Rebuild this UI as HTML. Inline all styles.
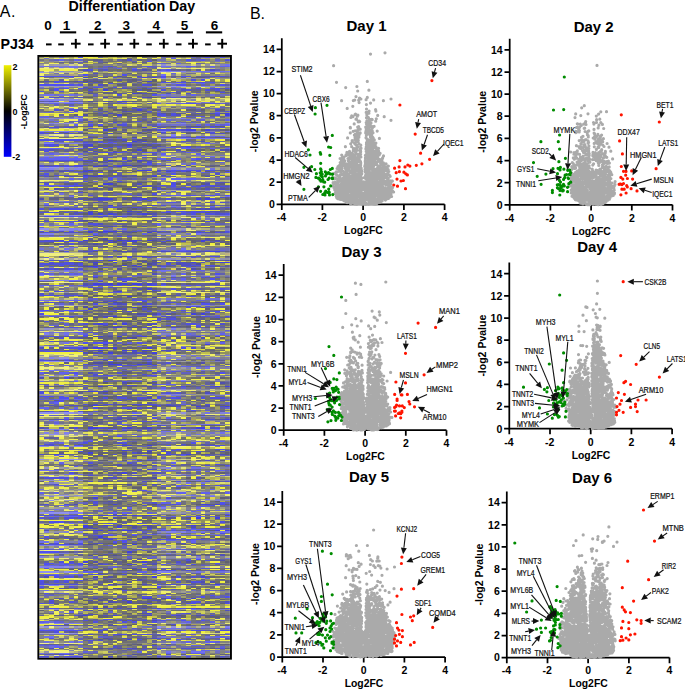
<!DOCTYPE html><html><head><meta charset="utf-8"><style>html,body{margin:0;padding:0;background:#fff;}svg{display:block;}text{font-family:"Liberation Sans",sans-serif;}</style></head><body>
<svg width="685" height="690" viewBox="0 0 685 690">
<rect width="685" height="690" fill="#fff"/>
<text x="-0.2" y="16.9" font-size="16" letter-spacing="0.6" fill="#000">A.</text>
<text x="68.5" y="11.1" font-size="14.25" font-weight="bold" fill="#000">Differentiation Day</text>
<text x="47.9" y="29.8" font-size="13.5" font-weight="bold" text-anchor="middle">0</text>
<text x="66.6" y="29.8" font-size="13.5" font-weight="bold" text-anchor="middle">1</text>
<text x="97.8" y="29.8" font-size="13.5" font-weight="bold" text-anchor="middle">2</text>
<text x="126.2" y="29.8" font-size="13.5" font-weight="bold" text-anchor="middle">3</text>
<text x="156.2" y="29.8" font-size="13.5" font-weight="bold" text-anchor="middle">4</text>
<text x="184.4" y="29.8" font-size="13.5" font-weight="bold" text-anchor="middle">5</text>
<text x="214.4" y="29.8" font-size="13.5" font-weight="bold" text-anchor="middle">6</text>
<rect x="59.9" y="31.3" width="16.3" height="2.1" fill="#000"/>
<rect x="89.1" y="31.3" width="16.3" height="2.1" fill="#000"/>
<rect x="118.3" y="31.3" width="16.3" height="2.1" fill="#000"/>
<rect x="147.5" y="31.3" width="16.3" height="2.1" fill="#000"/>
<rect x="176.7" y="31.3" width="16.3" height="2.1" fill="#000"/>
<rect x="205.9" y="31.3" width="16.3" height="2.1" fill="#000"/>
<text x="0.6" y="49.1" font-size="14.2" font-weight="bold">PJ34</text>
<rect x="46" y="43.4" width="5.6" height="2" fill="#000"/>
<rect x="58.2" y="43.4" width="5.6" height="2" fill="#000"/>
<rect x="71" y="42.7" width="9.6" height="2" fill="#000"/>
<rect x="74.8" y="38.9" width="2" height="9.6" fill="#000"/>
<rect x="88" y="43.4" width="5.6" height="2" fill="#000"/>
<rect x="100.3" y="42.7" width="9.6" height="2" fill="#000"/>
<rect x="104.1" y="38.9" width="2" height="9.6" fill="#000"/>
<rect x="117.3" y="43.4" width="5.6" height="2" fill="#000"/>
<rect x="129.5" y="42.7" width="9.6" height="2" fill="#000"/>
<rect x="133.3" y="38.9" width="2" height="9.6" fill="#000"/>
<rect x="146.2" y="43.4" width="5.6" height="2" fill="#000"/>
<rect x="159" y="42.7" width="9.6" height="2" fill="#000"/>
<rect x="162.8" y="38.9" width="2" height="9.6" fill="#000"/>
<rect x="175.9" y="43.4" width="5.6" height="2" fill="#000"/>
<rect x="188.2" y="42.7" width="9.6" height="2" fill="#000"/>
<rect x="192" y="38.9" width="2" height="9.6" fill="#000"/>
<rect x="205.1" y="43.4" width="5.6" height="2" fill="#000"/>
<rect x="217.4" y="42.7" width="9.6" height="2" fill="#000"/>
<rect x="221.2" y="38.9" width="2" height="9.6" fill="#000"/>
<defs><linearGradient id="cb" x1="0" y1="0" x2="0" y2="1"><stop offset="0" stop-color="#f0f000"/><stop offset="0.5" stop-color="#000"/><stop offset="1" stop-color="#0000ff"/></linearGradient></defs>
<rect x="3.8" y="65.2" width="7.6" height="91.6" fill="url(#cb)"/>
<text x="12.4" y="70.4" font-size="9" font-weight="bold">2</text>
<text x="12.4" y="115.1" font-size="9" font-weight="bold">0</text>
<text x="12.2" y="159.7" font-size="9" font-weight="bold">-2</text>
<text transform="translate(26.9,111.8) rotate(-90)" font-size="8.6" font-weight="bold" text-anchor="middle">-Log2FC</text>
<defs><filter id="hb" x="0" y="0" width="1" height="1"><feGaussianBlur stdDeviation="0.55"/></filter><clipPath id="hc"><rect x="39.3" y="56.9" width="190.6" height="600.8"/></clipPath></defs>
<g clip-path="url(#hc)"><g filter="url(#hb)"><g transform="translate(39.3,57.5) scale(4.8872,1.2517)" fill="none" stroke-width="1" shape-rendering="crispEdges">
<path stroke="#909070" d="M0 0h1M3 0h1M5 0h1M1 2h1M35 2h1M23 3h1M1 4h1M28 4h1M37 5h2M15 11h1M17 12h1M7 18h1M26 18h1M2 20h1M18 23h1M19 30h2M33 31h1M10 33h1M16 33h1M12 34h1M9 36h1M17 36h1M2 38h1M0 40h1M8 40h1M29 40h1M21 44h1M35 44h1M38 44h1M36 47h1M27 48h1M38 48h1M4 51h1M29 51h1M37 52h1M16 53h1M21 53h1M12 57h1M16 57h1M21 57h1M12 59h1M19 59h1M15 62h1M11 65h1M12 69h1M33 73h1M37 73h1M32 76h1M34 76h1M30 77h1M10 78h1M14 79h1M17 79h1M20 79h1M6 80h1M28 80h2M30 81h1M6 83h1M8 84h1M14 84h1M30 84h1M12 85h1M13 88h1M10 89h1M12 89h1M19 92h1M2 93h1M5 93h1M15 97h1M17 98h1M20 98h2M28 102h1M11 106h1M17 106h1M21 109h1M32 109h1M35 109h1M19 111h1M14 115h1M17 115h2M31 116h1M12 117h1M20 117h1M9 119h1M0 120h1M24 120h1M30 120h2M12 126h1M19 126h1M1 132h1M32 133h1M18 134h1M35 134h1M37 134h1M29 142h1M13 143h1M19 143h1M15 144h1M38 144h1M9 150h1M20 150h1M14 152h2M17 152h1M18 153h1M21 153h2M32 153h1M15 157h1M19 157h1M11 158h1M15 158h1M25 160h1M35 160h1M5 163h1M28 163h1M13 171h1M21 171h1M13 172h2M38 173h1M13 174h1M4 176h1M26 177h1M32 177h1M37 177h1M9 178h1M13 178h1M15 178h1M15 180h1M23 184h1M37 184h1M6 185h1M26 186h1M33 186h1M35 186h2M19 188h1M3 191h1M4 195h2M27 195h1M27 197h1M15 198h1M30 202h1M1 203h1M6 204h1M18 206h1M25 212h1M28 212h1M23 218h1M37 218h1M10 219h1M12 219h1M26 225h1M31 225h1M33 225h1M36 225h1M23 228h1M27 230h1M9 231h1M12 237h1M22 237h1M10 239h1M26 245h1M33 246h1M37 247h1M14 248h2M19 249h1M13 250h1M5 251h1M28 252h1M31 252h1M28 253h1M31 254h1M27 257h1M38 257h1M17 258h1M21 258h1M5 261h1M7 261h1M31 261h1M32 262h1M33 264h1M37 264h1M12 265h1M14 265h2M10 269h1M13 270h1M5 271h1M27 271h1M29 272h1M36 276h1M2 277h1M8 277h1M6 280h1M31 280h1M2 281h1M36 281h1M33 282h1M12 287h1M3 288h1M28 288h1M32 288h1M36 288h1M16 290h1M18 290h1M20 290h1M24 292h1M10 299h1M23 299h1M21 301h1M14 302h1M21 303h2M15 306h1M22 307h1M33 308h1M19 311h1M26 313h1M31 318h1M36 318h1M0 319h1M29 320h1M37 324h1M6 325h1M28 325h1M17 328h2M6 329h1M12 330h1M30 331h1M11 333h1M0 337h1M26 337h1M30 343h1M35 343h1M3 344h1M10 345h1M22 346h1M10 347h1M14 347h1M22 350h1M18 353h1M12 354h1M30 356h1M34 356h1M36 359h1M21 360h1M15 361h1M20 361h1M20 362h1M32 363h1M4 365h1M27 365h2M4 369h1M29 371h1M1 376h1M14 379h1M16 379h1M7 380h2M27 382h1M22 386h1M11 387h1M23 387h1M11 390h1M20 390h1M24 393h1M20 394h1M23 394h1M10 396h1M19 399h2M9 400h1M17 400h1M27 404h1M25 406h1M9 407h1M5 412h1M22 416h1M28 420h1M9 422h1M20 422h1M12 426h1M0 429h1M24 429h1M27 430h1M32 430h1M3 431h1M37 438h1M11 441h1M14 441h2M22 441h1M6 445h1M31 445h1M34 445h1M12 449h1M17 452h2M14 455h1M15 456h1M17 456h1M28 461h1M0 466h1M25 470h1M29 470h1M36 471h1M0 473h1M8 473h1M11 474h4M23 474h1M34 476h1M37 476h1M11 478h1M14 478h1M19 478h1"/>
<path stroke="#d0d050" d="M1 0h1M22 4h1M32 4h1M11 16h1M14 16h1M27 18h1M32 19h1M16 24h1M1 26h1M18 27h1M21 27h1M0 28h1M3 28h1M12 29h1M31 29h1M17 30h1M16 38h2M25 38h1M36 40h1M16 41h1M5 45h1M10 48h1M23 51h1M12 56h1M23 56h1M1 58h1M5 58h1M7 58h1M26 60h1M28 60h1M36 60h1M8 64h1M27 66h1M29 66h1M34 70h1M10 72h1M18 73h1M29 74h1M36 74h1M12 77h1M15 81h1M28 82h1M23 90h1M19 93h1M35 93h1M36 94h1M0 101h1M12 101h1M38 101h1M7 104h1M2 105h1M13 107h1M9 115h1M36 116h1M0 122h1M14 122h1M33 122h1M12 123h1M9 129h1M7 130h1M34 130h1M14 131h1M21 131h1M3 135h1M37 135h1M6 136h1M9 142h1M24 142h1M26 142h1M12 144h1M19 145h1M36 145h1M6 148h2M21 148h1M16 151h1M17 154h1M0 155h1M12 160h1M17 160h1M2 163h1M29 163h1M38 165h1M8 176h1M10 185h1M17 185h1M13 186h1M22 186h1M20 187h1M25 187h1M31 187h1M2 192h1M37 192h1M10 196h1M13 199h1M19 199h1M38 209h1M23 212h1M37 212h1M5 215h1M24 215h1M13 220h1M22 224h1M8 226h1M20 227h1M24 227h1M30 232h1M34 232h1M32 233h1M16 234h1M18 235h1M32 235h1M25 236h1M3 244h1M13 247h1M6 251h1M23 251h1M19 253h1M3 260h1M27 260h1M16 261h1M19 261h1M21 261h1M14 263h1M24 267h1M27 267h1M24 274h1M15 275h1M22 275h1M33 277h1M30 278h1M13 279h1M16 279h1M35 279h1M11 281h1M17 282h1M24 286h1M12 288h1M32 289h1M17 292h1M4 294h1M13 294h1M34 296h1M21 298h1M38 298h1M11 304h1M15 304h2M33 304h1M1 305h1M31 305h1M20 309h1M17 312h1M10 313h1M15 313h1M23 315h1M7 316h1M20 320h1M27 322h1M31 322h1M36 322h1M20 324h1M24 326h1M31 326h1M36 329h1M19 331h1M23 331h1M11 332h1M3 339h1M14 342h1M10 343h1M10 344h1M31 344h1M18 346h1M6 352h1M8 352h1M33 352h1M24 355h1M14 367h1M14 368h1M13 369h1M15 369h1M17 370h1M31 373h1M3 375h1M15 383h1M27 389h1M23 395h1M17 398h1M31 401h1M6 402h1M32 403h1M20 405h1M30 405h1M15 406h1M15 409h1M33 412h2M21 414h2M36 414h2M12 415h1M16 415h1M30 417h1M11 419h1M13 420h1M35 420h1M19 423h1M34 424h1M9 425h1M35 425h1M9 426h1M17 429h1M18 430h1M32 432h1M4 434h1M27 434h1M30 434h1M35 434h1M19 437h1M31 437h2M35 437h1M14 438h2M0 439h1M15 443h1M20 443h1M22 443h1M27 444h1M33 444h1M36 444h1M5 447h1M30 448h1M20 451h1M10 453h1M0 454h1M11 456h1M22 456h1M4 459h1M17 459h1M19 459h1M34 459h1M1 462h1M22 462h1M27 462h1M37 462h1M30 466h1M35 466h1M20 471h1M11 477h1"/>
<path stroke="#808070" d="M2 0h1M28 0h1M36 0h1M31 1h1M36 1h1M19 2h1M29 2h1M37 2h1M13 3h1M18 3h1M3 4h1M5 4h1M27 4h1M11 5h1M15 5h1M30 5h1M11 7h1M9 8h1M11 8h1M16 8h2M37 10h1M12 13h1M17 13h1M18 14h1M20 14h1M22 14h1M5 16h1M25 18h1M5 20h1M36 20h1M11 21h1M21 21h1M24 22h1M31 22h1M22 24h1M25 25h1M33 25h1M7 26h1M1 28h1M4 28h1M2 29h1M25 29h1M15 31h1M20 34h1M29 35h1M1 38h1M4 38h1M7 38h2M11 39h1M15 39h1M21 39h2M1 40h1M10 41h1M5 43h1M30 43h1M35 43h1M11 44h1M13 44h1M16 44h1M18 44h1M20 44h1M9 47h1M11 47h1M16 48h1M33 48h1M22 50h1M1 51h1M24 51h1M26 51h1M28 51h1M11 52h1M20 52h1M22 53h1M0 55h1M29 55h1M20 57h1M12 63h1M19 63h1M0 64h1M28 67h1M22 68h1M0 70h1M22 72h1M17 73h1M21 73h1M8 75h1M38 76h1M9 77h1M17 77h1M35 77h1M12 78h1M10 80h1M33 80h1M21 81h1M0 83h1M3 83h1M8 83h1M19 84h1M34 84h2M16 85h1M31 92h1M8 93h1M25 93h1M2 94h1M20 96h1M9 98h1M12 98h1M16 98h1M10 99h1M18 99h1M1 103h1M3 103h1M33 104h1M2 108h1M32 108h1M12 109h1M22 109h1M0 112h1M24 112h1M17 114h1M12 119h1M21 119h1M2 120h1M26 120h1M36 120h1M37 122h1M35 127h1M38 127h1M38 129h1M34 132h1M15 134h1M21 134h1M32 136h1M37 136h1M18 138h1M21 138h1M9 141h2M19 141h2M22 141h1M31 142h1M22 144h1M2 151h1M25 151h1M35 151h1M19 152h1M20 153h1M14 154h1M11 160h1M32 160h3M36 160h1M25 162h1M17 170h2M21 170h1M10 171h1M20 171h1M9 172h1M12 172h1M17 172h1M31 173h1M10 175h1M37 176h1M11 177h1M38 177h1M28 182h1M12 183h1M17 184h1M20 184h1M1 185h1M5 185h1M7 185h1M36 185h1M20 186h1M8 189h1M6 191h1M18 193h1M7 195h1M30 195h1M33 195h1M24 197h1M31 197h2M3 199h1M33 202h2M24 203h1M28 203h1M20 204h1M25 204h1M9 206h1M1 207h1M4 210h1M8 210h1M29 210h1M1 212h2M31 212h1M34 212h1M7 213h1M25 213h1M12 214h1M35 214h1M14 218h6M21 218h1M9 219h1M13 219h1M21 220h1M21 221h1M15 222h1M35 222h1M37 222h1M15 225h1M13 231h1M15 231h1M24 235h1M9 237h1M16 237h1M13 238h1M13 239h1M21 239h1M18 241h1M7 245h1M34 245h1M22 246h1M10 247h1M11 249h1M16 249h1M15 250h1M4 251h1M26 251h1M29 251h1M34 251h1M38 251h1M34 252h1M9 255h1M16 255h1M20 255h1M21 257h1M31 259h1M33 259h1M28 261h1M13 262h1M30 262h1M35 262h1M12 264h1M29 267h1M4 268h1M18 269h1M12 270h1M30 271h1M3 272h1M30 272h1M31 273h1M35 273h2M5 275h1M8 275h1M28 275h1M23 276h1M37 276h1M1 277h1M5 277h2M28 281h1M26 282h1M35 282h1M3 283h1M28 286h1M9 287h1M11 287h1M18 287h1M11 291h1M31 291h1M13 292h1M28 292h1M31 292h1M16 295h1M33 295h1M35 295h1M38 295h1M9 297h1M11 297h2M30 298h1M35 298h1M12 299h1M17 299h1M11 300h1M26 304h1M3 305h1M8 305h1M24 305h2M28 305h1M35 305h1M11 306h1M18 306h1M14 307h1M20 307h2M20 308h1M24 308h1M35 308h1M37 308h1M25 310h1M38 310h1M25 312h1M33 312h1M3 313h2M31 313h1M2 315h1M28 315h1M31 315h1M25 319h1M32 320h1M38 320h1M30 324h1M7 325h1M32 325h1M12 327h1M30 327h1M37 327h1M13 330h1M18 331h1M5 332h1M12 333h1M23 333h1M17 334h1M31 334h1M14 337h2M27 342h1M32 342h1M34 343h1M38 343h1M7 344h1M13 345h1M12 347h1M10 348h1M13 348h1M5 355h1M17 356h2M18 358h1M20 359h1M31 359h1M9 360h1M20 360h1M13 361h1M10 362h1M22 362h1M0 365h1M24 365h1M26 365h1M36 365h1M10 367h1M16 367h1M20 367h1M34 367h1M37 367h1M1 369h1M35 370h1M22 372h1M25 375h1M28 376h1M9 377h1M11 377h1M13 377h1M15 377h1M12 379h1M19 379h1M25 380h1M38 380h1M12 381h1M4 382h1M21 382h1M10 386h1M12 386h1M9 387h1M18 387h1M20 387h1M10 392h1M26 395h1M13 396h1M15 396h1M13 400h1M6 401h1M34 401h1M0 402h1M2 402h1M5 402h1M37 404h1M6 405h1M26 405h1M21 406h1M23 406h1M28 406h1M38 406h1M29 408h1M32 408h1M7 410h1M28 410h1M37 412h1M38 413h1M25 414h2M30 414h1M12 416h1M14 416h2M18 416h1M29 417h1M34 418h2M5 420h1M27 420h1M38 420h1M10 422h1M8 423h1M26 423h2M33 423h1M9 427h2M7 428h1M3 429h2M6 429h1M28 429h1M37 429h1M36 430h1M6 431h1M0 435h1M6 436h1M25 436h1M29 437h1M16 438h1M35 438h1M16 441h1M11 443h1M16 443h1M19 443h1M38 444h1M16 445h2M20 445h1M30 445h1M36 445h1M38 445h1M4 448h1M6 450h1M13 451h1M37 451h1M19 452h1M22 457h1M13 466h1M28 466h1M9 467h1M11 470h1M19 470h1M9 471h2M18 471h1M38 471h1M13 473h1M15 473h1M31 473h1M9 474h1M15 474h1M21 474h1M18 475h1M19 476h1"/>
<path stroke="#6060c0" d="M4 0h1M25 0h1M31 0h1M3 2h1M32 2h1M36 2h1M8 4h1M9 7h1M21 7h1M13 8h1M34 20h1M20 24h1M27 25h1M11 30h1M16 37h1M36 37h1M3 38h1M14 39h1M37 40h1M21 41h1M12 44h1M30 44h1M21 49h1M32 50h1M29 52h1M27 56h1M14 69h1M17 69h1M21 69h1M16 72h1M10 76h1M17 76h1M9 78h1M19 78h1M27 80h1M35 81h1M34 92h1M16 96h1M16 97h1M5 100h1M27 104h1M26 108h1M16 109h1M35 120h1M29 124h1M4 127h1M30 133h1M36 133h1M12 152h1M22 168h1M15 171h1M5 173h1M14 175h1M2 176h1M2 182h1M38 185h1M11 188h1M10 193h1M22 193h1M16 194h1M37 202h1M4 203h1M27 204h1M29 204h1M36 204h1M20 206h1M23 206h1M5 210h1M8 213h1M36 214h1M32 218h1M13 237h1M18 237h1M21 241h1M1 245h1M28 245h1M10 246h1M9 247h1M22 247h1M17 250h1M19 250h1M6 252h1M29 252h2M15 254h1M38 254h1M10 255h1M12 255h1M18 259h1M3 261h1M30 261h1M35 261h1M27 264h1M32 264h1M3 267h1M22 269h1M8 271h1M1 272h1M2 275h1M38 276h1M30 277h1M33 280h1M7 281h1M2 286h2M14 291h1M17 291h1M20 297h1M13 299h1M13 301h1M9 307h1M3 308h1M26 308h1M21 311h1M6 313h1M34 318h1M37 318h2M3 322h1M8 326h1M38 327h1M38 330h1M30 334h1M38 334h1M25 342h1M26 343h1M19 347h1M9 356h1M24 358h1M38 358h1M24 359h1M16 360h1M12 363h1M8 371h1M17 377h1M21 379h1M9 381h1M13 381h1M31 382h1M38 382h1M17 391h1M0 393h1M2 393h1M21 394h1M11 399h1M11 400h1M24 401h1M28 404h1M29 405h1M4 406h1M33 406h2M11 407h1M25 408h1M38 408h1M25 410h1M11 416h1M27 417h1M26 418h2M37 426h1M5 428h1M27 433h1M5 444h1M37 450h1M10 457h1M24 458h1M7 461h1M27 461h1M31 461h1M13 463h1M8 464h1M29 465h1M12 470h1M11 475h1"/>
<path stroke="#909060" d="M6 0h1M13 0h1M30 0h1M19 1h1M22 1h1M35 4h1M19 5h1M11 10h1M31 10h1M3 16h2M36 16h1M30 18h1M32 18h1M13 19h1M19 20h1M15 22h1M34 25h1M12 26h1M15 26h2M18 26h1M26 26h1M1 27h2M9 27h1M11 27h1M17 27h1M38 27h1M17 28h1M33 28h1M36 28h1M12 31h1M17 31h1M19 31h1M11 32h1M17 32h1M12 35h1M35 35h1M37 35h1M21 38h1M13 40h1M20 40h1M32 40h1M11 42h1M13 42h1M34 42h1M38 42h1M16 43h1M9 45h1M13 45h1M16 45h1M10 47h1M12 47h1M20 47h1M12 48h1M14 48h1M20 48h1M14 50h1M16 50h1M9 51h1M13 54h1M15 54h1M15 55h1M19 55h1M28 56h1M38 56h1M20 58h1M32 58h1M6 60h1M9 60h1M19 60h1M22 61h1M6 64h1M18 64h1M24 64h1M9 66h1M38 67h1M4 70h1M28 70h1M35 70h1M0 71h1M15 74h1M14 75h1M18 75h1M18 80h1M18 81h1M17 82h1M23 82h1M30 82h1M33 82h1M19 83h1M24 83h1M32 83h1M34 83h1M15 84h2M18 84h1M6 86h1M14 86h1M10 87h1M22 87h1M25 87h1M13 90h1M33 90h1M20 91h1M25 91h1M13 93h1M21 93h1M26 94h1M31 94h1M24 95h1M9 100h1M12 100h1M30 100h1M3 101h1M16 101h1M32 101h1M13 102h1M20 102h1M0 103h1M5 104h1M36 104h1M6 107h1M15 107h1M18 107h1M25 107h1M37 107h1M19 108h1M31 108h1M16 110h2M28 112h1M4 113h1M34 118h1M9 121h1M21 124h1M33 125h1M37 127h1M20 130h1M30 130h1M18 132h1M9 135h1M8 136h1M11 136h1M24 136h1M26 136h1M36 136h1M5 139h1M23 140h1M32 142h1M5 145h2M20 147h1M34 147h1M26 148h1M28 148h2M32 148h1M31 149h1M33 149h1M28 151h2M36 151h1M13 155h1M37 159h1M19 160h1M26 162h1M18 163h1M13 164h1M19 165h1M24 165h1M37 165h1M20 166h1M37 166h1M1 167h1M14 167h1M28 167h1M10 169h2M17 169h1M10 173h1M14 173h1M23 176h1M25 176h1M15 177h1M22 177h1M21 179h2M4 181h1M7 181h1M13 185h1M18 185h1M12 186h1M19 187h1M29 187h1M1 189h1M11 189h1M15 189h1M19 189h1M35 189h1M23 190h1M29 190h1M22 191h1M26 191h1M33 191h1M4 192h1M21 192h1M16 195h1M22 195h1M22 196h1M8 199h1M35 199h1M0 200h1M12 200h1M28 200h2M19 201h1M31 201h1M10 202h1M12 204h1M21 204h1M10 205h1M37 205h1M23 207h1M9 208h1M7 209h1M21 209h1M29 209h2M19 210h1M31 210h1M27 211h1M29 211h1M33 211h1M13 212h1M15 212h1M16 213h1M19 213h1M1 215h1M6 215h1M11 215h1M11 216h1M12 222h1M22 222h1M35 223h1M20 224h1M38 224h1M10 225h1M20 225h1M16 226h1M31 226h1M12 227h1M21 227h1M16 229h1M20 229h1M32 229h1M38 229h1M12 230h1M20 230h1M25 232h1M27 232h1M6 233h1M9 233h1M26 233h1M14 234h1M33 234h1M11 235h1M25 235h1M28 235h1M36 235h1M32 236h1M37 236h2M11 242h2M18 242h1M34 242h1M7 244h1M34 244h1M21 247h1M13 251h1M16 251h1M32 251h1M22 252h1M16 253h1M15 256h1M19 256h1M29 256h1M10 257h1M29 260h1M15 261h1M10 262h1M24 263h1M27 263h1M17 264h1M36 267h1M2 268h1M9 268h2M20 271h2M23 271h1M32 272h1M14 273h1M22 273h1M2 274h1M25 274h1M30 275h1M32 275h1M14 278h1M5 279h1M36 279h1M13 281h1M23 281h1M14 283h1M20 283h1M27 283h1M32 283h1M36 283h1M36 286h1M11 288h1M17 289h1M20 289h1M10 292h1M18 295h1M37 296h1M31 298h1M6 304h1M18 304h1M20 304h1M23 304h1M34 304h1M21 305h1M30 305h1M21 308h1M32 309h1M37 309h1M24 310h1M14 312h1M21 312h1M32 313h1M1 314h1M30 314h1M3 315h1M7 315h1M18 315h1M1 316h1M15 319h1M18 320h2M15 322h1M19 322h1M16 324h1M21 324h1M35 326h1M8 329h1M28 329h1M37 329h1M18 330h1M8 332h1M20 332h1M31 332h1M33 332h1M13 334h1M21 334h1M6 336h1M11 336h1M29 336h1M37 336h1M8 339h1M26 341h1M37 341h1M9 342h1M17 342h1M20 342h1M18 343h1M6 344h1M18 344h1M34 344h1M9 348h1M8 355h1M26 355h2M30 355h1M2 357h1M12 357h1M17 357h1M20 358h1M21 359h1M17 363h1M19 363h1M22 363h2M12 365h1M28 366h1M37 366h1M12 367h1M38 368h1M32 369h1M37 369h1M15 370h1M23 370h2M32 370h2M26 371h1M28 371h1M33 371h1M35 371h1M7 373h1M24 373h1M38 373h1M33 375h1M2 378h1M10 380h1M12 380h1M16 380h1M20 380h1M31 380h1M22 382h1M0 383h1M20 383h1M32 383h1M37 383h1M18 384h1M25 384h1M32 384h1M38 384h1M7 385h1M21 385h1M35 388h1M20 389h1M24 389h1M14 393h1M17 393h1M22 393h1M16 395h1M32 395h1M35 395h1M3 397h1M6 397h1M9 397h1M28 397h2M2 398h1M6 398h1M19 398h1M33 398h1M11 401h1M3 402h1M7 402h1M11 402h1M13 402h1M16 402h1M32 402h1M25 403h1M31 404h2M35 405h1M24 408h1M9 409h1M16 409h2M10 410h1M21 410h1M21 412h1M23 412h1M14 413h1M17 414h1M31 414h1M9 415h1M23 417h1M34 417h1M12 418h1M18 418h1M31 418h1M17 419h1M26 419h1M23 420h1M10 421h1M38 423h1M36 424h2M11 425h1M29 425h1M23 428h1M37 428h1M13 429h1M19 429h1M13 430h1M23 431h1M37 432h1M6 433h1M21 433h1M33 433h1M1 434h1M21 434h1M32 434h1M4 436h1M9 436h1M14 436h2M8 437h1M13 437h1M17 437h1M22 437h1M25 437h1M37 437h1M10 439h1M18 439h1M1 442h1M5 442h1M24 444h1M31 444h1M34 444h1M12 445h1M23 445h1M23 446h1M9 447h1M20 447h1M7 448h1M17 448h1M21 448h1M30 450h1M13 453h1M24 453h1M37 453h1M18 456h1M10 458h1M30 458h1M21 459h1M24 459h1M28 459h1M14 461h1M0 462h1M6 462h1M20 462h1M7 464h1M11 464h1M10 465h1M18 466h2M8 469h1M16 469h1M28 469h2M17 471h1M28 472h1M17 473h1M22 473h1M10 477h1M16 477h1M34 477h1M36 477h1M17 479h1"/>
<path stroke="#c0c060" d="M7 0h1M35 1h1M38 1h1M27 2h1M25 4h1M9 5h1M37 13h1M0 18h1M28 18h1M34 24h1M30 25h1M7 28h1M29 28h1M28 38h1M36 38h1M12 39h1M16 39h1M18 39h1M4 40h1M25 40h2M2 42h1M9 44h1M34 47h1M13 49h1M35 50h1M27 51h1M19 53h1M18 59h1M9 63h1M20 65h1M32 68h1M22 77h1M33 77h1M21 79h1M14 81h1M17 89h1M11 98h1M15 98h1M0 104h1M13 111h1M35 114h2M23 115h1M33 116h1M17 117h1M28 127h1M33 129h1M30 132h1M2 136h1M8 142h1M20 144h1M18 150h1M22 157h1M16 158h1M8 160h1M27 160h1M14 170h1M18 172h2M21 172h1M35 175h1M4 177h1M32 184h1M22 188h1M4 191h1M1 210h1M0 212h1M30 212h1M1 214h1M24 214h1M21 217h1M15 219h1M19 219h1M38 220h1M4 225h1M3 245h1M22 249h1M32 253h1M34 253h1M15 255h1M1 257h1M7 257h1M22 259h1M33 273h1M38 275h1M4 277h1M26 280h1M29 280h1M32 281h1M0 288h1M34 292h2M30 295h2M19 299h1M13 300h1M17 300h2M22 300h1M10 301h1M14 301h1M27 304h1M4 305h1M26 305h1M23 311h1M31 312h1M35 312h1M0 315h1M32 318h1M28 319h1M38 319h1M0 320h1M24 320h1M36 324h1M0 325h1M5 329h1M24 329h1M9 330h1M14 331h1M16 331h1M22 331h1M6 337h1M9 340h1M22 340h1M24 342h1M32 343h1M36 343h1M19 345h1M21 345h1M14 349h1M16 353h1M23 353h1M33 356h1M26 359h1M11 361h1M0 369h1M38 370h1M25 371h1M20 379h1M2 380h1M32 391h1M37 391h1M22 396h1M7 401h1M4 410h1M4 412h1M33 413h1M34 414h1M28 423h1M16 426h1M36 429h1M21 430h1M5 431h1M5 436h1M2 437h1M11 438h1M22 438h2M12 443h1M32 443h1M27 448h1M32 448h1M22 449h1M1 450h1M36 451h1M20 452h1M11 463h1M1 464h1M5 465h1M25 465h1M3 466h1M6 466h1M12 467h1M36 473h1M12 475h1M13 476h1"/>
<path stroke="#5050e0" d="M8 0h1M34 0h1M37 0h1M38 2h1M14 7h1M10 10h1M19 10h1M0 15h1M30 15h1M36 15h2M15 16h1M31 18h1M33 18h1M3 19h3M8 19h1M26 20h1M32 20h2M21 22h2M15 24h1M22 25h1M32 25h1M35 25h2M38 25h1M25 26h1M34 26h1M36 26h1M0 27h1M4 27h1M37 28h1M16 30h1M2 32h1M4 32h1M25 32h1M27 32h1M16 35h1M17 37h1M12 41h1M19 41h1M3 42h1M7 43h1M22 43h1M38 43h1M24 45h1M27 45h1M36 45h1M24 46h2M27 46h1M10 51h1M20 51h1M17 54h1M2 56h1M5 56h2M31 56h2M35 56h1M37 56h1M10 57h1M24 58h5M0 60h1M5 60h1M25 60h1M35 60h1M0 61h2M3 61h1M6 61h1M26 64h2M29 64h2M32 64h1M34 64h1M0 66h9M29 67h1M9 68h1M1 70h3M2 71h1M16 71h1M14 72h1M18 72h1M1 74h1M1 75h1M13 76h1M14 80h1M21 80h1M17 81h1M0 82h1M2 82h7M10 82h1M26 82h1M17 83h1M0 86h1M3 86h1M5 86h1M7 86h2M26 86h1M0 87h9M6 90h1M26 90h5M32 90h1M34 90h2M38 90h1M0 91h1M5 91h1M27 91h1M29 91h1M0 94h1M3 94h1M5 94h1M27 100h1M36 100h1M1 101h1M27 101h1M31 103h3M36 103h2M24 105h1M30 105h1M27 107h1M23 109h1M10 110h1M26 113h1M20 114h1M26 116h1M1 118h1M25 118h1M36 118h1M14 120h2M19 120h1M22 120h1M38 120h1M0 121h1M2 121h3M6 121h3M26 123h1M28 123h2M31 123h1M33 123h2M0 124h4M5 124h1M8 124h1M25 124h2M30 124h4M29 125h1M31 125h1M34 125h2M38 125h1M17 127h1M1 131h1M3 131h2M6 131h2M29 131h3M34 131h2M10 133h2M0 139h1M2 139h1M6 139h1M25 139h1M38 139h1M1 140h1M13 140h1M28 140h1M32 140h2M36 140h1M38 140h1M2 146h1M6 146h1M26 146h1M0 147h9M25 147h1M6 149h1M15 154h1M5 155h1M24 155h1M28 155h3M18 159h1M28 159h1M30 159h1M32 159h1M35 159h2M18 160h1M22 160h1M31 160h1M4 162h1M8 162h1M28 162h1M36 162h1M2 164h1M5 164h1M0 165h2M3 165h4M8 165h1M26 165h1M8 166h1M27 166h1M31 166h2M34 166h2M0 167h1M2 167h1M6 167h1M25 167h1M30 167h1M2 169h1M5 169h2M8 169h1M23 170h1M33 176h1M36 176h1M17 177h2M6 179h1M10 182h2M14 182h1M16 182h1M20 182h1M22 182h2M14 184h1M19 184h1M27 185h1M30 185h1M37 185h1M23 186h1M3 187h2M0 190h3M4 190h5M31 191h1M0 196h1M2 196h1M26 196h2M11 197h1M15 197h1M22 197h1M30 199h2M34 199h1M9 202h1M14 203h1M18 203h1M22 203h1M0 205h1M24 205h1M4 207h3M33 207h2M38 207h1M36 208h1M27 209h1M1 211h1M13 213h1M30 213h2M32 215h1M6 216h2M24 216h1M10 220h1M1 223h3M2 227h1M6 227h2M6 232h3M29 232h1M8 233h1M0 234h1M0 242h2M5 242h1M26 244h1M9 245h1M17 246h1M13 254h1M5 256h1M13 259h1M17 259h1M19 259h2M23 259h1M9 262h1M18 262h1M29 263h1M0 267h1M2 267h1M0 268h1M26 268h1M28 268h1M24 271h1M13 272h1M16 272h2M20 272h1M28 272h1M33 272h1M36 272h1M23 273h1M4 274h1M26 274h1M9 277h1M13 277h2M20 277h1M22 277h2M26 277h1M5 278h1M24 278h1M11 280h1M17 280h2M2 283h1M5 283h1M8 283h1M11 283h1M14 286h1M23 288h1M0 289h1M5 289h1M7 289h2M19 291h1M21 291h1M23 291h1M25 294h1M7 296h1M3 298h1M9 308h1M17 308h1M1 309h1M35 310h3M25 313h1M27 314h1M32 315h1M4 317h1M26 317h1M29 317h1M21 318h1M4 319h1M7 319h1M10 324h1M18 324h1M36 325h1M27 326h1M34 326h1M38 326h1M6 332h1M1 336h5M7 336h1M28 339h1M21 342h1M36 342h1M26 352h1M11 356h1M1 357h1M24 357h1M27 357h2M37 357h1M35 358h1M0 366h1M2 366h1M6 366h3M0 368h1M2 368h1M5 368h2M8 368h1M3 371h1M37 371h1M14 372h1M24 374h1M31 376h1M38 376h1M25 378h1M27 378h1M37 380h1M11 382h4M19 382h1M1 383h1M5 384h1M24 385h5M31 385h3M3 388h1M8 388h1M25 388h1M0 389h1M2 389h4M8 389h1M20 393h1M35 393h1M30 397h1M30 401h1M30 402h1M34 402h1M4 403h1M13 405h1M18 405h1M21 405h1M31 405h1M33 408h2M30 410h1M37 410h1M10 413h3M17 413h1M3 415h1M5 415h2M28 415h1M16 418h1M0 419h1M3 419h1M5 419h1M28 419h1M31 419h2M0 420h1M0 421h3M4 421h1M6 421h2M24 421h1M27 421h1M29 421h2M6 423h1M27 425h1M13 428h1M21 431h1M6 432h1M26 432h1M28 432h1M30 433h1M2 434h1M28 434h1M6 435h1M31 435h2M13 436h1M22 436h1M27 436h1M30 436h2M38 436h1M2 440h2M7 440h1M29 440h1M29 444h1M7 446h1M27 446h1M9 450h1M16 450h1M18 450h1M21 450h1M11 451h1M17 451h1M19 451h1M23 451h1M3 454h1M19 456h1M12 458h1M28 458h1M31 458h3M37 458h2M3 459h1M13 461h1M15 461h3M19 461h1M21 461h2M20 465h1M10 466h1M23 470h1M18 472h1M24 472h2M30 472h1M37 472h1M21 473h1M5 477h1M0 479h2M3 479h1M5 479h4M24 479h1M26 479h1M30 479h1"/>
<path stroke="#f0f040" d="M9 0h2M20 0h1M26 19h1M33 19h1M38 19h1M13 27h1M20 27h1M27 27h1M18 29h1M12 32h1M19 32h1M36 32h1M30 35h2M33 35h2M36 35h1M38 35h1M12 38h1M15 38h1M18 38h2M23 38h1M23 40h1M0 45h5M6 45h3M1 46h1M3 46h1M5 46h1M8 46h1M0 58h1M2 58h3M6 58h1M8 58h1M12 58h1M3 60h1M33 60h1M11 61h2M17 61h1M19 61h1M24 61h1M28 61h2M23 64h1M24 66h1M28 66h1M37 66h1M18 67h1M27 70h1M29 70h2M33 70h1M38 70h1M33 75h1M12 82h1M29 86h1M26 87h1M32 87h2M16 91h1M12 93h1M15 93h1M20 93h1M4 95h1M31 95h1M35 95h1M37 95h1M18 101h1M26 101h1M29 101h1M18 102h1M12 104h1M19 104h1M22 104h1M14 107h1M17 107h1M23 107h1M18 108h1M21 112h1M26 112h1M35 112h1M6 118h1M11 122h2M15 122h2M22 122h1M30 122h1M32 122h1M34 122h1M0 130h1M2 130h5M24 130h1M27 130h1M15 131h1M16 132h2M19 132h1M33 135h2M36 135h1M12 136h1M0 145h5M9 145h1M21 145h1M27 145h1M5 146h1M38 146h1M3 148h2M11 148h2M18 148h1M14 149h1M22 149h1M28 149h1M35 149h1M37 149h1M14 151h1M31 151h3M3 155h1M22 155h1M15 163h1M4 179h1M14 179h1M16 179h1M18 179h1M34 179h3M3 181h1M37 181h1M9 185h1M11 187h1M27 187h2M36 187h1M12 189h3M22 189h1M31 189h1M33 190h1M0 192h2M3 192h1M6 192h3M11 192h2M24 192h2M30 192h1M33 192h1M35 192h1M1 200h1M31 200h1M1 201h1M3 201h1M30 201h1M32 201h2M36 201h2M16 202h1M18 202h1M1 205h3M22 207h1M10 208h1M14 208h1M30 208h1M6 209h1M8 209h1M10 209h1M16 209h3M22 209h2M6 211h1M8 211h1M23 211h1M9 212h1M12 212h1M21 212h2M15 214h1M23 214h1M8 215h1M22 215h1M33 215h1M31 216h1M10 223h1M29 223h1M5 224h1M27 224h1M29 224h1M34 224h1M2 226h2M6 226h2M14 226h1M17 226h1M25 226h1M28 226h1M37 226h1M10 227h1M14 227h1M16 227h1M25 227h1M28 227h2M35 227h2M0 229h2M5 229h2M8 229h1M23 229h1M26 229h1M1 232h1M3 232h1M24 232h1M35 232h1M5 233h1M10 233h2M22 233h1M24 233h1M29 233h3M38 233h1M0 236h9M26 236h2M14 242h1M1 244h1M4 244h1M6 244h1M12 251h1M15 251h1M9 256h1M14 256h1M28 256h1M36 256h1M0 260h3M4 260h2M7 260h2M30 260h1M36 260h1M9 261h1M13 261h2M35 267h1M38 267h1M6 268h1M19 268h1M22 268h2M37 268h1M31 274h1M36 274h1M9 275h1M11 275h1M13 275h1M16 275h1M19 275h1M35 278h1M11 279h2M22 279h1M9 282h2M16 282h1M18 282h1M20 282h1M14 292h1M19 292h2M2 294h1M6 294h3M12 294h1M16 294h1M19 294h1M38 294h1M21 304h1M30 304h1M35 304h1M38 304h1M9 312h1M11 313h1M13 313h1M17 313h1M31 314h3M13 315h1M21 315h1M2 316h2M5 316h2M25 316h1M31 316h1M11 317h1M13 317h1M23 317h1M10 319h1M9 320h1M11 322h1M38 322h1M26 332h1M12 336h1M24 336h2M28 336h1M31 336h1M1 339h1M4 339h2M26 339h1M4 341h3M8 341h1M25 341h1M32 341h1M34 341h1M9 344h1M14 344h1M16 344h1M21 344h1M32 344h1M37 344h1M6 355h1M19 355h1M23 355h1M28 355h1M31 355h1M3 357h1M10 365h1M14 365h1M20 365h4M29 366h1M35 366h1M11 368h1M20 368h1M28 368h1M33 368h1M12 369h1M23 369h1M12 371h2M15 371h1M20 371h1M0 373h1M2 373h5M8 373h1M10 373h1M12 373h3M17 373h6M25 373h2M28 373h1M30 373h1M34 373h1M37 373h1M0 374h2M3 374h1M5 374h1M34 375h2M7 378h1M37 378h1M13 380h1M19 380h1M27 383h1M29 383h1M31 383h1M36 383h1M28 384h1M30 384h1M4 388h1M26 389h1M31 389h1M36 389h2M30 398h1M9 401h2M13 401h1M19 401h1M22 401h1M14 402h1M18 402h1M20 402h1M22 402h1M5 403h1M35 403h2M1 409h1M3 409h3M7 409h1M18 409h1M26 409h1M30 409h1M35 409h2M38 409h1M9 412h1M11 412h1M20 412h1M11 414h1M20 414h1M23 414h1M25 415h1M19 417h1M15 419h1M19 419h1M37 419h1M14 420h1M18 420h1M13 421h1M23 421h1M14 423h3M21 423h1M23 423h1M3 424h1M25 424h1M28 424h2M31 424h1M33 424h1M38 424h1M0 425h9M14 428h1M22 428h1M18 433h1M31 433h1M15 434h1M26 434h1M34 434h1M18 437h1M20 437h1M2 439h4M19 439h1M24 439h3M28 439h1M30 439h1M32 439h5M38 439h1M2 442h1M4 442h1M7 442h2M15 442h1M17 442h1M35 442h2M2 446h1M0 447h3M6 447h1M10 447h1M15 447h2M13 448h2M22 448h1M6 453h3M15 453h2M20 453h1M33 453h1M19 454h1M28 454h1M35 454h1M9 459h2M13 459h1M30 459h2M33 459h1M37 459h2M10 462h1M21 462h1M30 462h1M32 462h1M35 462h1M38 462h1M10 469h1M13 469h1M33 469h1M8 472h1M7 477h1M25 477h1M27 477h1M30 477h3"/>
<path stroke="#e0e050" d="M11 0h1M24 0h1M10 1h2M13 1h1M16 1h1M20 3h1M0 4h1M10 5h1M9 13h1M15 14h1M15 20h1M18 21h1M18 22h1M1 32h1M12 37h1M9 38h1M24 38h1M23 39h1M6 43h1M8 43h1M0 46h1M11 48h1M36 48h1M19 50h1M19 54h1M38 55h1M8 56h1M7 64h1M16 81h1M20 92h1M6 93h1M24 94h1M25 101h1M21 104h1M5 107h1M12 107h1M25 108h1M36 108h1M22 111h1M7 112h1M29 112h1M9 117h1M32 120h1M31 122h1M35 122h2M27 127h1M16 129h1M18 129h1M4 132h1M23 132h1M26 132h2M9 144h1M3 151h1M11 153h1M8 163h1M34 173h1M1 176h1M5 176h1M31 176h1M10 177h1M3 179h1M26 187h1M30 189h1M37 189h1M20 195h1M38 197h1M2 199h1M5 201h1M27 202h1M30 203h1M35 204h1M22 206h1M7 215h1M22 218h1M12 225h1M26 226h1M2 229h1M38 230h1M38 234h1M6 245h1M31 253h1M22 261h1M26 263h1M15 264h1M11 271h1M35 271h1M16 281h1M33 281h1M1 286h1M26 286h1M36 292h1M11 295h1M14 295h1M20 295h1M24 298h1M18 299h1M11 312h1M3 314h3M8 314h1M6 315h1M28 316h1M35 320h1M2 322h1M34 324h1M23 325h2M32 326h1M12 331h1M21 343h1M17 345h2M12 348h1M15 349h1M7 352h1M25 355h1M4 357h1M9 358h1M16 365h1M18 365h1M9 367h1M27 369h1M27 373h1M6 375h1M24 375h1M0 378h1M34 383h1M2 397h1M8 401h1M4 402h1M9 404h1M15 404h1M25 404h1M21 408h1M0 409h1M6 410h1M0 412h1M7 412h1M6 417h1M3 423h2M12 423h1M22 423h1M10 426h1M13 426h1M18 427h1M7 429h1M5 432h1M24 432h1M24 437h1M29 439h1M24 448h1M28 453h1M36 453h1M17 463h1M1 465h1M15 466h1M22 474h1"/>
<path stroke="#606090" d="M12 0h1M35 0h1M12 2h1M21 4h1M16 5h1M12 10h1M22 10h1M27 10h2M30 10h1M32 10h1M18 13h1M7 15h1M27 15h1M32 15h1M34 15h1M22 16h1M27 16h1M29 16h1M34 16h1M10 18h1M25 19h1M20 20h1M30 20h1M37 20h1M9 25h1M13 25h1M16 25h1M18 25h1M37 25h1M2 26h1M11 26h1M31 26h2M35 26h1M22 27h1M14 28h1M28 28h1M34 28h1M11 29h1M13 29h1M28 29h1M18 32h1M29 32h1M0 35h1M11 35h1M18 35h1M11 37h1M14 37h2M19 37h1M22 41h1M8 42h2M21 42h1M24 42h1M19 43h1M32 43h2M37 43h1M12 45h1M15 45h1M29 45h1M12 46h1M21 47h1M9 50h1M21 50h1M15 51h2M34 51h1M7 55h1M9 55h1M26 55h1M1 56h1M15 56h1M30 56h1M2 61h1M7 61h1M36 61h1M21 64h1M35 64h1M19 66h1M9 67h1M13 67h2M16 67h1M20 67h1M25 67h1M11 68h1M5 70h1M17 71h1M21 71h1M29 71h1M34 71h2M10 73h1M16 73h1M3 74h1M5 75h1M24 75h1M32 75h1M11 77h1M25 82h1M4 83h1M12 84h1M20 84h1M2 86h1M11 86h1M22 86h1M33 86h1M35 86h1M15 87h1M20 87h1M11 90h1M36 90h1M6 91h1M8 91h1M15 91h1M9 92h1M13 94h1M17 94h2M22 94h1M34 94h1M7 95h1M16 95h1M18 95h1M27 95h1M9 97h1M18 97h1M1 100h1M29 100h1M33 100h1M38 100h1M9 102h1M21 102h1M23 102h1M32 102h1M36 102h1M7 103h1M20 103h1M34 103h1M34 104h1M37 104h1M29 105h1M32 105h1M36 107h1M15 108h1M23 110h1M6 112h1M9 112h1M13 112h1M34 112h1M6 113h2M15 113h1M25 113h1M27 113h1M11 114h1M19 114h1M34 116h1M9 118h1M16 118h1M18 118h1M28 118h2M12 120h1M18 121h1M20 121h1M23 121h2M31 121h1M4 123h1M13 123h3M30 123h1M9 124h1M19 124h1M37 124h1M17 125h1M19 125h1M28 125h1M9 127h1M14 127h1M19 127h1M22 127h1M22 130h1M0 131h1M22 131h1M36 131h1M38 131h1M17 133h1M13 135h1M38 135h1M30 136h2M38 136h1M18 139h1M24 139h1M26 139h1M36 139h1M15 140h1M17 140h1M18 142h1M10 145h1M23 145h1M25 145h1M35 145h1M11 146h1M29 146h1M9 147h1M14 147h1M17 147h1M37 147h1M0 148h1M8 148h2M4 149h2M8 149h3M12 149h2M19 149h1M26 149h1M0 151h1M10 151h1M19 151h1M12 154h1M1 155h1M8 155h1M4 159h1M31 159h1M34 159h1M21 160h1M3 162h1M10 162h2M37 162h1M4 164h1M10 164h1M12 164h1M22 164h1M36 164h1M14 165h1M1 166h1M3 166h1M13 166h1M18 166h1M23 166h1M36 166h1M38 166h1M18 167h1M38 167h1M24 169h1M27 176h1M34 176h1M9 177h1M23 177h1M1 179h1M7 179h2M10 181h1M21 181h1M32 181h1M34 181h1M21 182h1M33 182h1M21 184h1M29 185h1M33 185h1M21 187h1M5 189h2M25 189h1M36 189h1M11 191h1M24 191h1M7 196h1M34 196h1M9 197h1M23 197h1M4 199h1M7 199h1M24 199h1M7 200h1M35 200h1M37 200h1M11 202h1M19 205h1M12 206h1M0 207h1M9 207h1M20 207h1M26 208h1M37 208h2M28 209h1M32 209h1M32 211h1M6 213h1M18 213h1M20 213h1M35 213h1M23 215h1M1 216h2M9 216h1M14 216h1M23 216h1M33 216h1M12 220h1M13 222h1M17 222h1M23 222h1M4 223h1M19 223h1M28 223h1M31 223h1M7 224h1M24 226h1M37 227h1M27 229h1M15 230h1M2 232h1M27 233h2M3 234h1M10 234h1M18 234h1M7 235h1M10 235h1M18 236h1M22 236h1M22 242h1M27 242h1M37 242h1M19 244h1M37 244h1M12 245h1M18 245h1M31 245h1M13 246h3M14 247h1M18 251h1M33 251h1M20 252h1M32 252h1M36 252h1M16 254h1M20 254h2M11 257h1M10 259h1M31 260h1M38 260h1M17 262h1M21 262h1M2 263h1M21 263h1M28 263h1M31 263h2M22 264h1M5 267h1M16 267h1M19 267h2M23 267h1M31 267h1M8 268h1M12 268h1M29 268h1M35 268h1M6 271h1M18 271h1M31 271h1M15 272h1M31 272h1M17 273h1M21 273h1M7 274h1M14 274h1M27 274h1M31 275h1M33 275h2M22 276h1M31 277h1M36 277h1M15 278h1M28 278h1M32 278h1M15 280h1M32 280h1M4 283h1M13 283h1M7 286h2M12 286h1M34 286h2M14 288h1M17 288h2M30 289h1M12 291h1M19 296h1M23 296h1M31 296h1M32 298h1M2 304h1M10 305h1M15 305h1M13 308h1M15 308h1M23 308h1M24 309h2M34 309h1M11 310h1M19 310h1M28 310h1M31 310h1M23 314h1M1 315h1M26 315h1M33 315h1M9 316h1M21 316h1M30 316h1M1 317h1M35 317h1M13 318h1M20 318h1M22 319h1M29 322h1M12 324h1M30 325h1M7 326h1M13 326h1M15 326h1M10 327h1M20 330h1M13 331h1M22 332h1M30 332h1M38 332h1M9 334h1M16 334h1M23 334h1M13 337h1M21 337h1M12 339h1M16 339h1M24 339h1M32 339h1M27 341h1M18 342h1M25 344h1M15 348h1M17 352h1M23 352h1M10 355h1M15 355h1M14 356h1M0 357h1M9 357h1M11 357h1M16 357h1M18 357h1M25 357h1M10 358h1M19 358h1M23 358h1M15 365h1M33 365h1M3 366h1M11 366h1M18 366h1M24 366h1M32 366h1M21 367h1M7 368h1M29 368h1M38 369h1M20 370h1M5 371h1M17 371h1M4 374h1M7 374h1M11 374h1M23 374h1M12 375h2M15 375h1M20 375h1M5 376h1M23 376h1M20 377h1M21 378h1M28 378h1M11 380h1M9 382h2M4 383h1M10 383h2M18 383h1M35 383h1M1 384h1M12 384h1M26 384h1M6 385h1M11 385h1M23 385h1M29 385h1M20 386h1M23 388h1M31 388h1M1 389h1M21 389h1M19 393h1M23 393h1M8 395h1M27 395h1M31 395h1M38 395h1M4 397h1M7 397h1M18 397h1M27 397h1M0 398h1M27 398h1M31 398h1M18 401h1M36 401h1M27 402h1M29 402h1M16 403h1M19 403h2M23 403h1M16 404h1M14 405h1M16 405h1M37 405h1M10 406h1M17 408h1M23 408h1M36 408h1M25 409h1M28 409h1M20 410h1M32 410h1M14 412h1M13 413h1M15 413h2M32 415h1M11 417h1M9 418h1M30 418h1M12 419h1M18 419h1M23 419h2M15 420h1M31 420h1M36 420h1M22 421h1M31 421h1M34 421h2M37 421h2M24 424h1M25 425h1M29 428h1M21 429h1M30 429h1M20 430h1M12 431h1M10 432h1M35 432h1M13 434h1M22 434h1M16 435h1M20 435h2M29 435h1M34 435h1M37 435h1M23 436h1M26 436h1M21 438h1M20 439h1M1 440h1M9 440h1M12 440h1M3 442h1M2 444h1M15 444h1M32 444h1M9 445h1M11 445h1M14 446h1M16 446h1M31 446h1M38 447h1M11 449h1M5 453h1M6 454h1M9 454h1M17 454h1M18 458h1M0 459h1M12 459h1M36 459h1M12 461h1M23 462h1M22 464h1M32 464h1M33 465h1M20 466h1M23 466h1M1 469h3M15 470h1M16 471h1M21 471h1M4 472h1M10 472h1M15 472h1M17 472h1M21 472h2M14 473h1M2 477h1M26 477h1M12 479h1M18 479h2M22 479h1M38 479h1"/>
<path stroke="#b0b050" d="M14 0h1M10 4h1M15 4h1M24 19h1M31 19h1M16 20h1M21 20h1M11 22h1M12 25h1M17 26h1M12 27h1M16 28h1M23 28h1M35 29h2M38 32h1M13 38h1M11 55h1M16 58h1M18 58h2M10 61h1M17 64h1M12 66h1M32 66h1M35 66h1M34 67h1M31 70h1M36 71h1M7 74h1M13 74h1M31 91h1M17 93h1M38 94h1M29 95h1M16 105h1M11 107h1M19 107h1M23 116h1M20 122h1M29 130h1M31 130h1M17 131h1M9 132h1M10 136h1M20 136h1M23 136h1M34 139h1M16 140h1M21 140h1M11 145h1M29 145h1M8 146h1M12 147h1M10 148h1M24 148h1M15 149h1M23 151h1M12 155h1M16 162h1M19 162h1M19 163h1M1 164h1M20 164h1M34 164h1M33 165h1M36 165h1M23 167h1M33 167h1M13 169h1M32 179h2M14 187h1M9 189h1M15 190h1M9 192h1M22 192h1M32 192h1M12 197h1M10 199h1M8 201h1M11 201h1M18 201h1M25 201h2M35 201h1M30 205h1M17 207h2M20 208h1M12 209h1M20 209h1M15 210h1M22 210h1M21 211h1M10 214h1M35 215h1M35 216h1M17 223h1M2 224h1M21 224h1M5 226h1M23 226h1M29 226h1M34 226h2M9 227h1M30 229h1M36 229h1M12 233h2M19 233h1M36 233h1M13 235h1M30 242h1M38 242h1M8 244h1M11 251h1M19 251h2M16 256h1M22 256h1M16 260h1M28 260h1M20 268h1M23 272h1M10 275h1M14 275h1M21 283h1M33 283h2M27 294h1M31 294h1M11 298h1M15 298h1M14 313h1M18 313h1M0 316h1M18 319h1M12 320h1M9 322h1M13 332h1M21 332h1M35 336h1M9 341h1M12 341h1M19 341h1M23 344h1M37 355h1M21 357h1M9 365h1M13 365h1M19 365h1M18 368h1M35 368h1M11 369h1M19 369h1M10 371h1M19 371h1M9 373h1M14 375h1M17 376h1M21 376h1M9 383h1M17 383h1M30 383h1M31 384h1M35 384h1M12 385h1M9 388h1M30 388h1M12 389h1M33 389h2M15 395h1M20 395h2M33 395h1M23 397h1M8 403h1M20 404h1M33 409h1M22 412h1M10 414h1M12 417h1M10 419h1M16 419h1M20 419h1M20 420h1M22 425h2M33 425h1M23 429h1M19 431h1M1 432h1M7 432h1M9 432h1M16 433h1M20 433h1M37 434h1M9 435h1M15 437h2M21 437h1M14 439h1M30 442h2M12 444h1M16 444h1M1 446h1M4 447h1M30 447h1M10 448h1M15 448h1M17 453h1M21 453h1M11 454h1M21 454h2M25 454h1M20 459h1M9 462h1M11 462h1M17 462h1M19 464h1M23 465h1M9 477h1M28 477h1M35 479h1"/>
<path stroke="#c0c050" d="M15 0h1M14 1h1M11 4h1M33 4h1M22 5h1M23 10h1M18 15h1M30 19h1M36 19h1M22 28h1M35 28h1M3 29h1M5 29h1M8 29h1M25 35h1M20 38h1M9 40h1M16 40h1M25 42h1M19 45h2M2 46h1M29 46h1M37 46h1M22 48h1M14 52h1M2 55h1M14 56h1M11 60h1M1 67h1M32 70h1M22 74h1M10 75h1M25 75h1M35 75h1M28 83h1M31 83h1M31 86h1M30 87h1M13 91h1M18 93h1M22 93h1M20 94h1M29 94h1M32 95h1M35 101h1M15 105h1M22 105h1M20 107h1M17 108h1M30 108h1M12 110h1M25 112h1M14 116h1M15 118h1M20 118h1M30 118h1M10 122h1M38 122h1M3 125h1M5 125h1M25 130h1M16 136h1M21 136h1M27 140h1M7 145h2M30 147h1M29 149h2M6 159h1M20 160h1M35 163h1M21 165h1M34 165h1M15 169h1M33 169h1M31 179h1M2 181h1M13 187h1M17 187h1M16 189h1M10 190h1M7 191h1M18 195h1M18 197h1M6 200h1M8 200h1M6 201h1M28 201h1M5 205h1M13 209h2M4 211h1M10 212h2M16 212h1M10 215h1M36 224h1M17 225h1M21 226h1M33 227h1M3 229h1M28 229h2M9 230h1M33 236h2M9 242h1M0 244h1M9 244h1M37 245h1M1 256h1M21 256h1M23 256h3M12 257h1M6 260h1M21 260h1M0 263h1M10 264h1M4 267h1M5 268h1M7 268h1M15 268h1M17 268h1M21 275h1M23 275h1M18 278h1M11 282h1M23 282h1M29 283h1M38 283h1M3 294h1M10 294h1M32 294h1M22 295h1M2 296h2M5 296h1M33 305h1M11 309h1M21 313h2M29 314h1M37 314h1M33 316h1M9 319h1M20 319h1M16 320h1M10 322h1M16 322h1M18 322h1M13 327h1M22 327h1M0 332h1M34 336h1M36 336h1M16 337h1M35 341h2M9 343h1M16 343h1M8 344h1M12 344h1M17 344h1M36 344h1M15 352h1M22 352h1M32 352h1M3 355h2M34 355h1M20 356h1M8 357h1M12 358h1M9 359h1M11 359h1M25 366h1M31 366h1M37 368h1M36 370h1M23 371h1M32 371h1M8 374h1M36 375h1M22 380h1M32 380h1M16 382h1M16 385h1M16 389h1M22 389h1M28 395h1M30 395h1M7 398h1M11 398h1M23 401h1M9 402h1M19 404h1M9 406h1M31 409h1M18 413h1M12 414h1M18 414h2M34 419h1M10 420h1M19 420h1M19 421h1M30 425h1M36 425h1M30 428h1M12 429h1M14 433h1M35 433h2M6 434h1M8 434h1M13 435h1M10 437h1M8 439h1M27 439h1M9 444h1M19 444h1M30 446h1M23 447h1M11 448h2M18 448h1M35 448h1M12 453h1M36 454h1M15 459h1M5 462h1M7 462h1M31 464h1M32 465h1M31 469h1M14 470h1M9 479h1"/>
<path stroke="#808060" d="M16 0h1M13 2h1M17 4h1M23 4h1M38 4h1M21 5h1M17 10h1M15 15h1M16 16h1M35 16h1M14 18h1M14 19h1M34 19h1M13 20h1M23 20h1M11 25h1M33 26h1M37 26h1M35 27h1M11 28h1M21 28h1M34 29h1M37 29h2M24 32h1M15 35h1M21 35h1M10 38h2M10 42h1M22 42h1M10 43h1M14 43h1M22 45h1M6 46h1M14 46h1M34 46h1M11 51h1M16 52h1M19 52h1M21 52h1M16 55h1M16 56h1M19 56h1M26 56h1M34 56h1M16 60h1M21 60h1M37 60h1M26 61h1M32 61h1M10 66h1M18 66h1M24 67h1M11 70h1M26 70h1M36 70h1M20 71h1M15 72h1M34 74h1M20 75h1M30 75h1M16 82h1M34 86h1M9 87h1M18 87h1M8 90h1M19 90h1M3 91h1M17 91h1M21 91h1M23 93h1M6 94h1M33 95h1M11 100h1M13 100h1M15 100h1M18 100h1M35 100h1M10 101h1M21 101h1M31 101h1M14 103h1M15 104h2M21 105h1M11 108h1M20 108h1M21 110h1M14 112h1M16 112h1M30 112h2M37 113h1M15 116h1M0 118h1M26 118h1M22 121h1M17 122h1M21 122h1M11 124h1M15 124h1M17 124h1M30 127h1M32 127h1M13 130h1M18 130h1M13 131h1M11 135h1M22 135h2M14 136h1M17 136h1M8 139h1M11 140h1M20 140h1M17 142h1M15 145h1M26 145h1M28 145h1M33 145h1M37 145h2M21 146h1M25 146h1M22 147h1M13 148h1M16 148h1M20 148h1M33 148h1M2 149h1M32 149h1M21 151h1M2 155h1M21 155h1M33 159h1M22 162h1M24 162h1M31 162h1M9 163h1M12 163h2M3 164h1M32 164h1M9 165h1M15 165h1M27 165h1M9 169h1M14 169h1M26 169h1M38 169h1M17 173h1M12 176h1M19 176h1M22 176h1M10 179h2M24 181h1M38 181h1M19 182h1M14 185h1M7 187h1M18 187h1M34 187h1M27 189h1M24 190h1M30 190h1M10 191h1M20 191h1M32 191h1M17 192h1M20 192h1M27 192h1M9 195h1M5 196h1M8 196h1M14 196h1M19 196h1M24 196h1M30 196h1M38 196h1M15 199h1M27 199h1M10 200h1M32 200h1M0 201h1M4 201h1M12 201h2M27 201h1M23 202h1M11 203h1M15 204h1M15 205h2M29 205h1M16 207h1M37 207h1M7 208h1M28 208h1M34 209h1M37 209h1M12 211h3M20 211h1M9 214h1M14 214h1M0 215h1M17 216h1M26 216h1M8 223h1M15 224h1M1 226h1M9 226h1M22 226h1M11 227h1M26 227h1M38 227h1M7 229h1M33 229h1M17 230h1M19 230h1M7 233h1M16 233h2M20 233h1M15 234h1M9 235h1M20 235h1M34 235h1M30 236h2M16 242h1M19 242h2M26 242h1M35 242h1M31 244h1M35 244h1M9 252h1M10 253h1M20 253h1M4 256h1M7 256h1M11 256h1M18 256h1M27 256h1M30 256h1M9 260h2M12 260h1M14 260h1M25 260h1M32 260h2M9 263h1M33 263h1M1 267h1M6 267h1M30 267h1M37 267h1M21 268h1M36 268h1M10 272h1M0 274h1M10 274h1M15 274h1M18 274h1M34 274h1M18 275h1M12 277h1M16 278h1M2 279h1M8 279h1M15 279h1M17 279h1M20 279h2M10 280h1M15 281h1M20 281h1M12 282h1M21 282h1M17 283h1M22 283h2M25 283h1M31 286h1M38 286h1M13 289h2M22 289h1M33 289h1M22 292h1M5 294h1M17 294h1M22 294h1M28 296h1M16 298h1M12 304h1M17 304h1M32 304h1M13 305h1M23 305h1M6 309h1M19 309h1M38 309h1M14 310h1M13 312h1M15 312h1M13 314h1M21 314h1M14 315h1M16 315h1M11 316h1M18 316h1M23 316h1M14 318h1M16 318h1M14 319h1M11 320h1M28 322h1M14 325h1M12 326h1M9 329h1M14 329h1M18 329h1M33 329h1M34 332h1M17 336h1M26 336h1M2 339h1M7 339h1M15 339h1M29 339h1M33 339h1M35 339h1M0 341h1M11 341h1M22 341h1M33 341h1M30 344h1M38 344h1M12 352h1M30 352h1M34 352h1M20 355h1M38 355h1M19 357h1M13 358h1M19 359h1M17 365h1M4 368h1M12 368h1M19 368h1M25 368h1M16 369h1M9 370h2M13 370h1M15 373h1M29 373h1M36 373h1M2 374h1M20 374h1M25 374h1M17 375h1M21 375h1M32 375h1M12 376h1M3 378h1M8 378h1M20 382h1M23 383h2M4 384h1M16 384h1M27 384h1M15 385h1M19 385h1M22 385h1M7 388h1M26 388h1M34 388h1M14 389h1M32 389h1M13 393h1M16 393h1M9 395h2M22 397h1M38 397h1M9 398h1M18 398h1M35 398h1M21 401h1M12 402h1M13 403h2M20 408h1M13 410h1M22 415h1M38 415h1M22 417h1M11 418h1M27 419h1M29 419h1M11 420h1M17 420h1M20 423h1M30 423h1M37 423h1M6 424h1M35 424h1M12 425h1M15 425h1M20 425h1M24 425h1M26 425h1M32 425h1M37 425h1M14 429h1M16 429h1M22 429h1M20 432h1M33 432h1M38 432h1M10 433h1M34 433h1M0 434h1M36 434h1M12 435h1M23 435h1M23 439h1M25 440h1M33 440h1M16 442h1M37 442h1M5 446h2M24 446h1M17 447h1M24 447h1M19 448h1M9 453h1M18 453h1M29 453h1M13 454h1M16 454h1M26 454h1M32 454h1M14 458h1M19 458h1M23 458h1M32 459h1M12 462h1M33 462h1M12 464h1M9 465h1M35 465h1M17 469h1M30 469h1M7 472h1M12 477h1M18 477h1M24 477h1M10 479h2M20 479h2M29 479h1M32 479h1"/>
<path stroke="#a0a060" d="M17 0h2M15 2h1M14 4h1M18 4h1M20 4h1M29 4h1M13 5h1M17 5h2M16 7h1M3 10h1M38 10h1M19 15h1M31 15h1M26 16h1M28 16h1M3 18h1M6 18h1M21 18h2M29 18h1M37 18h1M9 22h1M14 22h1M35 22h1M13 24h1M0 26h1M4 26h1M23 26h1M16 27h1M26 27h1M33 27h1M5 28h1M30 28h1M4 29h1M6 29h1M9 29h1M24 29h1M27 29h1M33 29h1M10 30h1M14 30h1M23 31h1M34 32h1M23 35h1M26 35h1M21 37h1M0 38h1M22 38h1M18 40h1M13 41h1M23 41h1M35 42h1M15 43h1M23 43h1M34 43h1M15 44h1M22 47h1M11 50h1M17 50h1M13 51h1M37 51h2M23 52h1M9 54h1M21 55h1M10 56h1M22 56h1M22 57h1M7 60h1M12 64h1M34 66h1M0 67h1M21 68h1M6 70h1M8 71h1M26 71h1M23 75h1M34 75h1M9 81h1M20 81h1M24 82h1M26 83h1M30 83h1M11 84h1M21 84h1M23 84h1M15 85h1M32 86h1M10 93h1M32 93h1M8 94h1M23 96h1M13 97h1M22 97h1M22 100h1M26 100h1M10 104h1M25 104h1M0 105h1M9 107h1M16 107h1M26 107h1M34 107h1M38 107h1M10 108h1M12 108h1M27 108h1M9 109h1M9 110h1M1 112h1M36 112h1M1 113h1M21 116h2M14 117h1M3 118h1M33 120h1M1 122h1M19 122h1M8 123h1M25 123h1M28 124h1M10 131h1M23 131h1M25 131h1M27 131h1M2 132h1M11 132h5M20 132h1M25 132h1M16 134h1M19 134h1M6 135h2M25 135h1M7 136h1M9 136h1M22 136h1M7 139h1M27 139h1M30 140h1M10 142h1M30 142h1M11 143h1M16 144h1M23 144h1M27 146h1M27 148h1M36 148h1M14 150h1M30 151h1M37 151h1M18 152h1M15 153h1M6 155h2M3 159h1M7 159h1M15 160h1M1 162h1M16 163h1M30 163h1M9 164h1M16 164h1M25 164h1M28 166h1M10 172h1M12 173h1M13 175h1M10 176h1M13 176h1M32 176h1M21 177h1M5 179h1M24 179h2M28 179h2M8 181h1M14 183h1M21 183h1M9 184h1M13 184h1M16 185h1M14 186h1M32 187h1M3 189h2M21 189h1M23 189h1M0 191h1M12 191h1M17 191h1M28 191h2M26 192h1M12 195h1M19 195h1M36 195h1M13 197h1M1 199h1M20 199h1M33 199h1M29 201h1M32 202h1M8 205h1M38 205h1M16 206h1M24 207h1M1 208h1M25 208h1M31 209h1M25 210h1M0 213h2M16 214h1M20 214h1M31 215h1M36 215h1M38 215h1M13 218h1M32 224h1M9 225h1M22 225h1M30 225h1M34 225h1M0 226h1M34 227h1M4 229h1M11 230h1M14 230h1M18 230h1M32 232h1M38 235h1M24 236h1M23 242h1M32 242h1M38 244h1M17 245h1M20 247h1M8 251h3M14 251h1M13 252h1M14 253h2M18 253h1M23 257h1M33 261h1M11 264h1M13 264h1M19 264h2M26 267h1M24 268h1M30 268h1M19 271h1M6 272h1M10 273h1M28 274h1M12 275h1M17 275h1M20 275h1M25 275h1M9 276h1M14 276h1M16 276h1M18 276h2M35 277h1M4 278h1M1 279h1M19 279h1M29 279h3M36 280h1M12 281h1M15 282h1M19 282h1M22 282h1M6 286h1M29 286h1M31 288h1M15 292h1M18 292h1M23 292h1M30 292h1M23 295h1M27 296h1M2 298h1M4 298h1M36 298h1M5 304h1M19 304h1M2 305h1M34 305h1M36 305h1M23 307h1M0 309h1M15 309h1M27 310h1M16 312h1M12 313h1M16 313h1M23 313h1M24 315h1M36 316h1M8 317h1M22 317h1M16 319h1M21 319h1M34 319h1M37 319h1M26 320h2M14 322h1M17 324h1M12 325h1M21 325h1M27 325h1M35 325h1M3 326h1M25 326h1M27 329h1M29 329h1M23 330h1M15 331h1M17 331h1M27 332h1M27 336h1M9 337h1M11 337h1M6 339h1M20 339h1M29 341h1M38 341h1M19 342h1M0 344h1M9 349h1M4 352h1M25 352h1M36 352h1M22 355h1M30 357h1M12 361h1M13 363h1M18 363h1M32 365h1M30 366h1M9 369h1M33 369h2M34 370h1M37 370h1M6 374h1M29 375h1M15 376h1M30 376h1M10 377h1M23 377h1M31 378h1M27 380h1M33 383h1M3 385h2M19 386h1M11 391h1M15 393h1M21 393h1M36 393h1M5 397h1M32 397h1M36 398h1M26 402h1M2 403h1M24 403h1M34 403h1M21 404h1M12 406h3M37 406h1M12 408h1M16 408h1M31 408h1M2 409h1M34 409h1M10 412h1M35 412h2M14 414h1M16 414h1M29 414h1M10 417h1M24 417h1M38 417h1M24 418h1M16 420h1M22 420h1M29 420h1M13 423h1M1 424h1M8 424h1M23 426h1M6 428h1M10 428h1M17 428h1M20 428h2M34 428h1M29 429h1M9 430h1M19 430h1M15 431h1M18 431h1M2 432h1M30 432h1M9 433h1M25 434h1M31 434h1M38 434h1M8 435h1M36 436h1M13 438h1M6 439h2M37 439h1M33 442h1M10 443h1M13 443h1M18 443h1M4 444h1M23 444h1M14 445h1M7 447h1M6 448h1M16 448h1M33 448h2M14 450h1M35 450h1M16 451h1M25 453h1M32 453h1M24 454h1M9 456h1M21 456h1M8 459h1M16 459h1M18 459h1M22 459h1M35 459h1M2 462h1M22 463h1M2 465h1M22 465h1M31 466h1M11 469h2M21 469h1M14 471h1M19 474h1M12 476h1M17 476h1M17 477h1M31 479h1"/>
<path stroke="#707060" d="M19 0h1M16 10h1M10 15h1M14 15h1M10 16h1M15 18h1M16 19h1M10 20h1M20 22h1M9 26h1M19 27h1M31 27h2M19 28h1M37 32h1M20 35h1M11 40h1M18 42h1M10 45h1M23 45h1M11 46h1M18 46h2M21 46h1M23 46h1M30 46h1M32 46h2M35 46h1M14 55h1M13 56h1M17 56h1M20 56h1M12 60h2M15 60h1M18 60h1M32 60h1M15 61h1M27 61h1M31 61h1M38 61h1M22 64h1M22 66h2M37 70h1M9 74h1M11 74h2M16 74h1M26 74h1M12 75h2M16 75h1M36 82h2M17 87h1M23 87h1M17 90h2M12 91h1M23 91h1M21 94h1M14 95h1M14 100h1M23 100h1M9 101h1M11 101h1M23 101h1M9 103h2M18 103h1M9 104h1M17 104h2M13 105h1M20 105h1M22 107h1M16 108h1M21 108h1M33 112h1M30 113h1M13 118h1M19 118h1M10 121h1M17 121h1M16 123h1M23 123h1M22 124h1M32 125h1M20 127h1M37 130h1M11 131h1M19 131h1M19 135h2M13 136h1M18 136h1M9 140h1M21 142h1M18 145h1M22 145h1M31 145h2M37 146h1M10 147h1M13 147h1M21 147h1M28 147h1M23 148h1M34 148h1M38 148h1M23 149h1M34 149h1M12 151h1M23 155h1M12 159h1M15 159h1M14 163h1M22 163h1M17 164h1M18 165h1M35 165h1M10 166h1M15 166h1M12 167h1M18 169h1M20 169h1M34 169h1M17 176h1M15 179h1M30 179h1M1 181h1M15 181h1M19 185h1M9 187h2M12 187h1M10 189h1M38 190h1M16 191h1M21 191h1M23 191h1M15 192h2M36 192h1M20 196h1M35 196h1M18 199h1M23 199h1M14 200h1M18 200h1M22 200h1M7 201h1M9 205h1M17 205h1M10 207h1M12 208h1M11 209h1M11 210h2M15 211h1M22 211h1M30 211h1M21 213h1M13 215h1M18 215h1M21 215h1M12 216h1M18 223h1M23 223h1M34 223h1M35 224h1M10 226h2M18 226h3M15 227h1M17 227h2M19 229h1M35 229h1M16 232h1M20 232h1M38 232h1M34 233h2M9 234h1M20 234h1M34 234h1M15 235h2M22 235h1M13 236h1M23 244h1M13 245h1M19 245h1M21 251h1M2 256h2M12 256h1M20 256h1M31 256h2M38 256h1M11 260h1M15 260h1M19 260h2M17 263h1M20 263h1M23 263h1M25 263h1M38 268h1M13 274h1M9 278h1M21 278h2M33 278h1M38 278h1M18 279h1M16 286h1M21 289h1M9 294h1M15 294h1M21 294h1M37 294h1M9 296h1M16 296h1M23 298h1M13 304h2M9 309h2M12 309h2M12 310h1M15 310h1M12 315h1M17 315h1M14 316h2M12 319h1M23 319h1M22 326h1M17 329h1M14 339h1M10 341h1M21 341h1M22 344h1M9 352h1M19 352h1M13 357h1M10 368h1M22 368h1M22 369h1M12 370h1M14 370h1M16 370h1M9 371h1M18 371h1M22 371h1M16 373h1M33 373h1M15 374h1M11 375h1M18 375h1M13 378h1M22 378h1M32 378h2M15 380h1M13 383h1M19 383h1M17 384h1M10 388h1M16 388h1M37 388h1M13 389h1M15 389h1M23 389h1M25 389h1M28 389h1M13 395h1M17 395h1M10 397h1M12 397h1M14 397h1M16 397h1M21 397h1M13 398h1M23 398h1M10 403h1M33 403h1M10 408h1M15 410h1M15 414h1M19 415h2M36 415h2M13 417h1M22 419h1M36 419h1M9 423h1M17 424h1M14 425h1M18 425h1M15 428h1M12 432h1M16 432h1M34 432h1M11 433h1M19 433h1M22 433h1M16 434h1M20 434h1M29 434h1M33 434h1M19 435h1M17 436h1M12 437h1M9 439h1M15 439h1M5 440h1M13 440h1M17 440h1M22 440h1M18 442h2M23 442h1M25 442h1M10 446h1M18 446h1M36 446h1M14 447h1M21 447h1M27 447h1M31 447h1M30 453h1M29 454h1M14 459h1M15 464h2M17 465h1M9 469h1M14 469h1M18 469h1M15 477h1M35 477h1M23 479h1"/>
<path stroke="#606070" d="M21 0h1M23 2h1M19 4h1M13 16h1M18 16h1M32 16h2M9 18h1M19 18h1M23 18h1M0 19h1M11 19h2M21 19h1M23 19h1M12 20h1M14 20h1M10 22h1M16 22h1M23 22h1M10 25h1M14 25h1M21 25h1M19 26h1M21 26h2M38 26h1M36 27h1M13 28h1M22 29h1M9 32h1M15 32h2M23 32h1M31 32h1M35 32h1M14 40h1M17 40h1M22 40h1M15 42h1M17 42h1M23 42h1M30 42h1M33 42h1M37 42h1M21 43h1M11 45h1M17 45h1M21 45h1M26 45h1M28 45h1M34 45h1M7 46h1M15 46h1M12 55h1M20 55h1M27 55h1M31 55h2M36 55h2M9 58h1M21 58h1M33 58h1M38 58h1M22 60h1M31 60h1M5 61h1M16 61h1M23 61h1M30 61h1M33 61h1M11 64h1M14 64h1M31 64h1M33 64h1M36 64h1M13 66h1M15 66h1M38 66h1M17 67h1M23 67h1M12 70h3M17 70h1M19 70h2M24 70h1M13 71h2M22 71h2M38 71h1M8 74h1M14 74h1M18 74h2M30 74h1M33 74h1M35 74h1M21 75h1M36 75h1M11 82h1M13 82h1M15 82h1M34 82h1M9 83h1M12 83h1M10 86h1M21 86h1M28 86h1M13 87h2M27 87h1M31 87h1M35 87h1M12 90h1M14 90h3M37 90h1M10 91h2M34 91h1M38 91h1M11 94h1M14 94h1M2 95h1M38 95h1M10 100h1M20 100h2M28 101h1M33 101h1M10 102h1M15 102h1M16 103h2M19 103h1M23 103h1M13 104h1M9 105h1M23 105h1M33 105h1M21 107h1M14 108h1M22 108h1M11 112h1M18 112h1M22 112h2M9 113h1M18 113h1M36 113h1M38 113h1M13 116h1M17 116h1M10 118h1M12 118h1M35 118h1M18 120h1M21 121h1M25 121h1M29 121h1M17 123h1M37 123h1M12 124h1M16 124h1M20 124h1M16 125h1M26 125h1M18 127h1M21 127h1M10 130h2M16 130h1M21 130h1M38 130h1M16 131h1M18 131h1M33 131h1M10 132h1M10 135h1M18 135h1M19 136h1M12 139h1M30 139h2M35 139h1M14 140h1M31 140h1M35 140h1M23 142h1M30 145h1M3 146h1M10 146h1M12 146h1M15 146h1M28 146h1M31 146h1M35 146h1M16 147h1M23 147h1M26 147h2M31 147h1M19 148h1M22 148h1M25 148h1M31 148h1M35 148h1M1 149h1M3 149h1M16 149h1M21 149h1M27 149h1M13 151h1M17 151h1M20 151h1M4 155h1M11 155h1M13 159h1M17 159h1M19 159h1M27 159h1M7 162h1M13 162h1M21 162h1M30 162h1M32 162h1M34 162h2M20 163h1M23 163h1M7 164h1M35 164h1M9 166h1M21 166h2M15 167h1M19 167h1M21 169h3M35 169h1M14 176h1M16 176h1M20 176h2M20 179h1M38 179h1M26 181h3M30 181h1M12 185h1M21 185h1M23 185h1M22 187h2M35 187h1M38 187h1M20 189h1M32 189h1M9 190h1M16 190h1M18 190h1M20 190h1M22 190h1M26 190h1M31 190h1M36 190h2M9 191h1M13 191h1M34 191h1M18 192h1M18 196h1M11 199h1M17 199h1M3 200h2M13 200h1M16 200h2M21 200h1M24 200h1M22 201h2M34 201h1M38 201h1M16 203h1M11 205h1M14 205h1M18 205h1M22 205h1M27 205h1M32 207h1M15 208h2M19 208h1M31 208h2M9 209h1M19 209h1M35 209h2M9 210h2M20 210h2M0 211h1M3 211h1M10 211h1M17 211h1M25 211h2M35 211h1M20 212h1M14 213h1M14 215h1M28 215h1M30 215h1M20 216h1M34 216h1M22 223h1M3 224h1M9 224h1M17 224h1M23 224h2M28 224h1M31 224h1M37 224h1M15 226h1M30 226h1M30 227h1M10 229h1M18 229h1M31 229h1M14 232h1M19 232h1M21 232h1M33 232h1M36 232h2M13 234h1M23 234h1M32 234h1M12 235h1M21 235h1M15 236h2M36 236h1M15 242h1M33 242h1M13 244h1M16 244h3M28 244h1M30 244h1M32 244h1M10 245h1M23 245h1M17 251h1M18 252h1M6 256h1M8 256h1M26 256h1M34 256h1M37 256h1M22 260h2M35 260h1M1 263h1M3 263h2M6 263h1M13 263h1M18 263h2M30 263h1M8 267h1M14 267h1M17 267h1M13 268h1M18 268h1M32 268h1M12 271h4M14 272h1M6 274h1M11 274h1M19 274h1M32 274h1M38 274h1M10 277h1M17 278h1M25 278h1M36 278h2M9 279h2M26 279h1M33 279h1M9 283h2M19 283h1M9 286h3M13 286h1M6 289h1M11 289h1M18 289h1M25 289h1M36 289h1M11 292h1M24 294h1M34 294h3M14 296h1M20 296h1M38 296h1M10 298h1M13 298h1M19 298h1M9 304h2M9 305h1M16 305h1M18 305h1M20 305h1M19 308h1M14 309h1M21 309h3M30 309h1M13 310h1M10 314h1M15 314h2M36 314h1M9 315h2M8 316h1M12 316h1M16 316h1M29 316h1M35 316h1M38 316h1M10 317h1M33 317h1M38 317h1M11 319h1M13 319h1M17 319h1M10 320h1M14 320h2M22 320h1M12 322h2M17 322h1M20 322h1M37 322h1M11 325h1M18 325h1M9 326h1M14 326h1M17 326h2M37 326h1M11 329h2M16 329h1M19 329h1M12 332h1M37 332h1M9 336h2M13 336h1M20 336h3M30 336h1M33 336h1M9 339h1M17 339h1M19 339h1M22 339h1M25 339h1M27 339h1M30 339h2M15 341h1M17 341h1M24 341h1M15 344h1M19 344h2M10 352h1M14 352h1M16 352h1M18 352h1M37 352h1M36 355h1M14 357h1M22 357h1M32 357h1M4 366h1M36 366h1M38 366h1M9 368h1M13 368h1M16 368h2M30 368h1M14 369h1M18 369h1M18 370h2M21 370h1M16 371h1M1 373h1M11 373h1M10 374h1M19 374h1M23 375h1M37 375h2M9 376h1M14 376h1M24 378h1M35 378h1M9 380h1M17 380h1M25 383h1M3 384h1M6 384h1M10 384h1M33 384h1M36 384h2M13 385h1M20 385h1M17 388h1M19 388h2M28 388h1M32 388h1M38 388h1M11 389h1M29 389h1M10 393h1M14 395h1M19 395h1M22 395h1M37 395h1M11 397h1M15 397h1M17 397h1M33 397h2M20 398h1M22 398h1M14 401h1M16 401h1M17 402h1M23 402h1M31 402h1M17 403h1M31 403h1M38 403h1M10 404h1M18 404h1M17 405h1M18 406h1M6 409h1M12 409h1M14 409h1M27 409h1M29 409h1M9 410h1M12 410h1M14 410h1M19 410h1M12 412h1M15 412h2M18 412h1M7 415h1M13 415h1M15 415h1M27 415h1M35 415h1M9 417h1M14 417h2M17 417h2M13 418h1M17 418h1M19 418h1M21 418h1M13 419h1M21 419h1M38 419h1M12 421h1M5 424h1M7 424h1M9 424h1M22 424h2M30 424h1M32 424h1M17 425h1M38 425h1M9 428h1M8 432h1M18 432h1M27 432h1M29 432h1M12 433h1M17 433h1M37 433h1M7 434h1M9 434h1M14 434h1M18 434h1M10 435h1M22 435h1M10 436h1M12 436h1M20 436h2M34 436h1M37 436h1M21 439h1M0 440h1M6 440h1M15 440h1M37 440h1M0 442h1M6 442h1M29 442h1M34 442h1M13 444h1M18 444h1M3 446h1M12 446h1M29 446h1M34 446h1M37 446h2M8 447h1M12 447h2M19 447h1M26 447h1M29 447h1M34 447h3M23 448h1M17 450h1M19 450h1M19 453h1M23 453h1M26 453h1M34 453h2M7 454h1M18 454h1M27 454h1M33 454h1M37 454h2M17 458h1M23 459h1M18 462h1M10 464h1M16 465h1M21 465h1M23 469h1M26 469h1M36 469h3M11 472h1M20 472h1M23 472h1M35 472h1M38 472h1M13 477h2M20 477h1M29 477h1M33 477h1M38 477h1M16 479h1M33 479h1M36 479h1"/>
<path stroke="#707070" d="M22 0h2M29 0h1M38 0h1M18 1h1M9 2h2M14 2h1M21 2h1M14 3h1M6 4h1M9 4h1M12 5h1M23 5h1M10 7h1M12 7h1M19 7h1M10 8h1M14 8h1M18 8h2M8 10h1M14 10h2M18 10h1M13 13h3M20 13h2M23 13h1M35 13h1M19 14h1M17 15h1M23 15h1M2 16h1M37 16h2M1 18h1M13 18h1M17 18h1M35 18h1M27 19h1M35 19h1M0 20h1M7 20h2M17 20h1M22 20h1M24 20h1M38 20h1M15 21h1M22 21h2M30 22h1M32 22h1M36 22h1M14 24h1M1 25h2M15 25h1M19 25h2M26 25h1M31 25h1M14 26h1M7 27h2M29 27h1M34 27h1M2 28h1M9 28h1M12 28h1M18 28h1M25 28h1M7 29h1M18 30h1M21 30h1M9 31h2M14 31h1M16 31h1M18 31h1M20 31h1M22 31h1M26 32h1M3 35h1M7 35h1M9 35h1M28 35h1M9 37h2M18 37h1M20 37h1M23 37h1M34 37h1M5 38h1M14 38h1M33 38h1M38 38h1M20 39h1M12 40h1M21 40h1M27 40h1M15 41h1M18 41h1M26 42h1M28 42h1M1 43h1M12 43h1M20 43h1M25 43h2M23 44h1M14 47h1M18 48h1M21 48h1M30 48h2M37 48h1M12 50h1M15 50h1M18 50h1M20 50h1M17 51h1M21 51h1M35 51h1M9 52h2M12 52h2M34 52h1M38 52h1M11 54h1M14 54h1M18 54h1M20 54h1M1 55h1M4 55h1M8 55h1M24 55h1M28 55h1M34 55h1M0 56h1M7 56h1M29 56h1M13 57h1M1 60h2M10 63h2M14 63h2M4 64h2M28 64h1M25 66h1M31 66h1M33 66h1M7 67h2M27 67h1M35 67h2M13 68h1M16 68h1M23 68h1M8 70h1M25 70h1M3 71h1M33 71h1M11 72h1M13 72h1M17 72h1M19 72h1M34 72h1M36 72h2M14 73h1M22 73h1M4 74h1M27 74h1M3 75h1M31 75h1M38 75h1M10 77h1M15 77h1M13 78h2M22 78h1M12 80h1M15 80h1M22 80h2M10 81h1M19 81h1M23 81h1M32 82h1M21 83h1M33 83h1M35 83h1M17 84h1M9 85h1M24 86h1M36 87h3M0 90h1M3 90h1M7 90h1M35 91h1M37 91h1M11 92h1M13 92h1M17 92h1M23 92h1M9 93h1M11 93h1M14 93h1M28 93h2M33 93h1M7 94h1M0 95h1M3 95h1M10 96h2M13 96h1M17 96h1M10 97h3M23 97h1M15 99h1M20 99h1M23 99h1M7 100h1M19 100h1M32 100h1M8 101h1M14 102h1M17 102h1M26 102h1M13 103h1M24 103h1M29 103h1M11 104h1M30 104h2M35 104h1M7 105h1M26 105h1M31 105h1M8 107h1M31 107h1M33 107h1M1 108h1M7 108h1M23 108h1M28 108h1M34 108h2M37 108h2M14 109h1M19 109h1M14 110h1M18 110h1M22 110h1M8 112h1M27 112h1M28 113h1M31 113h1M10 114h1M15 114h1M21 114h1M12 115h1M21 115h2M2 116h1M6 116h1M9 116h2M16 116h1M18 116h1M2 118h1M8 118h1M24 118h1M33 118h1M19 119h2M1 120h1M7 120h1M11 120h1M23 120h1M1 121h1M27 121h1M9 122h1M18 122h1M1 123h1M5 123h1M7 123h1M21 123h1M24 123h1M4 124h1M6 124h1M24 124h1M0 125h1M4 125h1M24 125h2M10 127h1M24 127h1M26 127h1M36 127h1M23 129h1M33 130h1M26 131h1M32 131h1M37 131h1M22 132h1M36 132h2M9 133h1M13 133h2M18 133h1M21 133h1M17 134h1M20 134h1M23 134h1M16 135h1M35 135h1M5 136h1M25 136h1M29 136h1M33 136h1M35 136h1M28 139h1M33 139h1M2 140h1M4 140h1M25 140h1M29 140h1M4 142h1M6 142h1M13 142h1M15 142h1M20 142h1M25 142h1M35 142h1M38 142h1M12 143h1M11 144h1M7 146h1M30 146h1M5 148h1M0 149h1M7 149h1M24 149h1M36 149h1M1 151h1M5 151h2M8 151h1M34 151h1M10 152h1M13 152h1M16 152h1M20 152h2M17 153h1M9 154h1M16 154h1M27 155h1M5 159h1M25 159h2M10 160h1M23 160h1M29 162h1M1 163h1M2 166h1M5 166h1M3 167h1M5 167h1M27 167h1M34 167h1M25 169h1M23 171h1M23 172h1M11 173h1M18 173h1M30 173h1M17 175h1M21 175h1M30 176h1M35 176h1M13 177h2M20 177h1M33 177h1M36 177h1M2 179h1M27 179h1M0 181h1M17 182h1M27 182h1M2 185h1M24 185h1M28 185h1M34 185h1M15 186h2M21 186h1M5 187h1M24 187h1M30 187h1M37 187h1M29 189h1M34 189h1M32 190h1M8 191h1M25 191h1M27 191h1M37 191h1M5 192h1M38 192h1M12 193h1M15 193h1M21 193h1M10 195h2M17 195h1M23 195h1M28 196h1M10 197h1M36 197h1M0 199h1M29 199h1M36 199h1M38 199h1M25 200h1M24 201h1M13 202h3M17 202h1M19 202h2M26 202h1M36 202h1M9 203h2M12 203h2M20 203h1M14 204h1M17 204h2M22 204h2M31 204h1M4 205h1M6 205h2M25 205h1M28 205h1M10 206h1M19 206h1M28 207h2M0 208h1M3 208h1M34 208h1M2 210h1M17 210h2M26 210h1M32 210h1M37 210h2M2 211h1M31 211h1M34 211h1M37 211h1M18 212h1M24 212h1M32 212h1M36 212h1M4 213h1M10 213h1M26 213h1M28 213h1M34 213h1M38 213h1M6 214h1M18 214h1M21 214h1M37 214h2M4 215h1M25 215h1M27 215h1M0 216h1M5 216h1M25 216h1M29 216h1M11 218h1M20 218h1M11 220h1M16 220h3M23 220h1M12 221h2M20 221h1M10 222h1M18 222h1M21 222h1M7 223h1M38 223h1M1 224h1M26 224h1M14 225h1M23 225h1M32 226h1M0 227h1M5 227h1M27 227h1M24 229h1M16 230h1M23 230h1M33 230h1M0 233h1M2 233h1M4 234h1M31 234h1M36 234h2M35 235h1M29 236h1M35 236h1M21 237h1M12 239h1M17 239h1M14 241h1M23 241h1M7 242h1M25 242h1M28 242h1M31 242h1M27 244h1M29 244h1M36 244h1M4 245h1M11 245h1M29 245h2M36 245h1M21 246h1M17 247h3M17 249h1M14 250h1M22 251h1M30 251h2M35 251h1M37 251h1M14 252h2M19 252h1M21 252h1M25 252h1M9 253h1M13 253h1M17 253h1M22 253h1M9 254h1M18 254h1M35 256h1M13 257h2M30 257h1M16 259h1M21 259h1M11 261h1M17 261h1M32 261h1M37 261h1M11 262h1M15 262h1M20 262h1M37 263h1M18 264h1M32 267h1M33 268h1M9 270h1M18 270h1M20 270h1M7 271h1M32 271h1M34 271h1M36 271h2M2 272h1M25 272h1M34 272h1M9 273h1M13 273h1M15 273h2M34 273h1M1 274h1M5 274h1M8 274h1M35 274h1M6 275h1M26 275h1M35 275h3M10 276h2M13 276h1M20 276h1M30 276h1M29 278h1M0 279h1M6 279h2M25 279h1M13 280h1M30 280h1M35 280h1M9 281h1M18 281h1M37 281h1M14 282h1M28 283h1M4 286h2M25 286h1M30 286h1M37 286h1M10 288h1M20 288h2M24 289h1M9 290h1M12 290h1M9 292h1M21 292h1M32 292h2M1 294h1M26 294h1M28 294h1M9 295h2M21 295h1M8 296h1M1 298h1M6 298h2M26 298h1M28 298h1M33 298h1M37 298h1M9 299h1M15 299h1M21 299h1M7 304h1M25 304h1M29 304h1M22 305h1M29 305h1M15 307h1M10 308h3M14 308h1M18 308h1M22 308h1M36 308h1M4 309h1M7 309h1M18 309h1M26 309h2M31 309h1M4 310h1M21 310h1M32 310h1M10 312h1M12 312h1M19 312h1M23 312h1M5 313h1M9 313h1M30 313h1M34 313h2M38 313h1M25 314h1M34 314h2M5 315h1M11 315h1M15 315h1M19 315h1M27 315h1M29 315h2M35 315h2M38 315h1M24 316h1M27 316h1M37 316h1M2 317h1M7 317h1M32 317h1M10 318h2M19 318h1M8 319h1M31 319h1M13 320h1M17 320h1M23 320h1M30 320h1M36 320h1M6 322h1M24 322h1M30 322h1M33 322h1M35 322h1M13 324h2M1 325h2M8 325h1M10 325h1M13 325h1M17 325h1M31 325h1M38 325h1M0 326h3M4 326h1M26 326h1M28 326h1M30 326h1M33 326h1M36 326h1M9 327h1M11 327h1M20 327h2M4 329h1M7 329h1M25 329h1M34 329h1M15 330h1M17 330h1M19 330h1M20 331h2M1 332h2M4 332h1M36 332h1M16 333h1M21 333h1M12 334h1M15 334h1M18 334h1M8 336h1M10 337h1M12 337h1M17 337h2M20 337h1M23 337h1M31 337h1M10 342h4M31 342h1M11 343h3M15 343h1M17 343h1M19 343h2M22 343h2M31 343h1M24 344h1M27 344h1M29 344h1M33 344h1M35 344h1M11 345h1M12 346h2M14 348h1M16 348h1M22 348h1M17 349h1M21 349h1M0 352h1M5 352h1M27 352h3M0 355h1M7 355h1M29 355h1M32 355h1M35 355h1M10 356h1M15 356h1M32 356h1M26 357h1M29 357h1M31 357h1M14 358h4M32 358h1M13 359h1M15 359h3M23 359h1M35 359h1M22 361h1M13 362h1M23 362h1M11 363h1M21 363h1M37 365h1M27 366h1M34 366h1M22 367h1M2 369h1M20 369h1M26 369h1M36 369h1M25 370h3M31 370h1M1 371h1M7 371h1M21 371h1M30 371h1M10 372h1M12 372h1M35 373h1M29 374h1M34 374h1M5 375h1M30 375h1M7 376h2M13 376h1M18 376h1M20 376h1M24 376h1M27 376h1M29 376h1M32 376h1M35 376h1M14 377h1M18 377h1M21 377h1M6 378h1M26 378h1M29 378h1M14 380h1M29 380h2M35 380h1M17 381h1M18 382h1M23 382h1M35 382h1M2 383h2M6 383h2M24 384h1M11 386h1M15 386h1M21 386h1M13 387h2M16 387h1M30 389h1M38 389h1M9 391h1M12 391h2M16 391h1M9 393h1M11 393h1M18 393h1M28 393h1M11 395h1M24 397h2M1 398h1M3 398h1M24 398h1M29 398h1M38 398h1M15 400h1M20 400h1M0 401h1M3 401h1M12 401h1M27 401h1M35 401h1M38 401h1M28 402h1M33 402h1M38 402h1M0 403h1M3 403h1M7 403h1M26 403h2M29 403h1M37 403h1M17 404h1M24 404h1M30 404h1M33 404h1M35 404h1M38 404h1M15 405h1M32 405h1M38 405h1M11 406h1M17 406h1M20 406h1M31 406h1M35 406h2M5 408h1M7 408h1M27 408h1M35 408h1M37 408h1M37 409h1M33 410h1M35 410h2M13 412h1M17 412h1M27 412h1M9 413h1M23 413h1M30 413h1M32 413h1M36 413h1M0 414h1M7 414h1M9 414h1M29 415h1M16 416h1M20 416h1M31 417h1M36 417h1M15 418h1M29 418h1M32 418h1M36 418h1M8 419h1M9 420h1M25 420h1M34 420h1M37 420h1M32 421h1M1 423h1M11 423h1M17 423h2M25 423h1M32 423h1M34 423h2M0 424h1M2 424h1M28 425h1M31 425h1M19 426h2M22 426h1M0 428h1M19 428h1M26 428h1M28 428h1M32 428h1M35 428h1M9 429h2M18 429h1M31 429h1M16 430h1M23 430h1M33 430h1M10 431h1M13 431h2M20 431h1M31 431h1M34 431h1M2 433h1M4 433h1M7 433h1M25 433h1M32 433h1M38 433h1M3 434h1M5 434h1M1 435h1M3 435h1M5 435h1M25 435h2M35 435h2M7 436h2M11 436h1M29 436h1M32 436h2M3 437h1M14 437h1M26 437h1M36 437h1M20 438h1M1 439h1M4 440h1M27 442h2M17 443h1M23 443h1M0 444h1M6 444h1M10 444h1M25 444h1M28 444h1M37 444h1M13 445h1M18 445h1M21 445h1M26 446h1M37 447h1M2 448h1M9 448h1M25 448h1M28 448h1M31 448h1M38 448h1M9 449h1M15 449h1M18 449h1M13 450h1M22 450h1M32 450h1M9 451h2M12 451h1M15 451h1M21 451h1M38 453h1M8 454h1M20 456h1M9 458h1M11 461h1M30 461h1M35 461h1M37 461h1M28 462h2M36 462h1M15 463h1M19 463h1M9 464h1M25 464h2M30 464h1M33 464h1M36 464h1M3 465h2M11 465h1M13 465h1M15 465h1M24 465h1M38 465h1M14 466h1M21 466h1M14 467h2M17 467h3M4 469h1M7 469h1M13 470h1M35 470h1M12 471h1M1 472h1M6 472h1M34 472h1M10 473h1M12 473h1M20 473h1M15 476h1M21 476h3M0 477h1M4 479h1M27 479h1"/>
<path stroke="#707080" d="M26 0h1M0 2h1M6 2h1M15 3h3M21 3h1M7 4h1M35 5h1M15 7h1M17 7h1M20 7h1M12 8h1M10 9h1M18 9h1M23 9h1M29 10h1M34 10h1M10 11h1M14 11h1M20 11h1M23 11h1M10 14h2M13 14h1M28 15h1M1 16h1M24 16h1M27 20h1M12 21h1M20 21h1M26 22h1M34 22h1M10 24h1M19 24h1M23 24h1M6 26h1M8 26h1M27 26h2M26 28h1M31 28h1M1 29h1M22 30h1M13 31h1M21 31h1M16 36h1M33 37h1M34 40h1M38 40h1M14 41h1M17 41h1M31 41h1M0 42h1M27 42h1M0 43h1M31 43h1M36 43h1M14 44h1M17 44h1M19 44h1M33 44h1M6 47h1M24 47h1M27 47h1M3 48h1M34 48h1M11 49h1M20 49h1M23 49h1M36 50h2M31 51h1M8 52h1M27 52h1M30 52h1M32 52h1M36 52h1M33 54h1M35 54h1M18 57h1M11 59h1M14 59h2M22 59h1M16 63h1M22 63h1M21 65h3M15 68h1M17 68h1M36 68h1M11 69h1M16 69h1M1 71h1M28 72h1M31 72h1M35 72h1M19 73h1M34 73h1M4 75h1M28 75h1M11 76h1M33 76h1M35 76h1M37 76h1M18 77h1M20 77h1M16 78h3M11 79h1M16 79h1M19 79h1M11 81h1M26 81h1M1 83h1M25 83h1M29 83h1M33 84h1M36 84h1M11 85h1M18 85h3M23 85h1M15 88h1M20 88h1M9 89h1M21 92h2M30 92h1M37 92h1M0 93h1M3 93h1M26 93h1M30 93h1M34 93h1M21 96h1M20 97h1M37 97h1M10 98h1M6 100h1M24 100h1M28 100h1M29 102h1M31 102h1M25 103h1M28 103h1M28 104h1M24 107h1M3 108h1M5 108h1M11 109h1M30 109h1M8 110h1M11 110h1M24 110h1M11 111h1M14 114h1M18 114h1M4 116h1M10 117h1M10 119h1M15 119h1M3 120h1M0 123h1M30 129h1M2 131h1M20 133h1M22 133h1M9 134h2M12 134h1M14 134h1M22 134h1M33 134h1M27 136h1M10 138h1M15 138h1M19 138h1M12 141h2M17 141h2M23 141h1M3 142h1M5 142h1M36 142h1M14 143h2M20 143h3M18 144h1M11 150h1M21 150h1M23 150h1M24 151h1M27 151h1M18 154h1M20 154h3M29 160h1M4 163h1M9 168h2M21 168h1M10 170h4M16 170h1M19 171h1M15 172h1M3 173h1M25 173h2M28 173h1M35 173h1M9 174h1M17 174h1M12 175h1M3 176h1M6 176h1M26 176h1M30 177h1M24 182h1M37 182h1M10 183h1M16 184h1M22 184h1M25 185h2M18 186h2M37 186h1M20 188h1M23 188h1M17 193h1M18 194h1M22 194h2M31 195h2M0 197h1M8 197h1M26 197h1M25 202h1M31 202h1M35 202h1M8 203h1M27 203h1M29 203h1M31 203h1M32 204h2M37 204h1M13 206h1M7 207h1M0 210h1M28 210h1M27 212h1M29 212h1M2 213h1M0 214h1M8 214h1M29 214h1M33 214h1M10 217h1M12 217h2M18 217h1M20 217h1M9 218h2M12 218h1M9 220h1M33 220h1M16 221h1M19 221h1M22 221h1M16 222h1M2 225h1M32 225h1M38 225h1M17 228h1M22 228h1M6 230h1M8 230h1M10 231h1M16 231h1M22 231h2M2 234h1M29 235h1M23 237h1M20 238h1M22 238h1M14 239h1M18 239h2M23 239h1M15 240h1M18 240h1M23 240h1M30 241h1M33 241h2M9 246h1M30 246h3M15 247h1M23 247h1M19 248h1M15 249h1M9 250h2M16 250h1M3 252h1M24 252h1M27 252h1M35 252h1M25 253h1M29 253h2M36 253h1M18 255h1M21 255h1M13 258h2M34 259h1M37 259h1M1 261h1M8 261h1M29 261h1M38 261h1M12 262h1M16 262h1M23 262h1M38 262h1M26 264h1M28 264h1M31 264h1M34 264h1M36 264h1M38 264h1M16 265h1M23 269h1M10 270h2M15 270h1M23 270h1M3 271h1M28 271h1M38 272h1M6 273h1M11 273h1M25 273h1M30 273h1M27 275h1M8 276h1M32 276h2M0 277h1M24 277h1M2 280h2M5 280h1M25 280h1M29 281h1M38 282h1M10 287h1M13 287h1M34 288h1M10 290h2M14 290h2M21 290h1M10 291h1M30 291h1M32 291h2M38 291h1M6 292h2M25 292h2M37 292h1M13 293h1M15 293h1M19 293h1M21 293h1M13 297h1M16 297h1M23 297h1M5 298h1M25 298h1M20 299h1M10 303h1M15 303h1M8 304h1M19 306h3M23 306h1M13 307h1M6 308h1M28 308h3M3 309h1M9 311h1M14 311h1M6 312h1M1 313h1M8 313h1M27 313h1M4 315h1M17 318h1M22 318h1M24 318h1M26 318h1M28 318h1M30 318h1M28 320h1M11 324h1M34 325h1M16 327h4M23 327h1M32 327h1M12 328h1M14 328h1M0 329h2M11 330h1M21 330h1M32 331h1M9 333h1M30 337h1M32 337h1M34 337h1M13 338h1M24 343h1M12 345h1M14 345h1M20 345h1M11 346h1M15 346h1M17 346h1M19 346h1M16 347h1M21 347h1M23 347h1M32 348h1M35 348h3M16 349h1M12 351h1M14 351h1M16 351h1M20 351h1M24 352h1M10 353h1M13 353h1M17 353h1M21 353h2M7 356h1M12 356h1M29 356h1M31 356h1M36 356h1M6 358h1M25 358h1M30 358h1M37 358h1M27 359h1M30 359h1M37 359h1M13 360h2M17 361h1M15 362h2M19 362h1M21 362h1M3 365h1M7 365h1M35 365h1M19 367h1M3 369h1M29 369h1M2 376h2M12 377h1M16 377h1M19 377h1M34 377h1M13 379h1M23 379h1M26 380h1M11 381h1M18 381h1M24 382h1M30 382h1M34 382h1M37 382h1M9 386h1M13 386h2M18 386h1M38 386h1M12 387h1M9 390h2M12 390h1M17 390h1M21 390h3M10 391h1M14 391h1M20 391h1M13 392h2M18 392h1M37 393h1M24 395h2M12 396h1M14 399h2M21 399h1M16 400h1M26 401h1M34 404h1M2 405h1M34 405h1M26 406h1M32 406h1M12 407h2M4 408h1M8 408h1M28 412h2M25 413h1M34 413h1M33 414h1M10 416h1M21 416h1M2 418h1M28 418h1M37 418h1M6 420h1M24 420h1M32 420h1M12 422h1M15 422h1M21 422h1M23 422h1M5 423h1M18 426h1M17 427h1M2 428h1M31 428h1M8 429h1M25 429h1M27 429h1M35 429h1M17 430h1M29 430h3M34 430h1M38 430h1M8 431h1M27 431h1M30 431h1M0 433h1M5 433h1M4 435h1M27 435h1M5 437h1M31 438h1M17 441h1M20 441h1M1 444h1M15 445h1M35 445h1M37 445h1M17 449h1M19 449h2M2 450h1M4 450h2M8 450h1M26 450h1M31 450h1M36 450h1M38 450h1M18 451h1M22 451h1M31 451h1M34 451h1M10 452h1M13 452h1M21 452h1M14 456h1M23 456h1M12 457h1M16 457h1M29 461h1M33 461h2M10 463h1M16 463h1M18 463h1M21 463h1M4 464h1M29 464h1M25 466h1M34 466h1M13 467h1M20 467h2M19 468h1M9 470h1M17 470h1M20 470h1M22 470h1M34 470h1M36 470h2M19 471h1M23 471h1M31 471h2M35 471h1M37 473h1M16 474h1M20 474h1M16 475h1M22 475h2M9 476h1M11 476h1M20 476h1M30 476h1M9 478h2M12 478h2M20 478h1M23 478h1"/>
<path stroke="#6060b0" d="M27 0h1M33 0h1M9 3h1M12 3h1M19 3h1M32 5h1M23 7h1M23 8h1M36 10h1M6 16h1M16 21h1M33 22h1M17 24h1M4 25h1M5 32h1M28 32h1M1 35h1M8 35h1M22 37h1M38 37h1M30 40h2M20 41h1M2 43h1M31 47h1M6 51h1M8 51h1M22 54h1M3 55h1M36 56h1M21 59h1M4 61h1M26 67h1M32 67h1M37 67h1M18 68h1M20 68h1M25 71h1M28 71h1M37 71h1M33 72h1M9 76h1M23 78h1M11 80h1M13 80h1M34 81h1M36 81h1M9 84h1M21 85h1M28 87h1M2 91h1M10 92h1M16 92h1M36 92h1M1 94h1M4 94h1M19 97h1M24 102h1M26 104h1M32 104h1M6 105h1M27 105h1M4 108h1M19 110h1M33 110h1M36 110h1M9 114h1M23 114h1M28 116h1M38 116h1M27 118h1M16 119h1M16 120h1M27 120h1M6 123h1M27 124h1M27 125h1M25 127h1M34 127h1M15 133h1M23 133h1M33 133h1M37 133h1M13 134h1M4 136h1M3 139h1M2 142h1M34 142h1M17 150h1M22 152h1M10 153h1M10 154h1M19 154h1M14 160h1M27 164h1M0 166h1M25 166h1M7 167h1M37 167h1M29 169h1M32 173h1M37 173h1M11 184h1M31 185h1M11 186h1M2 189h1M5 191h1M36 191h1M19 193h2M9 194h1M12 194h3M6 197h1M25 197h1M35 203h1M15 206h1M21 206h1M3 207h1M8 207h1M35 207h2M25 209h1M7 210h1M17 212h1M27 213h1M32 213h1M34 214h1M8 216h1M17 221h1M19 222h1M26 223h1M14 228h1M21 228h1M1 234h1M0 235h1M16 239h1M24 244h1M25 245h1M12 246h1M32 247h2M21 250h1M28 251h1M1 252h1M11 252h1M12 254h1M11 255h1M23 255h1M14 259h1M26 260h1M23 264h1M35 264h1M25 268h1M27 268h1M19 270h1M25 271h1M9 272h1M3 277h1M37 277h2M9 280h1M20 287h1M13 288h1M15 291h1M16 292h1M4 296h1M22 297h1M11 299h1M1 304h1M12 307h1M18 307h2M7 308h1M34 308h1M35 318h1M25 320h1M23 324h1M4 325h1M3 329h1M31 329h1M16 330h1M10 333h1M2 341h1M23 342h1M20 346h1M31 352h1M19 356h1M21 356h2M38 356h1M34 358h1M14 359h1M22 360h1M14 361h1M18 362h1M34 365h1M31 367h1M36 367h1M5 369h1M13 372h1M17 372h1M21 372h1M0 376h1M25 376h1M37 376h1M11 379h1M6 380h1M24 380h1M20 381h1M15 382h1M35 385h1M19 387h1M5 388h1M13 390h1M21 391h1M23 391h1M12 392h1M17 392h1M5 395h1M7 395h1M14 396h1M25 398h1M28 398h1M18 400h1M7 405h1M28 408h1M29 410h1M31 412h1M21 413h1M37 413h1M32 414h1M4 415h1M13 416h1M6 418h1M33 418h1M2 419h1M4 419h1M25 419h1M1 420h1M3 428h1M8 428h1M15 429h1M37 430h1M16 431h1M32 431h1M37 431h1M28 433h1M1 436h1M21 443h1M26 444h1M35 444h1M22 445h1M7 450h1M24 450h1M34 450h1M32 451h1M16 456h1M23 457h1M20 461h1M8 462h1M14 463h1M34 464h1M8 465h1M31 465h1M36 465h1M10 467h1M0 469h1M10 470h1M21 470h1M19 473h1M10 476h1"/>
<path stroke="#606080" d="M32 0h1M11 2h1M17 2h1M20 2h1M13 4h1M11 15h1M17 16h1M31 16h1M11 18h1M18 18h1M2 19h1M6 19h1M18 19h2M18 20h1M13 22h1M17 22h1M19 22h1M23 25h1M6 27h1M10 27h1M15 27h1M24 27h1M10 28h1M15 28h1M20 28h1M38 28h1M14 29h1M16 29h1M23 29h1M7 32h1M30 32h1M33 32h1M22 35h1M13 37h1M19 40h1M12 42h1M16 42h1M19 42h1M31 42h1M9 43h1M33 45h1M20 46h1M26 46h1M31 46h1M13 47h1M18 47h1M15 48h1M23 48h1M23 50h1M12 51h1M14 51h1M18 51h1M18 52h1M22 52h1M18 55h1M33 56h1M17 58h1M23 58h1M37 58h1M4 60h1M17 60h1M24 60h1M30 60h1M38 60h1M8 61h1M20 61h1M37 64h2M16 66h1M10 67h1M22 67h1M15 70h2M23 70h1M11 71h2M27 71h1M31 71h1M20 72h1M9 73h1M24 74h1M32 74h1M19 75h1M9 80h1M22 82h1M27 82h1M10 83h1M38 83h1M13 84h1M1 86h1M4 86h1M36 86h1M38 86h1M21 87h1M5 90h1M14 91h1M28 91h1M14 92h1M15 94h1M30 94h1M33 94h1M35 94h1M5 95h1M8 95h1M13 95h1M19 95h1M21 95h2M36 95h1M16 100h2M31 100h1M5 101h2M15 101h1M19 101h1M24 101h1M30 101h1M37 101h1M12 102h1M16 102h1M19 102h1M14 104h1M1 105h1M4 105h2M12 105h1M25 105h1M36 105h1M38 105h1M32 107h1M9 108h1M3 112h3M17 112h1M32 112h1M38 112h1M2 113h2M5 113h1M22 113h1M24 113h1M29 113h1M33 113h1M21 118h1M38 118h1M10 120h1M17 120h1M11 121h1M13 121h1M38 121h1M11 123h1M27 123h1M38 123h1M13 124h2M18 124h1M23 124h1M34 124h1M6 125h1M8 125h1M11 125h1M13 125h1M15 127h1M31 127h1M23 130h1M28 130h1M35 130h1M9 131h1M24 131h1M27 135h1M34 136h1M21 139h2M37 139h1M0 140h1M8 140h1M14 142h1M16 142h1M19 142h1M22 142h1M33 142h1M12 145h1M32 146h1M24 147h1M32 147h1M38 147h1M1 148h2M37 148h1M20 149h1M25 149h1M38 149h1M11 151h1M15 151h1M22 151h1M38 151h1M15 155h1M20 155h1M32 155h1M38 155h1M9 159h1M11 159h1M22 159h1M24 159h1M38 159h1M16 160h1M20 162h1M27 162h1M10 163h2M17 163h1M8 164h1M21 164h1M30 164h1M20 165h1M6 166h2M11 166h1M14 166h1M16 166h1M4 167h1M8 167h1M16 167h1M24 167h1M26 167h1M31 167h1M36 167h1M0 169h1M4 169h1M7 169h1M28 169h1M32 169h1M37 169h1M38 176h1M19 177h1M0 179h1M23 179h1M5 181h1M18 181h1M31 181h1M12 182h1M11 185h1M15 185h1M9 186h1M1 187h1M6 187h1M33 187h1M24 189h1M21 190h1M27 190h1M35 190h1M15 191h1M19 191h1M38 191h1M34 192h1M13 195h1M15 195h1M4 196h1M21 196h1M23 196h1M29 196h1M32 196h1M19 197h1M21 197h1M12 199h1M25 199h2M28 199h1M5 200h1M26 200h2M38 200h1M2 201h1M12 202h1M19 203h1M21 203h1M9 204h1M12 205h2M32 205h1M34 205h2M11 207h2M19 207h1M21 207h1M31 207h1M8 208h1M17 208h1M23 208h2M33 208h1M4 209h1M33 209h1M13 210h2M16 210h1M30 210h1M34 210h1M7 211h1M11 211h1M16 211h1M19 211h1M33 213h1M19 214h1M3 215h1M9 215h1M12 215h1M15 215h1M17 215h1M26 215h1M29 215h1M10 216h1M30 216h1M38 216h1M0 223h1M13 223h1M24 223h1M27 223h1M12 224h3M30 224h1M13 225h1M16 225h1M13 226h1M36 226h1M3 227h1M8 227h1M15 229h1M10 230h1M21 230h1M4 232h1M10 232h1M17 232h2M23 232h1M26 232h1M15 233h1M5 234h1M35 234h1M33 235h1M28 236h1M4 242h1M10 242h1M13 242h1M17 242h1M21 242h1M29 242h1M5 244h1M10 244h1M20 244h1M38 245h1M17 252h1M13 256h1M5 263h1M7 263h1M10 263h1M15 263h1M16 264h1M34 267h1M10 271h1M17 271h1M22 271h1M11 272h2M18 272h2M19 273h1M3 274h1M17 274h1M21 274h1M30 274h1M15 277h1M18 277h1M0 278h2M8 278h1M13 278h1M3 279h2M27 279h1M12 280h1M14 280h1M16 280h1M19 280h1M21 280h1M23 280h1M14 281h1M0 283h1M12 283h1M18 283h1M30 283h2M35 283h1M18 286h1M21 286h1M32 286h2M9 288h1M2 289h1M26 289h4M12 292h1M18 294h1M29 294h1M33 294h1M19 295h1M6 296h1M15 296h1M24 296h3M8 298h1M14 298h1M18 298h1M36 304h1M11 305h1M19 305h1M8 309h1M17 309h1M35 309h1M9 310h1M20 310h1M30 310h1M18 312h1M22 312h1M19 313h1M9 314h1M11 314h2M19 314h2M20 315h1M34 315h1M4 316h1M13 316h1M32 316h1M5 317h1M14 317h1M25 317h1M31 317h1M19 319h1M36 319h1M21 322h1M23 322h1M32 322h1M15 325h1M20 325h1M6 326h1M20 326h1M13 329h1M15 329h1M3 332h1M7 332h1M10 332h1M14 332h1M18 332h1M35 332h1M0 336h1M16 336h1M19 336h1M0 339h1M13 339h1M18 339h1M28 344h1M13 352h1M20 352h1M38 352h1M1 355h1M12 355h2M16 355h2M16 356h1M35 357h1M38 357h1M18 359h1M26 366h1M21 368h1M27 368h1M34 368h1M22 370h1M38 371h1M12 374h1M32 374h1M35 374h1M38 374h1M10 378h1M16 378h1M21 380h1M23 380h1M33 380h1M5 383h1M28 383h1M38 383h1M7 384h2M22 384h1M34 384h1M8 385h1M36 385h2M0 388h1M6 388h1M13 388h1M18 388h1M21 388h2M33 388h1M36 388h1M9 389h1M12 393h1M6 395h1M36 395h1M19 397h2M31 397h1M36 397h1M8 398h1M14 398h1M16 398h1M21 398h1M26 398h1M34 398h1M15 402h1M19 402h1M35 402h2M15 403h1M22 403h1M14 404h1M11 405h1M22 405h1M11 408h1M13 408h1M18 408h1M22 408h1M13 409h1M32 409h1M11 410h1M16 410h2M22 410h1M31 410h1M19 412h1M20 413h1M21 415h1M30 415h1M34 415h1M16 417h1M33 417h1M37 417h1M10 418h1M23 418h1M38 418h1M1 419h1M7 419h1M14 419h1M30 419h1M9 421h1M11 421h1M18 421h1M28 421h1M31 423h1M19 424h1M11 428h1M20 429h1M9 431h1M14 432h1M17 432h1M19 432h1M23 432h1M36 432h1M8 433h1M13 433h1M15 433h1M23 433h2M29 433h1M11 435h1M17 435h1M24 435h1M30 435h1M3 436h1M18 436h2M9 437h1M11 439h1M16 439h2M22 439h1M10 440h1M20 440h1M27 440h1M30 440h1M35 440h1M12 442h1M14 442h1M20 442h1M24 442h1M17 444h1M20 444h1M19 446h2M25 446h1M18 447h1M25 447h1M32 447h1M10 450h1M15 450h1M14 451h1M14 453h1M1 454h1M5 454h1M23 454h1M30 454h1M34 454h1M13 458h1M16 458h1M6 459h1M9 461h1M18 461h1M13 462h1M16 462h1M24 462h2M14 464h1M18 464h1M20 464h2M30 465h1M34 465h1M16 466h2M6 469h1M19 469h1M35 469h1M18 470h1M13 472h1M26 472h1M11 473h1M18 473h1M21 477h1M37 477h1M28 479h1M34 479h1"/>
<path stroke="#c0c070" d="M0 1h1M2 1h1M6 1h1M24 1h1M29 1h1M19 6h1M20 9h1M32 14h1M8 24h1M29 24h1M29 30h1M20 36h1M32 39h1M4 41h1M7 44h1M0 52h1M14 62h1M1 63h1M26 68h1M8 72h1M5 73h1M3 84h1M38 85h1M22 88h1M11 89h1M37 96h1M31 98h1M6 109h1M4 110h1M4 114h1M27 115h1M31 115h1M37 115h1M36 117h1M36 119h1M22 126h1M13 128h1M37 138h1M6 144h1M7 153h2M30 153h1M7 154h1M21 156h1M21 158h1M21 161h1M26 172h1M24 175h1M28 183h1M35 188h1M31 217h1M7 218h1M33 221h1M36 231h2M32 237h1M34 239h1M38 239h1M16 240h1M31 249h1M30 255h1M38 255h1M0 257h1M23 258h1M2 262h1M5 262h1M24 262h1M17 265h1M4 288h1M32 290h1M33 300h1M9 302h1M0 324h1M5 324h2M8 334h1M18 335h1M22 335h1M2 343h1M8 343h1M36 345h1M35 346h2M25 349h1M23 354h1M1 356h1M37 361h1M29 362h1M27 363h1M32 381h1M24 387h2M5 391h1M7 391h1M37 396h1M36 416h1M0 438h1M7 438h1M6 449h1M25 449h1M10 455h1M2 456h1M24 476h1M28 476h1"/>
<path stroke="#7070d0" d="M1 1h1M1 7h1M7 30h1M26 30h1M35 30h1M6 41h1M31 49h1M2 50h1M27 54h3M2 63h1M35 69h1M7 73h1M3 77h1M29 85h1M7 92h1M29 97h1M5 115h1M7 119h1M4 134h3M30 141h1M0 143h1M2 143h1M7 152h1M27 153h1M1 154h1M26 154h1M31 168h1M35 170h1M36 178h1M5 184h1M35 193h2M38 193h1M24 194h1M3 206h1M8 206h1M8 218h1M2 220h1M6 220h1M5 222h1M35 250h1M35 269h1M36 270h1M10 285h1M3 291h1M32 293h1M35 293h1M34 297h1M31 299h1M35 300h1M29 330h1M25 334h1M28 345h1M36 362h1M30 372h1M2 377h1M24 377h1M30 379h1M30 381h1M35 381h1M35 392h1M2 451h1M27 463h1M34 463h1M2 471h1M36 474h1"/>
<path stroke="#f0f060" d="M3 1h1M5 1h1M7 1h2M26 1h1M28 1h1M2 5h2M9 9h1M11 11h1M9 12h1M0 13h2M4 13h1M8 13h1M25 13h2M12 17h1M23 17h1M33 24h1M5 31h1M8 31h1M17 33h1M20 33h1M23 33h1M10 34h1M13 34h1M16 34h1M21 34h1M12 36h2M22 36h1M36 39h1M0 41h1M2 41h1M7 41h1M3 47h1M29 47h1M5 50h3M4 52h1M7 52h1M12 53h1M8 54h1M31 57h1M27 68h1M37 68h1M0 72h6M7 72h1M28 73h1M6 76h1M26 77h1M38 77h1M18 79h1M22 79h2M1 84h1M4 84h1M6 84h1M24 84h1M23 89h1M34 96h1M26 97h1M32 98h2M33 99h1M15 106h1M27 109h1M29 109h1M0 110h3M7 110h1M32 111h1M36 111h1M26 114h1M28 114h1M34 114h1M37 114h1M26 115h1M29 115h1M34 115h1M34 117h1M30 119h1M16 128h1M31 129h1M36 129h1M30 144h1M33 144h1M35 144h3M35 150h1M37 150h2M24 152h1M22 156h1M10 158h1M14 158h1M18 158h1M24 160h1M10 161h1M12 161h1M16 161h2M36 168h1M31 172h1M10 174h1M8 175h1M3 177h1M14 180h1M22 180h1M24 183h4M34 183h4M27 184h2M30 184h1M4 186h1M27 186h1M37 193h1M0 195h1M18 198h1M0 204h3M4 204h2M7 204h1M11 219h1M14 219h1M16 219h1M18 219h1M23 219h1M3 222h1M6 222h1M1 225h1M3 225h1M5 225h1M4 230h1M33 237h1M35 237h1M21 238h1M27 241h1M0 247h1M2 247h1M5 247h1M7 247h1M32 249h1M35 249h1M37 249h1M1 253h1M26 253h1M2 254h1M5 254h1M8 254h1M36 255h1M4 257h2M12 258h1M25 262h1M28 262h1M0 264h1M2 264h1M8 264h1M9 266h1M21 266h3M17 269h1M38 270h1M4 276h1M6 276h1M28 276h1M4 281h1M24 281h1M21 284h1M9 285h1M16 285h1M22 285h1M33 290h1M0 295h9M28 295h1M19 302h1M36 303h1M12 306h1M35 307h1M12 311h1M1 318h2M5 318h1M7 318h1M16 321h1M1 324h1M29 324h1M0 327h1M2 327h1M5 327h2M26 327h1M16 328h1M6 331h3M24 331h1M35 331h1M33 333h1M0 334h3M6 334h2M13 335h1M19 335h1M21 335h1M3 337h1M15 338h1M7 343h1M27 343h1M30 346h1M38 346h1M18 347h1M33 349h1M36 349h1M38 349h1M0 359h1M4 359h1M31 361h1M8 363h1M25 363h1M0 367h1M33 381h1M38 381h1M1 382h1M5 382h1M1 386h1M29 387h1M32 390h1M4 391h1M31 391h1M33 391h1M20 396h1M13 399h1M13 411h1M35 416h1M37 416h1M33 426h1M3 438h1M24 438h3M10 441h1M3 443h1M5 443h1M7 443h1M27 443h1M29 443h1M3 445h1M5 445h1M7 449h2M36 449h1M23 452h1M36 457h1M9 460h1M14 460h2M18 460h1M20 460h2M1 466h2M5 466h1M11 468h1M13 468h1M15 468h1M1 473h1M25 473h1"/>
<path stroke="#e0e060" d="M4 1h1M7 5h1M27 5h1M18 6h1M14 12h1M28 13h1M32 13h1M13 17h1M37 21h1M30 24h1M38 31h1M9 34h1M19 34h1M34 39h1M38 39h1M8 44h1M6 54h1M32 57h1M37 57h1M32 84h1M18 89h1M5 92h1M16 106h1M38 109h1M8 114h1M23 128h1M4 133h1M31 144h1M34 144h1M32 150h1M34 150h1M12 156h1M17 157h1M21 157h1M26 184h1M29 186h1M9 188h1M2 195h1M8 204h1M34 237h1M36 239h1M20 240h1M10 243h1M8 247h1M38 249h1M4 261h1M0 262h1M20 265h1M1 276h1M35 276h1M27 281h1M17 285h4M25 295h1M9 300h1M10 302h1M16 307h1M16 311h1M28 324h1M31 331h1M33 331h1M17 335h1M19 340h1M37 346h1M20 347h1M21 351h2M15 354h1M3 356h1M2 359h1M6 359h1M35 363h1M35 372h1M9 379h1M17 379h1M3 382h1M9 392h1M20 392h1M9 396h1M24 413h1M30 426h1M27 438h1M12 441h1M19 441h1M1 445h1M32 449h1M37 449h1M22 452h1M13 455h1M19 455h1M8 466h1M15 478h1"/>
<path stroke="#c0b060" d="M9 1h1M5 35h1M5 42h1M2 75h1M22 98h1M20 237h1M24 245h1M10 249h1M21 264h1M35 291h1M5 305h1M38 312h1M22 345h1M13 347h1M11 360h1M18 367h1M7 444h1"/>
<path stroke="#f0f050" d="M12 1h1M15 1h1M17 1h1M20 1h2M23 1h1M30 1h1M10 3h1M24 4h1M30 4h2M34 4h1M14 5h1M20 5h1M31 5h1M0 10h3M4 10h4M33 10h1M19 13h1M34 13h1M36 13h1M23 14h1M0 16h1M7 16h2M5 18h1M24 18h1M34 18h1M36 18h1M38 18h1M9 21h1M13 21h1M7 25h1M5 26h1M6 28h1M8 28h1M0 29h1M29 29h1M15 30h1M4 35h1M24 35h1M27 35h1M26 38h2M29 38h3M34 38h2M37 38h1M9 39h1M19 39h1M2 40h2M6 40h2M33 40h1M9 41h1M29 42h1M9 48h1M13 48h1M17 48h1M19 48h1M25 48h1M28 48h1M32 48h1M5 51h1M25 51h1M33 51h1M35 52h1M21 63h1M23 63h1M1 64h3M2 67h1M5 67h1M4 71h1M12 73h1M0 75h1M26 75h2M13 77h1M20 80h1M25 80h2M34 80h1M38 80h1M12 81h1M27 83h1M37 83h1M7 93h1M31 93h1M27 94h2M23 98h1M25 100h1M2 101h1M1 104h4M6 104h1M8 104h1M0 107h3M4 107h1M7 107h1M28 107h3M29 108h1M9 111h1M12 111h1M14 111h2M18 111h1M15 115h2M19 115h1M1 116h1M29 116h1M18 117h1M21 117h1M23 117h1M4 118h1M11 119h1M22 119h1M34 120h1M3 122h6M24 122h2M27 122h3M2 123h2M1 125h2M10 129h4M15 129h1M17 129h1M19 129h4M0 132h1M3 132h1M7 132h2M24 132h1M31 132h3M38 132h1M19 133h1M0 135h2M4 135h2M8 135h1M24 135h1M26 135h1M12 138h1M7 142h1M28 142h1M10 144h1M14 144h1M17 144h1M19 144h1M13 150h1M19 150h1M9 152h1M11 152h1M13 153h1M12 157h1M18 157h1M20 157h1M1 159h1M0 163h1M3 163h1M6 163h2M24 163h1M26 163h2M31 163h3M36 163h2M22 171h1M20 172h1M13 173h1M19 173h1M0 176h1M7 176h1M6 177h2M13 183h1M15 183h6M22 183h2M0 185h1M8 185h1M17 186h1M31 186h1M34 186h1M38 186h1M2 187h1M26 189h1M1 191h2M6 195h1M8 195h1M29 195h1M35 195h1M37 195h1M2 197h1M5 199h2M37 203h1M16 204h1M19 204h1M38 204h1M17 206h1M2 208h1M4 208h2M0 209h4M5 209h1M3 210h1M6 210h1M33 210h1M35 210h2M6 212h1M8 212h1M33 212h1M36 213h1M4 214h1M27 214h1M31 214h1M2 215h1M9 217h1M19 217h1M23 217h1M11 222h1M6 225h3M11 225h1M18 225h1M21 225h1M25 225h1M28 225h1M7 230h1M22 230h1M24 230h1M26 230h1M28 230h5M35 230h3M12 231h1M14 231h1M24 234h1M30 235h1M37 235h1M10 237h1M9 239h1M0 245h1M2 245h1M5 245h1M8 245h1M27 245h1M38 246h1M16 247h1M23 249h1M0 251h2M3 251h1M12 253h1M37 253h1M6 257h1M8 257h2M15 257h6M22 257h1M24 257h3M28 257h2M31 257h5M36 262h1M25 267h1M28 267h1M1 268h1M3 268h1M16 270h1M22 270h1M21 276h1M24 280h1M27 280h1M10 281h1M19 281h1M22 281h1M31 281h1M0 282h9M29 282h1M6 283h1M24 283h1M26 283h1M27 286h1M14 287h1M17 287h1M22 288h1M29 288h1M9 291h1M0 292h1M8 292h1M27 292h1M38 292h1M12 295h2M17 295h1M32 295h1M34 295h1M37 295h1M27 298h1M29 298h1M34 298h1M10 300h1M12 300h1M15 300h1M21 300h1M13 303h1M0 304h1M4 304h1M24 304h1M28 304h1M0 305h1M6 305h2M27 305h1M32 305h1M37 305h2M11 307h1M5 309h1M28 309h1M0 312h3M4 312h2M7 312h2M27 312h4M32 312h1M36 312h2M0 313h1M33 313h1M0 314h1M6 314h2M24 314h1M26 314h1M9 318h1M15 318h1M18 318h1M5 319h1M24 319h1M26 319h1M32 319h2M35 319h1M1 320h2M4 320h2M7 320h1M31 320h1M33 320h2M37 320h1M4 322h2M7 322h2M26 322h1M32 324h2M35 324h1M5 326h1M15 327h1M2 329h1M9 331h2M17 333h1M22 334h1M32 334h1M36 334h1M10 340h5M16 340h2M23 340h1M16 342h1M1 344h2M4 344h2M26 344h1M16 345h1M17 348h4M10 349h3M18 349h2M17 351h1M19 351h1M1 352h1M3 352h1M2 355h1M36 358h1M12 359h1M22 359h1M17 360h1M23 360h1M21 361h1M20 363h1M37 363h1M1 365h1M8 365h1M11 367h1M13 367h1M6 369h1M24 369h2M28 369h1M31 369h1M0 370h9M28 370h2M27 371h1M31 371h1M34 371h1M18 372h2M0 375h3M7 375h2M27 375h2M4 376h1M6 376h1M10 379h1M4 380h2M34 380h1M6 382h1M8 382h1M0 385h1M2 385h1M5 385h1M22 387h1M15 390h1M5 393h1M0 397h2M21 400h1M1 401h2M33 401h1M8 402h1M25 402h1M0 410h3M8 410h1M1 412h1M3 412h1M6 412h1M25 412h2M30 412h1M38 412h1M0 417h6M7 417h2M25 417h2M28 417h1M26 420h1M2 423h1M29 423h1M36 423h1M11 426h1M11 427h2M15 427h2M21 427h3M25 428h1M27 428h1M33 428h1M36 428h1M10 430h1M15 430h1M22 430h1M7 431h1M1 433h1M3 433h1M26 433h1M28 435h1M0 437h2M4 437h1M28 437h1M34 437h1M12 438h1M17 438h1M19 438h1M34 438h1M3 444h1M0 448h2M3 448h1M5 448h1M26 448h1M29 448h1M37 448h1M0 450h1M0 453h5M14 457h1M26 459h2M29 459h1M25 461h1M3 462h2M26 462h1M6 464h1M27 464h1M37 464h1M0 465h1M6 465h2M27 465h1M24 466h1M26 466h1M29 466h1M32 466h2M37 466h2M16 467h1M11 471h1M22 471h1M0 472h1M3 472h1M5 472h1M32 473h1M10 474h1M21 475h1"/>
<path stroke="#808080" d="M25 1h1M32 3h1M35 3h1M38 3h1M4 5h1M29 5h1M10 6h1M12 6h3M17 6h1M20 6h1M33 7h2M36 7h1M32 8h1M37 8h1M22 9h1M9 11h1M12 11h1M17 11h2M21 11h2M11 12h1M20 12h1M24 13h1M36 14h1M30 21h1M9 23h1M16 23h1M19 23h1M21 23h2M6 24h2M31 24h1M35 24h1M38 24h1M33 30h1M4 31h1M24 31h1M30 31h2M35 31h1M11 33h1M14 33h1M18 33h1M22 33h1M11 34h1M10 36h1M14 36h2M35 39h1M37 39h1M5 41h1M33 41h1M38 41h1M25 44h1M27 44h1M4 47h1M28 47h1M2 48h1M4 48h2M26 48h1M29 48h1M15 49h1M19 49h1M22 49h1M3 50h1M25 50h1M1 52h3M5 52h1M24 52h1M11 53h1M13 53h1M15 53h1M20 53h1M23 53h1M0 54h1M31 54h1M36 59h1M9 62h1M12 62h1M18 62h2M26 63h1M18 65h1M6 68h1M24 68h2M29 68h1M33 68h1M24 72h2M24 73h1M27 73h1M6 77h2M29 77h1M36 77h2M36 78h1M10 79h1M2 80h1M24 80h1M29 81h1M2 84h1M29 84h1M35 85h1M9 88h1M18 88h1M21 89h1M1 92h4M29 92h1M2 97h1M35 97h1M9 106h1M18 106h2M22 106h2M2 109h1M5 109h1M25 109h1M31 109h1M33 109h1M0 114h1M2 114h1M28 115h1M38 115h1M35 117h1M38 117h1M32 119h1M34 119h1M38 119h1M10 126h2M16 126h1M20 126h1M21 128h2M1 129h1M6 129h3M35 129h1M5 133h1M25 133h2M29 134h2M32 134h1M36 134h1M38 134h1M10 137h1M13 137h1M18 137h4M25 143h1M34 143h1M36 143h1M35 152h4M24 153h1M28 153h1M33 153h3M0 154h1M3 154h1M6 154h1M9 156h1M11 156h1M14 156h3M23 156h1M13 157h2M16 157h1M19 158h1M0 160h1M26 160h1M18 161h1M22 161h1M30 168h1M30 170h1M32 171h1M6 172h1M25 172h1M32 172h3M36 172h1M22 174h1M29 175h1M37 175h1M24 177h1M32 178h1M38 178h1M9 180h2M13 180h1M16 180h1M23 180h1M8 183h1M33 183h1M29 184h1M33 184h2M38 184h1M0 186h1M7 186h1M17 188h1M30 193h2M31 194h1M35 194h1M28 195h1M10 198h1M13 198h1M20 198h1M2 203h2M15 217h1M3 218h4M34 218h1M36 218h1M22 219h1M26 220h1M29 220h2M2 222h1M7 222h1M27 222h1M0 225h1M27 225h1M35 228h1M9 238h1M12 238h1M31 239h1M9 240h2M13 240h1M17 240h1M21 240h1M3 241h1M8 241h1M38 241h1M9 243h1M11 243h1M13 243h1M17 243h1M19 243h2M23 243h1M1 246h1M8 246h1M24 246h1M27 246h1M34 246h1M1 247h1M6 247h1M25 247h1M28 247h1M36 247h1M13 248h1M21 248h2M25 254h4M37 254h1M20 258h1M1 259h1M25 259h1M27 259h1M3 262h1M6 262h1M26 262h2M29 262h1M1 264h1M3 264h2M21 265h2M14 266h1M17 266h1M11 269h2M15 269h1M32 270h4M27 273h2M0 276h1M11 284h1M15 284h2M18 284h1M22 284h2M12 285h1M31 287h1M27 288h1M6 291h1M25 291h3M5 292h1M10 293h1M32 299h1M34 299h2M31 300h1M11 301h1M18 301h1M20 301h1M11 302h2M15 302h1M17 302h1M20 302h1M22 302h1M31 303h1M35 303h1M37 303h1M9 306h1M38 307h1M0 308h1M13 311h1M17 311h1M22 311h1M6 318h1M13 321h2M17 321h1M13 323h1M15 323h1M21 323h1M2 324h1M7 324h2M24 324h1M26 324h1M4 327h1M24 327h2M10 328h1M13 328h1M21 328h1M33 330h1M35 330h1M25 331h1M27 331h1M27 334h1M23 335h1M2 337h1M28 337h1M10 338h1M12 338h1M17 338h1M21 338h2M0 342h3M29 343h1M31 345h1M32 346h3M11 347h1M1 348h1M5 348h1M26 348h2M12 350h2M19 350h2M38 351h1M19 353h2M13 354h2M16 354h3M21 354h2M2 356h1M6 356h1M24 356h1M3 358h1M27 358h1M1 359h1M5 359h1M7 359h1M29 359h1M35 360h2M31 362h1M35 362h1M24 367h1M26 367h1M29 367h1M34 372h1M6 386h1M32 386h1M26 387h1M32 387h2M36 387h1M1 391h1M8 391h1M29 391h1M35 391h1M30 392h1M37 392h1M11 394h2M14 394h1M18 394h1M9 399h2M17 399h1M37 400h1M0 406h1M15 411h1M18 411h2M22 411h1M5 413h1M29 413h1M30 416h1M22 422h1M7 426h1M27 426h1M38 426h1M4 430h1M8 430h1M6 438h1M28 438h1M33 438h1M9 441h1M21 441h1M1 443h1M31 443h1M37 443h2M4 445h1M7 445h1M31 449h1M34 449h1M38 449h1M5 451h1M7 451h2M12 452h1M14 452h1M9 455h1M11 455h2M15 455h1M5 456h2M8 456h1M25 456h1M32 457h1M12 460h1M16 460h1M19 460h1M1 461h1M33 463h1M4 466h1M7 466h1M31 467h1M33 467h1M37 467h2M9 468h1M12 468h1M14 468h1M16 468h3M20 468h1M22 468h1M4 470h1M6 470h1M24 470h1M5 471h1M25 471h1M34 471h1M2 473h1M5 473h1M7 473h1M29 473h1M30 475h1M37 475h1M35 476h1M16 478h1"/>
<path stroke="#6060e0" d="M27 1h1M27 13h1M3 37h1M29 37h1M32 37h1M37 37h1M24 43h1M32 47h1M8 50h1M30 50h1M38 50h1M7 51h1M17 53h1M23 57h1M32 63h2M26 72h1M32 77h1M5 80h1M31 81h1M37 84h1M26 92h1M11 99h1M5 120h1M13 138h1M20 138h1M21 141h1M25 154h1M32 154h1M37 154h1M33 170h1M2 173h1M27 177h1M6 182h1M4 197h1M34 204h1M36 206h1M3 214h1M24 225h1M18 228h1M20 231h1M25 261h1M1 262h1M13 269h1M4 273h1M29 277h1M5 288h1M3 292h1M10 297h1M17 297h1M10 306h1M22 306h1M23 321h1M20 323h1M37 334h1M27 337h1M4 342h1M29 342h1M3 348h1M15 353h1M26 356h1M25 359h1M30 362h1M22 364h1M25 367h1M30 367h1M35 367h1M11 372h1M30 377h1M37 377h1M8 393h1M26 393h1M4 404h1M4 405h1M1 406h1M8 406h1M11 411h1M20 411h1M34 416h1M0 451h1M3 451h1M35 451h1M31 456h1M17 457h1M37 463h1M0 470h1M5 470h1M32 470h1M9 475h1M20 475h1M31 476h2"/>
<path stroke="#707090" d="M32 1h1M34 2h1M11 3h1M8 5h1M26 5h1M33 5h1M9 6h1M32 7h1M20 8h1M22 8h1M14 9h2M16 11h1M19 11h1M5 13h1M30 13h2M1 20h1M4 20h1M6 20h1M19 21h1M34 21h1M10 23h1M12 23h2M15 23h1M20 23h1M18 24h1M0 25h1M34 31h1M36 31h2M19 33h1M23 36h1M0 37h1M24 40h1M37 41h1M27 43h1M31 44h1M2 47h1M18 49h1M2 51h1M17 57h1M10 59h1M13 59h1M16 59h2M22 62h1M13 63h1M30 63h1M10 65h1M13 65h1M15 65h1M17 65h1M19 69h2M22 69h1M29 76h1M36 76h1M34 77h1M20 78h1M12 79h1M30 80h1M35 80h1M37 80h1M33 81h1M38 81h1M10 85h1M14 85h1M16 88h1M18 96h2M33 97h1M17 99h1M21 99h2M14 106h1M3 107h1M10 109h1M15 109h1M32 110h1M37 110h1M33 114h1M25 116h1M13 117h1M16 117h1M19 117h1M18 119h1M4 120h1M6 120h1M29 120h1M9 126h1M21 126h1M0 127h1M15 128h1M20 128h1M6 132h1M34 133h1M12 137h1M22 137h1M11 138h1M16 141h1M0 142h2M27 142h1M17 143h1M23 143h1M10 150h1M32 152h1M33 154h1M17 156h1M19 156h1M10 157h1M4 160h1M38 160h1M17 168h2M20 168h1M15 170h1M19 170h2M14 171h1M17 171h1M22 172h1M30 172h1M16 174h1M9 175h1M15 175h1M20 175h1M23 175h1M34 177h1M11 178h1M22 178h2M7 182h1M26 182h1M35 182h1M18 184h1M36 184h1M4 185h1M8 186h1M28 186h1M10 188h1M21 188h1M13 193h2M23 193h1M11 194h1M17 194h1M34 194h1M36 194h1M38 194h1M26 195h1M34 195h1M3 197h1M16 198h1M2 202h1M28 202h1M38 203h1M28 204h1M14 206h1M27 210h1M7 212h1M3 213h1M7 214h1M32 220h1M35 220h1M34 222h1M15 228h1M19 228h1M2 230h2M25 230h1M18 231h1M21 231h1M19 237h1M18 238h2M31 241h2M36 241h1M36 246h2M12 248h1M23 248h1M12 249h1M11 250h1M18 250h1M20 250h1M2 251h1M2 252h1M38 252h1M5 253h1M10 254h1M13 255h1M17 255h1M19 255h1M9 258h1M16 258h1M18 258h1M28 259h1M30 259h1M35 259h1M6 261h1M31 262h1M30 264h1M9 265h1M18 265h2M14 269h1M16 269h1M17 270h1M21 270h1M0 272h1M29 273h1M32 273h1M37 273h1M0 275h1M27 276h1M25 277h1M32 277h1M34 280h1M34 281h2M30 282h1M32 282h1M36 282h1M23 285h1M16 287h1M22 287h1M24 288h1M33 288h1M37 288h1M1 292h1M4 292h1M9 293h1M11 293h2M20 293h1M18 297h2M21 297h1M0 298h1M22 299h1M9 301h1M17 303h2M38 308h1M7 313h1M24 313h1M33 318h1M3 325h1M25 325h2M36 327h1M9 328h1M11 328h1M19 328h1M34 330h1M38 331h1M29 334h1M34 334h1M15 335h1M5 337h1M7 337h2M29 337h1M9 338h1M16 338h1M20 340h2M26 342h1M35 342h1M5 343h1M33 343h1M37 343h1M9 345h1M15 345h1M14 346h1M16 346h1M17 347h1M6 348h1M16 350h1M21 350h1M11 353h1M35 356h1M1 358h2M33 358h1M3 359h1M28 359h1M38 359h1M38 361h1M14 362h1M17 362h1M34 363h1M9 364h1M11 364h1M13 364h1M16 364h1M6 365h1M31 365h1M38 377h1M22 379h1M10 381h1M16 381h1M25 382h1M33 386h2M21 387h1M16 390h1M15 391h1M16 392h1M3 393h1M6 393h1M30 393h1M32 393h1M13 394h1M22 394h1M16 396h1M16 399h1M19 400h1M23 400h1M0 404h1M16 407h3M20 407h1M3 408h1M3 410h1M14 411h1M28 413h1M4 414h1M28 414h1M9 416h1M19 416h1M2 420h3M13 422h1M32 426h1M1 429h1M5 429h1M26 429h1M0 430h1M7 430h1M18 441h1M26 445h1M29 445h1M10 449h1M27 450h2M33 451h1M9 452h1M15 452h1M13 456h1M32 456h1M34 456h1M36 456h1M11 457h1M15 457h1M18 457h1M8 461h1M26 461h1M36 461h1M32 463h1M0 464h1M5 464h1M28 470h1M33 470h1M33 471h1M30 473h1M14 475h1M17 475h1M19 475h1M16 476h1"/>
<path stroke="#b0b060" d="M33 1h1M37 1h1M26 2h1M26 4h1M36 4h1M21 8h1M10 13h1M30 16h1M2 18h1M8 18h1M6 25h1M24 26h1M3 27h1M5 27h1M13 30h1M35 40h1M11 41h1M1 42h1M3 43h1M10 44h1M17 47h1M13 50h1M30 51h1M36 51h1M21 54h1M17 63h2M20 63h1M6 67h1M7 70h1M15 73h1M16 77h1M19 77h1M21 77h1M11 78h1M15 78h1M16 80h1M32 80h1M36 80h1M22 81h1M38 84h1M37 93h1M32 94h1M19 98h1M12 99h1M19 99h1M35 107h1M0 108h1M33 108h1M16 111h1M10 115h1M13 115h1M20 115h1M0 116h1M11 117h1M5 118h1M2 122h1M26 122h1M29 127h1M14 129h1M28 132h1M35 132h1M2 135h1M29 135h1M31 135h1M1 136h1M3 136h1M1 139h1M15 150h1M7 151h1M26 151h1M14 153h1M16 153h1M23 153h1M0 159h1M2 159h1M8 159h1M30 160h1M37 160h1M6 162h1M16 171h1M9 173h1M16 173h1M22 173h1M24 176h1M3 185h1M10 186h1M32 186h1M0 187h1M8 187h1M29 192h1M7 197h1M23 203h1M11 204h1M29 208h1M19 212h1M38 212h1M24 213h1M11 214h1M17 214h1M11 217h1M17 217h1M15 220h1M20 220h1M10 221h1M35 225h1M4 226h1M1 227h1M17 231h1M27 235h1M15 237h1M11 239h1M33 245h1M35 245h1M11 247h1M18 249h1M25 251h1M36 251h1M33 253h1M38 253h1M37 257h1M32 259h1M24 260h1M10 261h1M20 261h1M22 262h1M14 264h1M38 271h1M34 276h1M7 277h1M17 281h1M21 281h1M38 281h1M13 282h1M7 283h1M19 287h1M25 288h1M18 291h1M29 292h1M36 295h1M14 300h1M11 303h1M31 304h1M36 309h1M6 310h1M20 312h1M26 312h1M2 314h1M6 319h1M29 319h2M3 320h1M0 322h2M25 322h1M15 324h1M22 324h1M9 325h1M26 329h1M22 330h1M11 331h1M20 333h1M35 337h1M22 342h1M14 343h1M11 348h1M23 348h1M31 348h1M20 349h1M23 349h1M2 352h1M10 359h1M9 361h1M19 361h1M9 362h1M10 363h1M16 363h1M11 365h1M30 365h1M15 367h1M17 367h1M23 367h1M7 369h2M35 369h1M30 370h1M24 371h1M36 371h1M4 375h1M26 375h1M26 376h1M1 380h1M28 380h1M36 380h1M8 383h1M19 390h1M18 391h2M34 395h1M5 398h1M4 401h1M1 402h1M24 405h1M16 406h1M19 406h1M22 406h1M0 408h1M2 408h1M8 412h1M27 414h1M35 414h1M38 414h1M32 417h1M35 417h1M25 418h1M8 420h1M30 420h1M14 426h2M20 427h1M24 428h1M11 429h1M33 429h1M11 430h2M14 430h1M6 437h2M27 437h1M30 437h1M9 438h2M18 438h1M26 442h1M9 443h1M19 445h1M3 447h1M12 456h1M36 458h1M25 459h1M32 461h1M3 464h1M28 464h1M37 465h1M22 466h1M22 467h1M24 469h1M13 471h1M23 473h1M33 473h1M38 473h1M14 476h1M2 479h1"/>
<path stroke="#a0a070" d="M34 1h1M33 3h1M34 5h1M15 6h1M31 8h1M13 11h1M12 12h1M18 12h1M7 13h1M29 13h1M33 13h1M38 13h1M12 14h1M16 14h1M30 14h1M10 17h1M16 17h1M31 21h1M36 21h1M25 22h1M9 30h1M32 31h1M9 33h1M15 33h1M21 33h1M21 36h1M25 37h1M10 39h1M13 39h1M5 40h1M28 40h1M29 44h1M37 44h1M7 48h1M24 48h1M9 49h1M16 49h2M34 50h1M0 51h1M18 53h1M9 57h1M38 57h1M9 59h1M20 59h1M20 62h1M30 68h1M38 68h1M28 84h1M11 88h1M23 88h1M16 89h1M20 89h1M0 92h1M32 92h1M4 93h1M14 99h1M37 99h1M21 106h1M3 110h1M29 114h1M31 114h1M38 114h1M30 115h1M15 117h1M22 117h1M23 119h1M37 119h1M8 120h1M25 120h1M14 126h1M10 128h1M14 128h1M1 133h1M3 133h1M31 133h1M14 141h1M32 143h2M21 144h1M12 153h1M18 156h1M20 156h1M3 160h1M13 161h1M11 171h1M18 171h1M23 174h1M12 180h1M17 180h1M5 182h1M30 183h1M13 188h1M1 195h1M24 195h1M26 204h1M31 206h1M37 206h1M3 212h1M5 212h1M14 217h1M30 218h1M18 221h1M19 231h1M11 237h1M23 238h1M32 239h1M3 247h1M10 248h1M13 249h1M20 249h1M12 250h1M23 250h1M2 253h1M35 253h1M11 258h1M8 259h1M8 262h1M34 262h1M37 262h1M5 264h1M9 269h1M19 269h1M14 270h1M31 270h1M24 273h1M24 276h1M26 276h1M31 276h1M5 281h1M25 281h1M24 282h1M28 282h1M21 285h1M15 287h1M1 288h2M6 288h1M13 290h1M23 290h1M7 291h2M37 291h1M19 300h2M23 300h1M15 301h1M18 302h1M23 303h1M30 303h1M34 303h1M17 307h1M10 311h1M24 312h1M2 313h1M8 318h1M8 320h1M10 321h1M12 321h1M21 321h1M18 323h1M22 323h1M31 324h1M38 324h1M34 327h1M22 328h1M35 334h1M10 335h2M20 335h1M25 337h1M33 337h1M38 337h1M11 338h1M18 340h1M1 343h1M32 345h1M10 346h1M30 349h1M9 350h1M9 351h3M15 351h1M12 353h1M19 354h1M28 358h1M31 358h1M15 360h1M19 360h1M26 363h1M5 365h1M16 372h1M15 379h1M0 380h1M2 382h1M7 382h1M28 382h1M35 387h1M11 392h1M15 392h1M19 392h1M22 392h1M9 394h1M19 396h1M21 396h1M14 400h1M25 401h1M0 405h1M27 406h1M27 413h1M23 416h1M38 416h1M11 422h1M17 422h1M13 427h2M5 430h1M28 430h1M2 431h1M4 431h1M29 431h1M30 438h1M32 438h1M36 438h1M13 441h1M34 443h1M24 445h1M27 451h1M38 451h1M11 452h1M10 460h1M13 460h1M21 468h1M7 471h1M4 473h1M27 473h1M27 476h1"/>
<path stroke="#7070a0" d="M2 2h1M5 2h1M28 2h1M6 5h1M36 5h1M14 14h1M19 17h1M35 21h1M27 22h1M17 23h1M30 30h1M32 30h1M34 30h1M36 30h1M30 41h1M35 41h1M28 43h2M24 44h1M5 47h1M29 50h1M6 52h1M26 52h1M11 57h1M19 57h1M13 62h1M14 65h1M31 68h1M10 69h1M38 72h1M6 73h1M31 73h2M36 73h1M26 76h2M31 78h1M33 78h1M13 79h1M15 79h1M31 84h1M13 85h1M13 89h1M19 89h1M27 92h1M12 96h1M22 96h1M34 97h1M36 97h1M38 97h1M13 98h2M13 99h1M30 99h1M17 119h1M23 126h1M25 129h1M29 129h1M32 129h1M2 133h1M29 133h1M35 133h1M38 133h1M34 134h1M23 138h1M15 141h1M35 143h1M38 143h1M12 150h1M31 153h1M35 154h2M10 156h1M13 156h1M11 157h1M6 160h1M19 161h1M12 168h1M14 168h3M19 168h1M37 170h1M9 171h1M19 174h1M21 174h1M32 175h1M36 175h1M28 177h1M14 178h1M16 178h1M19 178h2M30 186h1M18 188h1M5 197h1M29 197h1M17 198h1M21 198h1M4 202h1M7 203h1M26 203h1M3 204h1M24 204h1M26 212h1M25 214h1M28 214h1M31 218h1M31 220h1M34 220h1M36 220h1M14 221h1M0 222h1M10 228h1M5 230h1M11 231h1M14 237h1M17 237h1M17 238h1M14 240h1M6 241h1M35 241h1M15 243h1M18 243h1M21 243h1M9 248h1M18 248h1M8 252h1M0 253h1M32 254h1M35 254h1M14 255h1M22 255h1M3 257h1M15 258h1M6 259h1M26 259h1M38 259h1M0 261h1M24 264h1M19 266h1M8 281h1M25 282h1M27 282h1M9 284h1M17 284h1M21 287h1M7 288h2M35 288h1M1 291h2M28 291h1M36 291h1M2 292h1M14 293h1M24 295h1M26 295h1M37 299h1M16 301h1M13 302h1M21 302h1M16 306h1M30 307h1M33 307h1M36 307h1M25 308h1M27 308h1M20 311h1M29 313h1M15 321h1M20 321h1M5 325h1M3 327h1M13 333h2M18 333h1M14 338h1M19 338h2M2 348h1M8 348h1M15 350h1M18 350h1M18 351h1M7 358h1M12 360h1M34 362h1M10 364h1M25 365h1M33 372h1M36 372h1M18 379h1M15 381h1M21 381h1M30 387h1M18 390h1M27 393h1M17 394h1M11 396h1M22 399h1M10 400h1M12 400h1M28 401h2M3 404h1M5 404h1M6 406h1M29 406h1M19 407h1M22 407h1M16 411h1M4 413h1M36 426h1M1 431h1M25 431h1M28 431h1M8 445h1M27 445h1M32 445h2M6 451h1M16 455h1M23 455h1M37 456h1M19 457h1M23 460h1M0 461h1M3 461h1M6 461h1M31 463h1M32 467h1M10 468h1M27 470h1M38 470h1M28 471h3M18 474h1M8 476h1M36 476h1M21 478h1"/>
<path stroke="#6060f0" d="M4 2h1M7 2h1M28 5h1M30 7h2M35 7h1M37 7h2M16 9h1M19 9h1M33 21h1M31 30h1M29 31h1M2 37h1M5 37h2M8 37h1M24 37h1M28 37h1M6 44h1M36 44h1M1 47h1M7 47h2M0 48h1M26 50h1M3 51h1M28 52h1M7 54h1M24 54h1M32 54h1M34 54h1M36 54h1M38 54h1M35 63h1M37 63h1M12 65h1M13 69h1M15 69h1M18 69h1M23 69h1M27 72h1M2 73h3M8 73h1M29 73h2M35 73h1M38 73h1M30 76h2M2 77h1M8 77h1M25 77h1M1 80h1M3 80h2M7 80h1M0 81h9M24 81h2M28 81h1M31 85h1M33 92h1M38 92h1M6 97h1M25 97h1M27 97h2M30 97h2M0 102h5M25 110h1M27 110h3M35 119h1M13 126h1M15 126h1M6 133h1M24 133h1M24 134h1M9 137h1M17 137h1M11 141h1M28 154h2M31 170h2M0 173h1M6 173h1M8 173h1M29 173h1M31 175h1M34 175h1M29 177h1M10 178h1M12 178h1M17 178h1M0 182h2M3 182h2M8 182h1M25 182h1M1 186h1M34 193h1M6 194h3M0 203h1M6 203h1M2 214h1M25 218h1M7 220h2M30 221h1M37 221h1M24 222h1M26 222h1M33 222h1M36 222h1M38 222h1M37 228h1M16 238h1M0 241h1M5 241h1M14 243h1M22 243h1M2 246h1M5 246h1M27 247h1M29 247h2M35 247h1M30 250h1M0 252h1M4 252h2M7 253h1M33 254h1M0 259h1M7 259h1M24 261h1M26 261h2M4 262h1M25 264h1M3 273h1M5 273h1M8 273h1M3 276h1M0 280h2M4 280h1M7 280h1M6 281h1M19 284h1M26 288h1M24 291h1M17 293h1M23 293h1M14 297h2M33 299h1M38 299h1M16 302h1M32 307h1M37 307h1M4 308h1M3 318h1M29 318h1M19 321h1M4 324h1M27 324h1M7 327h1M6 330h2M25 330h3M32 330h1M36 330h2M28 342h1M28 343h1M35 345h1M0 348h1M28 348h2M33 348h2M38 348h1M11 350h1M17 350h1M25 356h1M28 356h1M4 358h2M18 360h1M32 362h1M38 362h1M2 363h1M7 363h1M31 363h1M15 364h1M17 364h1M3 367h1M6 367h2M27 367h1M32 367h2M38 367h1M7 377h1M25 377h1M27 377h1M29 377h1M31 377h3M35 377h2M14 381h1M19 381h1M22 381h1M26 382h1M26 386h2M31 386h1M35 386h1M31 387h1M14 390h1M2 406h1M5 406h1M15 407h1M9 411h2M21 411h1M23 411h1M3 413h1M7 413h2M24 430h2M26 431h1M6 443h1M1 451h1M30 451h1M17 455h1M38 456h1M5 461h1M30 463h1M36 463h1M30 467h1M34 467h2M2 470h2M31 470h1M3 471h2M24 473h1M33 474h2M26 476h1M33 476h1"/>
<path stroke="#6060d0" d="M8 2h1M24 5h2M13 7h1M15 8h1M12 9h1M25 10h1M7 22h1M28 25h1M26 37h1M36 41h1M25 47h1M38 47h1M6 48h1M35 48h1M33 50h1M31 52h1M37 54h1M14 57h1M36 63h1M16 65h1M19 65h1M34 68h1M9 69h1M29 72h1M32 72h1M14 88h1M8 92h1M35 92h1M15 96h1M5 102h1M17 109h2M36 109h1M6 110h1M26 110h1M5 116h1M30 116h1M14 119h1M28 120h1M0 136h1M31 143h1M36 153h1M30 154h1M34 154h1M1 160h1M1 173h1M4 173h1M7 173h1M11 174h1M20 174h1M19 175h1M25 177h1M18 178h1M29 182h1M9 183h1M24 186h1M14 188h3M11 193h1M32 194h2M28 197h1M3 202h1M8 202h1M24 202h1M38 202h1M25 203h1M30 204h1M4 212h1M5 213h1M5 214h1M35 218h1M38 218h1M9 221h1M11 221h1M31 222h1M16 228h1M11 238h1M9 241h1M31 247h1M34 247h1M38 247h1M16 248h1M26 252h1M19 254h1M36 254h1M29 259h1M33 262h1M29 264h1M0 273h1M2 273h1M38 273h1M29 275h1M2 276h1M38 280h1M34 282h1M16 293h1M19 301h1M2 308h1M8 308h1M3 310h1M22 321h1M31 327h1M10 330h1M30 330h1M34 331h1M28 334h1M33 334h1M24 337h1M3 342h1M6 342h1M37 342h1M22 347h1M14 350h1M26 358h1M32 359h1M34 359h1M12 362h1M14 364h1M18 364h1M2 365h1M8 367h1M9 372h1M23 381h1M33 382h1M16 386h1M23 386h1M30 386h1M19 394h1M18 399h1M23 399h1M26 404h1M3 405h1M28 405h1M30 406h1M21 407h1M17 411h1M24 412h1M26 413h1M5 414h2M35 426h1M4 428h1M1 430h2M36 431h1M14 443h1M28 445h1M23 449h1M4 451h1M30 456h1M33 456h1M35 456h1M21 457h1M29 458h1M24 461h1M12 463h1M36 467h1M1 470h1M8 470h1M26 470h1M37 471h1M18 478h1"/>
<path stroke="#6060a0" d="M16 2h1M22 2h1M31 2h1M4 4h1M12 4h1M18 7h1M20 10h1M24 10h1M22 13h1M8 15h1M13 15h1M22 15h1M24 15h1M33 15h1M38 15h1M12 16h1M20 16h1M4 18h1M12 18h1M20 18h1M29 19h1M10 21h1M17 21h1M38 22h1M21 24h1M24 25h1M29 25h1M28 27h1M37 27h1M24 28h1M32 28h1M15 29h1M17 29h1M11 31h1M6 32h1M6 35h1M6 38h1M10 40h1M15 40h1M4 42h1M32 42h1M11 43h1M22 44h1M31 45h1M4 46h1M16 47h1M19 47h1M35 47h1M37 47h1M19 51h1M22 51h1M17 52h1M23 54h1M5 55h2M17 55h1M25 55h1M33 55h1M4 56h1M18 56h1M35 58h2M8 60h1M27 60h1M29 60h1M25 61h1M25 64h1M30 66h1M3 67h2M30 67h2M10 68h1M19 68h1M5 71h2M15 71h1M19 71h1M32 71h1M21 72h1M20 73h1M23 73h1M0 74h1M5 74h2M7 75h1M18 76h1M20 76h1M14 77h1M23 77h1M13 81h1M31 82h1M35 82h1M38 82h1M5 83h1M7 83h1M23 83h1M10 84h1M17 85h1M34 87h1M1 90h1M4 90h1M25 90h1M1 91h1M7 91h1M18 92h1M16 93h1M24 93h1M25 95h1M17 97h1M21 97h1M0 100h1M2 100h3M8 100h1M34 100h1M36 101h1M37 102h2M8 103h1M15 103h1M26 103h1M20 104h1M38 104h1M35 105h1M13 108h1M24 108h1M13 109h1M20 109h1M13 110h1M15 110h1M2 112h1M7 116h1M12 116h1M20 116h1M7 118h1M37 118h1M13 119h1M9 120h1M13 120h1M21 120h1M37 120h1M26 121h1M28 121h1M37 121h1M35 124h1M38 124h1M30 125h1M1 130h1M8 131h1M16 133h1M28 135h1M30 135h1M28 136h1M9 139h1M20 139h1M26 140h1M12 142h1M37 142h1M24 145h1M0 146h1M24 146h1M35 147h1M16 150h1M23 152h1M19 153h1M13 154h1M23 154h1M37 155h1M29 159h1M13 160h1M34 163h1M31 165h1M26 166h1M29 167h1M32 167h1M9 170h1M11 172h1M20 173h1M33 173h1M16 175h1M22 175h1M18 176h1M28 176h2M31 177h1M26 179h1M37 179h1M29 181h1M33 181h1M31 182h1M34 182h1M36 182h1M38 182h1M15 184h1M35 185h1M7 189h1M28 189h1M38 189h1M34 190h1M16 193h1M38 195h1M3 196h1M25 196h1M14 197h1M30 197h1M35 197h1M37 199h1M2 200h1M34 200h1M21 202h2M17 203h1M34 203h1M10 204h1M27 207h1M30 207h1M6 208h1M22 208h1M35 208h1M28 211h1M36 211h1M29 213h1M30 214h1M34 215h1M37 215h1M3 216h1M28 216h1M32 216h1M37 216h1M14 220h1M19 220h1M22 220h1M14 222h1M6 223h1M30 223h1M6 224h1M38 226h1M4 227h1M13 230h1M4 233h1M6 234h2M28 234h2M14 235h1M17 235h1M26 235h1M31 235h1M15 239h1M22 239h1M11 241h1M15 241h1M19 241h1M8 242h1M25 244h1M32 245h1M20 246h1M12 247h1M12 252h1M33 252h1M36 257h1M11 259h1M15 259h1M34 260h1M34 261h1M8 263h1M34 263h1M9 264h1M29 271h1M33 271h1M8 272h1M26 272h1M12 273h1M1 275h1M12 276h1M15 276h1M27 277h2M3 278h1M24 279h1M37 280h1M37 282h1M37 283h1M15 286h1M15 288h1M19 288h1M30 288h1M38 288h1M1 289h1M17 290h1M13 291h1M20 291h1M22 291h1M15 295h1M1 296h1M30 296h1M22 298h1M14 299h1M16 299h1M9 303h1M12 303h1M14 303h1M19 303h1M3 304h1M1 310h1M23 310h1M29 310h1M33 310h1M20 313h1M28 314h1M6 317h1M28 317h1M36 317h1M19 324h1M19 325h1M29 325h1M37 325h1M11 326h1M29 326h1M32 329h1M14 330h1M25 332h1M28 332h1M32 332h1M11 334h1M20 334h1M19 337h1M22 337h1M37 337h1M37 339h1M1 341h1M7 341h1M34 342h1M13 356h1M6 357h1M18 361h1M11 362h1M15 363h1M29 365h1M1 368h1M3 368h1M0 371h1M6 371h1M27 374h1M36 376h1M3 380h1M26 383h1M29 384h1M9 385h1M34 385h1M38 385h1M10 387h1M2 388h1M24 388h1M22 391h1M31 393h1M33 393h1M38 393h1M4 395h1M29 395h1M8 397h1M26 397h1M4 398h1M17 401h1M37 401h1M10 402h1M1 403h1M7 404h1M13 404h1M22 404h1M29 404h1M10 405h1M27 405h1M33 405h1M36 405h1M6 408h1M26 408h1M30 408h1M34 410h1M38 410h1M32 412h1M19 413h1M24 414h1M0 415h1M8 415h1M17 416h1M21 417h1M1 418h1M4 418h1M14 418h1M22 418h1M7 420h1M12 420h1M21 420h1M33 420h1M5 421h1M8 421h1M25 421h1M7 423h1M34 425h1M21 426h1M38 428h1M2 429h1M32 429h1M34 429h1M38 429h1M11 431h1M17 431h1M35 431h1M0 432h1M3 432h1M7 435h1M24 436h1M28 436h1M35 436h1M33 437h1M26 440h1M36 440h1M8 444h1M0 446h1M28 447h1M20 448h1M36 448h1M16 449h1M21 449h1M3 450h1M11 450h2M20 450h1M31 454h1M10 456h1M9 457h1M20 457h1M11 458h1M20 458h1M34 458h2M1 459h2M5 459h1M7 459h1M23 461h1M15 462h1M34 462h1M9 463h1M20 463h1M23 463h1M35 464h1M9 466h1M11 466h1M23 467h1M25 469h1M27 469h1M16 470h1M27 472h1M17 474h1M8 477h1M25 479h1"/>
<path stroke="#5050d0" d="M18 2h1M13 10h1M20 15h1M35 15h1M12 22h1M9 24h1M10 26h1M30 26h1M30 29h1M2 35h1M6 42h2M36 46h1M15 52h1M16 54h1M35 55h1M3 56h1M35 61h1M37 61h1M17 66h1M12 67h1M18 71h1M30 71h1M29 75h1M12 76h1M15 76h1M19 76h1M9 82h1M2 83h1M13 83h1M22 83h1M22 84h1M9 86h1M15 86h2M30 86h1M31 90h1M24 91h1M32 91h1M15 92h1M36 93h1M23 94h1M1 95h1M9 95h1M26 95h1M7 101h1M34 102h1M35 103h1M38 103h1M24 104h1M37 112h1M20 113h1M35 113h1M12 114h2M32 116h1M37 116h1M32 118h1M20 120h1M20 125h1M37 125h1M1 127h1M12 127h1M5 131h1M11 134h1M15 135h1M19 139h1M6 140h2M24 140h1M1 146h1M4 146h1M17 148h1M10 155h1M2 162h1M5 162h1M12 162h1M6 164h1M33 164h1M2 165h1M16 177h1M23 181h1M25 181h1M36 181h1M15 182h1M10 184h1M0 189h1M3 190h1M25 190h1M28 190h1M35 191h1M10 194h1M14 195h1M21 195h1M31 196h1M32 199h1M30 200h1M21 201h1M25 207h2M13 208h1M24 209h1M26 209h1M9 213h1M15 213h1M37 213h1M19 215h1M4 216h1M21 216h1M27 216h1M9 223h1M0 224h1M4 224h1M27 226h1M31 227h1M5 232h1M13 232h1M31 232h1M27 234h1M30 234h1M12 236h1M20 236h1M12 241h1M21 245h1M18 246h1M16 252h1M11 253h1M21 253h1M11 254h1M9 259h1M23 261h1M14 262h1M35 263h1M7 267h1M21 272h1M35 272h1M37 272h1M18 273h1M20 273h1M17 277h1M19 277h1M34 277h1M7 278h1M28 279h1M37 279h1M20 280h1M22 280h1M0 286h1M35 289h1M12 296h1M29 296h1M36 296h1M17 298h1M16 308h1M2 309h1M29 309h1M2 310h1M16 310h1M36 313h1M25 315h1M19 316h1M26 316h1M0 317h1M15 317h1M27 317h1M23 332h2M10 334h1M15 336h1M21 339h1M34 339h1M38 339h1M3 341h1M11 355h1M23 356h1M5 357h1M21 358h1M5 366h1M9 366h1M14 366h1M20 366h1M30 369h1M14 374h1M26 374h1M28 374h1M33 376h1M17 382h1M15 384h1M18 385h1M12 388h1M24 402h1M6 403h1M28 403h1M26 410h1M22 413h1M31 415h1M7 418h1M3 421h1M22 431h1M17 434h1M23 434h1M2 435h1M16 440h1M23 440h1M28 440h1M31 440h1M38 440h1M22 442h1M30 444h1M35 446h1M27 453h1M2 454h1M4 454h1M12 466h1M5 469h1M15 471h1M9 472h1M29 472h1M32 472h2M36 472h1M1 477h1M22 477h1M37 479h1"/>
<path stroke="#7070b0" d="M24 2h2M30 3h1M11 9h1M13 9h1M21 9h1M3 13h1M11 23h1M32 24h1M38 30h1M26 31h1M1 37h1M7 37h1M27 37h1M8 41h1M34 41h1M2 44h1M5 44h1M0 47h1M26 47h1M1 48h1M8 48h1M27 50h1M10 53h1M14 53h1M2 54h1M25 54h1M30 54h1M10 62h2M7 63h1M25 63h1M9 65h1M2 76h2M24 76h1M28 76h1M1 77h1M4 77h1M0 80h1M27 81h1M14 89h1M22 89h1M25 92h1M36 96h1M3 97h1M8 97h1M32 97h1M33 119h1M12 128h1M26 129h1M37 129h1M8 133h1M27 133h2M11 137h1M14 137h1M23 137h1M14 138h1M17 138h1M22 138h1M30 143h1M37 153h2M4 154h1M8 154h1M31 154h1M38 154h1M7 160h1M24 173h1M27 173h1M14 174h2M18 174h1M30 175h1M33 175h1M38 175h1M21 178h1M21 180h1M5 186h1M30 194h1M34 206h1M22 217h1M24 218h1M33 218h1M25 220h1M28 220h1M37 220h1M28 222h1M30 222h1M32 222h1M1 230h1M14 238h2M37 241h1M12 243h1M11 248h1M17 248h1M20 248h1M3 253h1M8 253h1M34 254h1M19 258h1M36 259h1M20 269h1M1 273h1M29 276h1M28 280h1M1 281h1M13 284h1M29 291h1M18 293h1M22 293h1M36 299h1M17 301h1M22 301h2M33 303h1M13 306h1M1 308h1M25 318h1M11 321h1M17 323h1M35 327h1M23 328h1M28 330h1M31 330h1M26 331h1M36 331h1M18 338h1M7 342h1M25 343h1M37 345h1M24 348h2M10 350h1M13 351h1M6 363h1M23 364h1M0 382h1M29 382h1M18 396h1M23 396h1M3 406h1M7 406h1M10 407h1M14 407h1M23 407h1M0 413h3M14 422h1M34 426h1M3 430h1M6 430h1M24 431h1M33 449h1M16 452h1M22 455h1M2 461h1M4 461h1M7 467h1M25 467h1M29 467h1M7 470h1M1 471h1M3 473h1M10 475h1M15 475h1M6 476h2"/>
<path stroke="#5050f0" d="M30 2h1M33 2h1M22 3h1M22 7h1M26 10h1M9 14h1M17 14h1M1 15h6M25 15h1M29 15h1M25 16h1M3 20h1M25 20h1M28 20h2M31 20h1M35 20h1M14 21h1M0 22h7M8 22h1M28 22h2M37 22h1M11 24h2M3 25h1M5 25h1M8 25h1M3 26h1M27 28h1M23 30h1M30 37h2M35 37h1M30 47h1M33 47h1M10 54h1M12 54h1M15 57h1M12 68h1M14 68h1M30 72h1M11 73h1M13 73h1M14 76h1M16 76h1M21 76h3M21 78h1M32 81h1M37 81h1M22 85h1M12 92h1M1 93h1M27 93h1M9 96h1M14 96h1M14 97h1M9 99h1M16 99h1M6 102h3M25 102h1M27 102h1M30 102h1M33 102h1M35 102h1M2 103h1M4 103h3M27 103h1M29 104h1M8 108h1M30 110h2M34 110h2M38 110h1M22 114h1M3 116h1M24 116h1M27 116h1M35 116h1M2 127h2M5 127h4M10 143h1M16 143h1M18 143h1M4 151h1M11 154h1M4 166h1M11 168h1M13 168h1M12 171h1M36 173h1M11 175h1M35 177h1M30 182h1M32 182h1M12 184h1M15 194h1M19 194h3M33 197h2M37 197h1M0 202h2M5 202h3M29 202h1M36 203h1M2 207h1M24 210h1M26 214h1M32 214h1M9 222h1M20 222h1M9 228h1M11 228h3M20 228h1M1 235h6M8 235h1M10 241h1M13 241h1M16 241h2M20 241h1M22 241h1M11 246h1M16 246h1M19 246h1M23 246h1M22 250h1M24 251h1M27 251h1M7 252h1M37 252h1M14 254h1M17 254h1M22 254h2M0 271h3M4 271h1M4 272h2M7 272h1M24 272h1M27 272h1M3 275h2M7 275h1M30 281h1M31 282h1M16 303h1M20 303h1M10 307h1M31 308h1M0 310h1M5 310h1M7 310h2M26 310h1M28 313h1M37 313h1M8 315h1M30 342h1M33 342h1M38 342h1M21 346h1M37 356h1M33 359h1M38 365h1M2 371h1M4 371h1M15 372h1M20 372h1M23 372h1M22 377h1M32 382h1M36 382h1M17 386h1M15 387h1M17 387h1M1 393h1M4 393h1M7 393h1M29 393h1M34 393h1M0 395h4M22 400h1M32 401h1M1 404h2M6 404h1M8 404h1M36 404h1M1 405h1M5 405h1M8 405h1M25 405h1M1 408h1M24 410h1M27 410h1M1 414h3M8 414h1M0 418h1M3 418h1M5 418h1M8 418h1M0 423h1M24 423h1M17 426h1M1 428h1M35 430h1M33 431h1M38 431h1M0 436h1M2 436h1M13 449h2M25 450h1M29 450h1M33 450h1M13 457h1M0 458h9M25 458h3M38 461h1M2 464h1M24 464h1M26 465h1M28 465h1"/>
<path stroke="#909090" d="M0 3h2M3 3h1M0 8h1M2 8h1M5 8h1M36 9h1M38 9h1M35 12h1M38 12h1M1 14h3M5 14h1M31 17h1M37 17h2M31 23h1M37 23h1M35 33h1M31 36h1M38 36h1M7 39h1M24 39h2M29 39h1M25 49h1M27 49h1M30 53h2M33 53h1M36 53h2M2 57h2M24 59h1M26 59h1M28 59h1M33 62h1M38 62h1M27 65h1M3 69h1M26 69h1M1 78h2M24 78h1M26 78h1M28 79h2M32 79h1M8 85h1M31 88h3M35 88h1M37 88h2M26 89h1M38 89h1M1 96h2M26 96h1M25 98h1M24 99h1M3 111h1M5 111h1M26 111h1M29 111h1M4 117h1M1 119h2M4 119h2M33 126h3M38 128h1M36 137h2M7 138h1M7 141h1M28 141h2M3 150h1M26 150h1M33 156h1M36 156h1M38 156h1M32 158h1M35 158h2M33 161h1M2 168h1M5 168h1M24 168h1M26 168h1M24 171h1M26 171h1M30 174h1M35 174h1M37 174h1M36 180h1M2 193h1M4 193h1M30 198h1M33 198h1M6 217h1M27 219h1M32 219h1M7 221h1M6 228h1M8 228h1M7 231h1M27 231h1M2 239h2M33 240h2M30 243h1M32 243h1M34 243h1M3 249h2M29 249h1M7 250h1M27 250h1M27 255h3M34 258h1M38 258h1M31 265h2M36 265h2M32 266h1M7 269h1M0 270h1M2 270h2M5 270h1M30 284h1M35 284h1M30 285h1M32 285h1M0 290h1M3 290h1M5 290h1M28 290h1M38 293h1M3 299h1M8 300h1M26 300h1M29 300h1M33 301h1M37 301h1M33 302h1M35 302h1M2 303h1M5 303h1M27 306h1M36 306h1M3 307h1M6 307h1M8 307h1M28 307h2M33 321h1M36 321h2M30 323h1M32 323h1M35 323h1M37 323h1M34 328h1M0 333h1M4 333h1M25 333h1M32 335h1M36 338h2M4 345h1M1 346h1M4 346h1M33 347h1M4 349h1M34 350h1M37 350h1M6 351h1M29 351h1M30 353h1M33 353h1M32 354h1M35 354h1M37 354h1M3 362h1M30 364h2M34 364h4M1 372h1M24 381h1M5 392h1M31 394h3M36 394h1M38 394h1M3 396h1M6 396h1M3 400h1M6 400h1M24 400h1M28 407h1M7 422h1M38 422h1M27 427h2M8 441h1M27 441h1M34 441h1M36 441h1M24 452h1M31 455h1M36 455h1M8 457h1M28 457h1M38 460h1M36 468h1M8 475h1M25 475h1M28 475h1M34 478h1"/>
<path stroke="#8080a0" d="M2 3h1M6 3h1M26 3h1M24 7h1M27 7h1M8 8h1M30 11h1M33 12h1M37 12h1M27 14h1M29 21h1M28 30h1M27 31h1M30 36h1M35 36h1M27 39h1M0 44h1M36 49h1M34 53h1M3 54h1M30 57h1M33 59h2M3 63h1M5 63h1M28 63h1M3 68h1M31 69h1M36 69h1M34 88h1M1 97h1M24 97h1M36 98h1M25 99h1M2 115h1M6 117h1M25 117h4M3 129h1M8 134h1M5 143h1M7 143h1M27 143h1M31 150h1M0 152h1M29 152h1M26 153h1M30 156h1M32 156h1M27 168h1M35 168h1M4 170h1M27 170h1M27 171h1M29 171h1M35 171h1M28 172h1M38 174h1M31 178h1M33 178h2M0 183h1M6 183h2M0 184h1M24 193h1M27 193h1M28 194h1M4 206h2M29 206h1M30 217h1M34 217h1M38 219h1M28 221h1M35 221h1M38 221h1M24 228h1M31 228h1M33 231h1M30 237h1M36 237h1M29 239h1M30 240h1M38 240h1M33 243h1M35 243h1M37 243h1M0 246h1M37 248h2M25 250h1M34 250h1M1 254h1M24 254h1M33 258h1M30 265h1M33 265h2M35 290h1M24 299h1M30 301h2M34 301h1M31 306h1M37 306h1M25 307h1M31 307h1M36 311h1M37 328h2M8 330h1M28 331h1M7 333h1M30 338h1M6 345h1M38 347h1M0 349h1M1 361h2M4 362h1M26 362h1M4 363h1M2 372h1M36 381h2M5 387h1M7 387h1M3 391h1M6 391h1M28 391h1M38 392h1M35 396h1M34 400h2M31 407h1M37 407h1M35 422h1M24 426h1M26 426h1M30 427h1M32 441h1M35 441h1M8 443h1M33 452h1M37 452h1M29 456h1M24 463h1M26 463h1M0 467h1M24 467h1M31 468h1M25 474h2M29 476h1"/>
<path stroke="#c0c080" d="M4 3h1M27 8h1M35 9h1M36 12h1M28 14h1M2 21h3M31 33h1M33 34h1M37 36h1M0 39h1M6 57h1M32 62h1M4 63h1M29 69h1M27 85h1M29 96h1M6 98h1M1 99h1M3 99h1M36 106h1M2 111h1M4 111h1M3 117h1M32 137h1M25 150h1M27 150h1M4 153h1M25 157h1M34 158h1M38 158h1M32 161h1M29 170h1M3 183h1M7 188h1M31 188h1M38 188h1M0 193h1M3 193h1M5 193h2M38 217h1M31 219h1M35 219h1M24 221h1M29 221h1M2 228h1M25 237h1M28 237h1M31 248h1M6 249h1M1 255h1M4 255h1M35 258h1M37 269h1M31 285h1M1 299h1M24 300h1M28 300h1M4 307h1M31 311h1M30 321h1M27 333h2M34 335h1M24 340h1M26 340h2M2 345h1M5 345h1M2 346h1M7 347h1M35 347h1M2 349h1M7 349h1M28 349h1M35 353h1M29 360h1M34 360h1M3 372h1M4 381h1M8 381h1M7 392h1M30 399h2M0 400h1M34 407h1M34 411h1M4 427h1M7 427h1M2 449h1M35 455h1M7 457h1M31 460h1M6 475h1M24 475h1"/>
<path stroke="#a0a080" d="M5 3h1M7 3h1M28 8h1M33 8h1M7 21h1M25 21h1M28 21h1M3 24h1M2 31h1M30 34h1M36 34h1M26 39h1M30 39h1M27 41h1M32 49h1M32 53h1M24 57h1M26 57h1M8 63h1M5 68h1M0 76h1M27 77h1M8 78h1M29 78h1M38 78h1M31 79h1M36 79h2M5 84h1M34 85h1M24 96h1M28 96h1M30 96h1M35 96h1M4 99h1M26 109h1M7 111h1M30 111h1M37 111h1M25 115h1M0 119h1M3 119h1M5 129h1M24 129h1M28 129h1M1 134h1M25 134h1M29 144h1M8 150h1M24 150h1M30 150h1M33 150h1M5 154h1M2 170h1M28 171h1M30 171h2M2 172h1M29 172h1M28 175h1M30 178h1M6 184h1M25 193h1M34 219h1M36 219h1M6 221h1M36 221h1M25 228h1M29 228h2M32 228h1M35 231h1M30 238h1M8 239h1M27 239h1M37 239h1M24 249h1M28 249h1M31 250h1M4 254h1M29 254h1M33 255h3M31 258h2M5 259h1M32 269h2M1 270h1M4 270h1M24 270h1M8 290h1M2 299h1M36 300h1M0 303h1M30 306h1M38 306h1M30 328h1M4 330h1M5 331h1M34 340h1M7 345h1M0 346h1M3 346h1M5 346h1M27 346h1M4 348h1M36 351h1M38 353h1M37 360h1M0 362h1M7 362h1M25 362h1M0 363h1M31 381h1M3 386h1M7 386h1M36 390h1M2 391h1M32 392h1M25 400h1M33 400h1M4 416h1M33 422h2M2 426h1M25 426h1M2 438h1M0 443h1M3 449h1M34 452h2M35 457h1M35 475h1"/>
<path stroke="#b0b080" d="M8 3h1M7 14h1M26 21h1M1 24h1M3 31h1M33 33h1M36 33h1M37 34h1M4 39h1M27 57h1M29 57h1M27 59h1M0 68h1M28 78h1M5 85h1M30 88h1M36 89h1M6 96h1M25 96h1M37 106h1M24 111h1M27 111h1M35 111h1M8 115h1M24 115h1M24 117h1M26 119h1M33 137h2M36 138h1M8 144h1M25 144h1M29 150h1M3 152h1M5 152h1M37 156h1M37 157h1M7 168h1M34 171h1M3 172h1M34 174h1M6 175h1M26 175h1M1 184h1M1 193h1M8 193h1M2 218h1M30 219h1M32 231h1M6 237h1M29 237h1M5 239h1M38 243h1M31 255h1M37 258h1M25 287h1M29 287h1M38 300h1M31 302h2M1 303h1M8 303h1M29 303h1M1 307h1M7 307h1M27 307h1M34 311h1M34 323h1M36 328h1M24 333h1M33 335h1M37 335h1M32 340h1M35 340h1M6 346h1M8 346h1M32 347h1M6 349h1M30 351h1M31 353h1M7 361h1M29 361h1M25 372h1M2 387h1M25 390h1M37 394h1M33 396h1M38 396h1M38 399h1M37 422h1M34 427h1M36 427h1M0 449h1M3 467h1M34 468h1M37 468h1M29 474h1M7 475h1M37 478h1"/>
<path stroke="#909080" d="M24 3h1M28 3h1M34 3h1M1 5h1M23 6h1M29 8h1M38 8h1M10 12h1M22 12h1M35 14h1M37 14h1M15 17h1M17 17h1M20 17h1M14 23h1M24 24h1M28 24h1M0 31h1M7 31h1M13 33h1M28 39h1M3 41h1M24 41h1M28 41h1M3 44h1M30 49h1M37 49h1M1 50h1M24 50h1M4 54h1M16 62h1M21 62h1M38 63h1M32 69h1M38 69h1M26 73h1M1 76h1M7 76h2M25 76h1M0 77h1M30 78h1M35 78h1M25 84h1M32 85h1M36 85h1M6 92h1M31 96h1M31 99h1M34 99h1M12 106h1M7 109h1M37 109h1M5 110h1M33 111h1M1 114h1M6 114h1M24 114h2M3 115h1M32 117h1M25 119h1M9 128h1M11 128h1M17 128h1M19 128h1M4 129h1M32 138h1M36 141h1M8 143h1M26 144h1M34 152h1M25 153h1M33 157h1M9 161h1M23 161h1M33 168h1M37 168h1M38 170h1M38 171h1M8 172h1M24 172h1M18 180h1M4 183h1M29 183h1M3 184h1M6 186h1M32 193h1M37 194h1M14 198h1M22 198h2M38 206h1M36 217h1M1 218h1M28 218h1M27 220h1M32 221h1M25 222h1M28 228h1M33 228h1M36 228h1M38 228h1M31 231h1M38 237h1M36 238h1M26 239h1M30 239h1M33 239h1M1 241h2M25 241h1M3 246h1M7 246h1M4 247h1M26 247h1M30 249h1M32 250h1M36 250h1M38 250h1M3 254h1M2 259h2M7 262h1M11 266h1M15 266h1M5 276h1M14 284h1M32 287h1M34 287h2M38 287h1M31 290h1M37 290h2M0 291h1M32 297h1M35 297h1M32 300h1M34 300h1M27 303h1M32 303h1M38 303h1M23 323h1M1 327h1M8 327h1M29 327h1M3 331h1M37 331h1M35 333h2M3 334h1M1 337h1M3 343h1M26 345h1M38 345h1M7 346h1M31 351h1M37 351h1M11 354h1M0 356h1M4 356h1M8 361h1M32 361h1M36 361h1M24 363h1M29 363h1M19 364h2M28 367h1M8 372h1M26 372h1M38 372h1M27 387h1M31 390h1M37 390h1M31 392h1M33 392h1M16 394h1M30 407h1M33 407h1M6 426h1M29 426h1M31 427h1M37 427h2M5 438h1M8 438h1M38 441h1M25 443h1M0 445h1M5 449h1M35 449h1M26 451h1M18 455h1M20 455h1M0 456h2M3 456h1M30 457h2M7 463h2M4 467h1M38 474h1M33 478h1"/>
<path stroke="#808090" d="M25 3h1M27 3h1M29 3h1M31 3h1M37 3h1M0 5h1M11 6h1M16 6h1M26 8h1M34 8h1M36 8h1M37 9h1M24 14h1M29 14h1M33 14h2M38 14h1M18 17h1M1 21h1M6 21h1M8 21h1M2 24h1M25 31h1M28 31h1M4 37h1M33 39h1M26 41h1M4 44h1M26 44h1M34 49h1M38 49h1M0 50h1M28 50h1M1 54h1M5 54h1M8 68h1M28 68h1M30 69h1M24 77h1M30 79h1M7 84h1M26 84h2M25 85h1M30 85h1M37 85h1M32 89h1M24 92h1M28 92h1M0 97h1M4 97h2M7 97h1M29 99h1M32 99h1M35 99h1M0 109h1M8 109h1M7 114h1M8 117h1M30 117h1M33 117h1M6 119h1M24 119h1M31 119h1M0 129h1M35 138h1M34 141h2M37 141h2M3 143h1M1 152h1M4 152h1M26 152h1M1 153h3M2 154h1M24 154h1M27 154h1M30 157h1M32 168h1M38 168h1M28 170h1M34 170h1M36 170h1M37 171h1M0 172h1M4 172h1M27 172h1M37 172h1M32 174h1M11 180h1M2 183h1M2 184h1M7 184h1M2 186h2M26 194h1M29 194h1M11 198h1M19 198h1M2 206h1M6 206h1M27 206h1M35 206h1M37 217h1M27 218h1M0 220h1M24 220h1M1 222h1M4 222h1M30 231h1M32 238h2M37 238h1M37 240h1M24 241h1M26 241h1M29 241h1M4 246h1M6 246h1M25 246h1M29 246h1M33 248h1M36 248h1M26 249h1M36 249h1M29 250h1M37 250h1M32 255h1M37 255h1M10 266h1M13 266h1M16 266h1M36 269h1M6 270h2M29 270h1M12 284h1M15 285h1M36 287h1M30 290h1M36 290h1M4 291h1M30 297h1M6 299h1M8 299h1M30 299h1M26 303h1M34 307h1M10 323h3M28 327h1M24 330h1M30 333h2M34 333h1M31 340h1M24 345h2M27 345h1M34 345h1M30 347h1M34 347h1M36 347h1M31 349h1M34 349h1M32 351h3M32 353h1M37 353h1M30 360h1M38 360h1M0 361h1M24 361h2M30 361h1M33 361h1M24 362h1M37 362h1M1 363h1M3 363h1M5 363h1M2 367h1M24 372h1M27 372h1M29 372h1M31 372h2M37 372h1M5 377h2M8 377h1M28 377h1M34 379h1M34 381h1M0 386h1M24 386h1M28 386h2M4 387h1M34 387h1M33 390h1M36 392h1M30 396h2M36 399h2M30 400h2M32 407h1M27 416h1M29 416h1M30 422h1M8 426h1M28 426h1M32 427h1M29 438h1M1 449h1M27 449h1M28 451h1M31 452h2M29 457h1M33 457h2M37 457h2M0 463h1M3 463h1M5 463h1M28 463h1M5 467h1M26 467h1M0 471h1M26 471h1M27 474h2M35 474h1M37 474h1M34 475h1M1 476h1M3 476h1M36 478h1"/>
<path stroke="#7070c0" d="M36 3h1M28 7h1M30 8h1M35 8h1M11 17h1M32 21h1M4 24h1M27 24h1M3 30h1M24 30h1M37 30h1M29 41h1M32 41h1M1 44h1M26 54h1M30 59h1M29 63h1M34 63h1M4 68h1M7 68h1M0 73h2M25 73h1M37 78h1M38 96h1M3 114h1M1 115h1M6 115h1M35 115h1M17 126h2M34 129h1M0 133h1M2 134h1M16 137h1M6 143h1M27 152h1M34 168h1M33 171h1M36 171h1M12 174h1M12 198h1M7 206h1M24 206h1M30 206h1M32 206h1M0 218h1M29 218h1M4 220h1M31 221h1M29 222h1M34 228h1M16 243h1M4 253h1M7 254h1M10 265h1M37 270h1M7 273h1M10 284h1M20 284h1M12 301h1M9 321h1M18 321h1M9 323h1M14 323h1M16 323h1M19 323h1M25 324h1M27 327h1M32 333h1M38 333h1M5 342h1M23 350h1M10 354h1M8 356h1M0 358h1M33 362h1M1 367h1M4 367h2M1 377h1M3 377h1M35 379h1M4 386h1M8 386h1M36 386h1M28 387h1M12 411h1M6 413h1M5 426h1M31 426h1M26 443h1M29 449h1M24 451h2M29 451h1M21 455h1M35 463h1M38 463h1M8 471h1M24 471h1M31 474h1M36 475h1M38 475h1M17 478h1"/>
<path stroke="#b0a060" d="M2 4h1M16 13h1M32 32h1M17 39h1M10 50h1M16 114h1M11 115h1M32 203h2M25 223h1M37 225h1M34 230h1M20 239h1M17 276h1M21 348h1M9 363h1M14 363h1M25 393h1M11 404h1M26 415h1M33 435h1M31 453h1"/>
<path stroke="#f0e040" d="M16 4h1M30 45h1M11 56h1M36 66h1M21 132h1M5 211h1M37 223h1M18 233h1M11 268h1M22 286h1M0 294h1M37 304h1M33 366h1M31 368h1M5 378h1M21 402h1M24 409h1M11 459h1"/>
<path stroke="#d0c050" d="M37 4h1M21 15h1M23 47h1M26 66h1M37 86h1M22 91h1M28 95h1M30 103h1M38 163h1M30 169h1M31 192h1M21 208h1M33 223h1M32 227h1M2 244h1M12 259h1M18 261h1M29 274h1M16 283h1M23 289h1M23 318h1M14 383h1M16 383h1M19 384h1M2 415h1M38 437h1"/>
<path stroke="#d0d060" d="M5 5h1M21 6h2M15 12h1M6 13h1M21 14h1M36 24h1M14 34h1M18 34h1M32 44h1M4 50h1M33 52h1M31 77h1M17 88h1M17 111h1M21 111h1M23 111h1M32 115h1M8 116h1M29 132h1M22 150h1M9 153h1M9 157h1M9 158h1M23 158h1M5 160h1M11 161h1M20 161h1M23 168h1M22 170h1M16 172h1M20 180h1M11 183h1M32 183h1M12 188h1M1 197h1M5 203h1M11 206h1M35 212h1M16 217h1M20 219h2M23 221h1M8 222h1M9 249h1M14 249h1M21 249h1M7 251h1M6 253h1M24 253h1M2 257h1M22 258h1M36 261h1M6 264h2M20 266h1M26 273h1M0 281h1M3 281h1M11 285h1M23 287h1M19 290h1M29 295h1M16 300h1M23 302h1M11 311h1M4 318h1M1 319h2M27 319h1M6 320h1M3 324h1M33 327h1M19 333h1M9 335h1M14 335h1M36 337h1M15 340h1M4 343h1M23 345h1M23 346h1M9 347h1M13 349h1M22 349h1M29 358h1M8 359h1M10 361h1M16 361h1M23 361h1M34 361h1M30 363h1M36 363h1M38 363h1M30 391h1M34 391h1M5 410h1M35 413h1M32 416h1M19 422h1M19 427h1M26 430h1M30 443h1M33 443h1M35 443h1M8 448h1M36 466h1M11 467h1M30 470h1M6 473h1M28 473h1M13 475h1M38 476h1"/>
<path stroke="#a0a0a0" d="M0 6h1M2 6h1M4 6h2M28 6h2M3 11h1M5 11h1M24 12h1M8 17h1M2 23h1M4 23h1M7 23h2M28 23h1M3 33h1M5 33h1M27 36h1M0 53h1M0 62h1M24 62h2M1 65h1M4 88h1M4 89h1M4 106h1M26 106h1M28 106h1M0 126h1M2 126h2M5 126h1M7 126h1M8 128h1M2 137h1M24 137h1M28 137h1M1 138h1M0 156h1M6 156h1M8 156h1M29 156h1M6 161h1M8 161h1M28 161h1M2 188h1M5 198h1M8 198h1M3 238h1M1 240h1M29 243h1M29 248h1M2 258h2M0 265h1M25 266h1M5 269h1M28 284h1M24 285h1M1 293h1M4 293h1M4 301h1M3 311h1M3 321h1M24 321h2M1 323h1M5 323h1M25 323h1M28 323h1M4 328h1M1 335h1M7 335h1M24 335h1M26 335h1M3 338h1M5 340h1M3 350h1M24 350h1M26 350h1M29 350h1M1 354h1M24 354h1M26 354h2M25 364h2M28 364h1M1 452h1M3 455h1M28 468h1M1 478h1"/>
<path stroke="#f0f090" d="M1 6h1M0 17h2M6 17h1M2 33h1M3 62h2M0 128h1M3 128h3M7 128h1M25 128h1M29 128h1M1 161h1M4 161h1M0 180h6M0 266h1M4 266h3M8 266h1M27 266h1M0 285h5M0 302h2M3 302h2M2 335h1M0 354h1M4 354h1M1 394h5M2 455h1M8 460h1M24 460h1M0 468h2M3 468h1M5 468h1"/>
<path stroke="#a0a0b0" d="M3 6h1M29 17h1M0 23h2M6 23h1M5 62h1M1 88h1M0 106h1M28 128h1M5 156h1M2 198h1M6 198h1M24 198h2M0 240h1M24 284h1M5 285h1M1 321h1M6 323h1M29 323h1M2 350h1M8 354h1M25 354h1M4 455h1M8 455h1M29 455h1M1 460h1"/>
<path stroke="#d0d090" d="M6 6h1M24 6h1M27 6h1M2 9h1M29 9h1M3 12h1M26 12h1M8 33h1M26 62h1M3 106h1M27 126h1M29 126h1M0 138h1M26 156h1M5 219h1M26 243h1M6 248h1M25 248h1M7 266h1M29 266h1M28 285h1M6 302h1M2 306h1M2 311h1M29 321h1M27 323h1M27 328h1M3 335h1M24 364h1M7 394h1M27 394h1M29 394h1M26 455h1M25 460h1M28 460h1"/>
<path stroke="#c0c090" d="M7 6h1M2 11h1M6 12h1M4 33h1M26 36h1M25 89h1M1 106h1M5 106h1M24 106h1M26 138h2M27 156h1M6 158h1M7 161h1M3 188h1M7 198h1M4 217h1M0 258h1M5 258h1M24 258h1M1 265h1M5 265h2M8 269h1M26 284h1M8 285h1M5 293h1M1 301h1M26 302h1M4 306h1M24 306h1M4 311h1M28 321h1M7 323h1M6 328h1M29 338h1M2 347h1M28 347h2M4 353h1M7 354h1M0 392h1M24 394h1M26 394h1M1 422h1M4 422h1M0 441h1M2 441h1M4 441h2M6 455h1M2 468h1"/>
<path stroke="#f0f080" d="M8 6h1M0 9h2M3 9h1M5 9h2M8 9h1M24 9h3M28 9h1M1 11h1M25 12h1M27 12h2M7 33h1M24 33h1M26 33h3M25 34h1M29 34h1M29 36h1M1 53h1M6 62h1M28 62h1M0 65h1M2 65h6M27 69h2M7 106h1M24 156h1M0 157h6M0 158h6M7 158h2M28 158h2M1 174h1M24 174h1M29 174h1M6 180h3M24 180h6M0 188h1M24 188h1M28 188h2M24 217h1M3 219h2M6 219h3M1 238h1M5 238h3M0 248h3M4 248h2M4 258h1M25 258h1M7 265h1M6 285h2M25 285h2M35 285h1M0 287h6M0 293h1M6 293h1M6 301h1M28 301h1M8 302h1M1 306h1M5 306h1M26 306h1M29 306h1M25 311h5M8 323h1M26 323h1M0 328h1M3 328h1M6 335h1M8 335h1M25 335h1M27 335h1M29 335h1M6 338h1M0 340h1M0 347h2M3 347h1M8 347h1M25 350h1M2 353h1M5 353h2M28 354h1M3 392h1M8 392h1M6 394h1M28 394h1M28 399h1M25 407h2M27 422h1M29 422h1M1 427h2M5 427h1M25 452h1M6 468h3M2 475h4M0 478h1M3 478h1"/>
<path stroke="#9090d0" d="M25 6h1M25 17h1M3 23h1M2 36h1M8 36h1M6 53h1M26 65h1M6 88h1M26 88h1M8 126h1M28 126h1M5 137h1M8 137h1M27 137h1M5 138h1M25 161h2M29 161h1M1 217h2M26 219h1M29 219h1M24 240h1M4 243h1M3 265h1M3 293h1M27 321h1M1 328h1M4 335h1M1 338h2M5 338h1M8 338h1M7 350h1M24 411h1M3 441h1M7 460h1M29 460h1M27 468h1"/>
<path stroke="#b0b0a0" d="M26 6h1M1 12h1M5 12h1M2 17h1M7 17h1M26 17h1M5 23h1M1 62h1M6 128h1M26 128h2M3 137h1M1 156h1M4 156h1M4 265h1M28 266h1M29 285h1M2 302h1M7 302h1M27 302h1M26 321h1M24 323h1M5 335h1M5 350h1M29 354h1M27 460h1M4 468h1"/>
<path stroke="#a0a090" d="M30 6h1M36 6h1M27 9h1M30 12h3M30 33h1M2 39h1M26 49h1M7 53h1M36 62h2M24 65h1M0 69h1M1 85h1M36 88h1M0 96h1M2 99h1M30 106h1M32 106h1M0 111h2M25 111h1M0 117h1M31 137h1M3 141h1M24 157h1M30 161h1M1 168h1M28 168h1M8 171h1M5 174h1M28 174h1M37 198h1M0 217h1M3 217h1M26 217h1M28 217h2M24 231h1M26 231h1M6 240h1M31 240h1M24 248h1M1 249h1M25 255h2M30 258h1M29 265h1M38 265h1M3 269h1M31 284h1M24 287h1M24 290h1M7 293h2M25 297h1M29 297h1M0 300h1M2 300h1M26 301h1M35 301h1M34 302h1M7 306h2M0 307h1M26 307h1M24 311h1M33 323h1M28 328h1M1 333h1M28 338h1M1 340h1M4 340h1M8 340h1M25 340h1M26 347h1M7 351h1M24 351h1M27 351h1M34 354h1M1 360h1M3 360h1M24 360h1M5 372h1M2 379h1M28 390h1M27 392h1M24 396h2M8 399h1M24 399h1M29 399h1M28 400h1M0 427h1M29 427h1M7 441h1M29 441h1M38 468h1M6 478h1M8 478h1M25 478h1"/>
<path stroke="#d0d080" d="M31 6h1M34 9h1M32 23h1M27 34h1M0 57h1M31 62h1M6 78h1M26 85h1M28 111h1M35 128h1M2 150h1M30 180h1M6 188h1M3 221h1M1 228h1M1 231h1M2 237h1M0 239h1M35 265h1M32 284h1M26 287h1M7 290h1M25 290h1M4 299h1M38 311h1M34 321h1M7 328h2M38 335h1M7 340h1M6 347h1M33 350h1M36 350h1M3 351h2M0 353h1M7 353h1M2 362h1M0 381h1M27 390h1M29 392h1M25 399h1M24 407h1M8 427h1M37 455h1M36 460h1M0 475h1"/>
<path stroke="#9090a0" d="M32 6h1M34 6h1M32 17h2M6 33h1M0 49h1M26 53h3M30 62h1M35 62h1M25 69h1M8 79h1M0 85h1M2 85h1M4 85h1M28 88h2M24 89h1M8 106h1M33 106h1M24 126h2M34 128h1M28 138h1M4 141h1M24 141h1M5 150h1M25 158h2M38 161h1M8 168h1M1 171h1M25 174h2M26 178h1M34 198h1M36 198h1M25 219h1M3 231h1M26 237h1M0 238h1M25 238h1M28 238h1M7 240h2M28 240h2M25 243h1M27 243h2M28 248h1M1 250h1M3 255h1M26 258h1M28 258h1M8 265h1M26 265h2M24 269h1M33 284h1M25 293h1M28 293h1M7 297h1M27 300h1M25 301h1M35 321h1M31 323h1M24 328h1M3 333h1M30 335h1M7 338h1M26 338h1M4 347h1M3 353h1M8 353h1M28 353h1M8 360h1M24 392h1M30 394h1M2 396h1M7 396h1M27 396h1M1 399h1M4 399h1M26 399h2M7 407h1M27 407h1M8 411h1M28 411h2M6 422h1M25 422h1M28 422h1M26 452h2M1 457h1M32 460h1M33 468h1"/>
<path stroke="#e0e070" d="M33 6h1M26 14h1M1 31h1M37 33h2M34 34h2M36 36h1M4 57h1M0 63h1M0 78h1M38 79h1M34 89h1M5 96h1M28 98h1M34 98h2M24 109h1M31 111h1M0 144h1M6 150h2M8 152h1M28 152h1M36 157h1M31 158h1M6 168h1M31 174h1M3 175h1M35 180h1M36 188h1M27 194h1M33 219h1M4 239h1M6 239h1M35 248h1M5 249h1M8 270h1M33 306h1M29 331h1M31 335h1M37 340h1M3 345h1M8 349h1M29 349h1M5 361h1M0 377h1M2 386h1M30 390h1M34 390h2M24 391h1M1 416h1M8 416h1M32 422h1M33 427h1M35 427h1M28 443h1M1 474h1M8 474h1M24 474h1"/>
<path stroke="#e0e080" d="M35 6h1M35 17h1M29 33h1M24 34h1M8 65h1M27 79h1M33 128h1M30 137h1M7 157h2M34 161h1M25 178h1M4 188h1M8 188h1M25 188h3M25 217h1M25 231h1M8 248h1M6 258h1M2 293h1M28 302h1M3 306h1M25 306h1M29 328h1M35 335h1M5 347h1M29 353h1M31 354h1M33 354h1M0 379h1M1 381h2M26 392h1M8 396h1M6 427h1M35 460h1M24 468h1M26 468h1M5 478h1M28 478h1"/>
<path stroke="#8080c0" d="M37 6h1M4 7h1M30 23h1M0 30h1M6 49h1M33 49h1M36 65h1M27 78h1M5 99h1M31 106h1M34 106h1M4 115h1M31 126h1M29 138h1M38 138h1M25 141h2M27 157h1M1 170h1M6 171h1M36 174h1M24 178h1M0 206h1M7 217h1M2 221h1M4 221h1M26 221h1M4 228h1M6 231h1M29 231h1M34 238h1M36 243h1M24 250h1M28 250h1M26 290h1M8 297h1M6 300h2M25 300h1M36 301h1M38 301h1M36 302h1M36 323h1M33 328h1M31 338h1M35 338h1M8 345h1M27 347h1M5 349h1M28 351h1M36 353h1M38 354h1M32 364h1M7 379h1M25 381h1M32 399h1M29 400h1M33 411h1M35 411h1M30 452h1M36 452h1M34 455h1M27 457h1M2 467h1M30 478h1M32 478h1"/>
<path stroke="#7070f0" d="M38 6h1M0 7h1M2 7h2M5 7h3M25 7h2M29 7h1M4 8h1M6 8h1M31 11h5M37 11h2M25 14h1M27 21h1M5 24h1M1 30h2M4 30h1M6 30h1M25 30h1M6 39h1M38 53h1M6 59h3M31 59h1M27 63h1M31 65h4M37 65h2M1 68h1M34 69h1M35 79h1M38 106h1M6 111h1M38 111h1M27 119h1M0 134h1M3 134h1M33 138h1M32 141h1M4 143h1M29 143h1M2 152h1M6 152h1M5 153h1M29 153h1M5 170h1M8 170h1M24 170h3M25 171h1M27 175h1M6 178h3M29 178h1M37 178h1M0 194h4M5 194h1M1 206h1M1 220h1M3 220h1M5 221h1M5 228h1M31 238h1M38 238h1M32 240h1M0 250h1M2 250h2M5 250h1M38 269h1M27 270h2M34 284h1M33 287h1M37 287h1M2 290h1M27 290h1M31 293h1M33 293h2M36 293h1M24 297h1M31 297h1M33 297h1M36 297h1M25 299h2M28 299h2M37 300h1M32 301h1M30 302h1M0 330h4M5 330h1M5 333h2M8 333h1M32 338h1M30 340h1M33 340h1M31 350h1M35 351h1M34 353h1M3 361h1M27 362h1M6 372h1M31 379h1M33 379h1M37 379h1M0 387h2M3 387h1M8 387h1M32 400h1M32 411h1M1 426h1M31 441h1M26 449h1M28 449h1M4 456h1M24 456h1M26 456h3M0 457h1M2 457h1M6 457h1M2 463h1M25 463h1M6 467h1M8 467h1M27 467h1M26 475h1M29 475h1M31 475h3M0 476h1M2 476h1M4 476h2"/>
<path stroke="#8080b0" d="M8 7h1M25 8h1M34 12h1M4 14h1M8 14h1M24 21h1M38 23h1M5 30h1M8 30h1M27 30h1M31 34h1M35 49h1M35 53h1M29 59h1M32 59h1M35 59h1M33 69h1M31 89h1M33 89h1M37 89h1M30 98h1M26 99h1M28 99h1M28 109h1M0 115h1M28 119h1M30 126h1M32 126h1M36 126h1M35 137h1M38 137h1M34 138h1M6 141h1M8 141h1M33 141h1M1 143h1M26 143h1M6 153h1M6 170h2M3 171h1M7 171h1M7 172h1M33 174h1M25 175h1M28 178h1M7 193h1M35 198h1M25 206h1M33 217h1M37 219h1M35 240h2M31 243h1M30 248h1M4 250h1M8 250h1M8 255h1M36 258h1M30 269h2M36 284h1M27 287h1M37 293h1M26 297h1M38 297h1M30 300h1M37 302h1M24 303h1M35 306h1M26 333h1M36 335h1M33 338h1M38 338h1M32 350h1M4 361h1M1 362h1M38 364h1M7 372h1M4 377h1M32 379h1M36 379h1M29 381h1M5 386h1M6 387h1M8 390h1M26 390h1M34 399h1M26 400h2M30 411h2M31 422h1M0 426h1M3 426h2M33 441h1M2 443h1M4 443h1M4 449h1M7 456h1M25 457h2M29 463h1M28 467h1M6 474h1M31 478h1"/>
<path stroke="#f0f070" d="M1 8h1M24 8h1M31 9h3M0 14h1M0 21h1M5 21h1M32 33h1M34 33h1M32 34h1M38 34h1M1 39h1M3 39h1M5 39h1M1 57h1M5 57h1M8 57h1M28 57h1M34 62h1M37 69h1M4 78h2M7 78h1M3 85h1M6 85h2M28 85h1M4 96h1M7 96h2M27 96h1M0 98h6M7 98h2M24 98h1M26 98h2M29 98h1M0 99h1M6 99h3M27 99h1M35 106h1M8 111h1M5 117h1M7 117h1M29 117h1M8 119h1M30 128h1M37 128h1M30 138h2M31 141h1M2 144h4M24 144h1M27 144h2M0 150h2M4 150h1M28 150h1M34 156h1M6 157h1M26 157h1M29 157h1M31 157h2M34 157h2M30 158h1M33 158h1M37 158h1M0 168h1M3 168h2M29 168h1M0 171h1M1 172h1M0 175h3M4 175h2M27 178h1M31 180h4M37 180h1M1 183h1M5 183h1M4 184h1M30 188h1M32 188h2M37 188h1M35 217h1M0 221h1M27 221h1M0 228h1M3 228h1M7 228h1M27 228h1M34 231h1M0 237h2M3 237h3M7 237h2M27 237h1M35 238h1M1 239h1M7 239h1M25 239h1M28 239h1M0 249h1M2 249h1M7 249h2M25 249h1M24 255h1M30 266h2M37 266h1M34 285h1M36 285h1M38 285h1M6 287h3M28 287h1M4 290h1M6 290h1M6 297h1M0 299h1M7 299h1M3 303h2M6 303h2M25 303h1M28 303h1M32 306h1M34 306h1M2 307h1M5 307h1M30 311h1M32 311h1M35 311h1M37 311h1M31 321h2M38 323h1M35 328h1M0 331h2M4 331h1M1 345h1M29 345h1M25 346h2M31 347h1M37 347h1M1 349h1M3 349h1M24 349h1M26 349h2M38 350h1M26 351h1M28 360h1M33 360h1M26 361h1M5 362h2M33 364h1M4 372h1M28 372h1M6 379h1M3 381h1M5 381h3M27 381h1M29 390h1M38 390h1M6 392h1M34 394h2M34 396h1M36 396h1M35 399h1M1 400h2M4 400h2M7 400h2M35 407h2M38 407h1M0 416h1M2 416h2M5 416h3M24 416h3M28 416h1M25 427h2M30 441h1M38 452h1M24 457h1M30 460h1M33 460h2M37 460h1M30 468h1M32 468h1M35 468h1M0 474h1M3 474h3M7 474h1M35 478h1"/>
<path stroke="#c0b080" d="M3 8h1M32 36h1M38 157h1M31 161h1M26 270h1M31 360h1"/>
<path stroke="#7070e0" d="M7 8h1M0 24h1M25 24h1M33 36h1M38 59h1M24 63h1M35 65h1M2 68h1M5 77h1M25 78h1M32 78h1M33 79h2M24 85h1M30 89h1M35 89h1M1 109h1M4 109h1M1 117h1M37 126h2M7 134h1M24 143h1M0 153h1M25 168h1M26 193h1M28 193h2M4 194h1M28 206h1M5 220h1M8 221h1M4 241h1M28 241h1M32 248h1M34 248h1M6 250h1M26 250h1M33 250h1M34 290h1M27 299h1M24 307h1M31 328h2M0 345h1M32 360h1M6 361h1M38 379h1M38 400h1M36 411h2M36 422h1M24 449h1M1 463h1M1 467h1"/>
<path stroke="#e0e090" d="M4 9h1M27 17h1M2 62h1M7 62h2M3 161h1M0 219h1M3 248h1M1 258h1M3 266h1M24 266h1M27 285h1M4 323h1M2 328h1M28 335h1M0 394h1M2 452h1M28 455h1M26 460h1"/>
<path stroke="#b0b090" d="M7 9h1M7 11h2M26 34h1M28 34h1M24 36h2M28 36h1M25 79h1M29 89h1M6 106h1M27 106h1M26 126h1M36 128h1M3 138h1M24 138h2M7 156h1M28 156h1M28 157h1M24 158h1M27 158h1M36 161h1M4 174h1M1 188h1M2 219h1M2 238h1M4 238h1M8 238h1M25 240h1M24 243h1M7 248h1M8 258h1M33 266h4M2 269h1M37 285h1M1 290h1M8 301h1M29 302h1M0 306h1M28 306h1M25 338h1M27 338h1M6 340h1M29 340h1M24 347h2M6 350h1M28 350h1M0 351h1M8 351h1M1 353h1M30 354h1M2 360h1M26 360h1M24 390h1M2 399h1M29 407h1M8 422h1M24 422h1M26 422h1M3 427h1M24 427h1M32 455h1M25 468h1"/>
<path stroke="#b0b070" d="M17 9h1M13 12h1M19 12h1M2 13h1M31 14h1M14 17h1M22 17h1M23 23h1M37 24h1M6 31h1M12 33h1M15 34h1M22 34h2M11 36h1M19 36h1M31 39h1M1 41h1M25 41h1M28 44h1M34 44h1M12 49h1M14 49h1M31 50h1M25 52h1M33 57h1M36 57h1M23 62h1M31 63h1M35 68h1M6 72h1M4 76h2M28 77h1M34 78h1M9 79h1M8 80h1M0 84h1M33 85h1M10 88h1M12 88h1M19 88h1M21 88h1M15 89h1M32 96h1M18 98h1M37 98h2M36 99h1M38 99h1M10 106h1M13 106h1M20 106h1M34 109h1M20 111h1M32 114h1M7 115h1M33 115h1M18 128h1M27 129h1M7 133h1M27 134h2M31 134h1M9 138h1M16 138h1M32 144h1M36 150h1M30 152h1M33 152h1M23 157h1M12 158h2M20 158h1M22 158h1M28 160h1M14 161h2M35 172h1M38 172h1M0 177h1M2 177h1M5 177h1M8 177h1M19 180h1M31 183h1M31 184h1M25 186h1M33 193h1M25 195h1M9 198h1M33 206h1M34 221h1M29 225h1M0 230h1M35 239h1M12 240h1M19 240h1M22 240h1M7 241h1M26 246h1M28 246h1M35 246h1M33 249h1M27 253h1M6 254h1M30 254h1M10 258h1M4 259h1M24 259h1M11 265h1M13 265h1M23 265h1M21 269h1M7 276h1M25 276h1M8 280h1M26 281h1M14 285h1M17 306h1M5 308h1M15 311h1M18 311h1M27 318h1M20 328h1M5 334h1M24 334h1M26 334h1M4 337h1M23 338h1M8 342h1M6 343h1M33 345h1M15 347h1M30 348h1M35 349h1M37 349h1M23 351h1M14 353h1M9 354h1M20 354h1M5 356h1M27 356h1M8 358h1M10 360h1M28 363h1M12 364h1M21 364h1M26 377h1M25 386h1M38 387h1M0 391h1M26 391h1M38 391h1M23 392h1M10 394h1M15 394h1M17 396h1M12 399h1M33 416h1M16 422h1M18 422h1M0 431h1M1 438h1M38 438h1M23 441h1M36 443h1M2 445h1M25 445h1M30 449h1M11 460h1M17 460h1M23 468h1M6 471h1M27 471h1M26 473h1M30 474h1M25 476h1M22 478h1"/>
<path stroke="#d0d070" d="M30 9h1M9 17h1M26 24h1M8 39h1M7 57h1M34 57h2M6 63h1M33 96h1M31 117h1M37 117h1M29 119h1M2 129h1M26 134h1M28 143h1M37 143h1M1 144h1M7 144h1M5 172h1M35 178h1M38 183h1M8 184h1M25 184h1M25 194h1M26 206h1M32 217h1M26 218h1M26 228h1M38 231h1M31 237h1M37 237h1M24 239h1M27 249h1M34 249h1M12 266h1M18 266h1M30 270h1M13 285h1M5 299h1M33 311h1M37 333h1M4 334h1M36 340h1M38 340h1M30 345h1M24 346h1M28 346h2M31 346h1M32 349h1M27 361h2M37 387h1M25 391h1M27 391h1M34 392h1M32 396h1M36 400h1M4 438h1M4 463h1M6 463h1M32 474h1"/>
<path stroke="#5050c0" d="M9 10h1M35 10h1M11 13h1M16 18h1M1 19h1M9 20h1M11 20h1M17 25h1M20 26h1M29 26h1M21 29h1M26 29h1M0 32h1M3 32h1M8 32h1M21 32h1M36 42h1M18 43h1M14 45h1M32 45h1M35 45h1M28 46h1M23 55h1M24 56h2M29 58h1M10 64h1M16 64h1M15 67h1M33 67h1M7 71h1M24 71h1M9 72h1M12 72h1M23 72h1M2 74h1M10 74h1M28 74h1M31 74h1M11 75h1M17 75h1M17 80h1M19 80h1M1 82h1M11 83h1M29 87h1M2 90h1M24 90h1M19 94h1M25 94h1M37 94h1M6 95h1M15 95h1M37 100h1M20 101h1M22 102h1M22 103h1M8 105h1M28 105h1M34 105h1M20 110h1M12 112h1M8 113h1M19 113h1M23 113h1M31 118h1M33 121h1M35 121h1M32 123h1M7 124h1M36 124h1M7 125h1M15 125h1M36 125h1M11 127h1M8 130h1M17 130h1M12 133h1M4 139h1M29 139h1M32 139h1M3 140h1M5 140h1M34 140h1M37 140h1M20 146h1M34 146h1M29 147h1M36 147h1M18 151h1M9 155h1M25 155h1M33 155h1M20 159h1M23 159h1M9 160h1M0 162h1M17 162h2M24 164h1M28 164h2M7 165h1M29 165h2M12 166h1M24 166h1M29 166h2M22 167h1M35 167h1M3 169h1M23 173h1M13 181h1M9 182h1M13 182h1M18 182h1M32 185h1M15 187h1M30 191h1M1 196h1M6 196h1M17 197h1M20 197h1M14 199h1M15 203h1M27 208h1M38 211h1M11 213h1M23 213h1M22 214h1M16 216h1M36 216h1M5 223h1M0 232h1M11 234h1M25 234h2M19 235h1M9 236h1M2 242h2M6 242h1M19 262h1M34 268h1M16 271h1M37 274h1M11 277h1M16 277h1M2 278h1M6 278h1M27 278h1M1 283h1M16 288h1M3 289h1M10 289h1M34 289h1M16 291h1M13 296h1M35 296h1M9 298h1M20 298h1M14 305h1M10 310h1M34 310h1M18 314h1M22 314h1M38 314h1M37 315h1M3 317h1M24 317h1M12 318h1M34 322h1M16 325h1M23 326h1M20 329h1M30 329h1M35 329h1M19 332h1M14 334h1M19 334h1M18 336h1M32 336h1M10 339h1M33 355h1M11 358h1M1 366h1M30 374h1M36 374h1M10 376h1M19 376h1M22 376h1M34 376h1M30 378h1M34 378h1M21 383h1M0 384h1M14 384h1M29 388h1M7 389h1M35 397h1M32 398h1M37 398h1M15 401h1M20 401h1M23 404h1M12 405h1M9 408h1M14 408h1M8 409h1M20 418h1M14 421h1M26 421h1M33 421h1M10 425h1M4 432h1M38 435h1M8 440h1M9 442h1M38 442h1M10 445h1M13 446h1M22 453h1M10 461h1M17 464h1M23 464h1M38 464h1M2 472h1M14 472h1M31 472h1M3 477h2M6 477h1M14 479h1"/>
<path stroke="#5050b0" d="M21 10h1M16 15h1M7 19h1M10 19h1M10 29h1M13 32h1M22 32h1M13 35h1M13 43h1M17 43h1M25 45h1M13 46h1M10 55h1M30 55h1M20 60h1M34 60h1M14 66h1M11 67h1M9 70h1M22 70h1M10 71h1M25 74h1M37 74h1M15 75h1M18 82h1M21 82h1M16 83h1M18 83h1M20 83h1M12 86h1M25 86h1M19 87h1M9 90h1M4 91h1M26 91h1M16 94h1M10 95h1M34 95h1M34 101h1M23 104h1M3 105h1M10 105h1M37 105h1M0 113h1M11 113h1M17 113h1M11 116h1M5 121h1M36 121h1M10 123h1M19 123h2M22 123h1M35 123h2M23 125h1M13 127h1M26 130h1M12 135h1M14 135h1M21 135h1M16 139h2M18 140h1M11 142h1M17 155h1M19 155h1M26 155h1M34 155h1M9 162h1M33 162h1M38 162h1M21 163h1M26 164h1M23 165h1M28 165h1M1 169h1M31 169h1M11 176h1M12 179h1M17 179h1M9 181h1M35 181h1M20 185h1M14 191h1M12 196h2M33 196h1M16 197h1M16 199h1M11 200h1M33 200h1M36 200h1M15 201h1M17 201h1M21 205h1M26 205h1M13 207h2M18 208h1M23 210h1M22 213h1M13 214h1M20 223h1M36 223h1M8 224h1M18 224h1M25 224h1M33 224h1M13 227h1M25 229h1M1 233h1M3 233h1M22 234h1M11 236h1M19 236h1M21 236h1M36 242h1M22 244h1M33 244h1M10 252h1M23 252h1M0 256h1M17 260h1M37 260h1M9 267h1M12 267h1M18 267h1M22 267h1M22 272h1M9 274h1M21 277h1M23 278h1M26 278h1M34 278h1M34 279h1M15 283h1M17 286h1M23 286h1M4 289h1M16 289h1M37 289h1M0 296h1M17 296h1M12 298h1M33 309h1M34 317h1M37 317h1M22 322h1M16 326h1M19 326h1M23 329h1M15 332h2M14 336h1M13 341h1M23 341h1M14 355h1M7 357h1M15 368h1M26 368h1M10 369h1M16 374h1M33 374h1M31 375h1M11 376h1M1 378h1M9 378h1M2 384h1M20 384h1M30 385h1M11 388h1M15 388h1M6 389h1M17 389h1M13 397h1M37 397h1M10 398h1M37 402h1M11 403h1M12 404h1M9 405h1M19 405h1M23 405h1M19 408h1M20 409h1M1 415h1M14 415h1M33 419h1M35 419h1M16 421h1M21 421h1M4 424h1M20 424h1M21 425h1M11 432h1M25 432h1M10 434h1M24 434h1M14 435h2M21 440h1M24 440h1M34 440h1M10 442h1M21 444h1M4 446h1M8 446h1M21 446h1M28 446h1M32 446h2M23 450h1M14 454h1M15 458h1M14 465h1M34 469h1M16 472h1M19 472h1"/>
<path stroke="#9090b0" d="M0 11h1M8 12h1M29 12h1M30 17h1M36 17h1M25 23h1M5 34h1M8 34h1M5 49h1M8 53h1M24 79h1M7 88h1M25 88h1M6 89h1M28 89h1M29 106h1M25 137h1M2 138h1M25 156h1M37 161h1M4 171h1M3 174h1M8 174h1M5 188h1M5 217h1M8 217h1M4 231h2M26 248h2M0 269h1M28 269h2M26 293h1M7 301h1M24 301h1M24 302h1M6 311h1M5 328h1M0 338h1M28 340h1M24 353h2M5 360h2M27 360h1M29 364h1M3 379h2M25 379h1M6 390h1M28 396h2M5 399h3M4 411h1M27 411h1M0 422h1M5 422h1M28 452h1M29 468h1M1 475h1M27 475h1M26 478h2"/>
<path stroke="#8080f0" d="M4 11h1M24 11h2M27 11h1M29 11h1M33 23h1M35 23h1M0 34h5M6 34h2M6 36h2M1 49h1M4 49h1M7 49h2M24 49h1M29 49h1M2 53h1M24 53h1M29 53h1M0 59h6M27 62h1M25 65h1M28 65h2M1 69h2M4 69h4M1 79h1M4 79h4M26 79h1M0 89h3M7 89h2M27 89h1M6 126h1M6 137h2M4 138h1M6 138h1M8 138h1M0 141h3M35 161h1M2 171h1M5 171h1M0 174h1M27 174h1M0 178h3M4 178h2M31 198h1M27 217h1M24 219h1M1 221h1M2 231h1M8 231h1M29 238h1M2 240h1M26 240h1M6 243h3M2 255h1M5 255h1M29 258h1M25 265h1M38 266h1M24 293h1M27 293h1M1 297h2M4 297h1M1 300h1M3 300h1M5 300h1M25 302h1M5 311h1M7 311h2M26 328h1M5 351h1M25 360h1M6 364h3M8 379h1M26 379h2M29 379h1M1 390h2M4 390h2M25 392h1M28 392h1M26 396h1M0 399h1M3 399h1M0 407h1M2 407h3M6 407h1M6 411h2M25 411h2M2 422h2M24 441h1M0 452h1M3 452h1M5 452h4M29 452h1M38 455h1M29 478h1"/>
<path stroke="#9090c0" d="M6 11h1M2 12h1M28 17h1M25 33h1M2 49h1M4 53h1M29 62h1M0 79h1M3 79h1M27 88h1M3 89h1M29 137h1M2 156h1M27 161h1M28 198h2M28 219h1M26 238h2M3 240h1M27 240h1M0 243h1M27 258h1M2 265h1M24 265h1M28 265h1M4 269h1M7 284h1M25 284h1M27 301h1M6 306h1M8 321h1M25 328h1M3 340h1M0 350h1M27 353h1M6 354h1M0 360h1M4 360h1M27 364h1M2 392h1M25 394h1M0 396h2M8 407h1M1 441h1M25 441h1M4 452h1M7 455h1M25 455h1M2 478h1"/>
<path stroke="#8080e0" d="M26 11h1M34 23h1M34 36h1M3 49h1M25 59h1M8 69h1M2 79h1M5 89h1M32 128h1M27 141h1M31 156h1M7 174h1M32 198h1M38 198h1M0 255h1M6 255h2M25 269h2M37 284h2M5 297h1M24 338h1M30 350h1M35 350h1M1 379h1M28 381h1M0 390h1M4 396h1M1 407h1M26 441h1M30 455h1M3 457h1"/>
<path stroke="#8080d0" d="M28 11h1M36 11h1M34 17h1M36 23h1M28 49h1M25 53h1M30 65h1M24 69h1M3 96h1M31 128h1M5 141h1M0 170h1M3 170h1M6 174h1M3 178h1M25 221h1M0 231h1M24 238h1M7 258h1M27 269h1M34 269h1M33 285h1M29 290h1M29 293h2M3 297h1M27 297h2M38 302h1M38 321h1M2 333h1M29 333h1M34 338h1M2 340h1M2 351h1M26 353h1M36 354h1M7 360h1M5 379h1M24 379h1M28 379h1M26 381h1M3 390h1M7 390h1M1 392h1M4 392h1M5 396h1M38 411h1M28 441h1M37 441h1M33 455h1M4 457h2M7 478h1M24 478h1M38 478h1"/>
<path stroke="#9090f0" d="M0 12h1M24 23h1M27 23h1M29 23h1M0 36h2M3 36h3M0 88h1M2 88h2M5 88h1M1 126h1M4 126h1M0 137h2M4 137h1M24 161h1M4 198h1M26 198h2M1 243h3M5 243h1M0 284h4M5 284h2M8 284h1M27 284h1M2 301h1M0 321h1M4 321h4M1 350h1M4 350h1M2 354h1M0 364h6M0 411h3M5 411h1M24 455h1M3 460h2M6 460h1"/>
<path stroke="#c0c0a0" d="M4 12h1M3 17h2M1 33h1M3 156h1M2 266h1M26 266h1M5 302h1M2 321h1M0 323h1M2 323h2M5 460h1"/>
<path stroke="#c0b090" d="M7 12h1M24 88h1M0 297h1M4 300h1"/>
<path stroke="#d0c060" d="M16 12h1M17 34h1M10 49h1M9 53h1M5 132h1M17 158h1M18 175h1M35 184h1M24 275h1M27 295h1M16 335h1M33 363h1M24 406h1M31 413h1M34 473h1"/>
<path stroke="#908080" d="M21 12h1M37 386h1"/>
<path stroke="#f0e060" d="M23 12h1M21 17h1M5 114h1M30 114h1M36 115h1M2 160h1M3 195h1M9 353h1M27 466h1"/>
<path stroke="#b0a080" d="M6 14h1M2 331h1M28 362h1M33 399h1"/>
<path stroke="#a0a050" d="M9 15h1M15 19h1M17 19h1M37 19h1M20 32h1M10 46h1M22 46h1M22 55h1M9 56h1M10 58h2M23 74h1M22 75h1M36 91h1M17 101h1M10 112h1M16 113h1M11 118h1M12 121h1M15 121h1M30 121h1M9 123h1M15 130h1M32 130h1M12 131h1M20 131h1M14 145h1M20 145h1M14 155h1M14 164h1M10 165h1M16 165h1M13 167h1M21 167h1M36 169h1M13 190h1M13 192h1M23 200h1M9 201h1M9 211h1M15 223h1M11 229h1M23 233h1M37 233h1M10 256h1M16 268h1M14 279h1M20 294h1M30 294h1M16 309h1M34 316h1M16 317h1M18 317h3M38 336h1M11 339h1M13 344h1M18 355h1M23 378h1M23 384h1M17 385h1M18 403h1M11 409h1M10 415h1M17 415h1M10 424h1M18 424h1M16 436h1M11 442h1M32 442h1M11 444h1M17 446h1M11 453h1M20 454h1M14 462h1M22 469h1M15 479h1"/>
<path stroke="#e0e040" d="M12 15h1M19 16h1M14 27h1M10 60h1M14 60h1M23 60h1M20 64h1M17 74h1M11 103h1M14 121h1M12 130h1M36 130h1M17 167h1M19 179h1M17 189h2M14 192h1M19 192h1M11 224h1M19 227h1M9 229h1M12 229h1M14 233h1M21 233h1M25 233h1M33 233h1M23 235h1M33 256h1M9 271h1M23 294h1M22 304h1M12 305h1M21 329h1M28 341h1M30 341h1M24 368h1M17 369h1M21 369h1M11 370h1M14 371h1M32 373h1M37 374h1M16 376h1M27 388h1M18 389h1M35 389h1M15 408h1M13 414h1M24 415h1M10 423h1M11 424h1M14 424h1M26 424h2M12 428h1M16 428h1M19 434h1M11 437h1M23 437h1M12 439h1M31 439h1M11 446h1M21 458h1M19 462h1M19 465h1"/>
<path stroke="#908070" d="M26 15h1M32 51h1M6 108h1M25 163h1M36 391h1M5 401h1M18 476h1"/>
<path stroke="#4040e0" d="M9 16h1M21 16h1M23 16h1M22 19h1M13 26h1M19 29h1M17 35h1M20 42h1M38 45h1M16 46h1M38 46h1M21 56h1M13 58h1M30 58h2M34 58h1M14 61h1M19 67h1M21 67h1M10 70h1M18 70h1M20 74h1M14 82h1M20 82h1M13 86h1M17 86h2M11 87h1M16 87h1M10 90h1M20 90h3M9 91h1M9 94h1M12 94h1M11 95h1M23 95h1M13 101h2M12 103h1M21 103h1M12 113h3M21 113h1M32 113h1M34 113h1M14 118h1M23 118h1M18 123h1M10 124h1M10 125h1M12 125h1M14 125h1M21 125h1M16 127h1M23 127h1M10 139h1M13 139h3M23 139h1M10 140h1M22 140h1M9 146h1M14 146h1M16 146h2M19 146h1M22 146h1M33 146h1M18 147h2M33 147h1M14 148h1M31 155h1M35 155h2M14 159h1M16 159h1M21 159h1M14 162h2M11 164h1M15 164h1M31 164h1M37 164h2M17 166h1M19 166h1M10 167h2M20 167h1M11 181h2M16 181h2M19 181h2M22 181h1M22 185h1M16 187h1M18 191h1M21 199h1M19 200h1M10 201h1M31 205h1M33 205h1M15 207h1M12 213h1M17 213h1M15 216h1M12 223h1M16 223h1M21 223h1M32 223h1M34 229h1M11 232h2M15 232h1M22 232h1M12 234h1M17 234h1M19 234h1M21 234h1M14 236h1M23 236h1M14 245h3M20 245h1M22 245h1M12 263h1M36 263h1M38 263h1M10 267h2M13 267h1M15 267h1M21 267h1M16 274h1M23 274h1M11 278h1M32 279h1M38 279h1M19 286h1M9 289h1M38 289h1M10 296h2M18 296h1M22 296h1M32 296h2M17 305h1M17 310h2M22 310h1M17 314h1M10 316h1M30 317h1M21 326h1M22 329h1M17 332h1M36 339h1M11 352h1M15 357h1M33 357h2M36 357h1M10 366h1M12 366h2M15 366h3M19 366h1M22 366h2M32 368h1M36 368h1M9 374h1M13 374h1M18 374h1M21 374h1M31 374h1M9 375h1M16 375h1M11 378h2M14 378h2M17 378h2M20 378h1M36 378h1M38 378h1M12 383h1M9 384h1M13 384h1M14 385h1M19 389h1M18 395h1M9 403h1M21 403h1M23 415h1M33 415h1M36 421h1M21 432h2M31 432h1M18 435h1M11 440h1M14 440h1M22 444h1M9 446h1M15 446h1M18 465h1"/>
<path stroke="#a0a0c0" d="M5 17h1M2 161h1M5 161h1M1 198h1M4 284h1M5 354h1M0 460h1"/>
<path stroke="#c0b0a0" d="M24 17h1"/>
<path stroke="#606060" d="M9 19h1M10 32h1M18 45h1M17 46h1M13 55h1M14 58h2M9 61h1M13 61h1M18 61h1M21 61h1M15 64h1M21 66h1M21 70h1M21 74h1M19 82h1M19 86h1M19 91h1M20 95h1M17 105h1M17 118h1M22 118h1M16 121h1M19 121h1M9 125h1M14 130h1M19 140h1M16 145h1M11 147h1M18 164h1M13 165h1M17 165h1M12 169h1M9 179h1M11 190h2M14 190h1M19 190h1M10 192h1M9 196h1M11 196h1M17 196h1M15 200h1M20 200h1M14 201h1M20 201h1M18 211h1M20 215h1M13 216h1M19 216h1M10 224h1M16 224h1M12 226h1M22 227h1M10 236h1M15 244h1M21 244h1M17 256h1M13 260h1M18 260h1M11 263h1M20 274h1M22 274h1M19 278h1M23 279h1M11 294h1M14 294h1M9 317h1M12 317h1M9 332h1M14 341h1M16 341h1M20 341h1M9 355h1M20 357h1M23 357h1M23 368h1M14 388h1M10 409h1M19 409h1M23 409h1M18 415h1M15 421h1M20 421h1M12 424h2M21 424h1M16 425h1M19 425h1M13 432h1M21 442h1M20 469h1"/>
<path stroke="#a09060" d="M20 19h1M32 29h1M0 164h1M25 165h1M15 173h1M13 179h1M36 205h1M24 211h1M24 242h1M23 253h1M31 268h1M34 312h1M33 325h1M31 341h1M21 355h1M4 378h1M18 380h1M12 403h1M6 419h1M33 447h1"/>
<path stroke="#c0b050" d="M28 19h1M25 27h1M30 27h1M32 35h1M33 91h1M10 107h1M19 116h1M32 135h1M15 136h1M19 164h1M21 173h1M15 176h1M14 212h1M33 226h1M23 227h1M33 267h1M21 320h1M11 434h1M31 462h1M32 469h1"/>
<path stroke="#a09080" d="M38 21h1M37 59h1M0 254h1M25 270h1M24 443h1"/>
<path stroke="#9090e0" d="M26 23h1M3 53h1M5 53h1M8 88h1M2 106h1M25 106h1M26 137h1M2 174h1M4 240h2M1 269h1M29 284h1M0 301h1M3 301h1M5 301h1M0 311h2M0 335h1M4 338h1M8 350h1M27 350h1M5 407h1M3 411h1M1 455h1M5 455h1M27 455h1M4 478h1"/>
<path stroke="#5050a0" d="M23 27h1M20 29h1M10 35h1M14 35h1M19 35h1M37 45h1M9 46h1M22 58h1M13 64h1M19 64h1M20 66h1M9 71h1M38 74h1M9 75h1M14 83h2M20 86h1M23 86h1M12 87h1M30 91h1M10 94h1M12 95h1M17 95h1M11 105h1M14 105h1M18 105h2M19 112h2M10 113h1M32 121h1M34 121h1M18 125h1M22 125h1M9 130h1M17 135h1M11 139h1M12 140h1M13 145h1M34 145h1M13 146h1M18 146h1M23 146h1M36 146h1M15 148h1M11 149h1M17 149h1M9 151h1M16 155h1M18 155h1M10 159h1M23 162h1M23 164h1M11 165h1M32 165h1M9 167h1M16 169h1M19 169h1M23 192h1M15 196h2M36 196h2M9 199h1M22 199h1M9 200h1M16 201h1M20 205h1M23 205h1M11 208h1M16 215h1M18 216h1M22 216h1M11 223h1M14 223h1M13 229h1M17 229h1M17 236h1M11 244h2M14 244h1M16 263h1M22 263h1M12 274h1M33 274h1M10 278h1M12 278h1M20 278h1M31 278h1M20 286h1M12 289h1M15 289h1M19 289h1M21 296h1M14 314h1M22 315h1M17 316h1M20 316h1M22 316h1M17 317h1M10 326h1M10 329h1M23 336h1M23 339h1M18 341h1M17 374h1M22 374h1M10 375h1M19 375h1M22 375h1M19 378h1M22 383h1M11 384h1M21 384h1M12 398h1M15 398h1M30 403h1M22 409h1M18 410h1M23 410h1M11 415h1M20 417h1M17 421h1M16 424h1M13 425h1M15 432h1M12 434h1M13 439h1M18 440h2M32 440h1M22 446h1M10 454h1M12 454h1M15 454h1M13 464h1M12 465h1M12 472h1M19 477h1"/>
<path stroke="#a09070" d="M12 30h1M10 111h1M1 177h1M9 193h1M26 271h1M0 318h1M15 328h1M15 333h1M22 333h1M9 346h1"/>
<path stroke="#b0a050" d="M14 32h1M34 61h1M30 95h1M19 130h1M30 148h1M18 149h1M31 289h1M21 352h1"/>
<path stroke="#f0e090" d="M0 33h1"/>
<path stroke="#e0d060" d="M18 36h1M31 152h1M2 261h1M22 290h1"/>
<path stroke="#908060" d="M32 38h1M14 42h1M6 75h1M4 101h1M17 145h1M9 176h1M12 177h1M37 229h1M8 234h1M15 342h1M11 344h1M22 358h1M21 409h1M9 419h1M14 444h1M9 473h1"/>
<path stroke="#b0a070" d="M4 43h1M23 59h1M15 137h1M17 219h1M11 240h1M5 291h1M34 291h1M3 312h1M0 343h1M7 348h1M21 392h1"/>
<path stroke="#f0e050" d="M15 47h1M31 80h1M36 83h1M15 221h1M12 261h1M3 319h1M2 412h1M35 473h1"/>
<path stroke="#f0e070" d="M25 57h1M2 117h1M34 188h1M8 362h1"/>
<path stroke="#c0b070" d="M17 62h1M27 114h1M7 175h1M24 184h1M10 238h1M24 247h1M30 287h1M12 335h1"/>
<path stroke="#e0d040" d="M9 64h1M18 91h1M11 447h1M22 447h1"/>
<path stroke="#d0d040" d="M11 66h1M22 101h1M12 165h1M15 209h1M14 229h1M21 229h2M21 317h1M10 357h1M23 373h1M13 442h1M15 469h1M23 477h1M13 479h1"/>
<path stroke="#e0d050" d="M37 75h1M27 86h1M38 93h1M11 102h1M23 122h1M33 127h1M13 144h1M33 166h1M27 169h1M33 189h1M28 192h1M13 204h1M19 225h1M28 232h1M32 308h1M14 327h1M35 352h1M1 388h1M18 428h1"/>
<path stroke="#d0c080" d="M3 78h1M38 180h1M1 351h1"/>
<path stroke="#807070" d="M29 82h1M24 87h1M28 131h1M9 143h1M9 324h1M38 329h1M29 332h1M1 385h1M16 473h1"/>
<path stroke="#e0d070" d="M3 109h1M34 111h1M25 152h1"/>
<path stroke="#807060" d="M15 112h1M13 122h1M6 181h1M14 268h1M22 325h1M11 371h1M10 385h1M12 395h1M22 458h1"/>
<path stroke="#d0d0a0" d="M1 128h2M0 161h1M1 266h1M3 354h1"/>
<path stroke="#e0d090" d="M24 128h1"/>
<path stroke="#505090" d="M15 147h1M22 165h1M17 190h1M19 224h1M21 366h1M10 389h1M15 424h1"/>
<path stroke="#e0d080" d="M35 156h1M24 237h1M25 351h1M6 441h1M2 474h1"/>
<path stroke="#4040d0" d="M14 181h1M9 232h1"/>
<path stroke="#a0a0d0" d="M0 198h1M3 198h1M0 455h1M2 460h1"/>
<path stroke="#f0e080" d="M1 219h1M28 231h1M29 301h1M8 394h1"/>
<path stroke="#a09090" d="M6 269h1M0 372h1"/>
<path stroke="#d0c070" d="M37 297h1M35 361h1M31 416h1M22 460h1"/>
<path stroke="#807080" d="M14 306h1"/>
</g></g></g>
<rect x="38.35" y="55.95" width="192.6" height="602.75" fill="none" stroke="#000" stroke-width="1.9"/>
<text x="249.9" y="18.6" font-size="16" fill="#000">B.</text>
<g stroke="#000" stroke-width="1.75" fill="none">
<path d="M281.8 38.2V204.3H444.6"/>
<path d="M281.8 204.3h-5.2M281.8 182.2h-5.2M281.8 160h-5.2M281.8 137.9h-5.2M281.8 115.7h-5.2M281.8 93.6h-5.2M281.8 71.5h-5.2M281.8 49.3h-5.2M281.8 204.3v5.6M322.4 204.3v5.6M363.1 204.3v5.6M403.9 204.3v5.6M444.6 204.3v5.6"/>
</g>
<text x="274.8" y="208.1" font-size="10.5" font-weight="bold" text-anchor="end">0</text>
<text x="274.8" y="186" font-size="10.5" font-weight="bold" text-anchor="end">2</text>
<text x="274.8" y="163.8" font-size="10.5" font-weight="bold" text-anchor="end">4</text>
<text x="274.8" y="141.7" font-size="10.5" font-weight="bold" text-anchor="end">6</text>
<text x="274.8" y="119.5" font-size="10.5" font-weight="bold" text-anchor="end">8</text>
<text x="274.8" y="97.4" font-size="10.5" font-weight="bold" text-anchor="end">10</text>
<text x="274.8" y="75.3" font-size="10.5" font-weight="bold" text-anchor="end">12</text>
<text x="274.8" y="53.1" font-size="10.5" font-weight="bold" text-anchor="end">14</text>
<text x="281.4" y="221.1" font-size="10.5" font-weight="bold" text-anchor="middle">-4</text>
<text x="322.1" y="221.1" font-size="10.5" font-weight="bold" text-anchor="middle">-2</text>
<text x="363.1" y="221.1" font-size="10.5" font-weight="bold" text-anchor="middle">0</text>
<text x="403.9" y="221.1" font-size="10.5" font-weight="bold" text-anchor="middle">2</text>
<text x="444.6" y="221.1" font-size="10.5" font-weight="bold" text-anchor="middle">4</text>
<text x="363.4" y="234.1" font-size="10.4" font-weight="bold" text-anchor="middle">Log2FC</text>
<text transform="translate(258.1,121.3) rotate(-90)" font-size="10.5" font-weight="bold" text-anchor="middle">-log2 Pvalue</text>
<text x="366.5" y="31" font-size="15" font-weight="bold" text-anchor="middle">Day 1</text>
<path d="M385 52.8h0m-14.5 1.3h0m-36.9 11.6h0m2.9 16.6h0m30.8-0.9h0m-10.4 5.1h0m-11.2 1.1h0m12 3.4h0m11.2-0.8h0m-12.9 6.4h0m3.5 1.4h0m1.4 1h0m5.2 0.7h0m1.2-2.3h0m6.4 2.5h0m17.3-0.9h0m-7.6 1.7h0m-12.9 2.4h0m-11.4-0.5h0m-0.4-2.4h0m-4-0.1h0m-1.4 0.5h0m-11.7 0.1h0m11.2 5.6h0m13.6-1.7h0m9.5 6.5h0m-0.3-1.4h0m-6.5 1.4h0m-2.6-2.1h0m-19.3-0.6h0m4.5 7.5h0m3.3-1.2h0m0.5-0.7h0m2.4 1.2h0m8.3-2.8h0m0.2 0.5h0m0.4 1.8h0m0.1-1h0m0.8-0.6h0m0.4-0.7h0m0.8 0.8h0m8.8 2.2h0m6.5 1.3h0m-7.9 2.1h0m-4.1 0.9h0m-0.6-0.3h0m-1.6 0h0m-1.5-1.5h0m-0.3-0.6h0m-1.7 0.4h0m-9.1-1.5h0m-0.8 3.1h0m-0.6-0.1h0m-3.1-2.5h0m-2 0.8h0m3.3 6.4h0m4-2.1h0m0.9-0.6h0m0.6 0.4h0m6.5 1h0m0.4 0.8h0m0.3-2.6h0m0.5 1.8h0m0.3-1h0m0.6 0.8h0m0.1-1h0m0.1 0.9h0m0.3-1.2h0m0.4 1.3h0m0-1.8h0m0.1 0.5h0m1 1.3h0m0.7 0.5h0m4.7-1.7h0m15.3-0.9h0m-16.9 6h0m-1.7 0.4h0m-1.1-0.2h0m-1-1.6h0m-0.2 1.9h0m-1-1.8h0m-0.6 2.2h0m-0.7-3.1h0m0 2.6h0m-0.1-0.1h0m-0.4-0.1h0m-0.8-2.5h0m-0.1 3.5h0m-0.7-0.4h0m-7.1-0.5h0m-0.9 0.4h0m-7.3 0.9h0m-0.1-0.5h0m2.9 3.9h0m2-0.5h0m2.1 0.8h0m0.6-1.9h0m0.4-0.6h0m0.4 0.5h0m1.5-0.4h0m5.9-0.8h0m0 2.2h0m0.3 1h0m0.1-1.3h0m0.1-1.1h0m0.1-1.1h0m0 1.7h0m0.3 1.3h0m0.6-2.7h0m0.2 0.1h0m0.2 0.1h0m0.2 2.5h0m0.2 0.8h0m0.1-0.4h0m0.1-2.8h0m0 3.1h0m1 0.1h0m0.3-0.2h0m0.3-0.6h0m0.2-0.4h0m0.6 0.6h0m0.6-1.8h0m0.7-1.3h0m0 2.8h0m4.9 0.1h0m-4.2 1.7h0m-1.4 2h0m0 0.5h0m-0.5-2.5h0m-0.6 2.3h0m-0.1-1.1h0m-0.4 0.8h0m-0.1-2.4h0m-1.3 1.2h0m-0.7 0.4h0m-1.5 1.3h0m-0.4-2.4h0m-0.2-0.8h0m-0.1 0.8h0m-5.5 0h0m-0.3 0.6h0m-0.9 2.1h0m-0.3-2.8h0m-0.1 1.6h0m-1.3-1h0m-1.1 1.4h0m-0.4 1.1h0m-0.7-1.6h0m-0.7 0.7h0m-4.1-2.1h0m-2.7 5h0m7.4 1.3h0m0-2.2h0m0.4 2.7h0m0.5 0.3h0m1.6-2.2h0m0.4-0.4h0m0-0.1h0m0.2 0.6h0m0.8-0.7h0m7.1 0.5h0m0.8 1.1h0m0.7 1.2h0m0.3-0.3h0m2.6-2.8h0m0.7 2.8h0m0.1-2.3h0m0.9 0.7h0m0.4 0.3h0m0-1.5h0m0 2.6h0m0.2-1.5h0m0.5-0.1h0m1.1 2h0m5.1-1.5h0m-3.5 4.7h0m-1.5 0h0m-0.8 0.6h0m-0.4-2.7h0m-0.2 2h0m-0.3-0.3h0m-0.1 0.1h0m-1.7-0.3h0m-0.1-1.2h0m-1.5 1.3h0m0-2.5h0m-0.2 2.6h0m-0.1 1.3h0m-0.5-3.5h0m-0.2 1.4h0m-0.5-1.9h0m-0.5 0.5h0m-0.8 2.2h0m-7.7 0.8h0m-0.5-3.2h0m-0.2 0.8h0m-0.2 0.5h0m-1.2-0.7h0m-0.2 0.5h0m0 0.2h0m-0.1-0.7h0m-1.1 1.6h0m-0.3 1.4h0m-0.6-1.1h0m-0.2-0.2h0m-2-2h0m0 1.1h0m-1.5 2.1h0m-5.3 2.9h0m6.3 0h0m3.9-2.4h0m0.7 0.9h0m0.9 1h0m0.1-0.4h0m0.8 1h0m2.7-1.6h0m5.4 1.8h0m0.2-2.7h0m0.1 2.3h0m0.1-1.6h0m0.1 0.9h0m0.4-1.2h0m0.3 0.9h0m0.9 1.3h0m0.9-2.7h0m1.2 1.1h0m0.6 2.1h0m0.1-0.5h0m0.1-0.1h0m0.9-2.5h0m0 2.4h0m0.1 0.4h0m0.2-1.2h0m0.2-0.3h0m0-1h0m1.5 1.4h0m0 0.9h0m0.1 0.6h0m0.4-1.7h0m0.6-0.8h0m0.8 1.9h0m2.6 4.1h0m0-2.6h0m-0.4 2.1h0m-0.1 0.1h0m-0.1-1.5h0m-1.2 1.3h0m-0.3-1.6h0m-1.8 3h0m0-0.7h0m-1.4 0.5h0m-0.5-2.7h0m-0.3 0.2h0m-1 2h0m-0.2-1h0m-1 1.5h0m-0.7 0.2h0m-0.5-2.2h0m-0.5-0.8h0m-0.7 2.3h0m-0.1-2.1h0m0 1.9h0m-1.6-2h0m0 2.5h0m-0.3-2.4h0m0-0.2h0m-4.9-0.6h0m-0.3 3.5h0m-0.1-2h0m-0.3-0.9h0m-0.1 2.3h0m-2.9-0.9h0m-0.3-0.6h0m-0.6-1.1h0m-0.6 3.2h0m-0.3-2.8h0m-0.1 2.9h0m-0.8-2.6h0m0 1.4h0m-0.2-2h0m-0.9 1.5h0m0-1.6h0m0 1.2h0m-0.2 0.8h0m-3.8 0.9h0m-7.8 3.6h0m4.3-0.1h0m0.4 0.5h0m0.5-3h0m0.4 1.9h0m1.3-1.4h0m0.2 1.9h0m0.6-2.6h0m0.1 3.4h0m0.6-2.6h0m0.9 2.7h0m0.1-1.6h0m0.4 0.7h0m0.8-1.9h0m1.1 2.6h0m1.3-0.9h0m0.3 0.9h0m1.4-1.8h0m1.9 1.7h0m0.8-1.4h0m0.3 1.5h0m1.1 0.5h0m0.2-2h0m4.7 1.3h0m0.6-0.4h0m0.4-0.5h0m0.4-0.5h0m0.2-0.7h0m0.3 0.2h0m0.3 0.8h0m0.4 0.8h0m1-2.2h0m0.4 2.2h0m0.3-2.2h0m1.6 1.5h0m0.2 0.3h0m0.4-2.5h0m0.2 3.8h0m0.2-2.8h0m0.4 0.7h0m0.2-0.9h0m0.2 1.3h0m0.5-0.3h0m0.6 0h0m0.6 0h0m0.1 2h0m0.9-2.2h0m0.4-1.2h0m0.1 1.6h0m0.3-2.1h0m0.1 2.2h0m0.8-1.2h0m0.6 1.5h0m0.1 0.8h0m0.1-1.1h0m0.9 0.8h0m0.9-1.7h0m3.4 2.6h0m-0.9 2h0m-0.4 1.7h0m-1.8 0.2h0m-0.2-0.1h0m-1.7-0.9h0m-0.4 0.7h0m-0.5-2.9h0m-0.2 1.9h0m-1.9-1.6h0m-0.3 1.9h0m0-0.3h0m-0.4 1.5h0m-0.3-3.4h0m-0.1 3.4h0m-0.2-0.2h0m-0.2-3.7h0m0 1.5h0m-0.3 2.1h0m-0.4-1.8h0m-0.1 0.5h0m0 0h0m0 1h0m-1.1 0.4h0m-0.1-2.9h0m-0.2 2.9h0m-0.1-0.8h0m-0.3-1.9h0m-0.2 1.3h0m-0.5 0.9h0m-0.5-2.9h0m-0.4-0.1h0m-1.2 0.4h0m0 1h0m-0.1 1.3h0m-0.8-1.5h0m-0.8-1.3h0m-0.4 1.7h0m-0.3-1h0m-0.7 0.6h0m0 0.8h0m-4.6-1.3h0m-1.4 0.6h0m-0.4 1.4h0m-0.4-2.7h0m-0.2 2.3h0m-0.3-2h0m-0.1 0.1h0m0-0.1h0m-1.3 2.7h0m-1 0.3h0m-0.3-0.1h0m-0.4-2.3h0m-0.6 2h0m-0.6-1.9h0m-0.2 0.4h0m-0.3-0.1h0m-1.8 1.3h0m-1.5-2.5h0m-0.3 1.9h0m-0.5-0.3h0m-0.7 1.8h0m-0.5-0.7h0m-0.2-0.6h0m-3.8-1.5h0m-0.3 2.3h0m-1.3-2.3h0m-0.9 1.3h0m-1.5 0.2h0m0.1 4.1h0m1.2-1.9h0m0.6 3.1h0m0.2-0.5h0m0.8 0.5h0m0.1-0.7h0m0.5-0.2h0m0.1-1.8h0m1-0.3h0m1.4 3h0m2.2-3.1h0m0.4 2.5h0m0.1-2.4h0m0.5 1.2h0m0.4-0.2h0m0.4 1.8h0m1.4-0.3h0m0.5-3.1h0m0.3 2.7h0m0.4-1.4h0m1.8 2.3h0m0-0.4h0m0.1-3.3h0m0.3 1.7h0m0.5-0.6h0m0.8-0.4h0m0.2-0.2h0m0-0.5h0m0.4 2h0m0.2 1.9h0m0-2h0m0-0.2h0m0.9-0.2h0m1-0.1h0m1-0.9h0m0.6 0.9h0m0.3 1.4h0m4.4-1.1h0m0.1-1.5h0m0.1 2.9h0m0.2-0.1h0m0-2.1h0m0.1 0.9h0m1.2-0.8h0m0.8 2.6h0m0.3-0.9h0m0.6 0.1h0m0-1.9h0m0.4 1.1h0m0.3 0.9h0m0.1-2.8h0m0.8 1.5h0m0.4-1.3h0m1.4 1.1h0m0.1 0.9h0m1 0.7h0m0.3 0.8h0m0.5-3.6h0m1 1.3h0m1.1 0.4h0m1 0.3h0m0.1 0h0m0.8-0.7h0m1.9-0.4h0m0.1-0.1h0m0.7 2.4h0m0.1-3.1h0m0.1 3h0m1.3-1.5h0m0.5 1.4h0m0.7-0.4h0m0.1 0h0m0.7 0.6h0m2 0.4h0m2.3 2.2h0m-2 1.3h0m-1.5-3.2h0m-0.1 2.2h0m-0.7 0.1h0m-0.8-1.2h0m-0.6-0.5h0m-0.6-0.6h0m-0.7 0.6h0m-0.4 2.9h0m-0.5-2.2h0m-0.3 0.3h0m-0.8 1.5h0m-0.6 0.5h0m-0.2-0.8h0m0 0.4h0m-1 0.4h0m0-2.2h0m-1.1-1.2h0m-1.5-0.2h0m-0.6 0.5h0m-0.6 0.7h0m-0.2-0.3h0m0 1.2h0m-1.1-1.3h0m-1.2 1.3h0m-0.8 1.7h0m-0.3-0.4h0m-0.4-3.6h0m-0.3 1.3h0m-0.8 0.3h0m0 0.6h0m-0.1 1.2h0m0-2.3h0m-1.8 1.3h0m-0.3-1.5h0m-0.6 2.2h0m-0.9-1.8h0m-0.2 1.1h0m-4.2-1.6h0m0 0.8h0m0-1.4h0m-0.3 3.5h0m-0.6-1.5h0m-1.6-1h0m-0.4 0.2h0m-0.1 0.4h0m-1-1.4h0m-0.3 0.7h0m-0.3 1.4h0m-0.1 0.2h0m-0.6-0.4h0m-2.2-1.9h0m-0.1 1.6h0m-0.5 0.5h0m-0.9 0.3h0m-0.9-2h0m-1.7 1.7h0m-0.1 1.3h0m-0.6-3.7h0m-0.1 2.8h0m-0.3-2.8h0m-0.1 0.3h0m-0.4 3.2h0m-0.4-0.9h0m-0.2-0.6h0m-0.2-0.2h0m-0.8 0.5h0m-0.2-1.7h0m-0.1-0.6h0m-0.3 1.1h0m-0.1 0.7h0m-0.5 0.1h0m-2.7 0.7h0m-0.5 0.2h0m-0.2 0.5h0m-0.6-1.2h0m-0.8-1.1h0m-1.1 1h0m-0.7 0.6h0m-1.7 5.1h0m0.8-3.3h0m0.2 3.3h0m0.4-0.2h0m0.5-3h0m0.6 0.2h0m1.4 2.1h0m0.3-2.4h0m0.2 3.4h0m1-3.4h0m1.1 2.6h0m2 0.9h0m0.2-3.7h0m0.7 3.1h0m1 0.1h0m0.5-2.6h0m0.3 0.1h0m0.1-0.6h0m1.1 0h0m0.9 2.3h0m0.5 0.7h0m1-0.4h0m0.1 0.3h0m0.7-2.8h0m0.4 0.1h0m0.7 0h0m0.3 0.4h0m0.3 0.8h0m0.1-0.5h0m0.9-0.1h0m0.2-1.2h0m0.4 2.2h0m0.2-1.1h0m0.1 2.6h0m0.1 0h0m0.2-1.1h0m0 1h0m0.1-3h0m0.1 0.2h0m0.1 2.4h0m0.7-2.1h0m0.6 0h0m0.6 2h0m0.5-1.4h0m0.2-1.6h0m0.8 3.8h0m0.1-3.7h0m0.2 3h0m0.3-0.2h0m0.6-2.4h0m0.5-0.4h0m0.2 2.1h0m0-0.1h0m0.1 1h0m0-0.8h0m3.5 1.2h0m0-2.2h0m0.4 2.5h0m0.9-1.7h0m0.5-0.9h0m0.6 1.8h0m0.4-0.8h0m0.2-0.3h0m0.2 0.6h0m0.2 0.8h0m0.2-3.1h0m0.1 0h0m0.3 3.2h0m0-0.6h0m0.3-1.9h0m0 0.2h0m2.2 0.1h0m1 1.3h0m0.1 0.1h0m0.2-1.5h0m0.6-0.3h0m0.4 1.8h0m0.3-1.7h0m1.1 1.9h0m0.9-1.7h0m0 0.8h0m0.1 1.3h0m0.3-0.5h0m0 0.4h0m0.5-1.7h0m0.4-0.2h0m0.9 0.3h0m0.6 0.6h0m0.1-1.3h0m0.3 0.2h0m0.5 1.3h0m0.1 0.1h0m0.8-0.4h0m0-1.3h0m0.4 1.8h0m0-1.7h0m0.4-0.6h0m0.2 1.4h0m0.1-1.7h0m0 1.8h0m0.2-0.2h0m0.9-1.3h0m0.3 3.2h0m0.1-2.6h0m0.3-0.2h0m0.2 1.4h0m1-1.1h0m1.1 1.6h0m1-0.7h0m0.5-1h0m0.8 0.8h0m0.3 1.8h0m0.3 0h0m0.5 3.5h0m0 0.1h0m-1.5-2.2h0m-0.2 1.2h0m-0.3 1.2h0m-0.5-1.1h0m-2.3 0.8h0m-0.1-0.7h0m-0.2 1h0m0-0.6h0m-0.3-1.7h0m-0.2 1.3h0m-0.7 1.2h0m-0.2-3h0m-0.1 1.2h0m-0.2-0.7h0m-0.2 0.3h0m-0.3 0.8h0m0 0.8h0m-0.1-0.5h0m-0.5 0.5h0m-0.4-2.8h0m-0.2 2.3h0m-0.9-2h0m-0.6 3.4h0m-0.8-0.5h0m-0.9-0.6h0m-0.1-2.1h0m-0.1 2.6h0m-0.1-1.9h0m-0.1 2.1h0m-0.2-3.1h0m-0.1 3.4h0m0-3.6h0m-0.2 2.2h0m-0.3-0.2h0m0-0.4h0m0 2.2h0m-0.2-1.2h0m-0.7 0.4h0m-0.1-1.9h0m0-0.3h0m0 2.6h0m-0.3 0.4h0m-0.1-1h0m0 0.4h0m-0.2 0.2h0m-0.7-0.9h0m-0.5-2h0m-0.1 1h0m-0.1 1.9h0m-0.2-2.7h0m-1 0.8h0m-0.2 1.3h0m-0.1 0.8h0m-0.5-2.8h0m-0.4 0.7h0m-0.1 0.7h0m-0.2-0.8h0m0-0.7h0m-0.2 2.9h0m-0.2-0.2h0m-0.7-1.2h0m-0.3-2.1h0m-1 0.9h0m-0.2 1h0m-0.2-0.8h0m-0.4-0.8h0m-0.5 1.7h0m-0.1 1.3h0m-0.2-3.2h0m-0.2 2h0m-0.3 0.3h0m-0.2-2.4h0m-0.1 2.2h0m-0.1-2.2h0m-0.2 0.1h0m0 3.1h0m-3.8-1.6h0m0-0.1h0m-1.6-0.6h0m-0.2 0.5h0m-0.7-0.1h0m-0.8 0.2h0m-0.2 0.6h0m-0.6-0.2h0m-0.3 0.6h0m-0.2 0.1h0m-0.1 0.9h0m-1-1.9h0m-0.3 0.5h0m0 0.7h0m-0.7 0.4h0m-0.9-2h0m-0.3 0.6h0m-0.2-1.5h0m-1.1 1.4h0m-0.2-1.4h0m-1.7-0.2h0m-1.1 0.7h0m-0.3 2.2h0m-0.3-0.2h0m-1.6-1.7h0m-0.1 1.1h0m-0.2 1.2h0m-0.7-0.4h0m-0.6-0.8h0m-0.2 0.3h0m-0.1-0.5h0m-0.1 1.3h0m-0.4-2.2h0m-0.3 0.5h0m-0.1 0.7h0m-0.1-1.2h0m-0.2 2.5h0m-0.2-3.1h0m-1.6 1.5h0m-1 0.6h0m-0.3-0.7h0m-0.6 0.5h0m-0.2 0.1h0m-2.8 0.9h0m-0.7-3.5h0m-0.8 2.4h0m-1.8-1.2h0m-0.7 4.5h0m1.1 1.1h0m0.7-1.1h0m2.3 1h0m1.1-0.7h0m0.2 1.2h0m0.2-2.9h0m0.3 0.6h0m0.1 0.2h0m0.5 1.7h0m2.2-0.1h0m0.3 0h0m0.1-0.7h0m0.2 0.6h0m1.1 0.5h0m0.1-0.6h0m0.2 0.5h0m0.4-1.4h0m0.7 0.5h0m0.2-0.3h0m0.5-0.9h0m0.1 1.4h0m0.1 0.1h0m0-1.6h0m0.6 2.4h0m1-1.1h0m0 0.5h0m1-1.3h0m1.3 0.6h0m0.8-1.4h0m0.1 1h0m0.2-0.3h0m0.1 0.5h0m0-1.6h0m0 3.7h0m0.6-1.2h0m0.6-0.1h0m0-1.3h0m0-0.3h0m0.6 2h0m0.1-2.2h0m0.7 3h0m0.9-2.3h0m0-0.3h0m0.4 1.6h0m0-0.5h0m0-0.1h0m0.7 1.8h0m0.3-1.8h0m0.6 1.7h0m0.3-0.4h0m0-0.8h0m0.2-1.1h0m0 1.7h0m0.1-1.1h0m0.1-1.3h0m0.2 2.6h0m1-0.7h0m0.1 0.9h0m0.4-1.7h0m0.7-1.6h0m0.3 1.5h0m0.7-1.8h0m0.9 2.2h0m2.4-0.8h0m0.8-0.2h0m0.8 1.9h0m0.4-2.3h0m0.5 1.6h0m0-1.2h0m0.4 1.2h0m0.8-0.4h0m0.4 0.2h0m0.1-2h0m0.1 2.3h0m0 1.1h0m0.3-1.1h0m0.6 1h0m0.6-1.3h0m0.3-1.3h0m0.2-1h0m0.3 0.2h0m0.3 1.7h0m0.1 1.7h0m0.2 0.4h0m0.9-2h0m0.4-0.8h0m0.1-0.8h0m0.7 2.2h0m1-1.9h0m0.1 0.8h0m0 1.7h0m0.8-2.9h0m0.1 3.4h0m0.6 0h0m0.6-1.6h0m1.6-1.8h0m0 0.8h0m0.2-0.6h0m0-0.5h0m0.3 2.8h0m0-1.9h0m2.1-0.5h0m0.1 3.5h0m0-1.8h0m0.3 1.4h0m0.7-0.8h0m0.3-1.3h0m0.1-0.5h0m0.1 0.2h0m0.1 0.8h0m0.2 1.8h0m0.1-3.5h0m0.1 1.9h0m0 1h0m0.5-2.1h0m2 0.5h0m1.1-1h0m0.1 0.1h0m0 1h0m0.1-0.5h0m0.6 1.7h0m0.5-0.5h0m0.3 0.5h0m1.9-2.5h0m2.2 4.7h0m-0.1 0.1h0m-1.2 1.1h0m0 0.2h0m-0.2-1.6h0m-0.1 1.2h0m-0.1 1.7h0m-1.9-1.2h0m0 0.7h0m-0.3-1.5h0m0-0.5h0m-0.4-1.1h0m-0.6 0.9h0m-0.1 2.6h0m-0.4-2.8h0m-0.6 1.9h0m-0.2 0h0m0 0.9h0m-0.1 0.2h0m-0.4-1.6h0m-0.1 0h0m-0.1 0.3h0m-0.5-1.5h0m-0.5 2.3h0m-0.3-2.7h0m-1.3-0.3h0m-0.7 1.8h0m-0.5 0.6h0m-0.1-1.2h0m-1.1 1.9h0m-0.7-0.9h0m-0.4-0.9h0m-0.5 0.5h0m-0.4 0.8h0m-0.3-0.1h0m-0.2-0.3h0m-0.1-0.6h0m-0.3 1.6h0m-0.9-2.6h0m-0.3 0h0m-0.3 1.4h0m-0.1 0.5h0m-0.2-1.4h0m0 2.1h0m-0.6-1.3h0m-0.3 0.1h0m-0.1 1.6h0m-0.2-3.2h0m0 2h0m-0.4 0.8h0m-0.1 0.3h0m-0.6-0.1h0m0-2h0m0-1h0m0 0h0m-0.1 1.3h0m-0.1 0.7h0m-0.8-0.6h0m-0.3 1.4h0m-0.1 0h0m-0.1-2.7h0m-0.1 1.8h0m-0.4 1.1h0m-0.7-1.7h0m-0.2-0.6h0m-0.7 1.5h0m-0.9-2h0m-0.5 1.1h0m-0.1 0.7h0m-0.4 0h0m-0.7 0h0m-0.1-2.4h0m-0.3-0.2h0m-0.4 3.7h0m-0.5 0h0m-0.5-1.1h0m-0.6 1.2h0m-0.1-0.8h0m-1.2-1.2h0m-1.6 1.2h0m-0.8-2.3h0m-1.3 2.9h0m-0.1-2.1h0m-0.2 0.1h0m-0.2 1.5h0m-0.2 0.7h0m-0.3-2.9h0m-0.1 2.3h0m-0.1 0.2h0m-1.2-0.1h0m-0.7-2.2h0m-0.1 1.7h0m-0.2 0h0m-0.6-2.1h0m-0.6 2.5h0m-0.1-0.1h0m0-2.8h0m-0.9 2.2h0m0-1.1h0m-0.7 2.3h0m-0.3-1.9h0m-0.3 1.5h0m-0.8-2h0m-0.2 1.5h0m-0.8 0h0m-0.2-1h0m-0.1 0.6h0m-1 1h0m0 0.1h0m-0.4-2.5h0m-0.4 1.1h0m-0.6 1.7h0m0 0h0m-0.3-1.9h0m-0.4-0.2h0m0 0.9h0m-0.4 0.5h0m-0.1-2.4h0m-0.7 2.2h0m-0.3-1.3h0m-0.5 1h0m-0.2-1.1h0m-0.2 0.3h0m-0.2-1.2h0m-0.3 2.3h0m-0.9-0.3h0m-0.2-1h0m0 0.8h0m-0.1-1h0m-0.8 0.3h0m0 1.9h0m-0.2-3.5h0m-0.8 2.8h0m-0.2-1.6h0m-0.5-0.6h0m-0.7 0.1h0m-0.2 0.3h0m-0.9-0.7h0m-0.9 3.5h0m0-2.3h0m-0.5 1.5h0m-0.2-1.8h0m-0.2-1.3h0m0 1.8h0m-0.7 2h0m-0.7-0.5h0m-0.5 0h0m-0.5-1h0m-2.1 0.3h0m0.3 3.4h0m0.1-1.9h0m0.3 3.2h0m1.6 0.4h0m0.7-1.2h0m0.4-1.6h0m0.7 1.9h0m0.8-2.4h0m0.3 1.8h0m0.1-0.1h0m0.1-1.4h0m0.4 1h0m0.2-1h0m0.3 0.1h0m0.8 2.5h0m0.1-2.9h0m0.3 2.6h0m1.1-2.1h0m0.4 1.3h0m0.6-0.2h0m0.6 1h0m1.9-2.8h0m0.1 0.1h0m0.1 1h0m0.4 0.2h0m0.1-0.5h0m0.1 2.1h0m0.1-0.4h0m0.3-2.3h0m0.3 0.2h0m0-0.4h0m0.7 3.4h0m0.7-0.6h0m0.4-2.5h0m0.1 0.8h0m0.1 0.5h0m0.3-0.7h0m0 1.3h0m0.1 0.1h0m0.4 0.1h0m0.1-2h0m0.1 1.7h0m0.1-2.1h0m0.9 3.3h0m0-1.2h0m0.3 0.2h0m0.4-0.3h0m0 1.3h0m0.7-3.3h0m0 0.7h0m0.1 2.9h0m0.2-0.6h0m0.1 0h0m0.9-2.4h0m0.5-0.8h0m0.7 0.6h0m0 2.5h0m0.1 0.5h0m0 0.2h0m0-1.2h0m0.5-1.3h0m0-0.7h0m0.1 2.5h0m0.1-2.9h0m0.3 2.2h0m0.3 0.8h0m0-3.2h0m0.3 2.7h0m0.1-2.7h0m0.4 3.3h0m0.2-3.2h0m0.6 1.8h0m0.2-1.8h0m0.1 2.9h0m0 0.9h0m0.1-3.4h0m0.7 1.6h0m0.6-0.7h0m0.3 0.8h0m0.5-0.9h0m0.7-1.2h0m0.1 2.4h0m0.2-1.8h0m0 1.3h0m1-0.5h0m0 1.6h0m0.6-2.8h0m0.5 0.1h0m0 0.3h0m1-0.1h0m0.2 0.6h0m0.5 2h0m0.7-0.7h0m0.1-1.9h0m0.4 2h0m0-1.5h0m0.1-0.3h0m0.4 1.5h0m0.4-2.3h0m0.3 1.9h0m0.1 0.9h0m0.8-1.1h0m0.1 0.9h0m0-1.2h0m0.2 0.1h0m0.3 0.4h0m1.4 0.8h0m0.5-0.6h0m0-0.8h0m0.1 0.8h0m0.1 0.4h0m0.1 0.8h0m0-3.4h0m0.4 1.2h0m0-0.7h0m0.2 1.3h0m0.2-0.6h0m0.2 1.5h0m0.3-0.1h0m0.1-2.3h0m0.1 3.4h0m0.1-0.3h0m0.2-0.6h0m0.2 0.3h0m0.1 0.6h0m0.3-3.1h0m1.1-0.5h0m0.6 0.5h0m0.2 1.2h0m0.2-0.1h0m0.4-1.4h0m0.1 2.5h0m0.2-2.2h0m0.7 1.6h0m0.3 1h0m1-1.8h0m0.2 1.8h0m0.1 0.2h0m0.2-0.5h0m0.2-0.9h0m0.4 0.9h0m0-0.7h0m0.2-2.1h0m0.1 2.5h0m0.5 1.2h0m0.1-2.7h0m0.2 0.8h0m1 1.3h0m0.1-1.9h0m1 1.5h0m0.2 0.3h0m0.3-2.7h0m0.4 3.1h0m1.9 0.3h0m0.6-3h0m0.5-0.2h0m0.9 0.3h0m0-0.2h0m1.2 2.7h0m0.1-2.7h0m0.1 1.1h0m0.4 1.1h0m0.5 0.9h0m0.1-2.7h0m0.1-0.5h0m0.1 1.6h0m0-1h0m0.2 1.9h0m0-2.8h0m0.6 2.9h0m0.7-0.4h0m0.1 1h0m1.1-0.3h0m-0.1 3.3h0m-0.9-0.8h0m-0.9 0.8h0m-0.1 0h0m-0.4-2.7h0m-0.1 3.1h0m-0.4-0.8h0m-0.4 0.5h0m-0.5-0.5h0m-0.1-0.5h0m-0.7 0.7h0m-0.4-1.4h0m-0.1 2.5h0m-1.2-0.9h0m-0.7-2.6h0m-0.1 2.6h0m-0.5-1.9h0m0 2.6h0m-0.7-2.1h0m-0.5 0.6h0m-0.4 1.1h0m-0.3 0.2h0m-0.1-2.6h0m-0.2 2.9h0m-0.1-0.9h0m-1.1-1.1h0m-0.3-0.4h0m0 0.2h0m0-1.4h0m-0.4 3.6h0m-0.2-1h0m-0.9 1.4h0m-0.8-3.7h0m-0.4 1.3h0m-0.1-1.5h0m0 3.7h0m-0.3-1.7h0m-0.1-0.9h0m-0.3 0.6h0m0 1.5h0m-0.4 0.2h0m-0.1-0.9h0m-0.1 0.2h0m-0.7-0.1h0m0 0.4h0m-0.2-1.2h0m-1.2 1.2h0m0-1.8h0m0-0.8h0m-0.1 3.4h0m-0.4-3h0m-0.1 2.3h0m-0.4-2.4h0m-0.4 0h0m-0.6-0.6h0m-0.4 1.8h0m-0.3 0h0m-0.1 0.5h0m-0.2 0.2h0m-0.1-0.4h0m-0.3 1.2h0m-0.2-1.4h0m-0.3 1.8h0m0-1.1h0m-0.5-0.6h0m-0.6-0.9h0m-0.1 2.1h0m-0.4-0.4h0m0-0.5h0m-0.2 1.4h0m-0.1-3.2h0m-0.1 3.3h0m-0.4-2.1h0m-0.1 0.4h0m-0.1 1.3h0m0 0.1h0m-0.1-2.3h0m-1 0.6h0m-0.5-0.8h0m-0.2 0.2h0m-0.2 2.3h0m-0.3-2.2h0m-0.7 1.4h0m-1.8-2.8h0m-0.4 1.3h0m-0.5 0h0m-0.4-1.1h0m-0.1 1.5h0m0 0.1h0m-0.3 0.2h0m-0.8-0.6h0m-0.1 1.4h0m-0.4-2.2h0m-0.4-0.2h0m-1 1.9h0m-0.3-0.5h0m0 1.7h0m-0.1-0.7h0m-0.2 1.1h0m-0.2-0.5h0m-0.6-1.6h0m0-1.5h0m-0.4 0.7h0m-0.1-0.2h0m-0.8 1.8h0m-0.2 0.3h0m-1.3-0.1h0m0 0.9h0m-0.4-2.2h0m-0.2-0.3h0m-0.7 1.5h0m-0.5-0.5h0m-0.2-1h0m-0.6 0.9h0m-0.3-0.6h0m-1.2-0.6h0m-0.1 0.6h0m0 1.2h0m-0.3 0.4h0m-0.2-3h0m-0.6 1.7h0m-0.2-1.7h0m0 2.9h0m-0.1 0.3h0m0-1.2h0m-1.1 0.5h0m0 1h0m0-0.6h0m-0.2-0.1h0m-0.1-2.4h0m-0.7 0.8h0m-0.7 1.7h0m-0.9-2.3h0m-0.1 2.6h0m0-2.8h0m-0.3 2.3h0m-0.2 0.6h0m-0.7-1.5h0m-0.1-0.7h0m-0.7 0.2h0m-0.9 2.5h0m-0.1-3.1h0m-0.4 1.2h0m-0.6-1h0m-0.4-1.1h0m-0.4 3.6h0m-0.3-3.5h0m-1.6 1.4h0m-0.4 1.2h0m-0.1-2.5h0m-0.4 3.2h0m-0.3-0.8h0m-0.2 1h0m-0.1-1.4h0m-0.3 1.3h0m-0.9-0.6h0m-0.3 0.2h0m-0.1-1.4h0m-0.2-1.3h0m-0.7-0.4h0m-0.1 1.7h0m-0.3 0.1h0m0.3 3.7h0m0.3-0.7h0m0.3 0h0m0-0.5h0m0.1 0h0m0.9 2.4h0m0.2 1.1h0m0-0.8h0m1.2 0h0m0.2 0.9h0m0.6-2.6h0m0 1.1h0m0.8-2.2h0m0.2 0.5h0m0.1 1.7h0m0-0.8h0m0.2 0.7h0m0.4 0.3h0m0.2-2.4h0m0.7 2.3h0m0.2 0.6h0m0.5-1.9h0m1 1.3h0m0.4 0.9h0m0.1-1.8h0m0.5-0.1h0m0.3-1.2h0m0.4 3.3h0m0.1 0.1h0m0-3.2h0m0 2.1h0m0.4 1.1h0m0.4-3.1h0m0 2.3h0m0.3-1h0m0.7 0.9h0m0.9 0h0m0-2h0m0.6 2.5h0m0.8 0h0m1-3.1h0m0.6 3.1h0m0.6 0h0m0.2 0.6h0m0.1-0.2h0m0.1-1.4h0m0-2h0m2 0.3h0m0.6 2.3h0m0.8-0.5h0m0.4 0.3h0m0.6 0.8h0m0.4-1.6h0m0 0.2h0m0.4-0.1h0m0.6-1.9h0m0 1.6h0m0-1.4h0m0.1 2.6h0m0.9-1.1h0m1.2 0.2h0m0.5-1.3h0m0.5 1.7h0m0.7-0.3h0m0 1.7h0m0.1-3.1h0m0.5 0.6h0m0.1 0.8h0m0.4-0.2h0m0.3 1.8h0m1.3-1h0m0-1.6h0m0.2 1h0m0.1 0.5h0m0.2-1.4h0m0.4 1.7h0m0.6 0.7h0m0.3-0.5h0m0.8 0.5h0m0-3.3h0m0 3.6h0m0.1-1.8h0m0.1 0.9h0m0.2-1.4h0m0.2 2.1h0m0-1.1h0m0-0.1h0m0.9 0.4h0m0.7-1.9h0m0.5-0.4h0m0.3 0.2h0m0.1 0.5h0m0.8 0.3h0m0.3-0.2h0m0.1-1h0m0 2h0m0.2 1.6h0m0.1-1h0m0.6-2.8h0m0.1 2h0m0.1-0.3h0m0 1.3h0m0.1-1.6h0m0.4 0h0m0.2 1h0m0.2-2.4h0m0.4 0.2h0m0.2 1.5h0m0.2 1.2h0m0-1.8h0m0.4-1.2h0m0 0.8h0m0.5 1.3h0m0.7 0.8h0m0.2 0h0m0-0.2h0m0.1-2h0m0 1.9h0m0.1-1.6h0m0.8-0.7h0m0.2 1.5h0m0.3 0.4h0m0.1-1.4h0m0.3 0.3h0m0.7 0.4h0m0.6 1.6h0m0.4 0h0m0.5-0.7h0m0.2-2.2h0m0.4 0.6h0m0.6 1.5h0m0.3-0.9h0m0.1 1.6h0m0.1-2.7h0m0.3 3h0m0-2.8h0m0.7 3h0m0.2-0.3h0m0.5 0.3h0m0.6-2.9h0m0.2 2.6h0m0.7 0.2h0m0 0.2h0m0.3-2.2h0m0.6 0.9h0m0.5 0.9h0m0.7-2.2h0m0.2 1.2h0m0.5 0.6h0m0.7-0.2h0m1.1-0.6h0m0.2-0.6h0m0.1 1h0m0.4-0.9h0m0.1-0.7h0m0.2 1h0m0-1.2h0m0.2 0.4h0m0.1-0.6h0m0.2 3.2h0m0.4-1.3h0m0.5-2.2h0m2.1-0.2h0m-2 4.5h0m-2-0.2h0m0 0.9h0m-0.2-0.5h0m-0.1 0.5h0m-0.1-0.5h0m-0.6-0.2h0m-0.2 2h0m-0.3-1.9h0m-0.2 1.9h0m-0.2-0.7h0m0-0.7h0m-0.1 1.1h0m-0.4-2h0m-0.5 0.1h0m-0.2 0.6h0m-0.2-0.7h0m-0.1 1.2h0m-0.2 2h0m0-0.2h0m-0.8-3.1h0m-0.6 2h0m-0.1-0.3h0m-0.2-0.5h0m-0.1 0h0m-0.6 0.6h0m-1-1.1h0m0 2.3h0m-1.2 0.6h0m-0.9-1.2h0m-0.3-1.5h0m-0.3 0h0m-0.2 2.3h0m-0.4-0.2h0m0-0.3h0m-0.1-2.7h0m-0.1 2.1h0m-0.4 0.9h0m0-1.5h0m-0.2 1.4h0m0-0.9h0m-0.5-1.4h0m-0.1 1.4h0m-0.6 1h0m-0.1-0.1h0m-2.1 0.2h0m0-3h0m-0.3 1h0m-1.5 2.2h0m-0.2 0.5h0m-0.2-0.3h0m-0.1-3.5h0m-0.2 2h0m-0.9 1.8h0m-0.1-0.1h0m-0.2-3.7h0m-0.5 0h0m0 0h0m-0.2 2.1h0m-0.4-1.4h0m0 0.4h0m0-1.1h0m-0.4 0.8h0m-0.4 0.7h0m-0.2 1.3h0m0 0.9h0m-0.2-3.6h0m-0.1 2.7h0m-0.4-2.5h0m-0.5-0.1h0m-0.4-0.2h0m-0.3 2.4h0m-0.1-2h0m-0.3 2.4h0m-0.2-1.5h0m-0.4 1.9h0m-0.3-3.3h0m-0.3 2.7h0m-0.6-2.1h0m-0.5 2.4h0m-0.8 0.3h0m-0.2-1.5h0m-0.9 1.4h0m0-1.3h0m-0.3 1.3h0m-0.3-1.1h0m-0.1 0.5h0m-0.4 1.4h0m-0.5-2.5h0m-0.3-0.6h0m-0.2 1.9h0m-0.2 0.3h0m-0.2-0.5h0m0-1.2h0m-0.1-0.5h0m-0.1 0.7h0m-0.4 1.2h0m-0.5-2.3h0m-0.8 3.1h0m-0.1-3.3h0m-1.5 0h0m-0.3 1.2h0m-0.2 1.7h0m-0.4-1.3h0m-0.3-1.8h0m-0.1 3.8h0m-0.3-2.4h0m0 1.3h0m-0.4-1h0m-0.4 0.6h0m-1.5-1.6h0m-0.2 0h0m-0.1 3h0m-0.5-2.8h0m-0.2 2.6h0m-0.3-1.9h0m-0.8-0.3h0m-0.5 2.3h0m-0.6-0.6h0m-0.2 0.8h0m-0.1-1h0m-0.8-2.6h0m-0.3 2.9h0m0-0.4h0m-0.6-0.3h0m-1.2-2.5h0m0 2.4h0m-0.1-2h0m-0.3-0.3h0m-0.2 1.8h0m-0.1-1.5h0m-0.1 1.8h0m-0.2 0.9h0m-0.3 0.8h0m-0.3-2.6h0m-0.2 1.2h0m-0.5-1.5h0m-0.1 1.7h0m-0.2-0.4h0m-0.1-2.3h0m-0.3 2.1h0m0-1.9h0m-0.2 0.2h0m-0.3 2.3h0m-0.4-0.5h0m-0.3 0h0m-0.2-1.9h0m0 2.2h0m-0.2 0.8h0m-0.3-1.6h0m-0.3 0.8h0m-0.2-0.9h0m0 0.5h0m-0.3 1.2h0m-0.3 0h0m-0.6-2.2h0m-0.3 1.8h0m-0.1 0.2h0m-0.3-1.3h0m0-0.3h0m-0.2 0.6h0m-0.4-1.5h0m-0.8 2.1h0m-0.8-2.3h0m0 0.4h0m-0.1 1.1h0m-0.2-0.2h0m-0.1-0.2h0m-0.4-1.4h0m7.7 4.6h0m1.4-0.4h0m0.1 0.4h0m0.5 1h0m0.5-1.1h0m0.2 0.6h0m0.5 1.4h0m0.1-1.3h0m1.5 0.5h0m0.8-1.3h0m0.7-0.1h0m0.2 2.3h0m0.2 0.9h0m0 0.2h0m0-1.4h0m0.7-1h0m0.2 0.1h0m0.1-0.3h0m0.3 0h0m0.4-0.6h0m0.4 0h0m0.4 2.6h0m0.4-0.6h0m0-0.1h0m0.3 0.6h0m0.5-2.5h0m0.1 3h0m1.5-1.1h0m0.3-1.2h0m0.1-0.6h0m0.1 1.5h0m0.8 1.1h0m0.2-0.3h0m0.2-2.1h0m0.6 2.6h0m0.2-0.7h0m0-1.2h0m0.3-1.4h0m0 0.7h0m0.4 0.6h0m0.1-1.3h0m0.3 3.2h0m0-2.8h0m0.1 1.9h0m0-1.8h0m0.4 1.6h0m0.9-2h0m0.5 2h0m1.1 1h0m0.4-0.9h0m0.3-1.7h0m0 0.6h0m0.2 0.6h0m0.3 1.2h0m1.2-1.4h0m0-0.2h0m0.3 2.4h0m0.2-0.1h0m1-0.3h0m0.3 0.2h0m1-3.6h0m1.2 0h0m0.1 0h0m0.1 1.1h0m0 2.3h0m0.2-0.9h0m0.2-1.1h0m0 0.4h0m0.4 1.7h0m1-0.9h0m0.3 0.7h0m0.2-1.2h0m0.1 0.2h0m0.1 0.4h0m0.5-2.4h0m1.2 0.5h0m0.6 0.5h0m0.4 2h0m0.1-0.1h0m0.4 0.3h0m0.4-1.3h0m0.4-0.2h0m0.8 1h0m0-1.4h0m0.5 1.8h0m0-1.8h0m0.2 0.9h0m0-2h0m0.2 0h0m0.2 0.3h0m0.8-0.3h0m0.2 1.3h0m1 0.3h0m0-0.4h0m0.2-0.4h0m0.6-1.3h0m0.7 1.3h0m0.2-0.5h0m1-0.1h0m3.2-0.7h0m-9.9 4.1h0m-0.8-0.1h0m-1-0.1h0m-5.2 0.1h0m-2.9 0.2h0m-2.1-0.2h0m-1.4 0.1h0m-5.4 0h0m-0.4 0h0m-1.3-0.2h0" stroke="#aaaaaa" stroke-width="3.2" stroke-linecap="round" fill="none"/>
<path d="M315.4 107.7h0m11.6-2.4h0m-11.9 8.7h0m17.2 21.4h0m-3.7 11.6h0m2.1 0.5h0m-22.3 2.3h0m1.6 5.2h0m10.2-2.4h0m0.5 1.6h0m9.1 1.1h0m-9.1 8h0m-9.1 3.4h0m-7.7 0.6h0m10.9 2.2h0m5.8-0.6h0m0.4 0.7h0m0.4 2.2h0m3.9 0h0m5-2.3h0m2-1.1h0m0.2 5.9h0m0-0.1h0m-2.2-0.3h0m-1.8-1.4h0m-0.8 0.9h0m-0.1-0.3h0m-1.5 1.4h0m-0.6 1.5h0m-3.3-1.8h0m-1.4 1.2h0m-0.6-2.6h0m-3.8 0.9h0m-0.5 3.7h0m2.4 0.8h0m1.2 0.5h0m2.8-1.9h0m0.5 2.7h0m5.2 0h0m1.2-1.3h0m3.2-0.3h0m0.1 0.8h0m-7.8 3.5h0m-1-0.3h0m-2.7-0.7h0m-1.1-1.2h0m-1.5 6.9h0m5.5-0.1h0m6.8-0.9h0m-1.8 6h0m-0.2-2.9h0m-3 2.2h0m-5.1 0.1h0m-16.7-2h0m18.9 5.2h0m1.9-1.6h0m0.1 0.2h0m0.2 1.9h0m1.2-2.9h0m1.6 0.4h0m1.5-0.2h0m0.2 2.6h0m3.3-0.3h0" stroke="#008c00" stroke-width="3.2" stroke-linecap="round" fill="none"/>
<path d="M431.9 80.6h0m-32 24.4h0m15.3 29.1h0m5.4 19.1h0m9 6.1h0m-29.7 1.3h0m22 3.2h0m-5.6 1.5h0m-6.4 0.8h0m-2.1-1.1h0m-2.8 1.9h0m-5.9 0h0m-4.5 1.3h0m4.8 3.5h0m8 3.2h0m-1.6-1.1h0m-1.9-1.6h0m-7.7 0.5h0m0.8 6.4h0m6.4 1.4h0m-2.4 0.5h0m-7.2 4h0m3.7 1.2h0m8 2.5h0" stroke="#ff1400" stroke-width="3.2" stroke-linecap="round" fill="none"/>
<text x="291.6" y="72.3" font-size="8.4" fill="#111" stroke="#111" stroke-width="0.22" textLength="21" lengthAdjust="spacingAndGlyphs">STIM2</text>
<text x="312.6" y="101.6" font-size="8.4" fill="#111" stroke="#111" stroke-width="0.22" textLength="17.1" lengthAdjust="spacingAndGlyphs">CBX6</text>
<text x="284.2" y="113.5" font-size="8.4" fill="#111" stroke="#111" stroke-width="0.22" textLength="21" lengthAdjust="spacingAndGlyphs">CEBPZ</text>
<text x="284.5" y="157" font-size="8.4" fill="#111" stroke="#111" stroke-width="0.22" textLength="23.4" lengthAdjust="spacingAndGlyphs">HDAC6</text>
<text x="283.2" y="179" font-size="8.4" fill="#111" stroke="#111" stroke-width="0.22" textLength="26.3" lengthAdjust="spacingAndGlyphs">HMGN2</text>
<text x="288" y="201.2" font-size="8.4" fill="#111" stroke="#111" stroke-width="0.22" textLength="19.6" lengthAdjust="spacingAndGlyphs">PTMA</text>
<text x="428.3" y="66.1" font-size="8.4" fill="#111" stroke="#111" stroke-width="0.22" textLength="17.7" lengthAdjust="spacingAndGlyphs">CD34</text>
<text x="416.3" y="116.7" font-size="8.4" fill="#111" stroke="#111" stroke-width="0.22" textLength="20.9" lengthAdjust="spacingAndGlyphs">AMOT</text>
<text x="422.7" y="132.8" font-size="8.4" fill="#111" stroke="#111" stroke-width="0.22" textLength="21.3" lengthAdjust="spacingAndGlyphs">TBCD5</text>
<text x="443" y="146" font-size="8.4" fill="#111" stroke="#111" stroke-width="0.22" textLength="20.5" lengthAdjust="spacingAndGlyphs">IQEC1</text>
<path d="M300.4 75.3L310.7 105.9" stroke="#111" stroke-width="1.1"/>
<path d="M312.7 112L307.8 106.9L313.5 105Z" fill="#111"/>
<path d="M321 102.6L326.1 136.4" stroke="#111" stroke-width="1.1"/>
<path d="M327 142.7L323.1 136.8L329 135.9Z" fill="#111"/>
<path d="M294.4 114.5L304.1 141.5" stroke="#111" stroke-width="1.1"/>
<path d="M306.3 147.5L301.3 142.5L307 140.5Z" fill="#111"/>
<path d="M295.2 157.5L307.9 168.4" stroke="#111" stroke-width="1.1"/>
<path d="M312.7 172.6L305.9 170.7L309.8 166.1Z" fill="#111"/>
<path d="M297.9 180L298.2 180.6" stroke="#111" stroke-width="1.1"/>
<path d="M301.5 186.1L295.7 182.1L300.8 179.1Z" fill="#111"/>
<path d="M308.7 197.3L315.4 190.6" stroke="#111" stroke-width="1.1"/>
<path d="M319.9 186.1L317.5 192.7L313.3 188.5Z" fill="#111"/>
<path d="M435.6 68.2L434.5 72" stroke="#111" stroke-width="1.1"/>
<path d="M432.8 78.2L431.6 71.2L437.4 72.8Z" fill="#111"/>
<path d="M418.7 119.1L418 122.5" stroke="#111" stroke-width="1.1"/>
<path d="M416.8 128.8L415.1 121.9L421 123.1Z" fill="#111"/>
<path d="M427.5 134.8L424.1 144.5" stroke="#111" stroke-width="1.1"/>
<path d="M421.9 150.5L421.2 143.5L426.9 145.5Z" fill="#111"/>
<path d="M444 144L437.4 151.3" stroke="#111" stroke-width="1.1"/>
<path d="M433.1 156.1L435.2 149.3L439.6 153.4Z" fill="#111"/>
<g stroke="#000" stroke-width="1.75" fill="none">
<path d="M509.7 38.8V204.8H672.5"/>
<path d="M509.7 204.8h-5.2M509.7 182.7h-5.2M509.7 160.5h-5.2M509.7 138.4h-5.2M509.7 116.2h-5.2M509.7 94.1h-5.2M509.7 72h-5.2M509.7 49.8h-5.2M509.7 204.8v5.6M550.4 204.8v5.6M591.1 204.8v5.6M631.8 204.8v5.6M672.5 204.8v5.6"/>
</g>
<text x="502.7" y="208.6" font-size="10.5" font-weight="bold" text-anchor="end">0</text>
<text x="502.7" y="186.5" font-size="10.5" font-weight="bold" text-anchor="end">2</text>
<text x="502.7" y="164.3" font-size="10.5" font-weight="bold" text-anchor="end">4</text>
<text x="502.7" y="142.2" font-size="10.5" font-weight="bold" text-anchor="end">6</text>
<text x="502.7" y="120" font-size="10.5" font-weight="bold" text-anchor="end">8</text>
<text x="502.7" y="97.9" font-size="10.5" font-weight="bold" text-anchor="end">10</text>
<text x="502.7" y="75.8" font-size="10.5" font-weight="bold" text-anchor="end">12</text>
<text x="502.7" y="53.6" font-size="10.5" font-weight="bold" text-anchor="end">14</text>
<text x="509.4" y="221.6" font-size="10.5" font-weight="bold" text-anchor="middle">-4</text>
<text x="550.1" y="221.6" font-size="10.5" font-weight="bold" text-anchor="middle">-2</text>
<text x="591.1" y="221.6" font-size="10.5" font-weight="bold" text-anchor="middle">0</text>
<text x="631.8" y="221.6" font-size="10.5" font-weight="bold" text-anchor="middle">2</text>
<text x="672.5" y="221.6" font-size="10.5" font-weight="bold" text-anchor="middle">4</text>
<text x="591.4" y="234.6" font-size="10.4" font-weight="bold" text-anchor="middle">Log2FC</text>
<text transform="translate(486.1,121.8) rotate(-90)" font-size="10.5" font-weight="bold" text-anchor="middle">-log2 Pvalue</text>
<text x="593.7" y="32" font-size="15" font-weight="bold" text-anchor="middle">Day 2</text>
<path d="M597 65.4h0m-15.3 42.4h0m2.6-2.1h0m22.2 6h0m-5.7 0.1h0m-25.1 2.1h0m5.1 1.7h0m7.2-1.8h0m10.6 0.3h0m1.2 5.1h0m-3.2 0.5h0m-0.3-3.6h0m-21.3 1.5h0m2.3 6.2h0m3 0.2h0m5.1-1.3h0m0.3-1.1h0m7.8 0.9h0m3-0.1h0m4.3 0.2h0m1.6 1.8h0m-3.5 0.8h0m-0.7 2.7h0m-4.3-3.8h0m-7.9 0.4h0m-2.3-0.4h0m-2.5 1.4h0m-1.6 1.8h0m-1.6-3.2h0m-0.4 3.2h0m-1.1 0.2h0m-0.7 3.8h0m1.2 0.5h0m1.7-2.4h0m0.5 2.6h0m0.2-1.4h0m4.8-2.3h0m0.5-0.1h0m0.4 3.3h0m3.1-0.5h0m0.6-0.1h0m5.2-1.5h0m9.7-0.9h0m-2.1 6.5h0m-3.7-0.6h0m-3.3-0.5h0m-0.5-0.8h0m-5.9 2.6h0m-0.8-1h0m-0.2-1.9h0m-11.4-0.1h0m5.7 4.6h0m0.1 2.3h0m1.4-3.3h0m3 3.2h0m2.3-2.5h0m4.9 1h0m1.3-1.2h0m0.3 2.4h0m0.9-1.8h0m0.3-0.8h0m0.5-0.3h0m2 2.6h0m1.3-2.2h0m0.6 2.9h0m0.1-2.9h0m0.7 2.9h0m2.2-0.9h0m3.7 4.8h0m-4.4-1.8h0m-2 2.3h0m-0.6-2.3h0m-0.8 0.4h0m-1.3-2h0m0 1.8h0m-0.5 1.6h0m-0.9-2h0m-1.3 1.2h0m-1.1 0.7h0m0 0.1h0m-5.6-1.1h0m-0.6 0.7h0m0-2.3h0m-3.5-0.8h0m-0.4 1.5h0m-2 0.4h0m-1.2 1.8h0m-1.7-3.1h0m-2.8 5.1h0m2.7 1h0m0.4 1.2h0m1.3-1.3h0m2 1h0m0.1 0h0m0.9-2.7h0m0.9 1.3h0m0.1-1.5h0m0.5 1.7h0m3.6-0.5h0m5.4 0.9h0m3.8 0.2h0m0.6 0.6h0m0.2-3h0m0-0.5h0m0.4 1.3h0m3.5-0.4h0m1.2 1.5h0m5 0.7h0m1.8 4h0m-5.4 0.1h0m-3.7-1.8h0m-0.1 0.9h0m-1 0.8h0m-4.2-1.8h0m-7.6-0.8h0m-0.1 2.4h0m-1.8-0.3h0m-0.2-2.6h0m-0.4 0.3h0m-1 3.3h0m-0.6-1.4h0m-0.6-0.2h0m-1.7 0.4h0m-1.8-2h0m-3.3 2.4h0m-6.5 1.1h0m3.1 2.2h0m0.2-1.6h0m1.7 2.6h0m0.2-1.6h0m0.3-1.5h0m1.6 1.8h0m1.7 0.4h0m3.9-1.8h0m2.2 2.4h0m0.3-0.6h0m0.7 0.6h0m1-0.7h0m0.7-0.5h0m0.1-0.5h0m0.4 0h0m0.2 0.5h0m0.1 1.6h0m0-1.6h0m3.6 2h0m0.1-1.4h0m0.1-1.9h0m0.3 1.3h0m0.4-0.5h0m0.7 2.3h0m0.6-0.4h0m0.4-2h0m0-0.1h0m0-0.3h0m0.3 2.9h0m1.5-1.7h0m0 0.3h0m0.8 1.3h0m0.6-2.8h0m0.2 2.7h0m0.6-2.7h0m0.6 3h0m0.5-0.8h0m2.1-1.3h0m1.8 1.6h0m0.3 0h0m0.6-2.5h0m0 3h0m7.3 3.2h0m-5.8-1.6h0m-1.2-0.3h0m-1.5 0.5h0m-1.2 0.6h0m-1.9-2h0m-0.9 1h0m-0.4 2.5h0m-0.7-2.4h0m-0.8 2.6h0m-0.1-3.5h0m-0.2 2.8h0m-0.4-1.7h0m-0.3 2.6h0m-1.1-3.8h0m-0.2 2.6h0m-0.5-2.1h0m-0.1 0.8h0m-0.4 0.9h0m-0.2 0.7h0m-0.7 0.4h0m-0.6-3.1h0m-0.9 3.2h0m-2.8-0.3h0m-0.8-2.4h0m-0.1 2.7h0m0-0.2h0m-2-0.9h0m-0.2-0.2h0m-1.3 1.6h0m-0.1-1.2h0m-0.4 1.1h0m-1.6-0.9h0m-0.1-2.8h0m-1.5 2.6h0m-0.2-0.2h0m-1-1.4h0m-1.5 2.2h0m-2.2-1.1h0m-0.9-1.9h0m-0.5 1.3h0m-1 1.6h0m-1-1.3h0m-1 4.7h0m0.9 0.9h0m3.9-1.5h0m0.4 2h0m0.4-0.8h0m0.9-2.2h0m0.5 0.5h0m0.4 1.7h0m0-0.2h0m0.2-2.6h0m0.2 3.1h0m0.1-0.5h0m0.4-2.1h0m0.4-0.7h0m1 0h0m1.5 3.1h0m1.3-0.2h0m0.3-1.8h0m0.1 2.5h0m1.3 0h0m1.7-2.8h0m0.2 0.4h0m0.1 1.1h0m0.4-2.2h0m0.3 1.3h0m0.7 0.6h0m3.7 1.6h0m2.7-3.1h0m0.9-0.3h0m0.9 1.4h0m0.2 1.3h0m0.1 0.2h0m0.3-1.8h0m0.8 0.9h0m1-1.9h0m0.8 0.3h0m1.1 1h0m0.2-1h0m1.3 2.8h0m0.1-2.5h0m0.1 0.2h0m1.2 1.6h0m1.4-1.2h0m0.6-0.1h0m0.3 1.9h0m0.3-1.5h0m0.5-0.9h0m1 2h0m-0.2 3.8h0m-2.9-0.6h0m-1.5 0.7h0m-1.1 0.7h0m-0.9-2.4h0m-0.3-0.5h0m-0.1 2.6h0m0-0.4h0m-3.6-1.6h0m-6-0.3h0m-3.4 2.9h0m-0.3-2.2h0m-0.7 1.8h0m-0.2 0h0m-1-2.6h0m-0.2-0.4h0m-1.3 1.2h0m-0.1 2.1h0m-0.2-0.6h0m-0.8 0.7h0m-0.2-2.1h0m-0.6 2h0m-1.6-0.3h0m-0.1-0.9h0m-0.3-2h0m-1.4 3h0m-0.5 0.1h0m-0.2-1.2h0m0 0.6h0m-0.3-1.4h0m-1.3-1h0m-0.8 0.2h0m-0.3-0.4h0m-1.4 3.3h0m-0.8-1.6h0m-0.8-1.6h0m-1.8 2.5h0m-0.4-0.5h0m-3.9 2h0m2.7 1.9h0m1-1h0m2.2-1.3h0m1.1 0.1h0m2.2 2.7h0m0.7 0.2h0m0.4 0.4h0m0.4 0.1h0m0.5-1.9h0m0.2 0.3h0m0.7-1.7h0m0 3.3h0m0-0.1h0m0.4-0.3h0m0.1-2.3h0m0.3-0.7h0m0.1 0.4h0m0.3 2.7h0m0.1-2h0m0.4 1.6h0m0.7-2.3h0m0.1 1.8h0m0.1 0.9h0m0.1 0.5h0m1.7-0.2h0m0.9-2.3h0m0.9 0.8h0m0.2 1.4h0m0.1-2.6h0m0 2.6h0m0.1-2.1h0m0.1-0.9h0m0.2 2.3h0m0-1.8h0m1 0.5h0m0.7-1.7h0m0.2 0.2h0m0.2 3.1h0m0.5 0.4h0m2.7-2.6h0m0.1 2.8h0m0.3-1.2h0m3.5-0.7h0m0 0.6h0m1.5 0h0m1.5 1.4h0m0.9-2.9h0m0.6 0.9h0m2.7-2h0m0 3.3h0m0.6-0.2h0m0.7 0.1h0m0 0.3h0m0.1-2.9h0m0.1 1.9h0m0.1-2.4h0m1.8 3.4h0m0.5-0.8h0m0.2-1.4h0m0.2 0.4h0m0.5-1.2h0m0.5 1.5h0m0.4 1.6h0m0.8-0.8h0m2 3.9h0m-0.9-0.8h0m-0.1-1.5h0m-0.3 1.2h0m-1.5-1.4h0m-0.1 2.2h0m-0.4 1.2h0m-0.1-0.8h0m-2.8-0.7h0m-0.3 1.8h0m-0.1-2.1h0m0 1h0m-0.7 0.8h0m-0.2-2.7h0m-1 0.8h0m-0.1 1.7h0m-0.2-3.2h0m-0.1 2.5h0m-0.1-0.4h0m-0.9 1.6h0m-0.2-3h0m-0.3 1.6h0m-0.4-1.9h0m-0.9 0.6h0m-0.7 0.6h0m-0.1-1.2h0m-2.4 0.6h0m0 0.3h0m-0.4 0.9h0m-0.2-2.2h0m-0.3 0.6h0m-0.7 1.3h0m0-0.1h0m-0.7-1.9h0m-0.5 2.6h0m-0.1-2.1h0m-1.1 2.5h0m-0.6 0.8h0m0-2h0m-1.8-0.9h0m-0.1 1.3h0m-0.3-1.1h0m-0.2 0.6h0m0-1.2h0m-0.5 0.6h0m0-0.4h0m-0.2 2.7h0m-1.5-1.3h0m-0.1-0.6h0m-0.3 2.4h0m-0.2-0.5h0m-0.5-3.4h0m-0.4 2.4h0m0 0.8h0m-0.4-2.5h0m0-0.6h0m-0.5 0.2h0m-0.1 1.6h0m0-1h0m-0.8 2.4h0m-0.4-0.9h0m-0.1 0h0m-0.1-2.5h0m-1.2 1.1h0m-0.8 0.9h0m-0.1 1.5h0m-0.4-1.4h0m-0.2-1.1h0m-0.3-0.5h0m-0.3 2.9h0m-0.3-0.9h0m-0.1 0.3h0m-0.7-2.4h0m-0.9 3.1h0m0-2.2h0m-0.2 0.7h0m-0.2 1.8h0m-0.4-3.6h0m-0.2 3.3h0m-1.9-1.7h0m0-1.4h0m-1.1 2.7h0m-0.2-0.9h0m-0.1 1.3h0m-0.2-0.3h0m-1.7-0.1h0m-0.5-2h0m-0.6 6.4h0m0.2-1.9h0m0.4-0.7h0m0.2 1.2h0m0.5 0.6h0m1.5-0.4h0m1.1 0h0m1.5 1.1h0m0.1-3.3h0m1.2 2.3h0m0.3 0.8h0m1.3 0.5h0m0.3-0.2h0m0.3-1h0m1.4-0.9h0m0.5-0.1h0m0.2-1h0m0.3 2.8h0m0.6-1.2h0m0.2-1.6h0m0.7 0.3h0m1.3 0.6h0m0 0.8h0m0.8 0.6h0m0.1 0.5h0m1.6-0.4h0m0.2-1.2h0m0.2 1.8h0m0.8-1.5h0m0.1-0.6h0m0.2 0.5h0m0.2 0.2h0m0.4 1.6h0m0.1-0.7h0m0.3-1h0m1.5-1.7h0m1.1 1.7h0m0.1-0.8h0m0-0.1h0m2.5 0.2h0m0.2-0.9h0m0.3 1.1h0m1 0.5h0m0.3 0.8h0m0.1 0.5h0m0.5-1.7h0m0.6 1.3h0m1.3-0.5h0m0.1-0.4h0m0.2 1.2h0m0-3h0m0.3 3.7h0m2.4-1.7h0m1.1 0.8h0m0.3-2.9h0m0.7 0.6h0m0.3 2.4h0m0.7 0.6h0m1.3-2h0m0.3-0.6h0m0.4-0.6h0m0.6 3.5h0m1-3.4h0m0.6 2.1h0m0.8-0.1h0m4.2 3h0m-3 1.4h0m-0.9 0h0m-0.5 1h0m-0.4-0.8h0m-0.7-1.8h0m0 2.5h0m-0.6-2.2h0m-0.8 0.2h0m-0.1 0h0m-1.4 1.5h0m-0.4-0.2h0m-0.4-0.2h0m-0.7-0.5h0m-0.3 1.2h0m-0.6-2.3h0m-0.2-0.3h0m-0.4 0.5h0m-0.7-0.2h0m-0.5 2.3h0m-1-3.5h0m-0.2 0.2h0m-0.2 0.6h0m-0.1 1.2h0m-0.1-0.8h0m-1.2 1.3h0m-0.3-1.1h0m-0.4-0.1h0m-0.3 2.2h0m-0.3 0h0m-0.1-3.1h0m-0.1 2.2h0m-0.1 0.8h0m-0.1-0.9h0m-0.3 0.1h0m-0.2-1h0m-1.4-1.7h0m-0.2 0.8h0m-0.4 1.4h0m-0.7-1.1h0m-0.1 0.9h0m-1.1 0.1h0m-0.1-0.5h0m-0.3 0.4h0m-1.1-1.3h0m-0.9 1.3h0m0 1.8h0m-0.3-1.2h0m-0.1 0.3h0m-0.4-1.6h0m0 1.9h0m-0.1-2.4h0m-1.9 2.7h0m-0.3-2h0m-0.2-0.2h0m-0.5 1.4h0m-0.1 0.7h0m-0.3 0.1h0m-1.1-0.7h0m-0.1 0.7h0m-0.4-3.4h0m-0.5 1.5h0m-0.7 2.3h0m-1-0.7h0m-0.5-0.3h0m-0.3-1.1h0m-0.3 0.6h0m-0.3-0.4h0m-1.9-0.7h0m-0.5 0.7h0m-2.2-0.3h0m-0.2-1.1h0m-0.3-0.6h0m-0.5 2.7h0m-0.4-1.2h0m-0.1 1.5h0m-1.1-2h0m-0.8 0.1h0m-1.7 1.6h0m-0.1-1h0m-0.6 1.1h0m-0.3 0.7h0m-1.1-1.1h0m-0.5 3.6h0m0.2-1.1h0m0-0.7h0m0-0.1h0m2.3 2.3h0m0.4-1.6h0m0.1-0.9h0m0.5 2h0m0.3 1.1h0m0 0.3h0m0.7-0.7h0m0.4 0.5h0m0.9-2.7h0m1.2 1.4h0m0.1-0.7h0m0.2 2.1h0m0.1-1.9h0m0.1-1.2h0m0.5 3.6h0m0.3 0.2h0m0.1-0.1h0m1-3h0m0.7-0.8h0m0.2 1.7h0m0.1 0.9h0m0.1 0.5h0m0.2-3.1h0m0.1 1.8h0m0 0.3h0m0-0.1h0m0.1 0.2h0m0.2-2h0m0.5 3h0m0.2-1.4h0m0.1 1.7h0m0.6-3.2h0m0.6 0.4h0m0.2 0.4h0m0.3 2.6h0m0.2-0.8h0m0.4 0.8h0m0.1-0.2h0m1.2-0.2h0m0.7 0h0m0.2-0.5h0m0.3-0.9h0m0.4 0.8h0m0.9-2.5h0m0.6-0.1h0m0.1 2.9h0m0.2-2.1h0m0.1 2.1h0m0.6-2.8h0m0.2 0.4h0m0.7 0.8h0m0.2 1.5h0m0.8 0.6h0m0.1-1.5h0m0.4-0.2h0m0.2 2h0m0.6-1.3h0m0.6-0.9h0m0.3-0.4h0m0-1h0m0.9-0.2h0m0.3 1.8h0m0.3 1h0m0-0.1h0m0.1-0.4h0m0.1 1.1h0m0.1-0.8h0m0.4-1.1h0m0.1 2.2h0m0.3-3.7h0m0.3 3.1h0m0.2-2.1h0m0.9-1.1h0m0.3 2.8h0m0.7-0.5h0m1.2-1.7h0m0.1-0.4h0m0.5 1.6h0m0.1 1.7h0m0.5 0.2h0m0.2-1.3h0m0-0.8h0m0.2-0.4h0m0 0.9h0m0.1 0.3h0m0.3-1.1h0m0.1 1.6h0m0.9-2.9h0m0 1.7h0m0.6 1.8h0m0.2-2.5h0m0.2-0.4h0m0.8 0.3h0m0.1 1.5h0m0.2-1.6h0m0.3-0.4h0m0.5-0.1h0m0.8 0.6h0m1.7 1.2h0m0-1.5h0m0 3.1h0m0.1-1.9h0m0.1-0.7h0m0.8 0.4h0m0.1 1.4h0m0.1-0.8h0m0.2-0.5h0m0.1 1.2h0m0.6 0.1h0m0.1-2.3h0m0.1-0.6h0m0 0.9h0m0.2 2.8h0m1.5-1.1h0m0-0.5h0m0.4 1.4h0m2.4-2h0m0.4-1.1h0m-0.8 5.8h0m-0.3-2.1h0m0 2h0m-0.2-2.1h0m0 3.2h0m-0.4 0.8h0m-1.1-0.9h0m-1.4-2.6h0m-0.3 1.9h0m-0.1 1.2h0m-1.1 0.3h0m-0.2-0.3h0m-1.1-2.9h0m-0.4 2.7h0m-0.8-0.1h0m-0.6-2.2h0m-0.2-0.3h0m-0.2-0.2h0m0 0.3h0m-0.1 3h0m-0.5-0.2h0m-0.1-2.2h0m-0.3-0.9h0m-0.2-0.4h0m-0.2 1.1h0m-0.2 2.5h0m-0.4-1.4h0m-0.4-1.7h0m-0.3 1h0m-0.2-1.3h0m-0.4 1.4h0m-0.6 1.9h0m-0.1 0.1h0m-0.7-3.7h0m-1.5 1.7h0m-0.5 0.7h0m-0.1 1.5h0m-0.7-0.9h0m0-1.5h0m-0.3 0.5h0m-0.1-0.9h0m-0.2 0.5h0m-0.5 0.4h0m-0.1 1h0m-0.5-1.4h0m-0.4 1.1h0m-0.2-1.8h0m-0.8 0.2h0m-0.2 2.2h0m-0.9-2.5h0m-0.3 2.2h0m-0.4-2.8h0m-0.1 3.2h0m-0.2-3.4h0m-0.5 1.7h0m-0.4-1.5h0m-1 3.5h0m-0.2-0.5h0m-0.3 0.2h0m-0.3-2h0m-0.2-0.8h0m-2.8 1.6h0m-0.1 0h0m-1.1 0.1h0m-0.5 0.7h0m-0.1-2.1h0m-0.2 1.9h0m-0.2-2.3h0m-1 0.1h0m-0.2 2.7h0m-0.2 0.1h0m-0.4-0.8h0m-0.1-1.4h0m0-0.8h0m-0.4 0.3h0m-0.6 2.4h0m-0.4-3.1h0m-0.4 0.2h0m-0.4-0.1h0m0 1.7h0m-0.1-1h0m0-0.1h0m-0.4 3.1h0m-0.1-3.3h0m-0.1 1.5h0m0 1.7h0m-0.5 0.1h0m0-1h0m-0.7-0.5h0m-0.5-2.1h0m-0.2 0.1h0m-0.6 2.9h0m-0.1-1.2h0m-0.2-1.3h0m-0.2-0.3h0m-0.2 2.2h0m-1.5-2.1h0m0 2.7h0m-0.7-1.1h0m-0.5-1.3h0m-1 2.9h0m-0.1-1.2h0m-1.3-1.4h0m0 2.6h0m-0.1-2.9h0m-0.1 1.6h0m-0.5 1.4h0m-0.3-1.9h0m0.1 3h0m1.8 0.4h0m0.5 2.1h0m1.1-2.5h0m0.1 0.3h0m0.5 1.1h0m0.1-0.4h0m0.5-0.6h0m0.1-0.5h0m0.2 2.4h0m0.2-2.8h0m0.8 3.4h0m0.1-1.2h0m0.9-0.4h0m0.1 1.6h0m0.5-0.5h0m0.7 0h0m0.2 0.2h0m0.1-3.1h0m0.1 1.3h0m0.5-1.1h0m0.5 1.6h0m0-1.6h0m0.3 0.4h0m0.4-0.2h0m1 0.3h0m0.1 1.2h0m0.1-2h0m0.4-0.4h0m0.2 2.6h0m0.1 1.4h0m0.1-0.9h0m0.1-1.1h0m1-1.8h0m0.5 2.7h0m0.7-1.2h0m0.1 0.4h0m0.1 1.2h0m0.6-1.2h0m0-1h0m0.2 1h0m0.4-1.9h0m0.1 3.8h0m0.5-3.4h0m0.1 2.2h0m0.5-2.1h0m0.6 2.6h0m0.6-1.2h0m0.2-0.8h0m0.2-0.6h0m0.3-0.6h0m0.5 0.7h0m0.2 0.6h0m0.4 2.4h0m0.2-0.4h0m0.1 0.5h0m0.4-1.4h0m0-0.7h0m0.1 1.9h0m0.4-2.3h0m0.1 2.1h0m0.2-2h0m0.5-1.2h0m0 3.2h0m0.4-3.2h0m0.1 3.6h0m0.3-2.1h0m0-0.9h0m0.4 3h0m0.5-2.7h0m0.4-0.3h0m0.1 3h0m0.3-0.4h0m0-1.8h0m0.3 0.2h0m0.4 2h0m0.1-2h0m0.3 1.5h0m0.3-2.8h0m0.3 0.7h0m0.1-0.6h0m0.4 1.2h0m0.8 1.8h0m0.5-2h0m0.1-0.2h0m1.2-0.7h0m0.5 2.7h0m0.4-2.6h0m0.7 0.3h0m0.2 0.1h0m0.1 1.2h0m0.4-1.7h0m0.8 1.5h0m0.2-0.5h0m0.1-1.6h0m0.2 1.4h0m0.5-0.3h0m0.2-0.7h0m0.5 0.6h0m1.8 2.8h0m0.2-3.8h0m0.5 2.9h0m0.2-1.9h0m0 0.1h0m0.2 2.3h0m0-2.6h0m0.1 0.3h0m0-1h0m0.5 0h0m1.2 3h0m0.1-2.5h0m0.1-0.6h0m0.1 1.9h0m0-1.2h0m0.1-0.2h0m0 0.2h0m0.9 1.3h0m0 0.4h0m0.3 0.5h0m0.6 0.6h0m0.8-0.3h0m0.5-1.8h0m0.6 0.4h0m0.2-0.9h0m-4.4 4.4h0m-0.1-0.3h0m-0.1-0.7h0m-0.5 2.7h0m0-1.3h0m-0.6-0.7h0m-0.5 0h0m-0.1 0.9h0m-0.4-0.3h0m-0.2-1.4h0m0-0.2h0m0 3.4h0m0-1h0m-0.2-2h0m0 1h0m-0.3-0.1h0m0 1.2h0m-0.5-1.4h0m-0.7 2.5h0m-0.7-3.2h0m-0.1 2.2h0m-0.7-2.4h0m-0.7 0.5h0m-0.2 0.4h0m-0.1 2h0m0-0.4h0m-0.4-1.3h0m-0.5 1.8h0m0-0.3h0m-0.9 0.9h0m-0.1-1.6h0m-0.2 0.9h0m-0.1-1.7h0m-0.4 0.3h0m-0.2-1.4h0m-0.6-0.1h0m-1.9 0.4h0m0 2.5h0m-0.4 0h0m-0.2-3h0m-0.1 0h0m-0.1 0.9h0m0 0.7h0m0 1.1h0m-0.4 0.1h0m-0.2-2.2h0m-0.9 2.7h0m0-3.5h0m-1.5 2.3h0m-0.1-2h0m-0.1 0h0m-0.1 1.3h0m-0.1 1.3h0m-0.1-0.2h0m-0.8 1.2h0m-0.6 0h0m0-2.8h0m-0.4-0.7h0m0 2h0m-0.1-2.3h0m-0.3 1.6h0m-0.6-0.9h0m-0.4 3.1h0m-0.4-3.6h0m-0.1 2.6h0m-0.2-2.5h0m-0.3 2.2h0m-0.9-0.5h0m-1-0.7h0m-1.2 1.6h0m-0.9-2.6h0m-0.2 0.6h0m-0.4 1h0m0-1.6h0m-0.2 3.3h0m-0.1-0.3h0m-0.4-1.6h0m-0.6 1.5h0m-0.3-0.3h0m-0.6-2.2h0m0 1h0m0 0.3h0m-0.3-1h0m-0.1 0.9h0m-0.4 0.6h0m-0.6-0.9h0m-0.2-0.1h0m-0.5 0.5h0m-0.6 1.2h0m-0.6-0.8h0m0-1.5h0m-0.2 2.7h0m-0.4-0.6h0m-0.2-1h0m-0.1-2h0m-0.3 3.5h0m-1.3-2.4h0m-0.1 2.6h0m-0.1-2.2h0m-0.2-0.5h0m-0.5-0.4h0m-0.3 0.1h0m-0.3 1.9h0m0 0.9h0m-1-1.7h0m-0.3 0.2h0m-0.5-1.9h0m-0.1 0.5h0m-0.1 0.1h0m-0.5-0.2h0m-0.8-0.6h0m-0.2 0.1h0m4.1 3.8h0m2.3 0.4h0m0.4-0.3h0m1.2 2.3h0m0.4 0.7h0m0.1 0.1h0m0.3-2.5h0m0.4 0.7h0m0.1-0.2h0m0.1-0.2h0m0.1 1.3h0m0.1-0.5h0m0.2-1.2h0m0.5 2.7h0m0.5-2.2h0m0.1 2.9h0m0-0.5h0m0-2.5h0m0.2 1.6h0m1.4-1.6h0m1 2.4h0m0.2 0.2h0m0.6 0.3h0m0.7-3.6h0m0.5-0.1h0m0.4 3.4h0m0.2-3.5h0m0.2 3.5h0m0.8 0.1h0m0-0.9h0m0.6-2.7h0m0.2 1h0m0.1 1.7h0m0.6 0.9h0m0.4-0.9h0m0.4-2.2h0m0.4 2.1h0m0.5 0.7h0m0.3-1.1h0m0.2 1.4h0m0.3-1.9h0m0.1 1.7h0m0.6-1.4h0m0.5-1.6h0m0.1 2.5h0m0.6-2h0m0.7-0.3h0m0 1.3h0m0.1 0.5h0m0.2-1.3h0m1.1 0.5h0m0.3-0.7h0m0.5 2.9h0m0.1-3.8h0m0.6 2.9h0m0.5-1.1h0m0.4 1.3h0m0.4-3.1h0m0.3 0.5h0m0.5 2.9h0m0.5-1.2h0m0.2-2.2h0m0.3 1h0m0.2 2.4h0m0.1-0.4h0m0.8 0.7h0m1.3-1.6h0m0.1-2h0m0 2.4h0m0.1-1.1h0m0.7 1.1h0m0.5-2h0m0.4 1.3h0m0.5-1.7h0m1.6-0.1h0m-7 4.5h0m-2.8 0.1h0m-1.8-0.5h0m-0.3 0.1h0m-1.4-0.3h0m-1.5 0.2h0m-3.4 0.5h0m-0.8-0.6h0m-0.7 0.6h0m-0.2-0.6h0m0 0.5h0m-0.6 0.1h0m-1.2-0.4h0" stroke="#aaaaaa" stroke-width="3.2" stroke-linecap="round" fill="none"/>
<path d="M564.3 77h0m-0.6 32.6h0m-10.2 0.4h0m6.1 25h0m-1.3 6.7h0m-17.4 0h0m18.7 7.4h0m5.8 9.2h0m-31.9 4.3h0m25.4-0.9h0m1.5 5.7h0m-7.4 1.3h0m5-0.4h0m2 1.6h0m3.9-0.7h0m3.8 1.1h0m2-0.1h0m0.9 2.5h0m-0.5 2h0m-0.7-0.3h0m-2.8 0.1h0m-1.5 0.7h0m-7.6-1.5h0m-11.6 0.4h0m-8.7 2.2h0m26.4 3.1h0m1-1.7h0m3.4 0.1h0m0.5 0.8h0m2.2 3.6h0m-0.2 0h0m-1.7 1.5h0m-8.3-1.6h0m-1.1-1.7h0m-18.3 3.9h0m16.2 0.5h0m0.1 3h0m1.1-3.1h0m1.7 0.5h0m0.6 1.7h0m0.3 1h0m1.6-1.8h0m0.8-1.8h0m0.2 0.7h0m0.6 0.9h0m3.2 1.4h0m0.3-0.3h0m-0.2 4.7h0m-4.3-1.3h0m-0.3-0.2h0m-0.3 0.8h0m-2.7-0.5h0m-1.7-2h0m-5.9 1.9h0m0 2.2h0m7.4 2.4h0" stroke="#008c00" stroke-width="3.2" stroke-linecap="round" fill="none"/>
<path d="M621.3 114.8h0m38 7.2h0m-39.7 18.9h0m2.8 13h0m-1.1 12.6h0m2.2 4.8h0m2.5 0.1h0m5.7-0.5h0m24.4-2.2h0m-30.4 6.5h0m-4.8 2.2h0m1.9 1.7h0m4.6-0.6h0m5.2 0.6h0m-9.1 4.4h0m-4.4 0.8h0m1-0.3h0m0.6 0.2h0m1.3 0.4h0m4.7 1.1h0m0.6 1.2h0m9.7 4h0m-5.9-2.2h0m-6.9 0.5h0m-2.3 0h0m-1 5.6h0m5.2-1.8h0" stroke="#ff1400" stroke-width="3.2" stroke-linecap="round" fill="none"/>
<text x="553.5" y="132.8" font-size="8.4" fill="#111" stroke="#111" stroke-width="0.22" textLength="21.7" lengthAdjust="spacingAndGlyphs">MYMK</text>
<text x="531.7" y="153.5" font-size="8.4" fill="#111" stroke="#111" stroke-width="0.22" textLength="17" lengthAdjust="spacingAndGlyphs">SCD2</text>
<text x="517" y="171.8" font-size="8.4" fill="#111" stroke="#111" stroke-width="0.22" textLength="17.3" lengthAdjust="spacingAndGlyphs">GYS1</text>
<text x="516.1" y="186.8" font-size="8.4" fill="#111" stroke="#111" stroke-width="0.22" textLength="20" lengthAdjust="spacingAndGlyphs">TNNI1</text>
<text x="656.5" y="107.6" font-size="8.4" fill="#111" stroke="#111" stroke-width="0.22" textLength="17" lengthAdjust="spacingAndGlyphs">BET1</text>
<text x="617.4" y="134.9" font-size="8.4" fill="#111" stroke="#111" stroke-width="0.22" textLength="22.4" lengthAdjust="spacingAndGlyphs">DDX47</text>
<text x="630" y="157.6" font-size="8.4" fill="#111" stroke="#111" stroke-width="0.22" textLength="26.5" lengthAdjust="spacingAndGlyphs">HMGN1</text>
<text x="658.3" y="145.8" font-size="8.4" fill="#111" stroke="#111" stroke-width="0.22" textLength="20" lengthAdjust="spacingAndGlyphs">LATS1</text>
<text x="653.5" y="182.5" font-size="8.4" fill="#111" stroke="#111" stroke-width="0.22" textLength="20" lengthAdjust="spacingAndGlyphs">MSLN</text>
<text x="652.2" y="197.2" font-size="8.4" fill="#111" stroke="#111" stroke-width="0.22" textLength="20.2" lengthAdjust="spacingAndGlyphs">IQEC1</text>
<path d="M569.8 133.9L568 163.4" stroke="#111" stroke-width="1.1"/>
<path d="M567.6 169.8L565 163.2L571 163.6Z" fill="#111"/>
<path d="M549.1 153.5L551.5 155.9" stroke="#111" stroke-width="1.1"/>
<path d="M556.1 160.4L549.4 158L553.6 153.8Z" fill="#111"/>
<path d="M537.2 168.7L549.8 171.3" stroke="#111" stroke-width="1.1"/>
<path d="M556.1 172.6L549.2 174.2L550.4 168.4Z" fill="#111"/>
<path d="M538.3 180.7L555.9 178" stroke="#111" stroke-width="1.1"/>
<path d="M562.2 177L556.3 180.9L555.4 175Z" fill="#111"/>
<path d="M662.6 108.9L662 112" stroke="#111" stroke-width="1.1"/>
<path d="M660.9 118.3L659.1 111.5L665 112.5Z" fill="#111"/>
<path d="M626.7 137.2L626.2 164.5" stroke="#111" stroke-width="1.1"/>
<path d="M626.1 170.9L623.2 164.4L629.2 164.6Z" fill="#111"/>
<path d="M641.3 157.5L635.4 169.5" stroke="#111" stroke-width="1.1"/>
<path d="M632.6 175.2L632.7 168.1L638.1 170.8Z" fill="#111"/>
<path d="M664.8 147L660 160.1" stroke="#111" stroke-width="1.1"/>
<path d="M657.8 166.1L657.2 159.1L662.8 161.1Z" fill="#111"/>
<path d="M651.7 179.1L636.5 183.8" stroke="#111" stroke-width="1.1"/>
<path d="M630.4 185.7L635.6 180.9L637.4 186.7Z" fill="#111"/>
<path d="M651.7 192.6L644.8 190.3" stroke="#111" stroke-width="1.1"/>
<path d="M638.7 188.3L645.7 187.5L643.8 193.2Z" fill="#111"/>
<g stroke="#000" stroke-width="1.75" fill="none">
<path d="M283.7 264.1V430.2H446.5"/>
<path d="M283.7 430.2h-5.2M283.7 408.1h-5.2M283.7 385.9h-5.2M283.7 363.8h-5.2M283.7 341.6h-5.2M283.7 319.5h-5.2M283.7 297.4h-5.2M283.7 275.2h-5.2M283.7 430.2v5.6M324.4 430.2v5.6M365.1 430.2v5.6M405.8 430.2v5.6M446.5 430.2v5.6"/>
</g>
<text x="276.7" y="434" font-size="10.5" font-weight="bold" text-anchor="end">0</text>
<text x="276.7" y="411.9" font-size="10.5" font-weight="bold" text-anchor="end">2</text>
<text x="276.7" y="389.7" font-size="10.5" font-weight="bold" text-anchor="end">4</text>
<text x="276.7" y="367.6" font-size="10.5" font-weight="bold" text-anchor="end">6</text>
<text x="276.7" y="345.4" font-size="10.5" font-weight="bold" text-anchor="end">8</text>
<text x="276.7" y="323.3" font-size="10.5" font-weight="bold" text-anchor="end">10</text>
<text x="276.7" y="301.2" font-size="10.5" font-weight="bold" text-anchor="end">12</text>
<text x="276.7" y="279" font-size="10.5" font-weight="bold" text-anchor="end">14</text>
<text x="283.4" y="447" font-size="10.5" font-weight="bold" text-anchor="middle">-4</text>
<text x="324.1" y="447" font-size="10.5" font-weight="bold" text-anchor="middle">-2</text>
<text x="365.1" y="447" font-size="10.5" font-weight="bold" text-anchor="middle">0</text>
<text x="405.8" y="447" font-size="10.5" font-weight="bold" text-anchor="middle">2</text>
<text x="446.5" y="447" font-size="10.5" font-weight="bold" text-anchor="middle">4</text>
<text x="365.4" y="460" font-size="10.4" font-weight="bold" text-anchor="middle">Log2FC</text>
<text transform="translate(260.1,347.2) rotate(-90)" font-size="10.5" font-weight="bold" text-anchor="middle">-log2 Pvalue</text>
<text x="361.5" y="256.8" font-size="15" font-weight="bold" text-anchor="middle">Day 3</text>
<path d="M355.4 283.2h0m30.4-1.2h0m-24.9 2.4h0m-4.8 10h0m-10.3 6h0m33.5 11.5h0m-7.2-0.8h0m-26.3 2.4h0m34 1.6h0m-4.6 2.7h0m-1.1-0.6h0m-18.3 1.5h0m5.4 2.2h0m16.1-0.7h0m9 2.4h0m-11.6 3.8h0m-6.1-0.5h0m-11.4 0.1h0m-5.5-1.2h0m-9 2.6h0m28 1.3h0m1.8 6.4h0m-12.7 0.6h0m-7.4-3.5h0m0.8 5.5h0m0.4 1.3h0m0.4-1.9h0m1.3 2.8h0m13.8-2.8h0m4.4 2.8h0m0.4-0.4h0m1.8 0.3h0m4.7-1.1h0m1.6 3.8h0m-4 0.7h0m-0.8-1h0m-2.7 0.9h0m-1.6 0.7h0m-1-3.1h0m-1.2 0.9h0m-0.4-1.2h0m-1.9 3.2h0m-10.2-1.4h0m2.2 5h0m8 0h0m1.1-0.9h0m1.5-0.4h0m1.6-1.1h0m0.4 0.9h0m0.8-0.4h0m4.1 0.8h0m-1.9 3.6h0m-4.2 2.1h0m-0.5-3.7h0m-0.4 0.3h0m-0.7 0.1h0m-17.8 3.1h0m-0.2-1.7h0m-1.5-1.8h0m0 3.9h0m-0.8 3.9h0m0.8-3.2h0m3.9-0.6h0m2.2 0.8h0m0.3 1.2h0m2.2-1.1h0m1.3 1.1h0m0.2 1.8h0m8.2-1.5h0m0.6-2.3h0m0.5 3.9h0m0.3-2h0m0.3-0.5h0m0.4 0.9h0m0.1-0.9h0m3.7 1.5h0m4-0.4h0m1.2 5.2h0m-0.4-3.4h0m-1.9 3.4h0m-1.9-0.2h0m-2.2-2.3h0m-0.8 0.4h0m-0.8 1.2h0m-3-0.5h0m-0.2 0.7h0m-7.2-1.6h0m-2.3-0.4h0m-4.9 1.3h0m-1.1-1h0m-3.9 0.2h0m-2.8-0.3h0m2.5 3.5h0m1.4 2h0m0.4-2.5h0m1 1.6h0m1.4 1h0m2.2-2h0m1.6 2.7h0m0.6-0.2h0m10.3-1.8h0m0.1-0.5h0m1.9 2.2h0m3.1 0.6h0m1.2-1.5h0m2.3 0.1h0m0 1.3h0m0.7-0.4h0m1.6-0.6h0m2.2 0.6h0m-1.2 2h0m-0.4 2.5h0m-1.1-3.1h0m-1.3 1.8h0m-1.1 1.1h0m-1.3-0.3h0m-2.7 0.3h0m-0.9-1.2h0m-1.6-1.8h0m-0.2 0.7h0m-1.3-0.5h0m-6 0.3h0m-3.7 1.6h0m-0.2 0.9h0m-0.2-0.1h0m-0.6-2.4h0m-0.5-0.4h0m-0.4 0h0m0-0.4h0m-5.4 3h0m-1.9 0.5h0m-0.1-3.2h0m-1.4 0.3h0m-3 4.8h0m2.4 1.1h0m0 0.7h0m3.3-2.5h0m0.2-0.7h0m0.4 1.7h0m0.2 0.7h0m0.5-0.6h0m0.7-0.6h0m0.1 0.9h0m1.7 0.8h0m1.1-1.5h0m3.1 1.6h0m0.6 0.3h0m1.8 0.2h0m1.2-1.6h0m6.3-0.5h0m0.3 2.1h0m0.2-2.2h0m0.1-1.6h0m0.2 3h0m0.5 0.5h0m0.1-0.8h0m0.6-0.4h0m1.8-1.1h0m1.1-1.1h0m0 3.5h0m0.7-2.8h0m1.4 1.5h0m0.9 1.1h0m1.9-1h0m0.6 0.7h0m0.3-0.3h0m0.9 1.1h0m10.7 0.4h0m-6.9 3.6h0m-2.5-2.2h0m-0.2 1h0m-1.3 0.6h0m-0.1-1.2h0m-2.4-0.9h0m-0.2 0.1h0m-0.1-1.2h0m-0.3 1.7h0m-1.3-0.9h0m0-0.7h0m-0.3 2.6h0m-0.3-1.5h0m-0.4 1.4h0m-0.5 0.4h0m-2.5 0.2h0m-0.4 0.5h0m-1.2-1.5h0m0 0.1h0m-0.7 1.5h0m-0.8-0.1h0m-0.1-0.1h0m-0.3-3h0m-5.4 0.1h0m-0.1-0.2h0m-1.6 0.1h0m-0.1 2h0m-0.2-2.6h0m-1.3 1.8h0m-1.4 1.9h0m-0.4-2.1h0m-1.6 1.4h0m-0.2-0.1h0m-0.4-1h0m-0.1-0.7h0m-0.3 0.9h0m-0.5-2.2h0m-2 2.4h0m-1-1.5h0m-0.4 1.7h0m-0.5 1h0m-0.8-3.1h0m-1.2 0.7h0m-1.7 1.6h0m-0.1-0.8h0m-0.1 1.6h0m-1.6-2.4h0m2.3 6.1h0m0.1-0.8h0m2.3 0.9h0m1.4-1.8h0m0.1 1.9h0m0.1-1.2h0m0.2-0.7h0m0.9-1.1h0m0.2 2.4h0m0.7-0.5h0m2.8-1.3h0m0.9 2.8h0m0.1-3.9h0m0.1 3.2h0m0.6-0.7h0m0.4 0.5h0m0.1 0.1h0m3.1-1.3h0m0.1-1.3h0m0.2 2h0m1.2 1.3h0m5.1-3.7h0m0.1 1.7h0m0.2 1.5h0m0.6-2.6h0m0.1 2.9h0m0.4-2.8h0m0.3 0.8h0m0.5 1.4h0m0.2-1.6h0m0.1 2.3h0m2.4-0.7h0m1.7 0.2h0m0-0.3h0m1.2-0.1h0m0.1-1.2h0m0.4 2.2h0m0.1-1.1h0m0-1.6h0m0.9 0.6h0m0.9-1.8h0m0.1 3.6h0m0.1-1.2h0m2.1-1.8h0m1.9 2.7h0m4.9 1.7h0m-3.4 2.6h0m-0.8-3.6h0m-0.6 3.1h0m-0.5-2.1h0m-0.9 0.3h0m-0.7-0.9h0m-1.5 1.2h0m-0.7 0.3h0m-0.1 1.4h0m-0.2-0.5h0m-0.9 0.5h0m0-1.5h0m-0.3 1.8h0m-0.3-3.1h0m-1.7 1.2h0m-0.9 2.1h0m-1.2-0.7h0m0-1.7h0m-0.8-0.6h0m-0.2 1.5h0m0-1.2h0m-0.3-0.8h0m-0.5 0.7h0m0 1.3h0m-0.2-0.3h0m-0.8-1.1h0m-0.1 1h0m-0.1-1.6h0m-0.8 0.3h0m-0.8-0.4h0m-0.2 2.4h0m-5.8-0.3h0m-0.4 0.3h0m-0.3-2h0m0 1.9h0m-0.9 0.5h0m-1.5 0.6h0m-0.3-3.4h0m-0.2 0.4h0m-2.1 0.1h0m-0.3 0h0m-0.7 1.6h0m-0.2 1.3h0m-0.4-3.3h0m-0.1 3.1h0m-0.4-2.2h0m-0.7-0.7h0m-1 0.9h0m-2.1-1.1h0m-0.7 0.8h0m-0.7-0.6h0m-0.6 1.2h0m-0.3-0.7h0m-0.9 2.5h0m-1.3-2h0m-2.2 1.4h0m-0.8 4.1h0m0.8 0h0m1 0.4h0m0.4-1.5h0m2.7-0.1h0m0 0.2h0m0.7-1.4h0m1.5 1.8h0m0.5-2h0m0.1 0.1h0m1.5 0.9h0m0.2 2.2h0m0.1-1.8h0m0.5 2.1h0m0.2-3.1h0m1.2-0.1h0m0.5 1h0m1.5-0.2h0m1 1.2h0m0.2-1.1h0m0.3 0.9h0m0.4-0.7h0m0.4 1.4h0m0.2-0.2h0m0.1-1.9h0m0 2.6h0m0.1-3.5h0m0.2 2.8h0m0.2-1.9h0m0 1.7h0m0.5-0.5h0m0.4-1.5h0m0.3-0.7h0m1 0.3h0m0.5 2.4h0m1.1-0.7h0m4.9 1.3h0m0.3-0.5h0m0.3-1.6h0m1 2.2h0m0.2-0.7h0m0.1 1.1h0m0.4-0.6h0m1.2-0.5h0m0.8 0.6h0m0.2 0.4h0m0.1-2.2h0m0.1 1.6h0m0.1-1h0m0.4-0.7h0m0.3 1.9h0m1.2-0.5h0m0.7-2.7h0m0.4 0.9h0m1.2 1h0m0.1 0.8h0m1.1 0.4h0m0.5-3.1h0m0.4 2.3h0m0.3 0.4h0m2-0.4h0m1.3 0.4h0m1.1 0.9h0m0.9-0.3h0m0.2 1.7h0m-0.9 2.7h0m0-3.8h0m-0.8 3.4h0m-1.9-1.6h0m-0.5 1.4h0m-0.4-1.8h0m-1.1 1.4h0m-0.5-0.1h0m0-1.9h0m-0.6 0.3h0m-1.2 2.2h0m-0.9 0.5h0m-0.3 0h0m-0.4-2.7h0m-0.1 1.6h0m0-1.3h0m-0.7-1.4h0m0 1.7h0m-1.4-1.4h0m-0.2 1.9h0m-0.1 1.4h0m-0.2-0.4h0m-0.2 0.4h0m-0.7 0.3h0m-0.2-1.8h0m-0.1 0.9h0m-0.3 0.3h0m-1-0.1h0m-0.4-1h0m-0.9-0.3h0m-0.9 1h0m-0.1-2.9h0m-4.8 0.1h0m0 1.2h0m-0.4-0.2h0m-0.4 2.6h0m-0.2-1.9h0m-0.1-1.4h0m-0.8 1h0m-0.7 1.2h0m-0.7 0.1h0m-0.3-1.1h0m-0.4-1.4h0m-0.4 3.2h0m-1.9-0.7h0m-0.3 0h0m-0.2-2.6h0m-0.2 3.7h0m-0.1-0.8h0m-0.6-2.5h0m0 0.5h0m-0.2 1.5h0m-0.2-0.9h0m0 2.3h0m-0.6-0.4h0m0-0.4h0m-0.1 0h0m-0.2-0.4h0m-0.1-2.1h0m-0.1-0.6h0m-0.6 3h0m-1.1 0.9h0m-0.1-2.3h0m-0.2 1.7h0m-1.4-1.2h0m-0.1-1.9h0m-0.2 1.3h0m-2.4 1.4h0m-0.4 0.3h0m-0.1-2.7h0m-0.3 1h0m-0.3-1.3h0m-0.3 1.4h0m-1.8 1.5h0m-3.6 2.7h0m0.6 1.8h0m0.3-3h0m0.3 0.6h0m0.1-0.5h0m0.3 0.7h0m1.7-0.7h0m0 1.5h0m1.2 0.8h0m0.6-2.9h0m0.3 1.2h0m1.1 0.7h0m0.9 0.3h0m0.3-0.7h0m0.8 2h0m0.2-2.8h0m0.3 3h0m0.5-1.6h0m0.2-1.5h0m0.1 3.2h0m1.5-0.8h0m0.3 0.6h0m0-2.6h0m0.3-0.5h0m0.2 0.6h0m0.2 1.1h0m0.1-2.4h0m0.3 0.6h0m0.7 2.8h0m0.2-0.1h0m0.2-3h0m0.1 1.5h0m0.4 0.4h0m0.4-0.3h0m0-1.1h0m0.2 0.2h0m0.1 2.8h0m1.4-0.8h0m0-0.1h0m0.2 0.5h0m0.3-1.7h0m0.1-1.3h0m0.5 2.7h0m0.3-0.4h0m0.5-0.2h0m0.2 1.5h0m0.7-3.8h0m0.2 1.9h0m1.3-0.7h0m0.9-0.6h0m0.5 0.9h0m0.1 2h0m0.2-1.7h0m4 0.3h0m0.1 0.2h0m0.2-0.7h0m0.2 0h0m1.4 1.5h0m1.3-2.2h0m1.2-0.6h0m0.2 0.9h0m0.4 1.4h0m0.2-2.3h0m0.1 0.8h0m0.6 1.4h0m0.2 1.2h0m0.1-3.3h0m0.2 1.8h0m0.1 0.2h0m0.5-1.6h0m0.1-0.7h0m0.2 3.5h0m0.6-0.2h0m0.3-0.1h0m0.9-3.3h0m0.1 1.3h0m0.7 1.3h0m0-2.2h0m0.2 1.1h0m0.1 0.8h0m0.2-0.6h0m0.5-0.7h0m0.9-0.9h0m0 1.6h0m0 2h0m0.2-3.9h0m3 1.3h0m2.9 1.8h0m0.3-1.3h0m0.2-0.5h0m0.1 1.8h0m1.9 2h0m-1.4-0.8h0m-0.3 2.7h0m-0.3-2.4h0m-0.1 1.9h0m-0.6 0.9h0m-0.7-2.7h0m-1.4 2.8h0m-0.7-3.2h0m-0.3 0.2h0m-0.1 0.9h0m0 1h0m-0.6-0.8h0m-0.3 0.3h0m-0.1-1.3h0m-0.7 0.8h0m-0.2 1.6h0m0-0.8h0m-0.8-1.8h0m-0.2 1.2h0m0-0.8h0m-0.3 0.7h0m-0.3 0.1h0m-0.6-0.4h0m-0.6-0.8h0m-0.2 2.6h0m-0.6-1.4h0m-0.4 2.2h0m-0.4-2.6h0m-0.4-1h0m-0.3 1.6h0m-0.1-1.1h0m-0.7 2.4h0m-0.7 0.8h0m-0.2-2.9h0m-0.1-0.3h0m-0.1 2.9h0m-0.1-0.6h0m0 0.9h0m-0.3-3.9h0m-0.3 2.9h0m-0.2 0.2h0m-0.6-2.9h0m-1 0.3h0m-0.2 0h0m-0.5 2.2h0m-0.1-0.8h0m0 1.8h0m-0.3-0.3h0m0-2.2h0m-0.5 0.2h0m-0.4 2h0m0 0.2h0m-0.3-1h0m-1.3 0.1h0m-0.2-0.7h0m-0.1 1.5h0m-2.8-0.9h0m-0.1-1.3h0m-0.3 1.3h0m-0.1 0h0m0-1.5h0m-0.4 2.4h0m-0.2-1.5h0m-0.4-0.5h0m-0.1-1.1h0m-1.3 3.5h0m-0.1-1h0m-0.4-1.8h0m-0.8 1.6h0m0-1.5h0m-0.1 0.9h0m-0.6-1.9h0m-0.1 3.8h0m-0.2-2.6h0m-1.3-1.1h0m-0.1 3.4h0m0-2.6h0m-0.2 1.9h0m-0.7-0.7h0m-0.2-1.2h0m-0.1 1.8h0m-0.5-2.5h0m-0.1 1.8h0m-0.7-1h0m-0.1 0h0m-1 0.2h0m0 0.1h0m-0.2 0.2h0m-0.2 0.1h0m-0.2-1.7h0m-0.2 1h0m-0.1 0.5h0m0 0.7h0m-0.2 0.4h0m-0.6 0.6h0m-0.8-0.5h0m0-1.2h0m-0.6-0.1h0m-1.1 1h0m-0.3-1h0m-0.3-1.5h0m-0.3 3.5h0m-1-0.8h0m-0.5 0.8h0m-0.5-3.4h0m-1.1 3.3h0m-0.3-1.8h0m-0.2-0.9h0m-0.5 1.7h0m-0.2 1.5h0m-1.8-3.5h0m-0.5 1.5h0m-0.1-1.6h0m-0.1 1.2h0m0 1.3h0m-0.5 1.9h0m0.2 0.7h0m1 2.4h0m0.3-0.1h0m1.3-1.1h0m1.1 0.9h0m0-1.2h0m0.1 0.3h0m1-1.2h0m0.1 2.2h0m0.5-0.5h0m0.6-0.3h0m1.2-0.8h0m1.1-1.7h0m0.3 3.3h0m0.5-2.1h0m0.4 1.3h0m0.6-2.3h0m0.1 0.4h0m1.1 2.8h0m0.8-0.5h0m0.2-2.4h0m0.1 3.1h0m1.1-3.6h0m0.1-0.1h0m0.1 0.5h0m0.2 3.2h0m0.4-2.3h0m0.2 2h0m0.3-2.4h0m0.2 1.4h0m0.2-0.2h0m0.2 0.2h0m0-1h0m0.6 0.8h0m0.5-1.1h0m0.6 0.1h0m0 1.6h0m0.3 0.1h0m0.3-1h0m0.1-1.3h0m0.3 1h0m0.2 1.8h0m0.1-3.4h0m0.4 3.3h0m0.2-0.3h0m0-1h0m0.1 1h0m0.5 0.4h0m0.6-3.3h0m0.4 3h0m0.3-2.3h0m0.4 0.7h0m0.1-1.4h0m0.1 0.1h0m0.5 3.4h0m0.2-1.4h0m2.8-0.9h0m0.2 0.5h0m0.3-0.9h0m0.1 0.9h0m0.1 0.8h0m0-2.5h0m0.4 1.1h0m0.3 1.7h0m0.1 0.6h0m0.3-0.1h0m0.1-1.8h0m0.2 0.9h0m0.1-2.3h0m0.3 3.1h0m0.4-3.1h0m0.4 0.4h0m0.1 0.2h0m0.1 1h0m0.4 1.8h0m0.1-3.4h0m0.1 0.1h0m0.2 3.5h0m0.2-1.9h0m0.1-1.8h0m0 1.4h0m0.2 0.8h0m0-0.5h0m0.3-1.6h0m0.1 0.8h0m0.9 2.8h0m0.1-1.9h0m0 1.9h0m0.1-0.1h0m0.3-1.6h0m0.2 0.3h0m0.4-1.4h0m0.9-0.2h0m0.1 2.1h0m0-2.3h0m0.3 2.5h0m0.2-0.1h0m0.1-1.4h0m0.5 0.8h0m2-1.4h0m0.1 2.3h0m1.1-1.8h0m0.8-0.3h0m0.6-0.9h0m0.3 2.7h0m0.2-0.2h0m0.4 0.3h0m0.2-0.4h0m0.3-2.4h0m1.5 2.2h0m0.3-1.2h0m0.4 1h0m0.4 0.9h0m0.3 0.4h0m0.3-1h0m1-1.6h0m0.1 2.6h0m4 3.7h0m-2.2-3.5h0m-0.7 2h0m-0.3-1h0m-1-0.4h0m-1.3 1.4h0m-1.2 0.3h0m-0.1-1.4h0m-1.3 1.2h0m-0.2 0.2h0m0-1.4h0m-0.7-0.1h0m0 0.1h0m-1.2 0.7h0m0 2.2h0m-1 0h0m-1-3.4h0m-0.1 1.7h0m-0.2-0.9h0m-1 1.6h0m-0.1 0.9h0m-0.4-1.5h0m-0.1-0.8h0m-0.2 0.7h0m-0.4 1.3h0m-0.3-1.7h0m-0.2 0.8h0m0 0.6h0m-0.4-1.8h0m-0.1 1.9h0m-0.6-1.9h0m-0.6 1.5h0m-0.6 0.8h0m-0.1 0.2h0m-0.2-1h0m-0.1-0.3h0m-1 1.1h0m0-2.1h0m-0.5 1.5h0m-0.1-2.9h0m-0.3 2.2h0m-1.7-1h0m-0.6 1.2h0m-0.4-2.3h0m-0.1 1.7h0m-0.4-1.6h0m-0.2 3.6h0m0-3.9h0m-2.8 3.1h0m0-1.3h0m-0.1-1.1h0m-0.1 0.5h0m-0.1 0.5h0m-0.3 2.3h0m-0.3-2.3h0m0 1.5h0m-0.5-2.3h0m-0.1 0.7h0m-0.3-0.3h0m-0.3-1.1h0m-0.2 2.2h0m0 1.5h0m-0.2-0.2h0m-0.3-0.9h0m-0.4-1.7h0m-0.2 2.4h0m-0.1-0.4h0m-0.8-2.8h0m-0.4 0.6h0m-0.1 1.7h0m-0.2-2h0m-0.5-0.4h0m0 0.7h0m-0.1 0.6h0m-2.2 0.2h0m-0.1 0.4h0m-0.1-0.3h0m-0.7 1.8h0m-1.7-1.7h0m-0.1-0.4h0m-0.8 1.9h0m-0.1-1.5h0m-1.3-0.5h0m-0.1 0.3h0m-0.1 0.7h0m-0.2-2.2h0m-1.4 3.7h0m-0.4-1.3h0m-1-2.3h0m-1.1 0.2h0m-0.3 1.8h0m-1.2 0h0m-2.3 1.5h0m-0.2-1.3h0m-0.6-1.6h0m-0.1-0.3h0m-0.5 1.7h0m-0.4 2.3h0m0.3-0.2h0m1.6 2.4h0m0.7 0.8h0m0.3-1.3h0m0-2.2h0m0.3 2.7h0m0.5-2.3h0m0.6 0.3h0m0.2 3.1h0m0.2-3.5h0m0.2 1h0m0.2-0.1h0m1.5-0.9h0m0.9 0h0m0.3 0.6h0m0.6 1.5h0m0.4-1h0m0.6-0.6h0m0.6 0.3h0m0.2 0.1h0m0.2 0.9h0m0.2-2.1h0m0.2 2.3h0m0.1 1.2h0m0.7-0.1h0m0.1-3.1h0m0.3 2.2h0m0 1.2h0m0.2 0h0m0-3.5h0m0.6 1.6h0m0.2-0.9h0m1.2 1.1h0m0.5-1h0m0 2.6h0m0.2-1.3h0m0.1-1.9h0m0.1 1.3h0m0.1-0.4h0m1 2.1h0m0.1-1.9h0m0.1-1.4h0m0.2 2.2h0m0.3 0.3h0m0.1-1.2h0m0.5 1.8h0m0.6-2.3h0m1.2 1.5h0m0.2-2.3h0m1.6 0.5h0m0.2 0.6h0m0.3 0.5h0m0.6 0h0m0.4 0.4h0m0.2-1.4h0m0.1 2.4h0m0 0.5h0m2-1.5h0m0.5 0.7h0m0.3-0.5h0m0.5 0.2h0m0.3 1.3h0m0-0.4h0m0.9-3h0m0 3.1h0m0.2-1.7h0m0.3 0.9h0m0.2-0.7h0m0.1 1.4h0m0.2-0.8h0m0.5 0.4h0m0.3-1.1h0m0 1.6h0m0.1-0.8h0m0.1 0.8h0m0.4-0.1h0m0.2-1.1h0m0.2 0.4h0m0.9-1h0m1 0.2h0m0.3 1.7h0m0.1-0.3h0m0.3-2.5h0m0.2-0.1h0m0.6 3.1h0m0-0.1h0m0.1-3.7h0m1 3.7h0m0.1-0.4h0m0.3-2h0m0.3 2.6h0m0-0.5h0m0.4-3.4h0m0.6 2.3h0m0.1 1.6h0m2.3-3.3h0m0.2 1.9h0m0.2 1.3h0m0.2 0h0m0.9 0h0m0.6-3.4h0m0.1 0.7h0m0.4-0.7h0m0-0.3h0m0.1 3.5h0m0.1-1.6h0m0.6 0h0m0.7-1.9h0m0.1 0.1h0m1.2 2.4h0m1.4-0.8h0m0.9 0.4h0m0.8-1.8h0m0-0.1h0m0.2 2.1h0m0.7-0.8h0m0.1-1.5h0m0.2 0.8h0m0.1 0.2h0m0.7 2.8h0m-1.8 2h0m-0.8 0.8h0m-0.2-0.9h0m-0.2-0.8h0m0 0.5h0m0 1.5h0m-0.1 0.8h0m-0.5 0.1h0m-0.5-3.4h0m-0.5-0.5h0m0 0.6h0m-0.2 1.6h0m-0.4-1.7h0m-0.6 1.1h0m-0.2 1.5h0m-0.5-0.6h0m0 0.3h0m-0.5-1.6h0m-0.2 1.4h0m-0.1 1.1h0m-0.1-0.4h0m-0.7-1.1h0m0 1.3h0m-0.1-0.7h0m-0.2-2.8h0m-0.2 2.1h0m0 1.1h0m-0.1-0.7h0m-0.2 1.2h0m-0.2-0.3h0m-0.5-3.4h0m-0.2 1.4h0m-1.6 0.1h0m0-1.5h0m-0.7 2h0m-0.2-2h0m-0.6 2.2h0m0 0.6h0m-0.2-2.8h0m-0.1 0h0m-0.4 1.6h0m0 1.7h0m-0.7 0h0m-0.1-1h0m-0.3-1.6h0m-0.2 1.4h0m-0.2 1.4h0m-0.4-0.2h0m-0.2-1.5h0m-0.2-1.1h0m0-0.6h0m-0.3 0.4h0m-0.2 1.4h0m-2.1-0.6h0m-0.2-0.5h0m-0.2 1.6h0m-1.9-2.5h0m-0.6 3.5h0m0-1.4h0m-0.5 0.5h0m-0.7 0.6h0m-0.1 0h0m-0.1-2.1h0m0 1.4h0m-0.2-1.4h0m0 2.3h0m-1.6-3.4h0m-1.8 0.1h0m-0.1 1.3h0m-0.3 1.5h0m-0.3-2.1h0m0 1.1h0m-0.2-0.5h0m-0.1 2.5h0m-0.2-1.7h0m-0.2-1.8h0m-0.3 1.7h0m0-2h0m-0.7 1.6h0m-0.1 1.3h0m-0.1 0.2h0m-0.1-3.1h0m-0.3 3.2h0m-0.6 0h0m-0.1-2.3h0m-0.1 1.1h0m-0.1-2h0m-0.3 3.7h0m-0.3-2.7h0m-0.5 2.2h0m-0.7-1.1h0m-0.2 0.6h0m-0.6 0.4h0m-0.3-3.2h0m0 2.8h0m-0.6 0.2h0m-0.1 0.4h0m-0.4-1.9h0m-0.2 1.2h0m-0.1-1.1h0m-1.4 0.1h0m-0.9 2h0m-0.1-1.6h0m-0.4-0.6h0m-0.3-0.1h0m-0.3 2.3h0m-0.3 0.1h0m-0.2-2h0m-0.1-1h0m-0.1 3.1h0m-0.9-3.1h0m-0.8 1.7h0m-0.2-1h0m-0.3 0.9h0m-0.4-0.1h0m-0.4-0.4h0m-0.5 1.5h0m-1 0h0m-0.1-0.2h0m-0.8 0.6h0m-0.2-1h0m-0.5 0h0m-0.3 0.6h0m0-1.8h0m-0.2 1.5h0m-0.9-2.7h0m-0.5 3.5h0m-0.7-0.8h0m-0.4 0.7h0m-0.7-3h0m0.6 3.2h0m0.2 2.2h0m0.8-0.5h0m0.5-1.6h0m0 2.5h0m2.1-1.1h0m0.1 2.5h0m0-0.7h0m0.1 0.5h0m0.3-0.6h0m0.1-0.3h0m0.6-0.8h0m0.6 0h0m0-1h0m0.2 0.2h0m0.7 1.3h0m0 0h0m0.1-1.1h0m0.4 0.9h0m0.5-1.7h0m0.2 2.3h0m0.8-2.5h0m0.3 0.9h0m0.3 0.3h0m1.1-0.9h0m0 1.3h0m0.4 1.4h0m0.2-2.1h0m0 0.3h0m0.3 1.4h0m0.4 0.4h0m0.4 0.1h0m1.2-1.6h0m0-1.1h0m0.1 0.1h0m0 0.8h0m0-0.8h0m0.2 0.9h0m0.1 0.9h0m0.7 0.4h0m0.3-2.5h0m0.6 2.2h0m0.2-2.6h0m0 0.7h0m0.9 2.9h0m0.2-2.9h0m0.1 2.2h0m0.2 0.3h0m0.4-2.9h0m0.5 1.4h0m0.1-0.4h0m0.3 1.5h0m0.3-0.1h0m0.5 0.6h0m0.4 0.2h0m0.4-1.4h0m0.5-1.4h0m0.7 2.3h0m0.6-0.3h0m0.1-0.3h0m0.2 0.8h0m0.4-0.8h0m0.2 0.2h0m0.9-2.3h0m0.1 2h0m1 0.5h0m0.2 0.4h0m0.1-2.1h0m0 0.8h0m0.6-2.1h0m0 3.7h0m0.5-1.8h0m0.1 1.8h0m0.2-0.2h0m0.2-3.2h0m0.4 1.4h0m0-0.4h0m0.4-0.2h0m0.5 1.2h0m0.1-0.4h0m0.5-0.9h0m1.8 0.1h0m0.8 0.4h0m0.2 1.6h0m0.7-0.7h0m0.1-2.2h0m0.2 0.3h0m0.1 2.6h0m0.1 0.6h0m0.3-2.8h0m0.3 2.3h0m0.2-0.2h0m0.2-0.3h0m0.1 0.8h0m0.1-0.9h0m0.1 0.7h0m0.3 0.5h0m0.2-2.1h0m0.8 0.3h0m0.4-2h0m0.2 1.6h0m0.6 1.6h0m0.2-2.9h0m0-0.2h0m2.1 1.6h0m0.3-0.1h0m0.4 1.8h0m0.3-2.7h0m0.2 1.4h0m0.3 1.4h0m0-2h0m0-0.5h0m0 2.3h0m0.1 0.6h0m0.3-3.3h0m0.6 0.6h0m0.2 0.9h0m0.1 0.7h0m0.5-2.2h0m0.8-0.5h0m0.3 1.2h0m0.1-0.5h0m0.2 2.6h0m0.1-1.6h0m0.2 1h0m0.2-2.2h0m0 1.5h0m0.3-1.6h0m0.2 2.5h0m1 0.2h0m0.7 0h0m1-0.3h0m0-1.5h0m0.7-0.5h0m2.1 0.4h0m-2.4 6.3h0m-0.3-1.2h0m-0.1-2.4h0m-0.8 2h0m-0.1-0.8h0m-0.6-0.6h0m-0.3 1.7h0m-0.1 1.5h0m-0.5-2h0m-0.2-0.4h0m-0.5 1.1h0m-0.5-0.9h0m-0.4 1.1h0m-0.4-1.2h0m-0.1 0.7h0m0-2.3h0m-0.5 1.5h0m0 2h0m-0.2-1.5h0m-0.5-0.7h0m-0.2-0.3h0m-0.4 0.5h0m-0.1-1.2h0m-0.3 3.3h0m0-0.2h0m-0.4-0.1h0m-0.2-0.6h0m-0.1 0.1h0m-0.1-1.9h0m-0.4 1.7h0m-0.5-1.9h0m-0.1 2.2h0m-0.4 0.2h0m0-1.2h0m-0.8-0.7h0m-0.3 0.4h0m-0.5-0.5h0m-0.5-0.3h0m-0.3 0.1h0m-0.1 0h0m-1 1.9h0m-0.3 0.7h0m-0.1-2h0m-1.6-1h0m-0.5 2.7h0m-0.5-0.5h0m-0.4-2h0m0 0.1h0m-0.3 3.1h0m-1.1-1.3h0m-0.4-1.8h0m0 1.6h0m-0.1-2.1h0m-0.5 1.1h0m0 0.1h0m-0.3 1.5h0m-0.2-2.9h0m-0.2 0.8h0m-0.1 2.7h0m-0.2-3h0m-0.1 2.6h0m-0.1-3h0m-0.1-0.2h0m-0.4 2.2h0m-0.1-0.2h0m-0.7-1.7h0m-0.6 2.9h0m0-0.3h0m-0.3-2.8h0m-0.2 2.3h0m-0.1 0h0m-0.4-2.2h0m-0.3 2.4h0m-0.3 0.8h0m-0.3 0.5h0m-0.2-0.2h0m-0.3-3h0m-0.1 1.6h0m-0.4 0.1h0m-0.3-0.5h0m-0.3-1.2h0m-1.6 3h0m0-1.1h0m-0.6-1.3h0m-0.1 1.6h0m-0.3-2.8h0m-0.1 0.9h0m-0.1 1h0m-0.8 0h0m-0.1 0.3h0m0-0.7h0m-0.4-1.4h0m-0.7 0.1h0m0 1.1h0m-0.1-0.7h0m-0.6 1.7h0m-0.1-2.2h0m-0.3 0h0m-0.6 1.2h0m-1.4 0.5h0m-0.5-1.3h0m-0.9 2.7h0m-1.6-0.9h0m0 0.6h0m-0.3-3h0m-0.3 0.8h0m-0.6 2.1h0m-0.2-0.5h0m-0.3-0.9h0m-0.2 2.3h0m-0.5-1.4h0m-0.1 1.5h0m-0.1-2.7h0m0 2.5h0m-0.8-2.6h0m-0.4 1h0m-0.6 1.3h0m-1-1.4h0m-0.5-0.2h0m0 1.7h0m-0.7-3.4h0m-0.3 2.8h0m-0.2-0.1h0m0 1h0m0-0.3h0m0 0h0m-0.1-2.6h0m-0.3 1.6h0m-0.4-0.7h0m-0.1 0.2h0m-0.3-0.7h0m-0.3-1h0m-0.4 3.3h0m0-1.7h0m-0.5-1.3h0m-0.1 1h0m-0.1-0.8h0m-0.2 3.2h0m3.9 2.8h0m0.3-2.7h0m0.7 0.3h0m0.1 0.5h0m0.9-0.1h0m0.1-0.5h0m1 3.2h0m0.3-3.1h0m0.4-0.1h0m0.2 1.6h0m0.8 0.8h0m1 0.9h0m0.1-0.2h0m0.3-1.2h0m0.3 0.9h0m0-2.3h0m0.1 2.9h0m0.4-2.9h0m0.1-0.5h0m0.2 1.6h0m0.1 0.9h0m1.4 0.2h0m0.9 0.2h0m0.2-1.9h0m0.6-0.8h0m0.3 0.7h0m0.8 1.6h0m0.1 0.5h0m0.7-3.2h0m0.7 2.3h0m0.2 0.4h0m1.1-1.4h0m0.2-0.5h0m0.3 1h0m0.1 0.2h0m0.1-0.8h0m0.2 0.9h0m0.3-0.7h0m0.3 0.4h0m0.1-0.7h0m0.3 1.5h0m1.2 1h0m0-2.4h0m0.3-0.6h0m0.2 1.5h0m0.3 1.6h0m0.2-3h0m0-0.1h0m0.4-0.2h0m0.2 0.4h0m0.1 1.9h0m1 0.9h0m1.4-3.4h0m0.2 0.8h0m0.1-0.4h0m0.2 1.9h0m0.3-1h0m0.3 1.6h0m0.1-1.3h0m0 1.4h0m0.5 0.2h0m0.2 0.1h0m0.5-2.2h0m0.1-0.3h0m0.4 2h0m0.1-2.3h0m0.4-0.4h0m0 2.7h0m0.1-0.9h0m0.3-2h0m0 0.5h0m0.1 3h0m0 0.2h0m0-2.5h0m0.1 1.5h0m2-1.7h0m0.2 2.3h0m0.2-1.4h0m0.8 0.4h0m0.1-1.8h0m0.4 3.2h0m0.1-3.6h0m0.1 1.6h0m0.2 1.1h0m0.9 0.5h0m1.5 0.3h0m0.5-3.1h0m0.1-0.5h0m0.7 0.3h0m0.2 1.2h0m0.5 1.9h0m0.6-0.3h0m0.4-2.6h0m0.7 2h0m0.1 0.4h0m0.2-2.4h0m0.2-0.4h0m0-0.2h0m1.2 1h0m0.5 0.9h0m0.3-1.9h0m0.3 0.3h0m0.3 1.5h0m0.2-0.6h0m0.2 0h0m1.3-0.5h0m-10 4.6h0m-0.9 0.2h0m-0.6-1.3h0m-0.5-0.2h0m-0.3 0h0m-0.8 1.3h0m-1.2 0.6h0m-0.1-0.1h0m-0.6 0h0m-0.8-1.8h0m-0.3 1.3h0m-0.4 0.2h0m-0.2 0.2h0m-0.7-1.6h0m-0.1 1.1h0m-0.8-0.9h0m-1.2 0.5h0m-1-0.4h0m-2.8-0.1h0m-0.3 1.1h0m-0.2-1.3h0m-1.1 0.3h0m-1.1 1.5h0m-0.2-0.2h0m-0.1-1.8h0m0 1.4h0m0 0.4h0m-1.4 0h0m-0.7-1.3h0m-1.4 0.5h0m-0.8 1h0m-0.8 0.1h0m-1.3-0.5h0m-0.4-0.6h0m-0.2-0.8h0m-0.2 0.6h0m-0.1 0.5h0m-0.9 0.6h0m-1.2-1.1h0m-1.4-0.7h0m-0.1 0.4h0" stroke="#aaaaaa" stroke-width="3.2" stroke-linecap="round" fill="none"/>
<path d="M341.5 297h0m-12.5 49.6h0m4.8 8.8h0m-8.3 13.2h0m13.8 4.3h0m-5.5 6h0m3.1 0.7h0m-6.7 2.8h0m6 4.8h0m1.9 2.1h0m-0.6-0.3h0m-2.1 1.7h0m-1.5-2.3h0m-0.6 3.5h0m-0.2-2h0m-0.9-1.6h0m-3.4 5.3h0m0.9-0.5h0m8.9-0.8h0m0.6 6.5h0m-0.1-1.8h0m-2.1 0.1h0m-2.6 1h0m-4.1 0.9h0m-0.8-1.7h0m-1.9-0.9h0m-12.2 2.1h0m13.1 2.9h0m0.4 2.2h0m2.4-3h0m2 0h0m0.4 0.5h0m0.9 1.7h0m0.8-2h0m1.3-0.5h0m2.9 4.3h0m-7.5 2.4h0m-1.8-1.8h0m-1-0.2h0m-2 4.7h0m1.9-0.5h0m0.3 2h0m3.9-0.4h0m7.3 4.5h0m-1.5-2.3h0m-0.5 2.8h0m-0.2-3.4h0m-3.1 0h0m-3.1 1.7h0m0-2h0m0 2.3h0m2.5 1.7h0m0.7 0.7h0m0.4 1.8h0m2-0.5h0m4.1-1h0m-0.6 3.4h0m-5.6-0.2h0m-4.8 0.3h0m-3.1 1.2h0" stroke="#008c00" stroke-width="3.2" stroke-linecap="round" fill="none"/>
<path d="M418.1 323.1h0m17.5 4.3h0m-30.1 25.9h0m18.6 21.5h0m-18.6 8.1h0m-9.6-0.9h0m-1.2 12.4h0m6.5 0.4h0m0.7 0.1h0m5.5-0.5h0m-10.3 4.6h0m0 1.4h0m11.9 1.2h0m5.5 5.2h0m-4.7-2.8h0m-5.5 3.6h0m-2-1.7h0m-2.8 0h0m-2.9-0.8h0m-0.7 1.3h0m-1.3 1h0m-0.1 3.7h0m0.9 0h0m6.5-0.1h0m0 1.3h0m-1.2 1.4h0m-1.2-0.9h0m-1.2 0.7h0m-2.7 2.4h0m5.1 1.9h0" stroke="#ff1400" stroke-width="3.2" stroke-linecap="round" fill="none"/>
<text x="311.1" y="366.7" font-size="8.4" fill="#111" stroke="#111" stroke-width="0.22" textLength="23.4" lengthAdjust="spacingAndGlyphs">MYL6B</text>
<text x="287.2" y="371.5" font-size="8.4" fill="#111" stroke="#111" stroke-width="0.22" textLength="19.6" lengthAdjust="spacingAndGlyphs">TNNI1</text>
<text x="288.4" y="385" font-size="8.4" fill="#111" stroke="#111" stroke-width="0.22" textLength="17.9" lengthAdjust="spacingAndGlyphs">MYL4</text>
<text x="292" y="400.8" font-size="8.4" fill="#111" stroke="#111" stroke-width="0.22" textLength="20.3" lengthAdjust="spacingAndGlyphs">MYH3</text>
<text x="289.6" y="410.4" font-size="8.4" fill="#111" stroke="#111" stroke-width="0.22" textLength="22" lengthAdjust="spacingAndGlyphs">TNNT1</text>
<text x="292" y="419.2" font-size="8.4" fill="#111" stroke="#111" stroke-width="0.22" textLength="22.7" lengthAdjust="spacingAndGlyphs">TNNT3</text>
<text x="439" y="314" font-size="8.4" fill="#111" stroke="#111" stroke-width="0.22" textLength="21" lengthAdjust="spacingAndGlyphs">MAN1</text>
<text x="397.1" y="338.7" font-size="8.4" fill="#111" stroke="#111" stroke-width="0.22" textLength="19.8" lengthAdjust="spacingAndGlyphs">LATS1</text>
<text x="436.1" y="368.3" font-size="8.4" fill="#111" stroke="#111" stroke-width="0.22" textLength="22" lengthAdjust="spacingAndGlyphs">MMP2</text>
<text x="399.5" y="377.5" font-size="8.4" fill="#111" stroke="#111" stroke-width="0.22" textLength="19.1" lengthAdjust="spacingAndGlyphs">MSLN</text>
<text x="426.5" y="391.8" font-size="8.4" fill="#111" stroke="#111" stroke-width="0.22" textLength="26.3" lengthAdjust="spacingAndGlyphs">HMGN1</text>
<text x="422.7" y="420" font-size="8.4" fill="#111" stroke="#111" stroke-width="0.22" textLength="23.9" lengthAdjust="spacingAndGlyphs">ARM10</text>
<path d="M321.1 367.6L327.4 380.9" stroke="#111" stroke-width="1.1"/>
<path d="M330.2 386.7L324.7 382.2L330.2 379.6Z" fill="#111"/>
<path d="M305.1 372.4L323.6 383.8" stroke="#111" stroke-width="1.1"/>
<path d="M329 387.2L322 386.4L325.1 381.3Z" fill="#111"/>
<path d="M307.5 382.4L320.7 387.4" stroke="#111" stroke-width="1.1"/>
<path d="M326.7 389.6L319.7 390.2L321.8 384.5Z" fill="#111"/>
<path d="M313.5 396.8L326.2 395.5" stroke="#111" stroke-width="1.1"/>
<path d="M332.6 394.9L326.5 398.5L325.9 392.5Z" fill="#111"/>
<path d="M314.7 405.9L332.6 399.1" stroke="#111" stroke-width="1.1"/>
<path d="M338.6 396.8L333.7 401.9L331.6 396.3Z" fill="#111"/>
<path d="M318.3 416.4L327 411.5" stroke="#111" stroke-width="1.1"/>
<path d="M332.6 408.3L328.5 414.1L325.6 408.8Z" fill="#111"/>
<path d="M443.7 315.9L441.1 318.9" stroke="#111" stroke-width="1.1"/>
<path d="M437 323.8L438.9 317L443.4 320.9Z" fill="#111"/>
<path d="M405.9 340.6L405.8 343.7" stroke="#111" stroke-width="1.1"/>
<path d="M405.5 350.1L402.8 343.6L408.8 343.8Z" fill="#111"/>
<path d="M435.4 366.9L431.8 369.3" stroke="#111" stroke-width="1.1"/>
<path d="M426.5 372.9L430.1 366.8L433.5 371.8Z" fill="#111"/>
<path d="M403.5 380L401.3 387.7" stroke="#111" stroke-width="1.1"/>
<path d="M399.5 393.9L398.4 386.9L404.2 388.6Z" fill="#111"/>
<path d="M427 394.4L418 398.5" stroke="#111" stroke-width="1.1"/>
<path d="M412.2 401.1L416.8 395.7L419.3 401.2Z" fill="#111"/>
<path d="M429.9 413.1L423.6 409.8" stroke="#111" stroke-width="1.1"/>
<path d="M417.9 406.8L425 407.1L422.2 412.4Z" fill="#111"/>
<g stroke="#000" stroke-width="1.75" fill="none">
<path d="M509.3 262.6V428.7H672.1"/>
<path d="M509.3 428.7h-5.2M509.3 406.6h-5.2M509.3 384.4h-5.2M509.3 362.3h-5.2M509.3 340.1h-5.2M509.3 318h-5.2M509.3 295.9h-5.2M509.3 273.7h-5.2M509.3 428.7v5.6M550 428.7v5.6M590.7 428.7v5.6M631.4 428.7v5.6M672.1 428.7v5.6"/>
</g>
<text x="502.3" y="432.5" font-size="10.5" font-weight="bold" text-anchor="end">0</text>
<text x="502.3" y="410.4" font-size="10.5" font-weight="bold" text-anchor="end">2</text>
<text x="502.3" y="388.2" font-size="10.5" font-weight="bold" text-anchor="end">4</text>
<text x="502.3" y="366.1" font-size="10.5" font-weight="bold" text-anchor="end">6</text>
<text x="502.3" y="343.9" font-size="10.5" font-weight="bold" text-anchor="end">8</text>
<text x="502.3" y="321.8" font-size="10.5" font-weight="bold" text-anchor="end">10</text>
<text x="502.3" y="299.7" font-size="10.5" font-weight="bold" text-anchor="end">12</text>
<text x="502.3" y="277.5" font-size="10.5" font-weight="bold" text-anchor="end">14</text>
<text x="509" y="445.5" font-size="10.5" font-weight="bold" text-anchor="middle">-4</text>
<text x="549.7" y="445.5" font-size="10.5" font-weight="bold" text-anchor="middle">-2</text>
<text x="590.7" y="445.5" font-size="10.5" font-weight="bold" text-anchor="middle">0</text>
<text x="631.4" y="445.5" font-size="10.5" font-weight="bold" text-anchor="middle">2</text>
<text x="672.1" y="445.5" font-size="10.5" font-weight="bold" text-anchor="middle">4</text>
<text x="591" y="458.5" font-size="10.4" font-weight="bold" text-anchor="middle">Log2FC</text>
<text transform="translate(485.7,345.7) rotate(-90)" font-size="10.5" font-weight="bold" text-anchor="middle">-log2 Pvalue</text>
<text x="597.2" y="252.3" font-size="15" font-weight="bold" text-anchor="middle">Day 4</text>
<path d="M597.4 281h0m0 12.3h0m-0.8 10.6h0m-10.8 3h0m1.2 0.5h0m12.8 1.9h0m-6.6 0.5h0m-10.2 5.4h0m12.4-1.7h0m9.4 4.7h0m-7.5-0.4h0m-1.2-0.6h0m-9.7 3.5h0m13.8 5.3h0m-0.2 1h0m-2.2-1.7h0m-0.6 2.2h0m-0.6-2.5h0m-17.7 1.1h0m0 5.4h0m5.2 0.1h0m8.8-1.7h0m4-0.5h0m1.7 0.3h0m1.5 0.6h0m-3.2 4.4h0m-0.4-0.6h0m-0.5-1.4h0m-2.3 1.7h0m-0.3 1.5h0m-0.4 3.6h0m0-0.8h0m1.3 0h0m0-2.2h0m3.6 0.3h0m2.3 1.3h0m0.3 1.3h0m0.3-2.3h0m0.4 4.3h0m-0.3-0.5h0m-0.5-0.6h0m-2.4 3h0m0-0.2h0m-0.3-0.9h0m-0.7 0.4h0m-0.3 1.1h0m-0.1-1.4h0m-2.4-2h0m-0.6 2.4h0m-12.8 2.8h0m1.9 0.1h0m4 0.7h0m5.9-0.3h0m0.2 0.4h0m0.3 0.8h0m1.1-1.8h0m0.8 0.4h0m0.2 1.4h0m0.2-1.8h0m1.8 2h0m0.2-1.3h0m1.8 1.6h0m0.2-3h0m2.7 3.2h0m1.5 0.4h0m-2.3 3.3h0m-0.5-1.6h0m-0.4 1.8h0m-1.8-1.4h0m-0.5-1.1h0m-0.2 2.5h0m-0.5-2.5h0m-0.2-1h0m-0.1 3.2h0m-0.7-0.7h0m-0.2-2.1h0m-1.5 1.8h0m-1 0.1h0m-0.3-1.2h0m-14.9 5.2h0m9.9-0.8h0m4-0.3h0m0.2 0.8h0m0.4-0.5h0m0.3 1.5h0m0.4-3.2h0m0.2 3.1h0m0.5-1.8h0m0.3-0.5h0m0.4 0.4h0m0.1-0.2h0m0.6 1.9h0m0.5-0.9h0m0.2 0.7h0m0.3-0.6h0m1-0.6h0m0 1.7h0m0.8-0.5h0m1.2 0.9h0m0.3-3.5h0m0.4 1.1h0m0.8 2h0m0.1-0.4h0m1.7-0.5h0m0-1.6h0m1.4 0.9h0m0.4 1.2h0m-3.5 3.3h0m-0.8-1.2h0m-0.5-0.7h0m-0.4 1.1h0m-0.3 0.1h0m-0.5 0.7h0m-0.4-1.4h0m-0.1-0.3h0m-0.4 2.5h0m-0.4-3h0m-0.7 2.5h0m-0.6 1.1h0m-0.1-1.3h0m-0.1-1.7h0m-0.5 2.7h0m-0.5-1.6h0m-0.5 0.2h0m-0.7 0.9h0m-0.1-0.4h0m-0.1-0.2h0m-0.1 1.1h0m-1.4-0.8h0m-5.3-0.9h0m-0.4-0.5h0m-5.9 2.9h0m-2.2 2.8h0m0.3-1.9h0m1-0.8h0m0.5 3.4h0m4.8-3.1h0m0.2 2.9h0m0.7-2.8h0m6 2.7h0m0.6-0.4h0m0.1-2.1h0m0.3 2h0m1.5-1.9h0m0.2 0.4h0m1.1 0.8h0m0.3 1.2h0m0.4-2.1h0m0.3 0.8h0m0.4-1.4h0m0.1 2.1h0m0.7 1h0m1.1-2.5h0m0.3 2.3h0m0.6-0.1h0m0 0.4h0m0.1-3.6h0m0.3 2.2h0m1.1-1.4h0m0.3 0.4h0m0.2 2.3h0m0-0.7h0m0.6-1.8h0m0.1 1.8h0m0.1-0.3h0m0.2 0.9h0m0-1.7h0m0.1-0.7h0m1.2 2.8h0m5-1.5h0m-3 2.4h0m-1.5 2.2h0m0-2.3h0m-0.4 0.6h0m-0.9 0.5h0m-0.5-0.9h0m-0.6 0.3h0m-0.7-0.8h0m-0.6-0.4h0m-0.5 3.8h0m-1.2-3h0m-0.7 0.1h0m-0.3 0h0m-0.1 1.3h0m-0.6 1.2h0m-0.1-1.3h0m-2.4 1.2h0m-0.3-0.4h0m-0.5 0.9h0m-1-0.9h0m-0.2-2.5h0m-0.2 3h0m-0.1 0.2h0m0-3.5h0m-0.3 0.7h0m0 1.9h0m-0.3-2.4h0m-0.3 1.7h0m-6.9 0.1h0m-1.3-1.4h0m-0.1-0.4h0m-0.7 0.3h0m-0.8-0.1h0m0 0h0m-0.4 2.9h0m-0.4 0.2h0m-1.1-1.2h0m-4.8 1.5h0m-4.9 0.1h0m6 3.7h0m1.8-1.7h0m0.7 0.1h0m0.2 0.7h0m0.2-2.5h0m0.9 1.2h0m4.3-0.6h0m1.3 2h0m0.2-0.2h0m1.8-2.4h0m4.5 1.4h0m0.1-1h0m1 3h0m0.3-2.2h0m0.1 2.1h0m0.1 0.1h0m0.3-2.8h0m0.6 0h0m0-0.2h0m0.4 2.4h0m0.1-2.1h0m0.1 1.8h0m0.3-0.7h0m0-1.1h0m0.7 2.7h0m0.3-0.6h0m0.1-2h0m0.5-0.8h0m0.2 0.4h0m0-0.3h0m1.7 1.6h0m0.2 0.5h0m0.3-1.5h0m0.2 1.1h0m0.1-1.5h0m0-0.1h0m1.1 2.5h0m0.1-1.1h0m0.1 0.5h0m0.8 1.1h0m0.3 0.1h0m0.3-1.1h0m0 0h0m0.2-2h0m1 1.1h0m0.6-0.1h0m0.1-1.4h0m0.8 3.7h0m1.2-1.4h0m1.8 3h0m-1.4-0.9h0m-0.7 0.5h0m-1.2 2.4h0m0 0.1h0m-0.4-2.8h0m-1.2 1.8h0m0-0.8h0m-0.8 0.8h0m-1.3 0.8h0m-0.9-0.4h0m0-2h0m-1.1 2.2h0m0-0.4h0m-0.1-0.8h0m-0.1-1.3h0m-0.4 2.3h0m-1.5-0.2h0m-0.1-0.8h0m-0.3-0.1h0m0 1.8h0m-0.5-0.9h0m-0.6 0.9h0m-0.3-1.9h0m-0.4 0.3h0m-0.6 0.1h0m-0.2 1.1h0m-0.1-2.5h0m0-0.3h0m-0.1 0.7h0m-0.2 2h0m-0.2-1h0m-0.4 0.6h0m-0.9-0.5h0m-0.1 0.6h0m-0.2 0.5h0m-0.5-2.1h0m-3.2-0.3h0m-0.6 0.9h0m-1.2-0.1h0m-0.2 0.5h0m-1.1 0h0m-0.6 0.4h0m-0.8-1.7h0m-0.3-0.5h0m-0.3-0.3h0m-3.4 1.5h0m-0.5 0.3h0m-0.1 1.3h0m-0.4-1h0m-0.1 0.5h0m-1.3 0.3h0m-2.6 0.2h0m-2.6-2.5h0m-2.2 3.6h0m2.2 3h0m0.8-0.9h0m0.4 0.6h0m0.4-0.3h0m0.1-2.4h0m0.7 2.1h0m0.2-0.3h0m0.3 0.9h0m0.1-0.5h0m0.2-1.4h0m0 2.7h0m0.4-0.4h0m0.2-3.4h0m0.5 1.9h0m0.2 0.7h0m2-2.3h0m0.5 2.2h0m0.2 0.7h0m0.5-1.2h0m0.4 1h0m0.1 0.9h0m0.1-1.7h0m1.8-0.2h0m4.4 0.7h0m1.2-0.9h0m0 1.5h0m0.1-1.9h0m3.6-0.6h0m0.3 0.6h0m0.7-0.1h0m0.6 2.5h0m0.4-1h0m0.2-1.6h0m1.2 2.6h0m1-0.8h0m0.3-0.4h0m0-0.4h0m0.2-0.8h0m0.1-1.2h0m0.3 2.5h0m2.5 0.1h0m0.8 0.6h0m0.4-1.8h0m0.4 1h0m0.1-1.7h0m0.3 1.5h0m0.5 0.3h0m0.2-0.8h0m0.8 0.9h0m0.9-1.5h0m0.4 0.7h0m0.1-1.9h0m0.3 1.8h0m0.2 0.7h0m0.3 0.1h0m0.3 0.2h0m0.3-1.7h0m1.1 0.4h0m0.3-0.8h0m0.2 1.1h0m0.5 1.2h0m1.4 0.1h0m1.1 2.2h0m0-0.5h0m-1.1 0.9h0m-0.9-1.2h0m-1 1.5h0m-2.4-1.3h0m-2 3h0m-0.1-0.8h0m-0.1 0.4h0m-0.2-0.2h0m-0.1-1.6h0m-0.2-0.5h0m0-0.4h0m-0.1 3.2h0m-0.1-3h0m-0.6 1.6h0m-0.1 0.2h0m-0.4-1.8h0m-1.1-0.1h0m-0.4-0.2h0m-0.6 3.3h0m-0.1-3.8h0m-1.1 2.4h0m-0.2-2.3h0m-0.2 3.8h0m-0.2-1.8h0m-0.4 0.1h0m-1.1 0.3h0m-0.3 1h0m-0.2-2.9h0m0-0.5h0m-0.2 0.4h0m-0.2 1.5h0m-0.7-0.2h0m-0.7-1.2h0m-0.7 2.7h0m-0.7 0.5h0m-0.1-2.8h0m0-0.6h0m-3 2.6h0m-1.1-1.1h0m-0.3-1.1h0m-1 2.8h0m-0.1-0.9h0m-0.3-0.7h0m-0.1-1.2h0m-0.2 0.8h0m-0.2-0.6h0m-0.3-0.5h0m-0.6 2.7h0m-0.3-0.3h0m-0.2 0.8h0m-1.5-0.2h0m-0.2-2.1h0m0 2.2h0m-0.9 0.2h0m-0.3-1.5h0m-0.2 0.7h0m-0.6-2.6h0m-0.5 3.4h0m-2.1-2h0m-0.6 0.2h0m-1.6 0.3h0m0-0.5h0m-0.7-1.3h0m-1.1 0.4h0m0 1.4h0m-1.9 1.4h0m-0.8-2h0m-0.1-0.3h0m-0.1 2.5h0m-1.1-2.9h0m-0.2 0.7h0m1.5 5.1h0m1.9-2.7h0m0.6 2h0m0.7 1.1h0m0.7-3.2h0m1 1h0m0.1-0.8h0m0.9 2.4h0m0.2-2.4h0m0.2 1.3h0m0.6 1h0m0.5-2.3h0m0.7 2.1h0m0.5 1.4h0m1.4-0.4h0m0.1-2.6h0m2.1 1.9h0m0.8 0h0m0.5 1.1h0m0.1-2.6h0m0.4 2.2h0m0.4-0.4h0m0.5 0.6h0m0-0.7h0m0.1-0.6h0m0.5 0.3h0m0.3-0.1h0m1.1-1h0m0-1.3h0m0.2 2.6h0m0.5 0.1h0m0.1-2.2h0m0.1 1.9h0m3-0.8h0m0.9-1.1h0m0.3 2.5h0m0.4-1.1h0m0.3-1.5h0m0.1 1h0m0.5 0.6h0m0.5 1.1h0m0.2-0.1h0m0.1 0.1h0m0.2-0.9h0m0.2 0.8h0m0.3-0.1h0m0.2-0.5h0m0-2.2h0m0.5 2h0m0.2 0.2h0m0.8-1h0m0.1-0.8h0m0.2-0.5h0m0.8 0.3h0m1.3 2.5h0m0-1.4h0m0-0.5h0m0.8 1.4h0m0.4 1.1h0m0.7-2.2h0m0 0.2h0m0.1-0.4h0m0 0.3h0m0.4 0.9h0m0.9 0.8h0m0.2 0h0m0.4-0.5h0m0.3 0.3h0m2.1 0.3h0m0.3-0.7h0m0.4 0.9h0m0.7-0.9h0m0.8-1.3h0m0.4 1.8h0m0.9-2.1h0m1 2.4h0m0.5-3.1h0m0.3 4.5h0m-0.1 2.1h0m-3.7-2.4h0m-0.3 0.7h0m-0.3 0.9h0m-1-1h0m-0.9-0.2h0m-0.5 2.4h0m-0.2 0.3h0m-0.1-0.4h0m-0.1-0.3h0m-0.4-2.2h0m-0.2 2.5h0m-0.9-2.9h0m0 2.5h0m-0.1-1.4h0m0 0.8h0m-0.5 0h0m-0.1-0.5h0m-0.9-1.2h0m0 0.6h0m-0.1 0.4h0m-0.4 0.1h0m-0.4 1.5h0m-0.3-2.2h0m-1.1 2.7h0m-0.4-3.7h0m-0.9 1.2h0m-0.2 1.4h0m-1.3 1.1h0m-0.9-2.3h0m-0.3 2.4h0m-0.6-2.2h0m-0.4-1.5h0m-0.5 2h0m-0.6-1h0m-0.2-0.8h0m-0.2 0h0m-0.4 1.6h0m-0.1 1.1h0m-3.9 0.8h0m-0.7-1.9h0m-0.7 0.3h0m-0.6 1.7h0m-0.4 0.1h0m-0.8-2.3h0m0 1h0m-0.2-1.9h0m-0.2 3.1h0m0-2h0m0 1h0m-0.1-2.3h0m-1.1 1.2h0m-0.2-0.3h0m-0.4 1.9h0m-0.4-1.6h0m-0.4 0.5h0m-0.3 1.2h0m-0.7-0.7h0m-0.5 0.4h0m-0.2-0.9h0m-0.1-1.5h0m-0.1 2.4h0m-0.2-0.1h0m-1.2-2.5h0m-0.1 0.7h0m-0.1 1.7h0m0-2.2h0m0 1.8h0m-0.5 0.2h0m-1.2-2.6h0m-0.2 3h0m-0.3 0.3h0m-0.1-2.7h0m-0.1 0.7h0m-0.4-1.3h0m-0.1 1.8h0m-0.4 1h0m-0.7-1.5h0m-0.8 1.7h0m-1.1-1.1h0m-1 0.5h0m-0.5 1h0m-1.4-1.2h0m-0.3-1h0m-1 2.7h0m0.2 1.5h0m0 1.5h0m0.2-1.6h0m0.2-0.7h0m0 0.4h0m0.5-1.1h0m0.2 3.2h0m0.8 0.3h0m0.4-0.6h0m0.7-2.2h0m0.6 0.1h0m1.9-0.6h0m0.7 0.8h0m2.2 1.8h0m0.1 0.9h0m0.1-1.8h0m0.5 1.1h0m0.2-1.7h0m0.1 2.1h0m0.2-1h0m0.1 0.6h0m0-0.7h0m0.1-1.3h0m0.1 2.2h0m1.1-1.9h0m0 0.5h0m0.2-0.7h0m0.3 1.3h0m0.2-0.1h0m0.3-2.2h0m1.4 1.8h0m0.4-0.3h0m0.2-1.4h0m0.1 3.4h0m0-0.9h0m0.8 0.2h0m1.2-1h0m0.6-1.2h0m0.7-0.4h0m0.2 0.7h0m0.3 0.3h0m0.1 1.1h0m0.3-1.5h0m0 1.6h0m0.3-0.1h0m0.1-0.9h0m0.4 0.1h0m0.5-1h0m0.2 1.5h0m0.2 1.1h0m3.3 0.6h0m0.1-2.4h0m0.3 0.4h0m0.1-1.8h0m0.5 3.4h0m0.4-3.5h0m0 0.3h0m1.1 3h0m0.5-0.9h0m0.1-1.8h0m0.1 0.5h0m0.1 2.9h0m1.1-4h0m0.1 2.4h0m0-0.7h0m0.6 0.1h0m0.2-0.4h0m0.2 1.3h0m0.4 0.4h0m0.3-2.3h0m0.6 0.7h0m0.2 2.1h0m0.1-0.5h0m1.2-0.5h0m1.7-1.2h0m0.7 1.2h0m0.3-1.5h0m1.6-0.6h0m1.9 3h0m0.2-2h0m0.1 1.2h0m1.1-0.1h0m2.1 0.9h0m0.3-1.9h0m1.2-1.6h0m0.5 2.9h0m0.6-1.5h0m0.1 0h0m0.4 1.4h0m0.8 4.7h0m-1.5 0.2h0m-0.7-1.9h0m-0.6-1.1h0m-1.4 1.5h0m0-1.6h0m-0.7 0.5h0m-0.4 0.2h0m-0.5 2.2h0m-0.5-1.1h0m-1.7 0.2h0m-1-0.3h0m-0.3-0.2h0m-0.4 1.9h0m0-1.4h0m-1.5-0.6h0m-0.3-0.6h0m-0.2-1.2h0m-0.2 3.5h0m-0.3-2.1h0m-0.9-1.3h0m-0.3 0.8h0m-1.7 0.6h0m-0.2 1.5h0m-0.1-2.8h0m-0.1 2.5h0m-0.2-0.9h0m-0.7-0.8h0m0 2.6h0m-0.1-1.4h0m0-1.3h0m-0.1 0.8h0m0 0.6h0m0-1.1h0m-0.3 2.4h0m-1.9-1.1h0m-0.1 0.2h0m-0.1 0h0m-0.4-0.9h0m-0.3 1.5h0m-0.3-1.5h0m-0.6-0.8h0m-0.3 0.9h0m-0.4 1.4h0m-0.4 0.5h0m-2.9-3.2h0m-0.1 2h0m-0.9-1.8h0m-0.2-1h0m-0.3 1.8h0m-0.1 1.6h0m-1.2 0.6h0m-0.4-3.2h0m0 1.1h0m-0.4 1.8h0m-0.6-2.3h0m-0.2-0.1h0m-0.2 1h0m0 1.7h0m-0.1-1.2h0m0 0.8h0m-0.4-0.9h0m-0.4-0.4h0m-0.7-2h0m-0.3 1.5h0m-0.2-0.9h0m-0.5 0.4h0m-0.4-0.2h0m0 1.8h0m-0.3-1.1h0m0-1.7h0m-0.6 3.3h0m-0.6 0.6h0m-0.3-3.2h0m0 1.7h0m0 1h0m-0.6 0.3h0m-0.4 0h0m-0.2-1.8h0m-0.2 0.1h0m-0.6-1.9h0m-0.3 3h0m-0.7-1.3h0m-0.1-1.3h0m-0.4 1.1h0m-0.2 0.7h0m0-1.8h0m-0.4 1h0m-0.4-0.2h0m-0.2 2.2h0m-0.3 0.1h0m-0.3-2.6h0m-0.6-0.6h0m0 1.2h0m-0.4 2.1h0m-0.2-3.2h0m-1.4 1.8h0m-0.7-0.8h0m-0.4-1.5h0m-0.1 0.9h0m-0.6-0.9h0m-0.8 1.6h0m-1.9-1.4h0m-0.4 3.5h0m-3.2 1.2h0m5.5 2.1h0m0.5-1.4h0m0.8-0.1h0m0 1.1h0m0.1-2.1h0m0.6 2.8h0m0.6-0.5h0m0-2.3h0m0.8 0.7h0m0.4-0.5h0m1.4 3.1h0m1.3-3.3h0m0.3-0.1h0m0.2 2.2h0m0.3-1.3h0m0.2 1.4h0m0.7-2.6h0m0.6-0.1h0m0 3.4h0m0.1-3.1h0m0.9 1.3h0m0.7 1.6h0m0.3-2h0m0.3 1h0m1.5-0.7h0m0 1.4h0m0.6-2.3h0m0.8 3.2h0m0.1-2.1h0m0 0.5h0m0.7-1h0m0.7-1h0m0.6 2.3h0m0.4 0.7h0m0-0.2h0m0-1.4h0m0.6-1.5h0m0.3 2.8h0m0.2-2.5h0m0.8-0.1h0m0.3 0.6h0m0.1 2.1h0m0.3-2.5h0m0 2.1h0m1.1-0.6h0m0.2 1.6h0m2.4-0.4h0m0-0.6h0m0.2-2.5h0m0.5 0h0m0.1 3.1h0m0 0.4h0m0.4-2.9h0m0.5 0.1h0m0.3-0.6h0m0.6 3.3h0m0.1-2.5h0m0.2 0.1h0m0.1-0.4h0m0.2-0.6h0m0.4 1.3h0m0.2-0.2h0m0.7-1.2h0m0.5 2.4h0m0.5 0.7h0m0.4-0.4h0m0.6-1.4h0m0.3-1.2h0m0.2 3.1h0m0-2.7h0m0.4 0h0m0.2-0.3h0m0.1 0.7h0m0.9-0.5h0m0.4 1.1h0m0.6-0.3h0m0.7 1.9h0m0.4-1.4h0m0.5 1.7h0m0.1-2.7h0m0.4 2.2h0m0.4-2.1h0m0.1 2.3h0m0.2 0.6h0m1.2-3.2h0m0.6 3h0m0-0.3h0m0.4-2.3h0m0.5 2.2h0m0.7-1h0m0.3 1h0m2-0.3h0m0.4-1.4h0m0.7 2.1h0m0.3-2.6h0m0 1.6h0m0.5 1.2h0m0.3-2.3h0m0.1 1.4h0m3.2 4.3h0m-0.9-2.2h0m-0.7 2.3h0m-0.1-0.4h0m-0.5-0.5h0m-1.2-0.4h0m-0.5-0.5h0m-0.5-0.2h0m-0.3-0.1h0m0 1.3h0m-0.1-1.3h0m-1 2.5h0m-0.1-2.1h0m-0.1 1.2h0m-0.5-0.7h0m0 1h0m-0.1-2.2h0m-0.7 2.1h0m-0.2-2h0m-0.2 0h0m-0.7 1.1h0m-0.6-0.9h0m-0.6 2.8h0m-0.5-0.1h0m-0.2-2.8h0m-0.1-0.7h0m-0.4 1.4h0m-0.5 0.1h0m-0.2 0.1h0m-0.6-0.2h0m-0.2-1.7h0m-0.7 0.1h0m-0.4 1.5h0m-0.1-0.4h0m-0.1 1.4h0m-0.1 0h0m-0.3-0.5h0m-0.4-0.2h0m-0.1 1.5h0m-0.8-2.1h0m-0.1-1.4h0m0 2.2h0m-0.3-1.2h0m-0.1 3h0m-1-1.7h0m0-1.1h0m-0.2 2.1h0m-0.5-2h0m-0.4 1.1h0m-0.1-0.3h0m-0.2 1.2h0m-0.3-2.2h0m-0.8 0.3h0m0 2.6h0m-0.1-0.8h0m-0.1-1.6h0m-0.2 2.3h0m-1-2.1h0m-0.2-1.3h0m0 1h0m-0.3-0.9h0m-0.4 2.5h0m0-2.5h0m0-0.4h0m-0.1 1.8h0m-0.2 1.1h0m-0.1-0.3h0m0 0.4h0m0-1.5h0m-0.2 2.1h0m-0.3-3.8h0m0 1.5h0m-0.3 2h0m-0.1-1.4h0m-0.1 1.6h0m-3.1-0.5h0m-1.4 0.5h0m-0.1-1.6h0m-1-0.5h0m-0.2-0.4h0m-0.2 0.5h0m-0.1-0.2h0m-0.2-0.9h0m-0.7 0.8h0m-0.5 1.3h0m-0.3-1.7h0m-0.1 2h0m-0.1-1h0m-0.9-0.2h0m-0.3-1.5h0m-0.2 3.3h0m0-2.8h0m-0.2 3.1h0m-0.2-0.1h0m-0.2-2.5h0m-1.2 2.1h0m-0.3 0.2h0m-0.8-2.8h0m-0.1 1.7h0m-0.1-1.7h0m-0.3 1.2h0m-0.1-0.5h0m-0.2 0.9h0m-0.1-0.7h0m-0.4-0.7h0m-0.1 2h0m0-0.9h0m-0.7-0.2h0m-0.3 0.1h0m-0.2-1.6h0m-0.1-0.1h0m-1.3 0.4h0m-0.6 2.3h0m-0.4-1.6h0m-0.4-0.2h0m-1 2.6h0m-0.9-2.4h0m-0.2-1.3h0m-0.3 0.7h0m-0.4 2.5h0m-1-2.8h0m-0.6-0.3h0m-1.5 1.8h0m-0.9-1.3h0m-1.9 0.4h0m-0.2 3.2h0m0.3 2.1h0m1.5-0.7h0m1-0.1h0m0-0.5h0m0.9 2.4h0m0.5-0.7h0m1-1.3h0m0.3 2.1h0m0.6-3h0m0.2 2h0m0.1-2.3h0m0.3 3.1h0m0.8-2.9h0m0.8 1.9h0m0.7-1h0m0.1 0.7h0m0.5 1.5h0m0-0.1h0m0.1-1.4h0m0.1-1.5h0m1.6 0.9h0m0.3-0.3h0m0.1 2.3h0m0-1.4h0m0.4-1.6h0m0.6 0.4h0m0.2 2.8h0m0.8-2.3h0m0.6 2.3h0m0.5-0.2h0m0.3-2.9h0m0.9-0.2h0m0 1.1h0m0.4-1h0m0.6 3.4h0m0.6-3.7h0m0 2.1h0m0.4-0.4h0m0.2 0.4h0m0.2-0.2h0m0.4-0.5h0m0.6 1.6h0m0.1-1.2h0m0.7-1.9h0m0.3 2h0m0.7 0.4h0m0.3-2h0m0.8 2.7h0m0.5-1.3h0m0.1-0.9h0m0.3-0.4h0m0-0.1h0m0.8 2.6h0m1.7 0.5h0m0.2-2.5h0m0.1 0.3h0m0.8 1.4h0m0.6-1.4h0m0.1 0.8h0m0.7-0.6h0m0.1-0.4h0m0.4 1.9h0m0.4-0.2h0m0.1-1.5h0m0.4-0.5h0m0.7 1.3h0m0.1 1h0m0.1-2.3h0m0.4 0.1h0m0.7-0.5h0m1.7 2h0m1.2-0.9h0m0 0.5h0m1.2 0.6h0m0.1 1.3h0m1.3-3.8h0m0.5 2.5h0m0.6-1.6h0m0.9-1h0m0.2 1.6h0m0.1-0.2h0m0.2-0.2h0m0-0.4h0m0.4-0.5h0m0.2 2.6h0m0.2-1.2h0m0-1.6h0m0.2 2.3h0m0.1-1h0m0.1 1.1h0m0.1 0.1h0m0.2-1.8h0m0 1h0m0.9 1.6h0m1.3-2.8h0m0 2.1h0m0.1-0.2h0m0.4-2.4h0m0.1 2.8h0m0.6-1.7h0m1.3 2.6h0m0.8-1.8h0m0.1 1.2h0m1.4 0h0m-0.3 1.9h0m0 1.1h0m-0.1-2h0m-0.5 3.4h0m-0.3-0.7h0m0-0.7h0m-0.9-1.6h0m-0.3-0.1h0m-0.3 2.1h0m-0.2-1.9h0m-0.2-0.3h0m-0.1 1.1h0m-0.2 0.4h0m-0.2-0.7h0m-0.5 0.4h0m-0.6-0.5h0m-0.2 1.2h0m-0.3-2.1h0m-0.3 0h0m0 2h0m-0.4-1.7h0m-0.6 3h0m0-3.3h0m-0.6 2.7h0m-0.7 0.3h0m0 0h0m0-0.9h0m-1.4 0.4h0m-0.6-2.6h0m-0.1 2.8h0m-0.1-2.9h0m-0.4 3.1h0m-0.8 0.4h0m-0.1-3.3h0m-0.1 0.4h0m-0.8-0.4h0m-0.3 0.3h0m-0.1 0.4h0m-0.1 1.6h0m-0.4-2h0m-0.1 0.2h0m-0.2 3.1h0m-0.2-2h0m-0.3 0.8h0m-1-1.1h0m-0.2-1h0m0 1.4h0m0-1.7h0m-0.1 0.5h0m-1.7 2h0m-1-0.8h0m0 0.1h0m0-0.6h0m-0.4 1.4h0m0-0.8h0m-0.7-1.4h0m0 2.8h0m0-2.9h0m-0.1 1.5h0m0 0.8h0m-0.2-0.4h0m-0.1-1.3h0m-0.4-1h0m-3 2.1h0m-0.2 0.9h0m-0.3-1.5h0m-1.3 0.7h0m-0.1-1.8h0m0 1.4h0m-0.1 0.3h0m-0.1 0.4h0m-0.1-0.9h0m0-0.7h0m0 0.3h0m-0.6-0.5h0m-0.8 2.7h0m-0.9-0.1h0m-0.4-2.9h0m-0.2 1.9h0m-0.2-0.5h0m0 0.2h0m-0.4-1.8h0m-0.5 1.2h0m0 2.4h0m-0.2-3.9h0m-0.2 2.2h0m-1-1.1h0m-0.7 1.7h0m0-2.7h0m-0.1 3.7h0m-0.1-3h0m-0.1 2.9h0m-0.1-0.4h0m-0.2-1.4h0m-0.3 0.8h0m-0.4-2.5h0m-0.6 0.7h0m-0.3-0.8h0m-0.1 2.6h0m-0.2-2.1h0m-0.2-0.3h0m-0.1 2.1h0m0-1.6h0m-0.5 1.2h0m-0.4-1.8h0m-1.5 2.6h0m-0.2-0.4h0m-0.3 0.7h0m-0.1 0.5h0m-0.5-0.8h0m-0.7 0.3h0m-0.1-0.7h0m-0.1-2.4h0m-0.5 0.5h0m-0.3 1h0m-0.5 2.3h0m0-2.7h0m-0.1 0.6h0m-0.6-0.5h0m-1.2 0.4h0m-0.1 0.8h0m-0.1-1.2h0m-0.6-0.9h0m-0.2 0h0m-0.9 3.1h0m0 0.4h0m-0.1-2.7h0m-0.8 1.7h0m-0.3-1.9h0m0 0h0m-0.5 2.2h0m-0.4 2.1h0m0.9 2.3h0m0.1-1.1h0m0.2-1.2h0m0.3-0.2h0m0.1 0.7h0m1.3 0.5h0m0.1 0.6h0m0.1 1.1h0m0-1.8h0m0.5-2.1h0m0.5 2.5h0m0.1 1.3h0m0.3-1.3h0m0 1.1h0m0.8-2.1h0m0.1 0.6h0m0.2-1.8h0m0.3-0.1h0m0.1-0.2h0m0.3 2.3h0m0.7-0.8h0m1 1.3h0m0.2 1.1h0m0.2-0.4h0m0-1.3h0m1.3-0.4h0m0.1-1.5h0m0.7 0.8h0m0.3 1.6h0m0.1-1.1h0m1 0h0m0.3 0.6h0m0 1.6h0m0.8-2.5h0m0.1-0.6h0m0.3 2.1h0m0.4 0.6h0m0 0.2h0m0.5 0.1h0m0.2-2.6h0m0.3 2.7h0m0.1-1.9h0m0.9-1.2h0m0-0.5h0m0.2-0.1h0m0.2 0.9h0m0.6 1.6h0m0.4 0.5h0m0.1-1.9h0m0.2-0.4h0m0.4 1.7h0m0.3-2.5h0m0.2 1.6h0m0.1 0.3h0m0.1-0.7h0m0.2-0.2h0m0.4 2.6h0m0.2-1h0m0.1-0.8h0m0.5 0.8h0m1-1.1h0m1.4 0.5h0m0 0h0m0.5-0.1h0m0.2-0.8h0m0.1-1.1h0m1.3 1.9h0m1.2 1.4h0m0.5-1.1h0m0.3 0.6h0m0.1-2.4h0m0.3 2.5h0m0.1 0.8h0m0-2.3h0m0.2 2.3h0m0.3-0.6h0m0.1 0.6h0m0.8-0.7h0m0.1-0.2h0m0.2-1.8h0m0.1 1.3h0m0.1 0.6h0m0.1-2.9h0m0.5 3.7h0m0-0.2h0m0.4-2.9h0m0.2 2h0m0-0.1h0m0.1-1.7h0m0.2 2.6h0m0.4-1.9h0m0.3-0.4h0m0.3 1.6h0m1-1.3h0m0 1.7h0m0 0.1h0m1.8-2.3h0m1.1 0.7h0m0.2 1.5h0m0.1-2.2h0m0.6 1.1h0m0.1 0h0m0.2 1.1h0m0.1-1.8h0m0 2.4h0m0.3-2.3h0m1.9 0.6h0m0.8-0.8h0m1 2h0m0.6-2h0m0.3 1.4h0m0.1 1.3h0m0.1-3h0m0 3h0m0.5-0.2h0m0-2.5h0m0.2-0.4h0m0.2 1.7h0m0.5 0.6h0m0.1-0.6h0m0 0.9h0m0.3-0.6h0m0-1.2h0m0.1-0.7h0m0.1 0h0m0.2 0.9h0m0.1-1.6h0m1.5 2.3h0m0.5 3.7h0m-0.3-1.8h0m-0.5 0.5h0m-0.2 2.3h0m-0.5 0h0m-0.2 0.6h0m-0.5-0.9h0m-0.3-1.1h0m0-1.7h0m-0.8 1h0m-0.8 2.5h0m-0.3-1h0m-0.2-1.3h0m-0.3 2.2h0m-0.1-1.2h0m-0.2 1.1h0m0-0.7h0m0-0.2h0m-0.2-0.1h0m0-0.6h0m-0.2-0.4h0m-0.1-0.7h0m-0.3-0.3h0m-0.1 0.2h0m-1 2h0m-0.1-2h0m-0.1-0.5h0m-0.6 3.5h0m-0.2-3.5h0m-0.3-0.2h0m-0.1 2.9h0m-0.6 0.4h0m-0.6-3.3h0m-0.2 1.1h0m-0.2-0.6h0m-0.2 2.7h0m0-1.5h0m-0.2 2.3h0m-0.2-3.1h0m-0.2 2.3h0m-0.2-2.4h0m-0.1 2.6h0m0-2.1h0m-0.7 1.9h0m-0.1-0.8h0m-0.5 0.8h0m-0.5-2.1h0m-1.3 2.3h0m-0.2-3.1h0m-0.3-0.2h0m-1.2 2.9h0m-0.1 0.6h0m-0.3-1.2h0m-1-2.3h0m-0.1 2.9h0m-0.9-1.6h0m0 1.9h0m-0.4-3h0m-0.3 3.6h0m-0.4-3.8h0m-0.1 1h0m0 1.4h0m-0.5-0.8h0m-0.3-0.4h0m0 1.6h0m-0.4-0.1h0m0-2.5h0m-0.3 1.7h0m-0.2-1.9h0m-0.6 3.7h0m0-3h0m-0.3 0.1h0m-0.1 0.1h0m-0.6 1.6h0m-1.2 0.9h0m-0.1-1.7h0m-0.9-0.6h0m-0.8 1.9h0m-0.3-1.4h0m-0.2 1.7h0m-0.5-0.6h0m-0.4-0.8h0m0 0.2h0m-0.4 0.4h0m0-1.7h0m-0.1-0.2h0m-0.2-0.4h0m-0.3 1h0m-0.4-0.7h0m-0.6 2.4h0m-0.2-1.8h0m-0.3-0.1h0m-0.2 1.2h0m-0.4-1.6h0m-0.4 0.6h0m-0.4 1.2h0m-0.5 1.5h0m-0.2-0.7h0m0 0.3h0m-0.1-1.8h0m-0.3-0.2h0m-0.2 1.7h0m-0.1-3h0m-1.4 2.3h0m0-2h0m-0.1 1.4h0m-0.7-1.8h0m-0.4 3.8h0m-0.4-2.4h0m0-0.1h0m-0.9-0.1h0m-0.4 1.3h0m-0.1 1.3h0m-0.5-1.7h0m-0.1-2h0m0 2.8h0m-0.1 0.2h0m-0.1-1.6h0m-0.5 0.5h0m-0.7-0.1h0m0 0.3h0m-0.2-1.1h0m-0.7 1.9h0m-0.1-2.2h0m-0.1-0.9h0m-1.2 0.3h0m-0.2 0h0m-0.8 0.5h0m-0.3 2h0m-0.4-1.2h0m-0.6-1h0m-0.6 1.5h0m-0.7 0h0m-0.2 0.1h0m-0.2-0.8h0m-0.1 0.5h0m-0.3-0.5h0m-0.5-0.4h0m3.4 3.8h0m0.2-0.6h0m0.3 0.5h0m0.1 0.5h0m1.2-1.1h0m0.7-0.2h0m0.5 2.1h0m0.1-1.8h0m0.2 2h0m1.3-1.2h0m0.2-0.6h0m0.5-0.4h0m0.3 1.3h0m0.3-1.4h0m0.2 0.8h0m0.5 1.1h0m0.3-0.9h0m0.3-0.8h0m0.6 1.7h0m1.2-0.7h0m0.1 0.1h0m0.4 2.5h0m0.3-3.6h0m0.6 2.8h0m0.2-2.1h0m0.8 2.4h0m0.4-1.1h0m0.5-1h0m0.1-1.2h0m0.1 0.8h0m0.6 0.3h0m0.3 2.2h0m0.3-2.2h0m0.1-0.6h0m0.1 1.1h0m0.3 0.4h0m0.5 0.2h0m0.4 0.4h0m0.3-1.8h0m0.4 2.7h0m0.1-0.2h0m0.8-1.9h0m0.5 1.3h0m0.6-1.4h0m0.2 1h0m0.7 0h0m0.5-0.2h0m0-1.5h0m0.5 1.5h0m0-2.1h0m0.6 2.7h0m0.3 0.2h0m0-0.3h0m0.7-2.5h0m1.2 0.4h0m0.1 3h0m0-2.6h0m0.1 0.4h0m0.6 1.4h0m0.2-2.3h0m0.1 3h0m0.6-2.1h0m0.3 0.9h0m0.7 1.4h0m0.6-3.1h0m0.1 1h0m0.3 0.5h0m0.6-0.9h0m0.2 0.1h0m0.3-0.5h0m0.1-0.3h0m0.1 2.7h0m0-2.6h0m0.1 0.8h0m0.5 1.5h0m0.1-1.6h0m1.1 2.4h0m0 0.3h0m0-1.9h0m0-1.3h0m0.4 2.8h0m0.6-3.5h0m0.3 2.4h0m0.2 0.8h0m0.7-2h0m0.2 2.7h0m0.6-2.2h0m0.1-0.1h0m0.8 0.4h0m0.2-1.6h0m0.3 1.1h0m0.1 1.6h0m0.1-0.6h0m0.2-0.2h0m0.1 0.6h0m0.3-0.7h0m0.2 0.4h0m0.9-2.1h0m0.1-0.1h0m0.4 1.7h0m1-0.7h0m0.5-1.2h0m1.8 0.4h0m-12.1 3.5h0m-0.9 0.1h0m-6 0.5h0m-5.6-0.1h0m-0.1-0.4h0m-4.8-0.2h0" stroke="#aaaaaa" stroke-width="3.2" stroke-linecap="round" fill="none"/>
<path d="M559.7 295h0m3.9 57.9h0m3 7.4h0m-17.3 3.7h0m12.8 6.2h0m1.5 12.5h0m-40.1 4.5h0m23.9 0.5h0m10.5-0.6h0m4.4 0.7h0m4.5 1.7h0m-1.4 1.7h0m-1.6-0.5h0m-1.3-0.4h0m-3.3-1.7h0m-1.3 0.3h0m-2.4 1.7h0m-8.6 1.2h0m-2.5-2.4h0m13.9 3.9h0m0.8 1.5h0m2.4-0.1h0m5.3-0.5h0m0.4 1.3h0m0.3-2h0m-4.1 4.7h0m-1-2.2h0m-1.1 3.9h0m-2-2.6h0m-3.4 2.4h0m-1.5 0.1h0m-5.6 0.7h0m4.7 2.7h0m3.5-0.6h0m0 1.2h0m2.3-1.9h0m1.5 0.5h0m0.4-2.2h0m2 3.8h0m1.7-1.9h0m-0.1 2h0m-1.2 1.3h0m-1.5 0.5h0m-7.9-0.6h0m-0.8 1.7h0m-13.9 0.9h0m18.9 1.5h0m7.6 1.9h0m-8.5 4.1h0m-1.1-1.1h0m-2.1 0.3h0m-6.9-0.6h0m4.9 4.2h0m6.1-1h0m0.9-0.6h0m6.1 0.3h0" stroke="#008c00" stroke-width="3.2" stroke-linecap="round" fill="none"/>
<path d="M623.2 281.7h0m-2.5 73.9h0m15.5 8.7h0m23.2 12.8h0m-33.8 4.2h0m-1.7 1.4h0m6.7 1.8h0m-12.3 8.1h0m6.1 1.7h0m-7.9 3.7h0m5 2.5h0m16.5-0.5h0m8.1 0h0m-10.6 4.2h0m0 2.4h0m-4.9 0.8h0m-10.6-3.2h0m-3 2.4h0m2 3.7h0m18.2 1.3h0m-14 0.7h0m-6.7 0h0m0 2.5h0" stroke="#ff1400" stroke-width="3.2" stroke-linecap="round" fill="none"/>
<text x="535.8" y="325" font-size="8.4" fill="#111" stroke="#111" stroke-width="0.22" textLength="19.7" lengthAdjust="spacingAndGlyphs">MYH3</text>
<text x="555.5" y="340.7" font-size="8.4" fill="#111" stroke="#111" stroke-width="0.22" textLength="18" lengthAdjust="spacingAndGlyphs">MYL1</text>
<text x="524.2" y="353.5" font-size="8.4" fill="#111" stroke="#111" stroke-width="0.22" textLength="19.7" lengthAdjust="spacingAndGlyphs">TNNI2</text>
<text x="515.3" y="371" font-size="8.4" fill="#111" stroke="#111" stroke-width="0.22" textLength="22.2" lengthAdjust="spacingAndGlyphs">TNNT1</text>
<text x="511.9" y="397.2" font-size="8.4" fill="#111" stroke="#111" stroke-width="0.22" textLength="21.4" lengthAdjust="spacingAndGlyphs">TNNT2</text>
<text x="511.9" y="406.3" font-size="8.4" fill="#111" stroke="#111" stroke-width="0.22" textLength="22.2" lengthAdjust="spacingAndGlyphs">TNNT3</text>
<text x="521.7" y="417.9" font-size="8.4" fill="#111" stroke="#111" stroke-width="0.22" textLength="18.3" lengthAdjust="spacingAndGlyphs">MYL4</text>
<text x="516.8" y="426.9" font-size="8.4" fill="#111" stroke="#111" stroke-width="0.22" textLength="22.2" lengthAdjust="spacingAndGlyphs">MYMK</text>
<text x="644.6" y="285" font-size="8.4" fill="#111" stroke="#111" stroke-width="0.22" textLength="21.7" lengthAdjust="spacingAndGlyphs">CSK2B</text>
<text x="643.6" y="348.5" font-size="8.4" fill="#111" stroke="#111" stroke-width="0.22" textLength="16.5" lengthAdjust="spacingAndGlyphs">CLN5</text>
<text x="666.8" y="362" font-size="8.4" fill="#111" stroke="#111" stroke-width="0.22" textLength="20" lengthAdjust="spacingAndGlyphs">LATS1</text>
<text x="638.7" y="392.8" font-size="8.4" fill="#111" stroke="#111" stroke-width="0.22" textLength="24.6" lengthAdjust="spacingAndGlyphs">ARM10</text>
<path d="M546.9 326.6L556.3 392.9" stroke="#111" stroke-width="1.1"/>
<path d="M557.2 399.2L553.3 393.3L559.3 392.4Z" fill="#111"/>
<path d="M567.8 341.8L563.5 391.6" stroke="#111" stroke-width="1.1"/>
<path d="M562.9 398L560.5 391.4L566.4 391.9Z" fill="#111"/>
<path d="M536.5 354.9L553 394.1" stroke="#111" stroke-width="1.1"/>
<path d="M555.5 400L550.3 395.3L555.8 392.9Z" fill="#111"/>
<path d="M529.6 373.4L537.8 383.3" stroke="#111" stroke-width="1.1"/>
<path d="M541.9 388.2L535.5 385.2L540.1 381.4Z" fill="#111"/>
<path d="M534.1 394.3L551.7 397.9" stroke="#111" stroke-width="1.1"/>
<path d="M558 399.2L551.1 400.9L552.3 395Z" fill="#111"/>
<path d="M535 403.4L554 405.3" stroke="#111" stroke-width="1.1"/>
<path d="M560.4 405.9L553.7 408.3L554.3 402.3Z" fill="#111"/>
<path d="M540.7 414L554.3 409.4" stroke="#111" stroke-width="1.1"/>
<path d="M560.4 407.4L555.3 412.3L553.4 406.6Z" fill="#111"/>
<path d="M539.5 422.6L555 412.6" stroke="#111" stroke-width="1.1"/>
<path d="M560.4 409.1L556.7 415.1L553.4 410.1Z" fill="#111"/>
<path d="M642.9 281.7L633.8 281.7" stroke="#111" stroke-width="1.1"/>
<path d="M627.4 281.7L633.8 278.7L633.8 284.7Z" fill="#111"/>
<path d="M649.5 351.7L643.8 357.2" stroke="#111" stroke-width="1.1"/>
<path d="M639.2 361.6L641.7 355L645.9 359.3Z" fill="#111"/>
<path d="M672.4 363.5L667.1 368.9" stroke="#111" stroke-width="1.1"/>
<path d="M662.6 373.4L665 366.7L669.2 371Z" fill="#111"/>
<path d="M646.1 394.3L630.9 399.6" stroke="#111" stroke-width="1.1"/>
<path d="M624.9 401.7L630 396.8L631.9 402.4Z" fill="#111"/>
<g stroke="#000" stroke-width="1.75" fill="none">
<path d="M282.3 490.9V657H445.1"/>
<path d="M282.3 657h-5.2M282.3 634.9h-5.2M282.3 612.7h-5.2M282.3 590.6h-5.2M282.3 568.4h-5.2M282.3 546.3h-5.2M282.3 524.2h-5.2M282.3 502h-5.2M282.3 657v5.6M323 657v5.6M363.7 657v5.6M404.4 657v5.6M445.1 657v5.6"/>
</g>
<text x="275.3" y="660.8" font-size="10.5" font-weight="bold" text-anchor="end">0</text>
<text x="275.3" y="638.7" font-size="10.5" font-weight="bold" text-anchor="end">2</text>
<text x="275.3" y="616.5" font-size="10.5" font-weight="bold" text-anchor="end">4</text>
<text x="275.3" y="594.4" font-size="10.5" font-weight="bold" text-anchor="end">6</text>
<text x="275.3" y="572.2" font-size="10.5" font-weight="bold" text-anchor="end">8</text>
<text x="275.3" y="550.1" font-size="10.5" font-weight="bold" text-anchor="end">10</text>
<text x="275.3" y="528" font-size="10.5" font-weight="bold" text-anchor="end">12</text>
<text x="275.3" y="505.8" font-size="10.5" font-weight="bold" text-anchor="end">14</text>
<text x="282" y="673.8" font-size="10.5" font-weight="bold" text-anchor="middle">-4</text>
<text x="322.7" y="673.8" font-size="10.5" font-weight="bold" text-anchor="middle">-2</text>
<text x="363.7" y="673.8" font-size="10.5" font-weight="bold" text-anchor="middle">0</text>
<text x="404.4" y="673.8" font-size="10.5" font-weight="bold" text-anchor="middle">2</text>
<text x="445.1" y="673.8" font-size="10.5" font-weight="bold" text-anchor="middle">4</text>
<text x="364" y="686.8" font-size="10.4" font-weight="bold" text-anchor="middle">Log2FC</text>
<text transform="translate(258.7,574) rotate(-90)" font-size="10.5" font-weight="bold" text-anchor="middle">-log2 Pvalue</text>
<text x="369" y="481.7" font-size="15" font-weight="bold" text-anchor="middle">Day 5</text>
<path d="M373.6 530h0m-17.2 15.5h0m11 0h0m-8.6 5.7h0m-12.5 4.8h0m0.1-1.5h0m2.4 1.4h0m1.4-0.6h0m19.2 0.1h0m8.5 1.5h0m-0.2 1.3h0m-7 1.5h0m-19.8-2.5h0m-2.7 1.5h0m10.1 4h0m14.1-1.7h0m4.4 0.1h0m2.4-0.1h0m15.3 6h0m-14.6-0.9h0m-1.6-0.5h0m-3.1 1.8h0m-1.5-1.7h0m-3.3-1.2h0m-9.3-0.3h0m-2 2.2h0m-12.9-0.7h0m2.9 4.1h0m3 2h0m0.4-1.7h0m0.9-1.7h0m1.3 0.8h0m2.3 0.2h0m12.7 2.1h0m11.2-3.4h0m6.2 0.9h0m-5.1 6.3h0m-10.4-0.2h0m-5.4-1.8h0m-10.4 2.3h0m-10.2 2.1h0m7.3-1.5h0m0.3 2h0m5.5-0.8h0m21.7 4.9h0m-2.7-1h0m-17.9 0.7h0m-6.4-1.5h0m-2.9 4.1h0m1.5 0.7h0m1 0.9h0m0.2-1.2h0m2 1.1h0m2 1.5h0m9.6-3.5h0m8.4 3.3h0m1.7-1.7h0m5.5 0.5h0m11.6 2.5h0m-8.8 1.9h0m-5.2-0.5h0m-7.4-1.2h0m-2.3 0.7h0m-2.9 1.1h0m-0.3-0.4h0m-6.9-1.8h0m-0.9 2.5h0m-0.2 0.3h0m-0.8-1.4h0m-1.7 1.9h0m-0.9-3.2h0m-0.3 0.6h0m-1.5 2.4h0m-0.6-0.3h0m-2.4 0.4h0m-0.4-0.1h0m-3.9 0.3h0m-3.9 2.2h0m8.1 1.1h0m1.1 0.7h0m0.2-3.9h0m1.1 2.6h0m1.7-0.2h0m2.3-0.8h0m0.1-0.5h0m0.9 2.9h0m0.1-2.5h0m0.8 0.5h0m0.5 0.2h0m0.4 0.4h0m6.6-2.4h0m1.3 1.1h0m3.7 1.2h0m0.1-1.9h0m0.5 0.4h0m0.6 1.3h0m1.2-0.9h0m0.9 1.9h0m2.3-2.2h0m11.9-0.7h0m-7.4 6.7h0m-1.7 0.7h0m-0.4-1.1h0m-0.2-2.2h0m-0.6 1.1h0m-0.8 0.1h0m-1.7-0.6h0m-0.2 2.4h0m-1 0.5h0m-1.4-2.4h0m-0.4 2.4h0m-1-1.7h0m-0.9 0.3h0m-0.5 0.9h0m-0.1-2.9h0m-0.3 2h0m-0.3-2.1h0m-1.4 2.7h0m-0.1-2.1h0m-0.9-1h0m-0.5 1.4h0m-0.7 0.5h0m-0.2 1.8h0m-6.6-1.6h0m-4.6-1.2h0m-1.5 0.1h0m-1 2.8h0m-0.5-3.5h0m-0.5 3.2h0m-0.2-1.6h0m-1.5 1.4h0m-0.2 0.1h0m-2.9-0.2h0m-1.7 0.3h0m-0.7-1.3h0m-0.3 0.1h0m-2.2 5h0m3-0.1h0m1.2-2.8h0m0.7-0.1h0m0 2.6h0m0.1-2h0m0.5 1h0m0-0.3h0m1-1.7h0m1.2 0.2h0m0.8 0.5h0m1.2 1.6h0m1.4 0.4h0m0.6-1.2h0m1.5 2.1h0m1.7 0.1h0m0.2-1.6h0m0.8 1.1h0m0.2-1.1h0m2.3-1.4h0m5.9 2.7h0m0.6 0h0m0-2h0m0.4-0.4h0m0.5 2.8h0m0.9-2.7h0m0.5 2.7h0m0.1-0.3h0m2.4 0.1h0m2.2-2.8h0m1.6 1.8h0m0.4-1.2h0m0.4-1h0m0.2 0.6h0m0.6 2.8h0m0.1-3.5h0m0.9 3.6h0m1.4-1.3h0m3 0.2h0m7.6-0.6h0m-2.2 2.7h0m-3.7 2.4h0m-1.5-2.2h0m-0.4 0.6h0m-0.1 0.6h0m-0.8-0.3h0m-0.5-0.9h0m-1.2 0.4h0m-2.5 1h0m-0.9-2h0m-0.5 0.4h0m-1.9 1.7h0m-2.1-2.6h0m-0.3 0.5h0m-0.3-0.1h0m-0.9 1.2h0m-0.2-1.5h0m-0.1 0.7h0m-0.2-0.5h0m-0.4 3.3h0m-0.6-1h0m0-0.6h0m-1.2 1.2h0m-1-2.1h0m-0.3 1.7h0m-0.2-0.8h0m-5.5-0.3h0m-0.1 0.7h0m-0.3 1.2h0m-0.5-2.9h0m-0.1 2.4h0m-2.4-0.2h0m-0.5 0.4h0m-0.1-3h0m-0.2 1.1h0m-0.8-0.6h0m-0.2 2.5h0m-0.2-0.4h0m-0.4-1.5h0m-0.1-1.2h0m-0.9 0.7h0m-0.9 1.3h0m-0.3 1.7h0m-0.5-2.3h0m-0.8-1.1h0m-0.7 2.5h0m-1.3-2.5h0m-0.4 0.1h0m-1.2 3.3h0m-0.2-0.7h0m-0.3-0.9h0m-0.8-0.1h0m-0.5-1.2h0m-0.3-0.8h0m-0.2 3.3h0m-0.9-0.1h0m-0.2-3.4h0m-0.6 1.7h0m-1.2-0.2h0m-0.7-1.1h0m-4.4 1.7h0m3.3 1.9h0m1.3 3h0m0.1-2.5h0m1.5 1.5h0m1.5 1.6h0m0.3-3.3h0m0.1-0.1h0m0.5 3.3h0m2.2-2.4h0m0.3 1.4h0m0.2-1.5h0m0.1 1.9h0m1-0.7h0m0.5 0.3h0m0.8-1.8h0m0.6 3h0m0.8-1.2h0m0.8-1.6h0m0.5 2.9h0m1-1.6h0m0.2-1.2h0m0-0.7h0m0.2 0.5h0m0.8 3.1h0m0.5-2.4h0m1 1.4h0m0.4-0.4h0m0.3 1.1h0m0.3-0.5h0m0.4-1.2h0m0.3-1.6h0m0.1 2.1h0m0-1.3h0m0.1 2.2h0m0.2-1.4h0m0.3 1.3h0m6.2-1.8h0m0.8 1.5h0m0-1h0m0.5 1.5h0m0.7-2.9h0m0.3 2.7h0m1-0.3h0m0.1-1.8h0m0.6 2.8h0m0.4-1.8h0m1.6 0.2h0m1.5-1.2h0m0.6 0.2h0m0.4 2.1h0m1.4-0.1h0m0.1 0.2h0m0.2-2.2h0m0.2 1h0m1.1-2.3h0m0.4 1.1h0m0.2 0h0m2.2 1.6h0m0.2-0.3h0m0-1.3h0m0.7 2.2h0m0.7 0.6h0m0.8-2h0m0.9 1.4h0m0.1-0.8h0m2.7 2.9h0m-0.8 0.2h0m-1.9 2.2h0m-0.3-2.2h0m-1.1-0.3h0m-0.7 2.6h0m-1.3-2.2h0m-0.8 1.1h0m-0.2 1.1h0m-0.4-3.6h0m-0.3 0.9h0m0-0.7h0m-1 2h0m-1.4 0.6h0m-1.1-2.3h0m-0.1-0.4h0m-0.2 1.3h0m-0.4-0.1h0m-0.5 1.8h0m-0.1-3.1h0m-0.3 1h0m-0.5-0.7h0m-0.1 1.8h0m-0.3-0.3h0m-2 1.3h0m-0.3-0.9h0m-0.6-0.3h0m-0.4 1.4h0m-0.9-1.6h0m0 0.5h0m-0.1 0.7h0m-0.2 0h0m-0.3-0.3h0m-0.5 0.1h0m0 0.8h0m-1.2-0.1h0m-0.4-0.2h0m0-2.7h0m-4.3-0.5h0m-0.3 1h0m-0.1-0.3h0m-0.7 2.7h0m-0.1-1.4h0m-0.8-1.5h0m-0.7 2.4h0m0-2h0m-0.4 1.4h0m-0.1-1.5h0m-0.1 2.2h0m-0.3-2.5h0m-0.2 2.2h0m-0.3 0h0m-0.4 0.7h0m-0.2-1.1h0m-0.3 1.2h0m-0.2-2.2h0m-0.3 1.5h0m-1.2-0.9h0m0 0.4h0m-0.2 1.4h0m-0.8-3.6h0m0 1.8h0m-0.3-1.1h0m-0.4 0.5h0m-0.1-0.3h0m-0.3 2.2h0m-0.3-2.2h0m-0.2 0.6h0m-0.4-1.2h0m-0.6 1.8h0m-0.7-0.2h0m-0.7 1h0m-0.1-2.9h0m-0.7 1.4h0m-1-0.2h0m-0.5-0.1h0m-0.9 2.1h0m-0.1 0.2h0m-0.1-0.2h0m-0.3-2.9h0m-0.4 3h0m0-0.2h0m-0.1-2.1h0m-2.3-1.2h0m-0.2 1.6h0m-2.5 1.9h0m-1.5-3.6h0m-4.1 2.3h0m2 3.8h0m0.9-0.4h0m0-0.3h0m0.9 2h0m0.2-2.4h0m1 0.6h0m1.3-0.4h0m0.9-0.8h0m0 0.3h0m1.2 2h0m0.2 0.7h0m0.6 0.2h0m0.1-2.7h0m0.2 2h0m1.2 0.1h0m0.2-2.9h0m0.5 0.8h0m0.1 1.5h0m1.7 0h0m1.1 0.4h0m0.3 0.5h0m0-0.4h0m0.4 0.6h0m0.1 0.2h0m0.5-0.8h0m0.1-2.6h0m1.5 0.5h0m0.5 1.3h0m1.6 1.8h0m0.2-3.1h0m0.8 0.1h0m1.3 1.1h0m0.3-0.6h0m0.5 1.4h0m0.1-0.1h0m0.5-2.5h0m0.5 0.8h0m0 0.8h0m0.3 1.8h0m0.2-1.7h0m0.1 1.7h0m0.3-0.3h0m0.6-3.3h0m0.1 0.3h0m0.9 2h0m0.2 1.3h0m0-0.9h0m0.3 0h0m0.2-1.4h0m5 0.4h0m1 0h0m0.3-0.9h0m0.3 3.1h0m0.1-3.6h0m0.3 1.8h0m0.3-0.3h0m0 1.3h0m0.1-1.1h0m0.1 1.1h0m1.5-0.4h0m0.1-1.1h0m1.4 1.8h0m0.4-2.2h0m0.5 0.3h0m0.4-1.3h0m0.2 0.6h0m0.7 2.9h0m0.5-0.5h0m0.6-3.2h0m0.2 1.2h0m0.2 1.8h0m0.1-2.8h0m0.6 1.2h0m0.2-1.5h0m0.2 2.6h0m1.1-1.2h0m0.5 0.6h0m0.4 1.4h0m0.3-1.8h0m0.1 1.1h0m1.5-2.7h0m0.6 3.8h0m0.1-0.2h0m0-2.5h0m0.3-0.3h0m0.3 1h0m0.3 2.1h0m0.3-3.8h0m0.3 0.7h0m0.4 1h0m0.3 0.4h0m0.4-0.2h0m1.9 0h0m0.1-1.9h0m1.2 1h0m2.6 4.3h0m-1.1-0.9h0m-2.7-0.1h0m-0.4 2.4h0m-0.5 1h0m-0.2-3h0m-0.9 2.7h0m-0.3-0.3h0m0 0.2h0m-1.4-2.7h0m-0.8 3.2h0m-0.3-1.7h0m0-1.6h0m-0.2 1.6h0m-0.3-1.3h0m-1.9 0h0m-0.4 2h0m-0.5 1h0m-1.1-2.8h0m-1.3 0.4h0m-0.6-1h0m-0.4 2.8h0m-0.5-2.7h0m-0.2-0.5h0m-0.2 2.3h0m-0.4 0.4h0m-0.1-0.6h0m-1.3-1.3h0m0-0.7h0m-0.3 0.4h0m-0.7 0.3h0m-0.1 2.2h0m-1.7 0.1h0m-0.5-0.7h0m-0.4-0.6h0m-0.7-0.6h0m-0.3 1.9h0m-0.1-0.9h0m-0.4-1.3h0m-0.5 2.1h0m-0.6-0.5h0m-4-1.5h0m-0.2 2.3h0m-0.7-2.3h0m-0.2-0.9h0m0 0.1h0m-0.5 2.8h0m0-2.8h0m-0.4 0.4h0m-0.2 1.6h0m0 1.5h0m-0.3-1.5h0m-0.3-0.5h0m-0.1 0.7h0m-0.2 1h0m-0.3-2.6h0m0 1h0m-0.4-1.6h0m-0.5 3.5h0m-0.7-1.5h0m-0.3-0.8h0m0-0.3h0m-0.2 1.6h0m-0.2-1.5h0m-0.3 1.4h0m-0.1-0.5h0m-0.6-0.3h0m-0.2 1h0m-0.3-2.7h0m-0.6 2.3h0m-0.1-2h0m-0.8 0.5h0m-0.1 2.9h0m-2-1.9h0m-0.1-1.1h0m-0.8 0.1h0m-0.2 2.2h0m-0.1-1.6h0m-0.2 0.6h0m-0.2 1.5h0m-2 0.2h0m-0.4-2.9h0m-0.1 3h0m-0.5-3.4h0m-0.3 0.4h0m-1-0.7h0m-0.3 2.7h0m-1.7 0.3h0m0-1.2h0m-0.3-1.2h0m-0.1 1.1h0m-0.3 0h0m-0.5-1.9h0m-1.4 1.3h0m-0.3 1.5h0m-0.7-1.9h0m-0.7-0.1h0m-0.9 2.3h0m-0.1-1h0m-0.7 1.5h0m-0.5-3.5h0m-1.3 3h0m1 1.2h0m2.8 2.8h0m0.4-1.1h0m0.6 1.7h0m0-0.7h0m0.2-0.2h0m0.3-2.7h0m0.1 2.3h0m0.8 0.4h0m0.3-2.2h0m0 2.8h0m1.3-1.1h0m0.1-1.5h0m1.2 0.8h0m0.2 0.1h0m0.3 1h0m0.1 1h0m0.5-0.5h0m0.1-2.6h0m0 3h0m0.1 0h0m1.1-2.1h0m1.6 1h0m1.8 1h0m0.2-1.1h0m0.4 0.9h0m1.2-3.3h0m0.3 1.6h0m0 1.5h0m0.1 0.2h0m0.5-3.1h0m0.6 3.4h0m0.2-2.6h0m0.6 0.5h0m0.3-0.4h0m2 1h0m0-0.9h0m0.7-1.2h0m0.1 1.8h0m0-1.7h0m0.1 2.7h0m0 0.5h0m0.9-3.2h0m0 0.1h0m0.6 0.6h0m0.1 0h0m0.5-0.7h0m1 2.4h0m0.3-1.2h0m0.6 1.7h0m4.6-0.2h0m0.1-1.9h0m0.2-0.5h0m0.2 1.4h0m0.4-0.5h0m0 1.1h0m0.2-1.4h0m0.2 1.6h0m0.3-1.2h0m0 0.8h0m0.2 1.5h0m1-3.5h0m0.4 3.2h0m0.2-2.8h0m0.8 0.2h0m0.1 0.4h0m0.1 0.1h0m0.6 0.7h0m0.6 1.6h0m1.2-3.1h0m0.1 1.5h0m0.8 0.8h0m1 0.9h0m0.7-2.6h0m0.1-0.9h0m0.2 1h0m0 1.3h0m0.2-1.2h0m0.8-1.2h0m0.7 2.2h0m0.4-1h0m0-0.5h0m0.2 0.7h0m0.1-0.1h0m0.9-1.4h0m1 0.3h0m0.7 3.4h0m0.1-1h0m0.4 0.6h0m0.2-3.4h0m0.7 3.5h0m0.2-2.3h0m0 1h0m0-1.3h0m0.7 1h0m0.7-1.3h0m0.1-0.4h0m0.2 3.1h0m0.1-3.2h0m0.6 2.2h0m0.8 0.5h0m0.2-0.4h0m0.9 0.9h0m0.2-1.3h0m0.5 1.5h0m0.3-2.7h0m0.2 1.9h0m0.2-0.6h0m0-1.1h0m0 2.6h0m0.5-2.3h0m0.4 1.5h0m0.3-2.8h0m0.5 1.2h0m1.2 1.7h0m1.6 3.1h0m-0.3-1.9h0m-1.6 0.6h0m-0.9 1.3h0m-0.1 0.7h0m-0.2 0.9h0m-0.5-2h0m-0.1-1.5h0m-0.3 3.8h0m-0.6-2.1h0m-1.3 1.4h0m-0.6-2.7h0m-0.6 0.7h0m-0.3 2.6h0m-0.2-0.6h0m-0.1 0h0m-0.2 0.1h0m-0.7-1.5h0m-0.8-0.7h0m-0.1-1.1h0m-0.7 3.6h0m0-2.4h0m-1.4-1.1h0m-0.3 2.2h0m-0.7 1.2h0m-0.9-1.8h0m-0.1-1.3h0m0 1.8h0m-0.8-1.4h0m-0.5-0.1h0m-0.2 0.6h0m0 0.8h0m-0.8 0h0m-1.8 0.8h0m-0.4-2.4h0m-0.1 3h0m-0.1-1.1h0m-0.9-0.7h0m-0.2 0.2h0m-0.1 1.7h0m-0.1 0h0m0-2.9h0m-0.1 1.8h0m-0.2-1.5h0m-0.3 1.3h0m-0.1 1.7h0m-0.2-3.8h0m-0.6 1.6h0m0-0.5h0m-0.4-1.1h0m-0.2 3.1h0m-0.4-3.2h0m-0.4 1h0m0 2.2h0m-0.2-1h0m-0.7 0.1h0m-0.3-2.1h0m-0.6 1.4h0m-1-1.3h0m-0.2 1.1h0m0-0.3h0m-0.2 1.3h0m-0.4 1.3h0m-0.4-1.9h0m-0.6 1.1h0m-0.1 0.4h0m-3.4-0.1h0m-1.1-1.9h0m-0.1 2.1h0m-0.5 0h0m-0.2-1.8h0m0 1.4h0m-0.3-2.4h0m0 2.2h0m-0.1-1.8h0m-0.1 0.7h0m-0.3 2h0m-0.1-3.3h0m-0.1 2.6h0m-0.6-1.9h0m-0.3 2.1h0m-1.6-3.2h0m-0.2 3.4h0m-0.1-1.8h0m-0.2-1h0m-0.3 2.6h0m-0.4 0h0m-0.8 0.4h0m-1-0.3h0m-0.1 0.5h0m-0.3-0.8h0m-0.4-2h0m0 2.2h0m-0.1 0.1h0m-0.4-0.8h0m-0.8-0.2h0m-0.5 1.2h0m-0.3-3.3h0m-0.3 2.1h0m-0.7 0.1h0m0 0.7h0m-1.2-1.3h0m-0.2-0.7h0m0 1.1h0m-0.1 1.1h0m-0.1-2.8h0m-0.6-0.5h0m0 0.3h0m-0.3 0.3h0m-0.1 0.1h0m0 1.1h0m-0.3-0.8h0m-0.3 1.2h0m-0.3 1.1h0m-0.8-2h0m-0.5 1.1h0m-0.2-1.2h0m-0.3 1.3h0m-0.7-2h0m-0.6 1.1h0m-0.6 2h0m-0.8-1.7h0m-1-0.4h0m-0.5 2.1h0m-0.2-3.5h0m-0.2 0.8h0m-0.6 2.6h0m-0.1-3h0m-0.2 2.7h0m-0.1-0.6h0m-0.5 0.6h0m-1.6-2.8h0m-0.1 1.3h0m-1.7-1.7h0m-1.8 3.2h0m0.9 3.3h0m0.3-2.3h0m1 0.2h0m0.4 0.2h0m0.2 0.2h0m0-0.1h0m0.2 2.5h0m0-2.1h0m0.3 2h0m0.3-2.4h0m0.3 2.5h0m0.4-2h0m0.1 1.8h0m1.7-1.1h0m0.2 0.3h0m0.5 0.1h0m0.1 0.6h0m0.2-1.1h0m0.9 2h0m0.3-1.5h0m0.1 0.9h0m0.9-1.5h0m0.1-1.7h0m0.4 2.8h0m0.1-0.5h0m0.2-0.9h0m1.2 0.4h0m0.1 0.2h0m1.1 0.3h0m0.6 0.6h0m0.1-2.1h0m0.1 1.1h0m0.1 1.9h0m0.9-1.7h0m1.9-0.1h0m0.1-1.4h0m0.7 1h0m0 0h0m0 1.5h0m0.3-2.7h0m0.3 2h0m0.1-0.8h0m0 1.5h0m0.5-1.8h0m0.7-1.2h0m1.5 3h0m0.7 0.4h0m0.3-1.3h0m0-1.1h0m0.2-0.3h0m0.2-0.7h0m0.6 1.7h0m0.8 0.9h0m1.2-1.4h0m0.4 1.4h0m0.1 0.1h0m0.1-2.9h0m0.2 0.5h0m0.4 0.6h0m0.3 2.4h0m0.3-2.4h0m0.1 1.7h0m0-2.8h0m0.6 3.9h0m0.2-1.4h0m0.2-1.2h0m0.7 0.9h0m0.9 0.2h0m0.6-2.3h0m0 2.2h0m0.2-1.1h0m0.1 2.1h0m0-2.3h0m0 2.3h0m1.2-0.1h0m0.9-2.9h0m0.4 0.9h0m0.1 0.7h0m0.6 1.7h0m0.4-0.7h0m0.1-1h0m0.2 0.5h0m0.3 0.7h0m0.6-0.2h0m0-0.3h0m0.5-1.5h0m0 1.8h0m0.2 0.3h0m0 0.3h0m0.3-0.9h0m0.7 1.3h0m0.2-1.4h0m0.2 1h0m1.4-0.3h0m0.4-1.3h0m1.5-1.5h0m0.2 1.4h0m0.1-0.2h0m0.2 0.3h0m0.2 1.8h0m0.5-0.4h0m0.1-0.4h0m0.1 0.8h0m0.2-1h0m0 0.7h0m0.1-1.8h0m0.2 1.3h0m0.3-2.6h0m0.1 3h0m0.3 0h0m1 0.2h0m0-2h0m0.4-0.9h0m0.4 3.2h0m0.1-0.9h0m0.1 0h0m0.6-2.9h0m0.2 1h0m0.5 1.1h0m0 0.9h0m0 0.6h0m0.1 0.3h0m0.7-1.6h0m0.5-1.8h0m0.8 3.4h0m0.3-2.5h0m0.4-0.9h0m0.2 2.3h0m1.5 0.2h0m0.2 0.3h0m0-1.6h0m0.1-0.1h0m0.7 1.9h0m0.8-2.8h0m1.9 0.3h0m0.1-0.8h0m0.1 1.2h0m0.1 2h0m0.4-1.1h0m0.2 0.1h0m0-1.6h0m0.2 2.3h0m0.3-0.6h0m0 0.2h0m0-2.2h0m0.9 0.9h0m0.4 1.3h0m0.4 1h0m0.7-2.7h0m0.2 1.1h0m0.1-1.9h0m0.4 0.5h0m1.4 0.8h0m0.6 0.8h0m0.3-1.8h0m0 1.3h0m0.2-0.6h0m0.1 1.9h0m0.3 3h0m-0.1-0.5h0m-0.9 0.5h0m0 1.2h0m-0.2 0.3h0m-0.5-3.4h0m-0.4 1.6h0m-0.3 2.1h0m0-0.9h0m-1.8-0.7h0m-0.2-0.7h0m0-0.1h0m-0.2-1.4h0m-0.1 3.7h0m-0.5-3.1h0m-0.2-0.4h0m-0.1-0.2h0m-0.5 0h0m-0.1 0.8h0m-0.1 0.4h0m-0.5 0.1h0m-0.2-0.3h0m-0.1 0.1h0m-0.3 2h0m0 0.6h0m-0.3-0.1h0m-0.7-1.1h0m-0.3 0.3h0m-0.2-0.3h0m-0.2 0.5h0m-0.2-1.9h0m-0.1-0.1h0m-0.8-0.3h0m-0.2 0.5h0m0 0h0m-0.5 1.1h0m-0.2-0.4h0m-0.7-0.1h0m-0.8 1.4h0m-0.7-2.3h0m-1.1 2.6h0m-0.1-1.2h0m-0.2-0.6h0m-0.2 0.3h0m-0.1 1.8h0m-0.1-2h0m-0.1-0.7h0m-0.7 2.7h0m-0.4-3.5h0m-1.2 0.8h0m0 1.7h0m-0.7-1.2h0m-0.3 2.3h0m-0.3-2.7h0m-0.3 0h0m-0.1 1.7h0m-0.7-2h0m-0.4 0.5h0m-0.2-0.7h0m-0.2 0.3h0m-0.1 1.9h0m-1-0.1h0m-0.5-1.2h0m-0.2-1.5h0m-0.1 2.2h0m-0.2-1h0m-0.1 0.8h0m-0.2-0.4h0m-0.3 1.9h0m-0.3-1.7h0m-0.1 1.6h0m-0.2-2.1h0m-1.8-1.1h0m-1.1 0.4h0m-0.4-0.6h0m0 0.2h0m-0.5 2.3h0m-0.1-1.4h0m-0.1 2.3h0m0-2.7h0m0 0.9h0m-0.1-1.7h0m-0.1 0.4h0m-0.8 2.1h0m-0.1-2.4h0m0 0.2h0m-0.9 1.4h0m0-1.2h0m0 0.4h0m-0.1 1.5h0m-1.9 0.3h0m-0.3-2.4h0m-0.4 2.5h0m0 0.1h0m-1.1-1.2h0m0-0.3h0m-0.4-0.1h0m-0.2-0.5h0m-0.3 2.2h0m-0.3-1.3h0m-0.2 0.6h0m-0.4 0.5h0m0-1.5h0m-0.5 1.7h0m-0.1-2.2h0m0 2.9h0m-0.2-3.5h0m0 1.5h0m-0.2 2.2h0m0-0.3h0m-0.1-0.8h0m-0.2-0.3h0m-0.2-0.7h0m0-0.1h0m-0.1 0.4h0m0 0.9h0m-0.8-0.7h0m-0.1-1.6h0m-0.1 0.1h0m0 3.1h0m-0.2-2.3h0m-0.1 1.1h0m-0.3 0.6h0m0-2.6h0m-1.7 0.3h0m-0.4 0.3h0m-0.1 2.4h0m-0.3 0.1h0m-0.2-3.7h0m-0.3 0.7h0m-0.1 2.3h0m-0.1-2.6h0m0 1.6h0m-0.1 1.2h0m-1.4-3.1h0m-0.4 1.9h0m-0.1-0.2h0m-0.8 1.5h0m-0.3-1.9h0m-0.1 1.6h0m-0.4-1.5h0m-0.7 2h0m-0.1-1.1h0m-0.2-1h0m-0.4-1.6h0m-0.3 3.7h0m-0.4-2.1h0m-0.1 1.3h0m-1.5-0.4h0m-0.3-2.4h0m0 1.4h0m-0.2 1.7h0m-0.2 0.7h0m-0.1-3.8h0m-0.1 2.3h0m-0.9 0h0m0 1h0m-0.1 0h0m-0.9-0.1h0m-0.2-1.6h0m-0.9 0.2h0m-0.2 2h0m-0.2-2.4h0m-0.4-0.9h0m-0.2 3.4h0m-0.4-3.5h0m-0.3 0.6h0m-0.4-0.3h0m-0.4 2.3h0m-0.9-1.7h0m0 1.6h0m-0.2 0h0m-0.2-1.2h0m-0.9 0.1h0m-0.9 1.6h0m0-2.7h0m-2.1-0.5h0m-0.7 0.7h0m-0.2-0.8h0m1.2 4.1h0m0.9 2.5h0m0.1-1.2h0m0.2 1.3h0m0.3-1h0m0.7 1h0m0 0.4h0m0.1-1.4h0m0.7-1.8h0m1.6 3.8h0m0.2-3.5h0m0 1.2h0m0.2 1.6h0m0.1-2.9h0m2.4 0.3h0m0.6 0.6h0m0.8 1.6h0m0.4-1.9h0m0.6 2.5h0m0.1-3.1h0m0.4 2.1h0m0.1 0h0m0.3-0.3h0m0.1-1.6h0m0.5 2.1h0m0.4-0.4h0m0.1 1.4h0m0.1-1.3h0m0.1 0h0m0.7 0.1h0m0-0.6h0m0.6-1.4h0m0 3.5h0m0.7-2h0m0 0.9h0m0.2 0.4h0m1-2.2h0m0.2 2.3h0m0.2-0.3h0m1 0h0m0.8-2.1h0m0.2 0.4h0m0.6 2h0m1.2-1.2h0m0.1-0.6h0m0.1 2.3h0m0.5-2.6h0m0 0.4h0m0.7-0.8h0m0.1 0.3h0m0.1-0.2h0m0.9 1.9h0m0 0.2h0m0.1 0.2h0m0.1-1.8h0m0.2 2.3h0m0.8-1.9h0m0.6 1.4h0m0.3 0.5h0m0-0.5h0m0.4-1.9h0m0.2 1.6h0m0.3-0.8h0m0.1 0.2h0m0.4-1.8h0m0.4 1.9h0m0.3-0.8h0m0.1-0.1h0m0.1-0.5h0m0.1-0.8h0m0.1 2.5h0m0.3-0.2h0m0.1-1.6h0m0.4-0.9h0m1.2 3.2h0m0.1-0.2h0m0-1.9h0m0.2-0.4h0m1.7 1.7h0m0.1-1.9h0m0.1 0.5h0m0.3 1.7h0m0.1 1.2h0m0.4-2.6h0m0.2-1.2h0m0.5 2h0m0.5 1.5h0m0.1-3.3h0m0.2 2.3h0m0.1-2.5h0m0.4 1.8h0m0.3 1.3h0m0.3-3h0m0.5-0.1h0m0 2.6h0m0-1.1h0m0.1 1.6h0m0.9-1.1h0m0.2-1.6h0m0.1 2.4h0m0.1-0.9h0m0-0.7h0m0.4-0.7h0m0.1 0.6h0m0 1.4h0m0.4-1.1h0m0.9 1h0m0.5-2.5h0m0.1 0.9h0m1.4 2.2h0m0.5-0.9h0m0.4-1.7h0m0.3 1.6h0m0-0.6h0m0.2 0.1h0m0.1 0.7h0m0.2 0h0m0.1-1.6h0m0.6 2.2h0m0 0.9h0m0.1-3h0m0.4 1.6h0m0.1-0.5h0m0.3-1.6h0m0.5 2.7h0m0.5-0.2h0m0.7 0.4h0m0 0.8h0m0.1-0.6h0m0.3-1h0m0.1-0.4h0m0.2 0.6h0m0-1.9h0m0.3 2.5h0m0.3-0.4h0m0-1.4h0m0.2 1.9h0m0.1 0h0m0.2-0.5h0m1.2-2.8h0m0.1 2.9h0m0.1 0.1h0m0.2 0.7h0m0-0.3h0m0.1 0h0m0.1-1.6h0m0.5-0.1h0m0.6 1.4h0m0.8-2.7h0m1.2 3.6h0m0.2-1.2h0m1-2.4h0m1 1.2h0m0.3 2.2h0m0.3-0.3h0m0.1-1.4h0m0.5 0h0m0.9-0.8h0m0.2 1.1h0m0.6 0.3h0m0.1-1.7h0m0.4 1.4h0m1.2 1.2h0m0-2.8h0m0.5 2.1h0m0 1h0m0.1-2.3h0m-0.8 6.3h0m-0.1-1.1h0m-0.6 0.1h0m-0.2 0.3h0m-0.2-0.2h0m-0.1-1.4h0m-0.1 0.4h0m-0.2-0.2h0m-0.5 1h0m0-2.5h0m-0.3 2.5h0m-0.6-0.2h0m-0.1 0.7h0m-0.5-2.7h0m-0.2 3.1h0m-0.1-0.5h0m-0.1-2.6h0m-0.1 1.6h0m-0.5-2h0m-0.1 2.3h0m-0.4 0.5h0m-0.7-1.4h0m-0.4-0.5h0m-0.9 0.8h0m-0.4 0.1h0m-1.1 0.2h0m-0.2 0.8h0m-0.3 0.7h0m-0.3-2h0m-0.4-0.4h0m-0.4-0.1h0m-0.1-0.2h0m-0.8-0.7h0m0 3.6h0m-0.2-2.7h0m-0.1 0.7h0m-0.2 0.2h0m-0.3 1.7h0m0-0.9h0m-0.8-0.5h0m-0.2-1.5h0m-0.1 0.7h0m-0.7-1.3h0m-0.2 3.1h0m-0.3-1h0m0-1.1h0m-0.1 0.4h0m-0.4 2.1h0m-0.1-0.6h0m-0.4-0.5h0m-0.1-2h0m-0.2 0.7h0m-0.1-1.3h0m-0.3 2.6h0m-0.1 0.6h0m-1.3-0.4h0m-0.1-1.8h0m0-0.1h0m-0.4 2.7h0m-0.2-2.3h0m-0.3 2.2h0m0-2.4h0m-0.4 0.6h0m-0.1 0.3h0m-0.3-0.3h0m-0.5-1h0m-1.4 1.3h0m-0.1 1.9h0m-0.1-2h0m-1.2 1.4h0m0-2h0m-0.3 1.2h0m-0.3 0.2h0m-0.2-2.7h0m0 0h0m-0.3 2.1h0m-0.4-1.4h0m-1.3 2.5h0m0-0.3h0m-0.8-2.8h0m-0.3 0h0m-0.3 2.7h0m-0.1-1.4h0m-0.7 1.3h0m-0.3-0.7h0m-0.1 1h0m-2.7-0.4h0m-0.5-1.1h0m-0.5 0.7h0m-0.3 0.7h0m-0.6-2.8h0m-0.1 2.9h0m-2-1.9h0m0 2.2h0m0-0.3h0m-0.2 0.1h0m0-1h0m-0.4-0.5h0m-0.4 1.7h0m-0.1 0.3h0m0-0.1h0m-0.4-0.3h0m-0.4-1.2h0m-0.3-2.1h0m-0.5 2.2h0m-0.4-1h0m0 2.3h0m-1.1 0.1h0m-0.1-2.3h0m-0.1-0.1h0m-0.3 2.2h0m-0.5-1h0m-0.3-1.3h0m-0.3 2.9h0m-0.5-1.7h0m-0.5-0.9h0m-0.1 1.5h0m0-1.5h0m-0.4 1.3h0m-0.1 0.9h0m-0.1-0.7h0m-0.1-2.4h0m-0.2 3.2h0m-0.1-0.8h0m-1-2.1h0m0-0.6h0m-0.2-0.2h0m-0.1 1.1h0m0 0.6h0m0 1.4h0m-0.5 0.9h0m-0.4-3.2h0m-0.3 0.3h0m-0.1 1.4h0m-0.2-2.4h0m-0.1 0.3h0m-1.1 1.2h0m-0.2-1.2h0m-0.8 2.8h0m-1.2-1.9h0m0 0.1h0m-1-0.6h0m-0.6-0.3h0m-0.2 0.4h0m0 1.3h0m-1.4-0.6h0m-0.6 0.3h0m-0.1 1h0m-1.1-0.8h0m-0.3 1h0m-0.9-2.2h0m-0.1-0.6h0m-0.3 2.9h0m-0.4 0.7h0m0-1.5h0m-1.3-1.2h0m-0.2 2.4h0m0.7 2.1h0m1.3 1.7h0m0.4-0.3h0m0.4 0.7h0m0.6-3.4h0m0 1.1h0m0.6-1h0m0.4 3.2h0m0.8-0.5h0m0 0.7h0m0.1-3.3h0m0.1 1.1h0m0.2-1h0m0.2 2.9h0m0.2-3.5h0m0.6 2.3h0m0.2 1.2h0m0.1-0.2h0m0.3-2.1h0m0.3 0.4h0m0.1 0.2h0m0.3 0.7h0m0.4-1.5h0m0.3 0.8h0m0.7 0.8h0m0.4-2.7h0m0 0.5h0m0.6 1.2h0m0.3 0.9h0m0-2.3h0m1.5 1.6h0m0.2 1.2h0m0.1-2.4h0m0.1 2.3h0m0.1-2.8h0m0.1 2.6h0m0.1-2.7h0m0.6 1.8h0m0.2 1.7h0m0.3 0.2h0m0.2-2.4h0m0.1 0.8h0m1.3-0.3h0m0-0.7h0m0.3 0.6h0m0.3-0.8h0m0.7 0.8h0m1.2-1h0m0.2 3h0m0.2-0.6h0m0-2h0m0.8 2.7h0m0.1-0.1h0m0.4-1.4h0m0.9 1h0m0.4-0.2h0m0 0h0m1.5-0.2h0m0-0.9h0m1 0.9h0m1.2-2.7h0m0.1 0.7h0m0.2 1.6h0m0 1h0m0.5-3.4h0m0.1 1.6h0m0.1 0.7h0m0.2 1.5h0m0.1-2.9h0m0 2.7h0m0.4-0.6h0m0-1.7h0m0.2-0.9h0m0.4 1.3h0m0.6-1.5h0m0.6 0.5h0m0.4 2.9h0m0.1-1.1h0m0.7-2.3h0m1 1.8h0m0.2-1.6h0m0.7 3.1h0m0.5-0.7h0m0-0.9h0m0.1-0.7h0m0.1-0.6h0m0.7-0.6h0m0.1 3.3h0m0.1-2.5h0m0.1 0.9h0m0.2 1.2h0m0.3 0.1h0m0.4-1.6h0m0.3-0.7h0m0.3-0.5h0m0.9 3.4h0m0.6-0.8h0m0.2 0.4h0m0.1 0.2h0m0.7-2h0m0.1 2.2h0m0.2-2.5h0m0.8-0.4h0m0.9-0.9h0m0 1.2h0m0.2 1.5h0m0.2-0.9h0m0.7 0.7h0m0.1 1h0m0.1-3.1h0m0 3.4h0m0.4-3.8h0m0.3 2.9h0m0.1 0.2h0m0.4-1.7h0m0.4 1.1h0m0 0.7h0m0.2-0.7h0m0.1-1.9h0m0.3 3.1h0m0.6-2.8h0m0.2 2.1h0m0 1h0m0.1-1.2h0m0.1-0.3h0m0.1-1.7h0m0.2 0.5h0m0.2 0.2h0m0.3 1.9h0m0.4-1.4h0m0.1-0.3h0m0.6 0.2h0m0.2-0.9h0m0.6 0h0m0.3 1.6h0m0.3-1.1h0m0.4 2.2h0m0.2-2.8h0m0.4 0h0m1.6 2.2h0m0-1.2h0m0.6 0.4h0m0.4 1.2h0m0.4-0.1h0m0.1-0.3h0m0.4-2.8h0m0.1-0.1h0m0.1 0.8h0m0.3 1.5h0m0.3-1.8h0m0.1 2.5h0m0.9-2.2h0m0.1 1.4h0m0.1-0.8h0m0.1 1.2h0m0.5-1.7h0m0.1 0.6h0m0 0.9h0m1.3 0.8h0m1.1-1.2h0m0 1.4h0m0.5-0.5h0m-4.3 2.3h0m0-1.3h0m-0.5 1.4h0m-0.1-0.9h0m-0.2-0.5h0m-1.7 0.5h0m-0.9 1.7h0m-0.8 0.2h0m-1.5-0.8h0m-0.2 0.5h0m-0.2 0.1h0m0-1.3h0m-0.1-0.1h0m-0.6 2.5h0m-0.1-2.1h0m-0.4 1.3h0m-0.8-0.4h0m-0.1 0.3h0m-0.1-0.3h0m-0.2-0.3h0m-0.2-1.2h0m-0.4 1.2h0m-0.1-1.1h0m-0.3-0.3h0m0 1.2h0m-0.6 1.9h0m-0.2-2.6h0m-0.9 2.4h0m-0.4-2.1h0m-0.3-0.3h0m-0.3-0.2h0m-0.3 1.1h0m-0.3-1.7h0m-0.7 3.2h0m-0.3-3h0m-0.4 3.2h0m-0.2-0.9h0m-0.1-1.7h0m-0.5 1h0m-0.5 0.4h0m0 0.2h0m-0.8 1.2h0m-0.1-2.1h0m-0.8-1.1h0m-0.3 1.3h0m-0.1 0.2h0m-0.2-0.6h0m-0.1-1.4h0m-0.2 3.4h0m-0.1-2h0m-0.2 2.3h0m-0.5-0.8h0m-0.3-0.8h0m-0.9-1h0m-0.5 1.1h0m-0.1-1.7h0m0 0.9h0m-0.5 0.2h0m-0.4 1.7h0m0-2.5h0m-0.8-0.6h0m0 3.2h0m-0.4-2.6h0m-0.4-0.8h0m-0.3 1.2h0m-0.4 2.3h0m-0.1-0.7h0m-0.5-2.8h0m-0.1 3.1h0m-1.4 0.7h0m-0.1-1.1h0m-0.1 1.1h0m-0.3-2.9h0m-0.5 2.1h0m-0.7 0.8h0m-1.3-1.1h0m-0.4-0.7h0m-0.4 0.2h0m0-1.7h0m-0.1 2.1h0m-0.9 0.5h0m0-0.2h0m-0.5 0h0m0-1.1h0m-1 1h0m-0.2-2h0m-0.2-0.4h0m0 1.7h0m-1.8-0.7h0m-0.2 0.8h0m-0.1 1.1h0m-0.8-2.8h0m-1.3 0.6h0m-0.1 0h0m-0.8 0.4h0m-0.2-0.1h0m-0.3-0.3h0m-0.3-1h0m-0.1 3.1h0m0-2h0m-0.3 0.7h0m0 0h0m0-1.8h0m-0.2 2.7h0m-1.6-2.3h0m-0.4 1.3h0m-0.5 0.6h0m-0.1-2.2h0m-0.7-0.1h0m-3.2 1.3h0m-0.9-0.2h0m-0.3-0.4h0m-0.2-0.2h0m-1.4-0.4h0m10.5 4.3h0m0.2-0.3h0m3.2 0.4h0m0.1-0.6h0m2.8 0.1h0m1.8 0.2h0m2.5 0.5h0m1.3-0.7h0m1.3-0.1h0m0.1 0.5h0m2.7-0.3h0m3.4 0h0m1.5-0.2h0m2.4 0.7h0m3.2-0.6h0m0.6-0.1h0" stroke="#aaaaaa" stroke-width="3.2" stroke-linecap="round" fill="none"/>
<path d="M322.4 551.2h0m8.8 2.4h0m-3.7 30.6h0m4.7 10.6h0m-10.8 1.7h0m0 4.9h0m-14.3 7.4h0m24.1 4.9h0m-5-0.2h0m-3.3 0.6h0m-6.2-0.4h0m-21.4 4.5h0m17.2-0.5h0m7.6 0.6h0m2.8-0.7h0m0.7 1h0m0.4-1.9h0m1.6 0.2h0m7.8 6.4h0m-1.1 0.7h0m-1.7-3.1h0m-3.8 0.3h0m-0.5 2.1h0m-2.8-2.1h0m-1.9-1.1h0m-1.8 2.3h0m-2.5 1.3h0m0-2h0m-2.4 1.3h0m4.2 2.7h0m10.9 2.2h0m1.2-2.1h0m0.4 3.3h0m-1.6 2.4h0m-4.2-1.8h0m-29.8 3.2h0m5.7 0h0m15.9 0.8h0m0.1 0.6h0m1.3-1.8h0m0.8 1.8h0m2.7 0.8h0m5 0h0m3.2 1.6h0m-1.4 1.5h0m-4-0.4h0m-9.4 4.9h0m2-1h0m2.5 0.9h0m5.9-1.4h0m5.7 0.8h0m0 1.2h0m1.4-1.4h0m0.2 2.5h0m-0.5 3.5h0m-9.3 0.1h0m-1-3.6h0m-0.9 0.9h0m8.6 5.5h0" stroke="#008c00" stroke-width="3.2" stroke-linecap="round" fill="none"/>
<path d="M401.9 557.1h0m-0.5 6.4h0m12.3 25.2h0m-12.3 0.5h0m-4.4 6.9h0m16.7 19.7h0m-11.8-1.3h0m8.6 2.5h0m1.8 3.7h0m-15.8 2h0m36.2 4.7h0m-30.3 3.2h0m-3.5-0.5h0m-1.4-2h0m-1.8 7.4h0m3.7-1.2h0m3 2.4h0m-7.9 2.5h0m0 3.7h0m3-2h0m3.2 1.5h0m13.5 0h0m-3.7 2.5h0m-14 1h0" stroke="#ff1400" stroke-width="3.2" stroke-linecap="round" fill="none"/>
<text x="309.1" y="546.5" font-size="8.4" fill="#111" stroke="#111" stroke-width="0.22" textLength="22.6" lengthAdjust="spacingAndGlyphs">TNNT3</text>
<text x="295.3" y="564.3" font-size="8.4" fill="#111" stroke="#111" stroke-width="0.22" textLength="16.7" lengthAdjust="spacingAndGlyphs">GYS1</text>
<text x="286.9" y="579.8" font-size="8.4" fill="#111" stroke="#111" stroke-width="0.22" textLength="20.2" lengthAdjust="spacingAndGlyphs">MYH3</text>
<text x="286.2" y="607.5" font-size="8.4" fill="#111" stroke="#111" stroke-width="0.22" textLength="22.9" lengthAdjust="spacingAndGlyphs">MYL6B</text>
<text x="284.4" y="629.7" font-size="8.4" fill="#111" stroke="#111" stroke-width="0.22" textLength="20.7" lengthAdjust="spacingAndGlyphs">TNNI1</text>
<text x="301.7" y="646.2" font-size="8.4" fill="#111" stroke="#111" stroke-width="0.22" textLength="17.7" lengthAdjust="spacingAndGlyphs">MYL4</text>
<text x="284.8" y="654" font-size="8.4" fill="#111" stroke="#111" stroke-width="0.22" textLength="22" lengthAdjust="spacingAndGlyphs">TNNT1</text>
<text x="396.5" y="532.2" font-size="8.4" fill="#111" stroke="#111" stroke-width="0.22" textLength="20.7" lengthAdjust="spacingAndGlyphs">KCNJ2</text>
<text x="421.1" y="558.3" font-size="8.4" fill="#111" stroke="#111" stroke-width="0.22" textLength="19" lengthAdjust="spacingAndGlyphs">COG5</text>
<text x="420.4" y="573.1" font-size="8.4" fill="#111" stroke="#111" stroke-width="0.22" textLength="24.6" lengthAdjust="spacingAndGlyphs">GREM1</text>
<text x="414.7" y="606.1" font-size="8.4" fill="#111" stroke="#111" stroke-width="0.22" textLength="16.8" lengthAdjust="spacingAndGlyphs">SDF1</text>
<text x="429" y="615.5" font-size="8.4" fill="#111" stroke="#111" stroke-width="0.22" textLength="26.6" lengthAdjust="spacingAndGlyphs">COMD4</text>
<path d="M317.4 548.7L325.5 611.4" stroke="#111" stroke-width="1.1"/>
<path d="M326.3 617.7L322.5 611.7L328.5 611Z" fill="#111"/>
<path d="M305.9 564.5L322.9 617.5" stroke="#111" stroke-width="1.1"/>
<path d="M324.8 623.6L320 618.4L325.7 616.6Z" fill="#111"/>
<path d="M303.4 584.9L316.2 612.4" stroke="#111" stroke-width="1.1"/>
<path d="M318.9 618.2L313.5 613.7L318.9 611.1Z" fill="#111"/>
<path d="M298.5 610.8L310.7 620.3" stroke="#111" stroke-width="1.1"/>
<path d="M315.7 624.3L308.8 622.7L312.5 618Z" fill="#111"/>
<path d="M305.9 626.8L311.9 625.9" stroke="#111" stroke-width="1.1"/>
<path d="M318.2 625L312.3 628.9L311.4 623Z" fill="#111"/>
<path d="M309.6 639.1L319.4 630.9" stroke="#111" stroke-width="1.1"/>
<path d="M324.3 626.8L321.3 633.2L317.5 628.6Z" fill="#111"/>
<path d="M296 645.7L297.5 642.4" stroke="#111" stroke-width="1.1"/>
<path d="M300.2 636.6L300.2 643.7L294.8 641.2Z" fill="#111"/>
<path d="M405.6 533.2L403.9 547.8" stroke="#111" stroke-width="1.1"/>
<path d="M403.1 554.2L400.9 547.5L406.8 548.2Z" fill="#111"/>
<path d="M420.4 556.6L412.3 559.7" stroke="#111" stroke-width="1.1"/>
<path d="M406.3 562L411.2 556.9L413.3 562.5Z" fill="#111"/>
<path d="M426.1 574.4L421.2 580.7" stroke="#111" stroke-width="1.1"/>
<path d="M417.2 585.7L418.8 578.8L423.5 582.5Z" fill="#111"/>
<path d="M421.1 607.9L420 609.8" stroke="#111" stroke-width="1.1"/>
<path d="M416.7 615.3L417.4 608.3L422.5 611.3Z" fill="#111"/>
<path d="M438.4 616.3L437.4 617.6" stroke="#111" stroke-width="1.1"/>
<path d="M433.5 622.7L435 615.8L439.8 619.4Z" fill="#111"/>
<g stroke="#000" stroke-width="1.75" fill="none">
<path d="M506.8 491.6V657.6H669.5"/>
<path d="M506.8 657.6h-5.2M506.8 635.5h-5.2M506.8 613.3h-5.2M506.8 591.2h-5.2M506.8 569h-5.2M506.8 546.9h-5.2M506.8 524.8h-5.2M506.8 502.6h-5.2M506.8 657.6v5.6M547.5 657.6v5.6M588.1 657.6v5.6M628.9 657.6v5.6M669.5 657.6v5.6"/>
</g>
<text x="499.8" y="661.4" font-size="10.5" font-weight="bold" text-anchor="end">0</text>
<text x="499.8" y="639.3" font-size="10.5" font-weight="bold" text-anchor="end">2</text>
<text x="499.8" y="617.1" font-size="10.5" font-weight="bold" text-anchor="end">4</text>
<text x="499.8" y="595" font-size="10.5" font-weight="bold" text-anchor="end">6</text>
<text x="499.8" y="572.8" font-size="10.5" font-weight="bold" text-anchor="end">8</text>
<text x="499.8" y="550.7" font-size="10.5" font-weight="bold" text-anchor="end">10</text>
<text x="499.8" y="528.6" font-size="10.5" font-weight="bold" text-anchor="end">12</text>
<text x="499.8" y="506.4" font-size="10.5" font-weight="bold" text-anchor="end">14</text>
<text x="506.4" y="674.4" font-size="10.5" font-weight="bold" text-anchor="middle">-4</text>
<text x="547.2" y="674.4" font-size="10.5" font-weight="bold" text-anchor="middle">-2</text>
<text x="588.1" y="674.4" font-size="10.5" font-weight="bold" text-anchor="middle">0</text>
<text x="628.9" y="674.4" font-size="10.5" font-weight="bold" text-anchor="middle">2</text>
<text x="669.5" y="674.4" font-size="10.5" font-weight="bold" text-anchor="middle">4</text>
<text x="588.4" y="687.4" font-size="10.4" font-weight="bold" text-anchor="middle">Log2FC</text>
<text transform="translate(483.1,574.6) rotate(-90)" font-size="10.5" font-weight="bold" text-anchor="middle">-log2 Pvalue</text>
<text x="592.1" y="483" font-size="15" font-weight="bold" text-anchor="middle">Day 6</text>
<path d="M608.9 526.9h0m-25.7 8h0m9.5 3.9h0m5 0.6h0m0.3-2.9h0m9.8-0.2h0m9.2 5.8h0m-12.9-1h0m-1.7 1.3h0m0-0.5h0m-26.4-1.2h0m-2.5 4.8h0m40 0.9h0m-16.8 4.3h0m-4.1-1.9h0m-0.8 2.4h0m-0.5-2.1h0m-12.1 6.7h0m2.6-0.3h0m10.6 2.9h0m-6.8 3.9h0m8.8 0.9h0m1.7-3h0m11.9 2.3h0m-1 3h0m-4.3 2.3h0m-0.8-3.8h0m-1.3 0.3h0m-1.8 0.3h0m-2.6 3.2h0m-18.8-0.6h0m-2.9 3.9h0m0.5-0.4h0m3.3-1.3h0m0.4 0.4h0m2.7-1.6h0m0.6 2.8h0m13.6-0.4h0m1-1.7h0m2.2-0.3h0m0.1 1.3h0m1.1-1.7h0m0.1 3.6h0m0.8-3h0m1.8 0.6h0m0.7 5.2h0m-0.6-0.5h0m-1.2 0.9h0m-3.3-3h0m0 1.8h0m0 1.8h0m-0.9 0h0m-0.5-1.1h0m-1.3-2.3h0m-2.4 1.8h0m-0.3 1.9h0m-10.1-2.9h0m-0.1 2.4h0m0-0.2h0m-1.6-0.4h0m0-1.7h0m-3.6-0.9h0m-1.7 1.3h0m-3.5 6.1h0m1.5-1h0m0.5 0.8h0m4.3-2.3h0m0.8 1.1h0m0.1 1.2h0m0.5-0.3h0m2.4 0.9h0m0.4-3.5h0m0.5 0.7h0m0.4 0h0m0.6 1.4h0m9 0.2h0m2.4-1.2h0m0 1.8h0m1.8-2.7h0m0.6 0.2h0m0.3-0.4h0m1.9 1.8h0m1.7-1.1h0m0.5 0.4h0m4.7 1h0m-2.3 1.6h0m-0.5 1.2h0m-0.1-0.5h0m-3 2.3h0m-0.3 0.1h0m-1.6-2.7h0m-0.8 1h0m-0.7-0.3h0m-1.1-0.5h0m-1.2 0h0m-2.1 2.8h0m-0.9-0.1h0m-0.2-0.2h0m-8.3-0.8h0m-2.1-1.5h0m-0.5 0.7h0m-1.4 2.3h0m-0.1-3.9h0m-0.8 2.9h0m-0.8-0.9h0m0-1.7h0m-0.2 3.1h0m-2 0.1h0m-5.3-1.8h0m1.5 4h0m1.1 1.4h0m0.2-1.7h0m2.1 2h0m1-1.4h0m0.4 0.1h0m0.4-1.3h0m0.3 0h0m1.8 2.1h0m0.7 0.5h0m0.1-1.2h0m0.3 0.4h0m0.4 1h0m0.6-1.4h0m1-1.6h0m0.5 0.5h0m0.5 2.3h0m1-1.6h0m0.2 1.2h0m0 0.2h0m7.1 0.6h0m0.5-3.2h0m0.3-0.4h0m2.1 3.4h0m0.1-1.2h0m0.8 0.5h0m0.3-1h0m0.7 1.4h0m0.1-0.4h0m2.1 0.8h0m0.7-3.4h0m0.2 3.4h0m0.2-2.1h0m0.6-0.9h0m0.2 0.6h0m1.3 2h0m0.4-0.2h0m0.1-2.7h0m1.4 0.7h0m0.4 1.9h0m0.1 0.2h0m2.2 3.2h0m-0.5 0.9h0m-1.7-1.6h0m-2.7-1.5h0m0 1.3h0m-0.5-0.6h0m-0.2 1.3h0m-1.1 0.2h0m-0.5 0.9h0m-1.2-0.3h0m-0.2-0.1h0m-0.5-0.1h0m-0.5-0.3h0m0 1.4h0m-0.5-1.8h0m-0.7 1.3h0m-0.6-3.2h0m-1.6 0h0m-1.1 2.7h0m-1.5 0.2h0m-7.2-0.3h0m-0.1 1.1h0m-0.7-3.8h0m-1.4 2.5h0m-0.6 0.9h0m-0.5-0.5h0m-0.4-2.5h0m-6 2.6h0m0-3h0m-0.2 2.8h0m-0.4-1.3h0m-0.1 1h0m-0.7-1.5h0m-0.4-1.1h0m-0.6 0.6h0m-0.8 1.1h0m-0.5 0.8h0m-4.9-2.1h0m3.2 4h0m1.3 3h0m0.7-0.6h0m0-0.5h0m1.4 1.3h0m0.2-2.9h0m0.6-0.7h0m0 0.2h0m1.3 2.2h0m0.1-1.2h0m1.4-0.9h0m0.5 0.4h0m1.7 1.5h0m1.6-1.4h0m0.4 0.2h0m0.1 1.9h0m1-2.6h0m0.2 0.7h0m0.2-0.3h0m0.4 2.7h0m0.2-2.5h0m2.6 2.7h0m0.3 0.1h0m0.3-0.3h0m0.2-1h0m4.8 1.1h0m0.5-0.9h0m0.4-0.6h0m0.1-1.8h0m0.1 2.6h0m0.7-1.2h0m0-0.4h0m0 1.5h0m0.2-0.1h0m0.7-0.5h0m0.7 1.7h0m0.7-3.3h0m0.4-0.2h0m0.5 3.2h0m0.1-2.6h0m0.4-0.1h0m0.5 0.6h0m0 0.8h0m0.8-2.2h0m0 3.1h0m0.2-2.7h0m0.5 2.4h0m0.3-1.9h0m0.2 1.3h0m0.3-1.4h0m0.1 0.5h0m0.1 1.4h0m0.3-1.9h0m0.1-0.1h0m0.2 0h0m0.3 2.9h0m0.4-3.6h0m0.8 1h0m0.1 1.7h0m0.9-0.6h0m0.8-1.7h0m0.1 1.1h0m0.7 2.3h0m0-0.3h0m0.7-0.8h0m1.3-2.6h0m0.4 2.9h0m3.8-1.3h0m-0.4 4.9h0m-4.1-1.1h0m-0.4-1h0m-0.3 2.3h0m-0.2-0.4h0m-0.1 0.2h0m-2.1 0.9h0m0-0.1h0m0-1.1h0m-0.1-1.9h0m0 1.6h0m-0.8 1.3h0m-1.1-1.3h0m-1.2-1.7h0m-0.2-0.2h0m-0.3 0.8h0m0 2.2h0m-0.3 0.3h0m-0.2-1.4h0m-0.2 0.8h0m-0.4-2.9h0m0 3.6h0m-0.3-0.5h0m-0.2 0.8h0m-0.9-2.8h0m-0.7 2.6h0m-1.6-3.3h0m-0.1 0.2h0m-0.8 2.2h0m-0.4-1.4h0m-1.9 1.8h0m-0.3-1.9h0m0 1.8h0m-6 0.6h0m-0.2-0.9h0m-0.4 0.7h0m-0.1-3.1h0m0 1.4h0m-1-1.2h0m-0.3 1h0m-0.5 0.6h0m-0.6 0.4h0m-0.6-0.6h0m-0.7 1.4h0m-0.6-2.5h0m-0.2 0.7h0m-0.1-0.3h0m-0.5 1.8h0m-0.3-0.3h0m-0.3-0.1h0m-0.3-0.5h0m0-0.4h0m-0.1 0.6h0m0-0.1h0m-0.4 0.1h0m-1.1 0.3h0m-0.1-0.3h0m-0.9-0.2h0m-0.6 0.5h0m-0.5-0.3h0m-0.3 0h0m0 1.1h0m-0.1-1.7h0m0 0.8h0m-0.7 1.2h0m-0.9-2.2h0m-0.1 0h0m-0.3-0.7h0m-0.2-0.2h0m-0.2 1.8h0m0 0.5h0m0-1.4h0m-0.8 1.3h0m-6.5-0.2h0m-0.8 3.7h0m3-1.4h0m1.6-0.5h0m0.3 1h0m0.5 0.6h0m0.2 1h0m0.3 0.7h0m0.4-1.3h0m1.8-0.8h0m0.6 0.8h0m1.1 0.4h0m0.3 0h0m0.3 0.4h0m0.3-2.8h0m0.7 1.4h0m0.1 0.1h0m0.1-1.3h0m1.4 2.4h0m0.1-0.8h0m0.5-0.5h0m0.1-0.5h0m0.2 0h0m0.2 2.4h0m0.3-0.2h0m0.7-0.6h0m1.7-1.7h0m0.1 0.8h0m0.2-1h0m0.5 1.4h0m0.5 0.6h0m0.9 0.6h0m0.4-1h0m0.5-1h0m0.3-0.4h0m1 1.3h0m0.4-1.8h0m0 1.7h0m1-0.7h0m4.7-1.6h0m0.2 2.1h0m0.7 0.1h0m0.1-0.2h0m2.2 0.2h0m0.1 0.6h0m1.2-1h0m0.1 0.9h0m0.2-2h0m0.1-0.8h0m0.2 2h0m0.1-1.8h0m1.4 3.1h0m0.6 0.6h0m0.2-2.2h0m0.8 1.6h0m0.5-2.1h0m0-0.3h0m0.1 0.1h0m1.6-1h0m1.8 3.4h0m1.5-1.6h0m0.3 1.7h0m0.5-0.3h0m0.4 0.2h0m1.3-1.8h0m0.1 2.1h0m0.5-2.8h0m0.4 0.7h0m1.5 2.1h0m1.1 0.3h0m-1.2 2.8h0m-1.9 0.5h0m-1.5-1.8h0m-0.8 2.1h0m-0.5-3.6h0m-0.2 2.7h0m-1.9-2.1h0m-0.8 1h0m-0.4 2h0m-0.8-1.6h0m0 1.8h0m-0.2-0.9h0m-0.1-1.9h0m-1.3 1.5h0m0-0.6h0m-0.7-1.1h0m-0.2-0.8h0m-0.5 0.7h0m-0.2 2h0m-0.3 0.9h0m-0.1 0.2h0m-0.9-3.5h0m-0.3 1.4h0m-0.3 0.3h0m-0.5-0.3h0m-0.8 1.6h0m-0.6-3.3h0m-0.2 1.9h0m-0.2-0.8h0m-0.5-0.6h0m-0.1 1.2h0m0 2h0m-1.1-0.7h0m-0.1 1h0m-0.7-2.2h0m0-0.5h0m-0.2 1.7h0m0 0.3h0m-4.4 0h0m-0.2-3.2h0m-0.8 2.7h0m-0.1 0.4h0m-0.3 0.1h0m-0.9-1.4h0m0-1.8h0m-0.2 2.4h0m-0.6-1.8h0m0 2.5h0m-1.5-0.1h0m-0.4-2.5h0m-0.1 0.1h0m-0.9 1.5h0m-1.3-0.3h0m-0.5 1.3h0m-0.2 0.3h0m-0.1-2.4h0m-0.3 0.1h0m-0.3-0.9h0m-0.2 2.1h0m-0.2-2h0m-0.6 0.7h0m-0.4-0.1h0m-0.4 0.8h0m-0.1-0.5h0m-0.6-0.3h0m-0.2 2.7h0m-0.5-2.3h0m-0.1 1.6h0m0-2.9h0m-0.7 3.1h0m-0.4 0.8h0m-0.4-0.3h0m-0.1-3.4h0m-0.6 3.6h0m-0.9-1.8h0m-0.4-0.7h0m-0.5-0.8h0m-0.1 1.5h0m-0.5 1.1h0m0-1.9h0m-0.4-0.8h0m-0.4 0.6h0m-0.5-0.5h0m-0.1 0.2h0m-1.1 0.5h0m-4.8 0.9h0m2.1 4.5h0m0.6-0.3h0m0.4 0.3h0m0.5-2.4h0m1.5 2.2h0m1.7-1.5h0m0 0.5h0m2.9 0.2h0m0.6 2.1h0m0.5-2.2h0m0.3 0.4h0m1 0.3h0m0.4-1.8h0m0.1 1.6h0m0.3-1.2h0m0.7 0h0m0 0h0m0.6 1.1h0m0-1.3h0m0.8 2.1h0m0.2 0h0m0.4 0.3h0m0.2 0.4h0m0.5-2.4h0m0.9 2.2h0m0.1-0.3h0m0.1-1.2h0m0.2 1.4h0m0.1 0.4h0m0.4-0.7h0m0 0.6h0m0.2 0.2h0m0.2-3.5h0m0.7 1.1h0m0 1.5h0m0.7-1.7h0m0.2-0.9h0m0 1.5h0m0.3 2h0m0.2-2.1h0m0.3 0.6h0m0.2 0.4h0m1.4-0.8h0m0.2 2h0m1.1-2.7h0m0.2 1.4h0m0.2 1.1h0m4.1-0.6h0m0.4-2.6h0m0 2h0m0.3-2.1h0m0.5 2.9h0m0.1 0.5h0m0.3 0.1h0m0.2-2.6h0m0.1 1.7h0m0.2-2.5h0m0.2 2.3h0m0.7-1.8h0m0.2 1h0m0.7-0.1h0m0.8 0.6h0m0.1-1.7h0m0.7 2.3h0m0.4-2.7h0m0.1 1.2h0m1.3 0.4h0m0.1-1h0m0.3 0.1h0m1 0h0m0.5 2.9h0m1.7-2.1h0m1.4 1.3h0m0.9-2.2h0m0.1-0.1h0m0.2-0.3h0m0.1 1.8h0m0.2 1.6h0m4-2.9h0m0.9 1.8h0m0.1 3.9h0m-0.3-2h0m-2.7 0.8h0m-0.1-0.1h0m-0.6-0.9h0m-0.3 0.4h0m-0.1-0.9h0m-1.2 2.4h0m-0.2 0.1h0m-0.2-0.7h0m-1.5 1.5h0m-0.1 0.6h0m-0.1-2h0m-0.2 0.5h0m-0.1 0.8h0m-1.1-1.2h0m-0.2 1.3h0m-0.4-0.8h0m0 0.8h0m-0.2-1h0m-0.3-0.6h0m-0.1-0.3h0m-0.2 0h0m-0.4 2h0m-0.2-1.4h0m-1.3-0.3h0m-0.9 0.2h0m-0.2 1.7h0m-0.3-2.9h0m-0.7 0.9h0m-0.5 1.4h0m-0.3 0.7h0m-0.6-3h0m-0.1 1.9h0m-0.2-1h0m-0.6-1.4h0m-0.4 2.2h0m-0.2-1.7h0m-0.3 2.4h0m-0.1-1.5h0m-0.2-0.6h0m-0.4 1.3h0m-0.2-1.9h0m-0.1 1.5h0m-0.2 0.3h0m-0.4 0.3h0m-0.1 1.3h0m-3.3-1.6h0m-0.2 1.7h0m-1.5-2.3h0m-0.4 0.9h0m-0.1 1.3h0m0-2.5h0m-0.3-0.4h0m-0.2 0.8h0m-0.1 1.1h0m-2.3 1.2h0m-0.8-3.6h0m0 1h0m-0.5-0.4h0m0 1.1h0m-0.8-1.9h0m-0.3 3.1h0m-0.1-3.1h0m-0.1 0.5h0m-0.2 2.6h0m0-1.1h0m-0.2-0.2h0m-0.7 0.6h0m-0.6 1.3h0m-0.3-3.4h0m-0.2 3.4h0m-0.9-3.1h0m-0.4 0.9h0m-0.1-1.5h0m-0.1 1.9h0m0 1.8h0m-0.1-1.6h0m0-0.5h0m-0.5 0.3h0m-0.2-1.4h0m-0.2-0.4h0m-0.7 0.1h0m-0.1-0.1h0m-0.8 3.5h0m-0.6-0.9h0m-0.3-2.3h0m-0.2 1.1h0m-0.4-1.7h0m-1.5 1.6h0m-0.2 1.6h0m0-0.3h0m-0.8 0.4h0m-1.1-1.6h0m-1 2h0m-0.4-2.2h0m-0.2 0.6h0m-0.3-0.9h0m0 2.5h0m0 0.1h0m-0.2-2.7h0m-0.7 0.6h0m-1.8 3.5h0m1-0.1h0m0.5 0.8h0m1.7-1.8h0m0.1 1.5h0m0.3 2.4h0m0.7-0.1h0m0.5-2.9h0m0.1-0.9h0m1.4 1.6h0m0.2 1.8h0m0.8-0.7h0m0-2.8h0m0.9 2.9h0m0.1-0.6h0m0.3 0.9h0m0.2-1.2h0m0.2 0h0m0-1.3h0m1.7 0.4h0m1.2-0.5h0m0.4-0.2h0m0.3 3.2h0m0.7-0.8h0m0.9-1.7h0m0.3 0.4h0m0.3-0.9h0m0 3.3h0m0-1.9h0m0.4 0.9h0m0.4-1.7h0m0 0.4h0m0.1 1.3h0m0.4-2.5h0m0.3 1.4h0m0-1.6h0m0.4 1.7h0m0.2 0.6h0m0.3-0.8h0m0.5-1.1h0m1.3 1.1h0m0.3 1.7h0m0.7-2.4h0m0.2 0.3h0m0.6 0.8h0m0.2-0.5h0m1.1 1.7h0m0.1-0.6h0m0.1 0.4h0m1.3-0.4h0m0.1 0.2h0m0-1.9h0m3.4 0.6h0m0.7 1.2h0m1.4 0.6h0m0.1-1.3h0m0.1-1.5h0m2 1.1h0m0.3-0.2h0m0.9-0.7h0m0 1.9h0m0.4 0.8h0m0.4-1h0m0.1 1.1h0m0.1-3.1h0m1.1 3.3h0m0-1.9h0m0.3 1.9h0m0.1-1.1h0m0.2-1.8h0m0 1.8h0m0.7-2h0m0.6 1.5h0m0.6 1.7h0m0.4-2.4h0m0 2.1h0m0.5-2.9h0m0.2 2.2h0m1-1.2h0m0.2-0.1h0m0.1-1.4h0m0.8 0.9h0m0.2 2.5h0m0.4-0.6h0m0-0.1h0m0.4-1h0m0.3-0.8h0m0.4 1.2h0m1.3 1.4h0m0-2.9h0m0.2-0.1h0m0.5 1h0m0.1 1.1h0m1-1.3h0m2.3-0.9h0m0 3.2h0m1.5 4.1h0m-0.1-3.2h0m-1 1.7h0m-1.2 1.2h0m-0.4-3h0m-0.4 0.4h0m-1.2 1.1h0m-0.1 0.4h0m-0.6-1.6h0m-0.4 1.8h0m-0.5-1.8h0m-0.7 2.7h0m-0.2-3.1h0m-0.1 0.2h0m-0.8 0.8h0m-1.1-0.5h0m-0.5 0.4h0m-0.6 1.1h0m-0.2-2.5h0m-1.4 2.3h0m-0.5-1.8h0m-0.6 0.6h0m-0.8 2.5h0m0 0h0m-0.4-1.8h0m-0.6 1.9h0m0-0.3h0m-0.1-2.5h0m-0.5-0.5h0m-0.1 3.4h0m-0.2-0.5h0m0-1.9h0m-0.2 0.6h0m-0.1-1.5h0m-0.7 1.6h0m-0.1-1h0m-0.1 1h0m-0.7-2h0m-1.2 0.5h0m-0.7 2.7h0m-0.1-1h0m-1.8 1.1h0m-0.4-1.2h0m-0.4-2h0m-3.5 0.6h0m-0.5-0.1h0m-0.7-0.5h0m-0.4 3.3h0m-0.5-2.2h0m0 2.6h0m-0.4-2.9h0m-0.6-0.1h0m-0.6 0.1h0m-0.8-0.8h0m-0.3 0.5h0m-1.3 0.3h0m-0.6-0.1h0m-0.4 2.8h0m-0.3-1.6h0m-0.7 1.9h0m-1.2-1.5h0m-0.6-2.1h0m-0.4 0.3h0m-2 0.9h0m-0.1 1.6h0m0-0.9h0m-0.1-2h0m-0.6 1.9h0m-0.1-1.2h0m-0.1 1.8h0m-0.2-1.8h0m-0.3 0.1h0m0-0.8h0m-0.8 1.9h0m-2.5-1.6h0m-0.8 3.3h0m-1.1-3.3h0m-0.1 2.6h0m-0.8 0.6h0m-0.2-2.6h0m-0.1 0.6h0m-2.2 2h0m-0.6-0.9h0m-0.3 1h0m-0.8-0.9h0m-0.1 0h0m-0.2-1.2h0m-1.2 1.2h0m-0.7 2.5h0m0 0.7h0m0.6-0.5h0m1.1 2h0m0-3.4h0m2.2 0.2h0m0.4 0.4h0m0.1 1.2h0m0.1-1.4h0m0.4 0.2h0m0.6 2.6h0m0.5-1.1h0m0.2 0.1h0m0.4 1.4h0m0.9-0.2h0m0.5-1.1h0m0.3-0.5h0m0.1-1.2h0m0.1 2.1h0m0.1-0.7h0m0.2 1.6h0m0.3-0.6h0m0.2-0.2h0m0.1 0.2h0m0.1-2.5h0m0.2 2.7h0m0.6-1.9h0m0.1 1.1h0m0.2-0.4h0m0.4-0.2h0m0.2 1.4h0m0.2-1.3h0m0 1.5h0m0.1 0.2h0m1.1-0.1h0m0.5-0.1h0m0-1.6h0m1.3-0.2h0m0.9 1.9h0m0-0.9h0m0 0.9h0m0.2-1.2h0m0.8 0.1h0m0.1-0.4h0m0.9 0.9h0m0.9-1.5h0m0.1 1h0m0.5-1.4h0m0.5-1.1h0m0.9 1.6h0m0.2-1.8h0m0.2 2.4h0m0.7 0.2h0m0-0.9h0m0.1 1.9h0m0.1-3.5h0m0.4 1.8h0m0.1 1.4h0m0.1-2.7h0m0.4 2.1h0m0.4 0.7h0m0.4 0.2h0m0.1 0h0m0.4-3.5h0m0 1.7h0m1.1-1.6h0m0.1 1.5h0m0 1.8h0m0.4-1.3h0m0.4 0.1h0m0.5 1.2h0m0.4-2.5h0m2.5 0.8h0m0.7 2.2h0m0.3-0.9h0m0.3-3.1h0m1.2 1.5h0m1-1.5h0m0 3.2h0m0.4-0.9h0m0-1.8h0m0.4 0h0m0 2.1h0m0.1-0.9h0m2-1h0m0.4 1.4h0m0.2-2.1h0m0.4 2.6h0m0.4-0.5h0m0.5 1.6h0m0.3-1.4h0m0-1h0m0.4-0.1h0m0.2-0.7h0m0.3 1.3h0m0.3 0.2h0m0.5-1.6h0m0.8 1.4h0m0.2 0.4h0m0.3 0.7h0m1.1 1h0m0.3-1.2h0m0.2 1h0m0.9 0.2h0m0.1-2h0m0.8 1.2h0m0-0.9h0m0.8 1.7h0m0.3-0.2h0m0.6-3.3h0m2 1.3h0m0.2-0.9h0m0.6 2.7h0m0.5-1.8h0m0.1 1h0m0.7 1.3h0m0-3.9h0m1.1 2.7h0m0-2.8h0m0.5 2.2h0m1.2 0.6h0m1.1 5.1h0m-1.5-2.7h0m-2.5 2.2h0m-0.8-1.9h0m-1.7 0.6h0m0-0.7h0m-1.1 0.7h0m-1.1 1.2h0m-0.3-0.4h0m-0.4-1.2h0m-0.8 0.6h0m-0.5-2.2h0m-0.5 0h0m-0.2 3.3h0m-0.3 0.4h0m-0.3-1.1h0m-1-1.8h0m-0.2 3.1h0m0-3.8h0m-0.2-0.1h0m-0.1 2.1h0m-0.6 0.8h0m-0.1-1.6h0m-0.4 0.4h0m0 2.1h0m-0.3-3.3h0m-0.1 2.6h0m-0.1-1.3h0m-0.2 0.1h0m-0.1-0.1h0m-0.1 0.9h0m-0.1 0.1h0m-0.4-0.9h0m-0.1 0.6h0m-0.4-1.4h0m-0.2 0.5h0m-0.1 0h0m-0.3-0.3h0m-0.6-1.2h0m0 1.7h0m-0.3 0.3h0m-0.3 1.1h0m-0.1-0.7h0m-0.1-1.2h0m-0.2 2h0m-0.2-2.9h0m0 3.1h0m-0.7-3h0m-0.9 3.2h0m-0.1-2.2h0m-0.6-1.3h0m0 0.9h0m-0.7 0.2h0m-1.2 2.5h0m-0.4-3h0m-0.5 0.9h0m-0.9 0.7h0m-2.1 0.5h0m-0.1-2h0m-0.7 2.6h0m-0.6-2.9h0m0 1.7h0m-0.1 1.5h0m-0.3-0.5h0m-0.2-0.8h0m-0.3-2.5h0m-0.1 2.6h0m-0.1-0.5h0m-0.1 1.5h0m-0.3-2h0m-1.1 0.5h0m-0.1 0.8h0m-0.8-2.5h0m-0.3 0.3h0m-0.4 2.9h0m-0.1-2h0m-0.2-0.6h0m-0.3-0.2h0m-0.6 2.1h0m-0.8-0.4h0m-0.1-1.4h0m-0.2 2.6h0m-0.8-0.4h0m0-1.7h0m-0.5-0.5h0m-0.4 0.1h0m-0.1-0.3h0m0 2.9h0m-0.2-0.9h0m-0.7-0.6h0m-0.3 0.2h0m0-0.6h0m-1.1 0.9h0m-0.3-2.6h0m-0.3 0.4h0m-0.1 1.5h0m-0.4-2h0m0 0.2h0m-0.1 0.7h0m-1.8 0.2h0m-0.1-0.4h0m0 2h0m-0.2 0.5h0m-0.3-1h0m-0.3 1.4h0m0-0.9h0m-0.2-2.8h0m-0.5 3h0m-0.1-1.4h0m0-1.1h0m-0.1 3.3h0m-0.1-2.8h0m0-0.2h0m-0.2-0.8h0m-0.4 0.5h0m-1.1 1.7h0m-0.1-0.9h0m0 2h0m0-1.8h0m-0.4-1.6h0m-1.7 1.2h0m-0.6 1.1h0m-0.3 1h0m-0.6-2.9h0m-2.4 3.3h0m-2.1-2.8h0m-0.2 5.5h0m0.6-0.3h0m0.4-1.5h0m0.1 0.4h0m0.1-0.6h0m0.2-0.1h0m0.4 1h0m1 0.3h0m0.1-1.6h0m0.4 0.1h0m0.1 2.2h0m0.3 0.3h0m0.7 0.3h0m0.5-1.4h0m0.2 1.2h0m0.1-2.5h0m0.9 2.1h0m0.3-1.6h0m0.2 3h0m0.4-3.2h0m0.3 3.1h0m0.6-1h0m0.5 0.6h0m0.1 0h0m0.1-2.7h0m0.7 0.3h0m0.1 0.2h0m0.1 2.1h0m0.1-2.2h0m0.9 0.5h0m0 0.1h0m0.1 0.7h0m0.5-0.3h0m0.1-1.8h0m0.4 0.2h0m0 1.9h0m0-1.1h0m0.1 1.7h0m0.6-1.5h0m0-0.4h0m0 0.1h0m0.1 1.5h0m0.1 0.9h0m0.5-2.2h0m0.6 1.4h0m0.2-2h0m0.4 1.9h0m0.7-0.8h0m0.3-0.1h0m0.6 2.2h0m0.1-1.1h0m0-1.6h0m0.6 1.4h0m0 0.9h0m0.6-2.1h0m0.6 1.7h0m0.1-2.3h0m0 2.9h0m0.1-0.8h0m0.2 0.6h0m0.1-0.2h0m0.3 0.2h0m0.1 0.3h0m0-1.1h0m0.2-0.6h0m0-1.1h0m1.1 2.3h0m0 0.5h0m0.2-2.6h0m1.1-0.3h0m0.6 2.6h0m0 0.1h0m1.3 0h0m0.5-2.7h0m0.3 2.2h0m0-2.5h0m0.1 0.8h0m1.4 0.7h0m0.5 1.1h0m0.1-0.7h0m0.4 0.4h0m0.4-0.3h0m0.3-2.2h0m1.8 3.4h0m0.4-0.4h0m1.3-0.8h0m0.6-2h0m0.5 2.3h0m0.7-0.9h0m0.4-1.7h0m0.1 1.1h0m0.5 0.6h0m0.2 1.3h0m0.4-0.4h0m0.4-1.5h0m0.2-0.3h0m0.5 2.2h0m0.5 0.6h0m0.1-1.3h0m0.4 1.2h0m0-1.3h0m0.1 0.5h0m0.8-0.1h0m0.2-1.2h0m0.7 0.3h0m0.3 1.6h0m0.7-2.7h0m1.2-0.3h0m0.7 2.1h0m0.6-0.9h0m0.2 0.1h0m0-0.7h0m0.2 1.9h0m0.9 0.8h0m0.3-1.5h0m0 0.9h0m0.1 0.4h0m0.1-2.5h0m0.2 1h0m0.1-1.3h0m0.1 0.6h0m0.5 2.2h0m0.7-3.2h0m0 3.2h0m0.4-0.2h0m0.2-0.8h0m0.4-0.7h0m0.7-1.8h0m0.1 3.7h0m1.5-0.4h0m0.1-1.4h0m0.4-1.9h0m0.1 0.6h0m0.3 2.4h0m0.3-1.3h0m0.2 2h0m0.2-0.6h0m0.6-1.9h0m0.6 0.1h0m0.2 1h0m0.6 1.5h0m1-1.7h0m0.1 1.4h0m2-1.2h0m0.1 5h0m-0.5-0.4h0m-0.9 0.9h0m-0.2-1.2h0m-0.7 0.5h0m-0.9-2.1h0m-1.3 1.4h0m-0.2-2.1h0m-0.2 0.9h0m-0.2 2.5h0m-1.4-3.8h0m0 0.5h0m-1.6 2.8h0m-0.2 0.1h0m-0.2-1.8h0m-0.8 0.1h0m-1.8-0.5h0m-0.5 1h0m-0.3 1.1h0m-0.5-0.7h0m-0.2-0.5h0m0 0.5h0m-0.1 0.5h0m0 0.3h0m-0.2-2.5h0m-0.9 0h0m-0.1 1.6h0m0-0.8h0m-0.1 0.3h0m-0.5 1h0m-0.1-1.6h0m-0.5 0.5h0m-0.3-1h0m-0.9 2.6h0m-0.2 0.2h0m0-0.4h0m-0.3-0.3h0m-0.5-2.4h0m-0.4-0.2h0m0 2.2h0m-0.4-1.3h0m-0.2-0.6h0m-0.2 3h0m-0.2-3.2h0m0 0.3h0m-1.5 0.5h0m-0.1 2.2h0m-0.5-2.8h0m-0.3 1.2h0m-0.5-0.9h0m-0.1-0.3h0m-0.2 0.7h0m-0.2-0.8h0m0 0.9h0m-0.3 1.8h0m-0.2-1.2h0m-1.1 1.3h0m-0.6-1.8h0m-0.2-0.7h0m0 1.9h0m-0.2-0.1h0m-0.3-1.6h0m-0.1 1.8h0m-0.2 0.1h0m-0.2 0.1h0m0 0.1h0m-0.1-1.2h0m-0.1 0.5h0m-2.2-0.2h0m-0.4 1.6h0m-0.4-2.8h0m-0.3 2.9h0m-0.2-3h0m-0.4 2.6h0m-0.3-2.5h0m-0.1 0.3h0m-1.5 1.2h0m-0.1-2h0m-0.1 3h0m-0.3-3.6h0m0 2h0m-0.3-0.6h0m-0.3-0.8h0m-0.7 2.2h0m-0.1 0.3h0m-0.5-1.5h0m-0.6 0.3h0m-1.3 0.6h0m-1.7-0.6h0m-0.1-1.6h0m-0.7 0.9h0m-0.1 2.3h0m-0.6-0.9h0m-0.2-0.6h0m-0.2-1.8h0m-0.1-0.1h0m-0.3 3h0m-1-2.7h0m0 1.2h0m-0.5 0.9h0m-0.1-1.2h0m-0.3 0.4h0m-0.2 0.7h0m-0.3 0.7h0m-0.3 0.3h0m0-0.3h0m-0.2-2.3h0m-0.4 1.8h0m-0.2-0.1h0m0-1.7h0m-0.3 2.1h0m-1-1.6h0m-0.3-0.5h0m-0.7 1.7h0m-1.6-2.4h0m-0.4 2.5h0m-0.3 1h0m-0.4-0.4h0m0-2.1h0m-0.6 2.8h0m-0.8-0.5h0m-0.9 0h0m-1.1-2.4h0m-0.1-0.7h0m-0.2 2h0m-0.2 1.1h0m-0.2 0.1h0m-0.6-1.6h0m-1.3 2h0m-0.2-3h0m-1.7 1.5h0m2 3.1h0m0 0.7h0m0.3-1h0m0.3 0.2h0m0.2 1h0m0.6 1.4h0m0.6-0.8h0m0.3 0.6h0m0.8-2.1h0m0.3 1.9h0m0-1.8h0m0.7 0.1h0m0.1 0.8h0m0-1.7h0m0.6 3h0m0.1-3.7h0m0.9 3h0m0.3-2.7h0m0.8 1.6h0m0.4-0.9h0m0.6 0.1h0m0.5 2h0m1.5-0.4h0m0.6-2h0m0.4 2.4h0m0.2-1.3h0m0.4-0.3h0m0.6 0.9h0m0.7-0.3h0m0.7-0.8h0m0.3-0.4h0m0 1.8h0m0.1-0.4h0m0.3 1.5h0m0.1-3.1h0m0.1 0.9h0m0.6-0.2h0m0.3 0.6h0m0.4-0.2h0m0.1 0.8h0m0.9-1.6h0m0 1.8h0m0.4-0.7h0m1.8-2h0m0.2 0.4h0m1 0.6h0m0.1 1.7h0m0.1-1.2h0m0.1 1.5h0m0.3-1.7h0m0.1-1.3h0m0.1 0.8h0m0.3 1.9h0m0.1 0.2h0m0-2.4h0m0.1 0.3h0m0.4 2h0m0.3-1.4h0m0.4-0.7h0m1 1.6h0m0.2-1.5h0m0.1 1.3h0m0.7-1.9h0m0.2 2.8h0m0.1-1.2h0m0.3 1.6h0m0.1-0.5h0m0.2-2.7h0m0.8 3.5h0m1.7-0.7h0m0.1-1.9h0m0.5 0.5h0m0.6 0h0m0.1 1.4h0m0.1-2.8h0m0 1.5h0m0.2 0.2h0m0.5-1.3h0m0.3 0.8h0m0 0.1h0m0.6 1.4h0m1.1 0.2h0m0.1-2.8h0m0 2.9h0m0.7-0.3h0m0.2-2.5h0m0.3 0.3h0m0.1 0.4h0m1.1 1.7h0m0.5-0.6h0m0.8-2h0m0.1 0.7h0m0 1.4h0m0.1-1.5h0m0.6 0.6h0m0.4 0h0m0.3 0.1h0m1-1.5h0m0 1.9h0m0.2 0h0m0.7 0.9h0m0-0.5h0m0.1 0.4h0m0.9 0.5h0m0.1-2h0m0.8 2.2h0m1.2 0.2h0m0.8-3.3h0m0.1 3.5h0m0.1-1.9h0m0.5-2h0m0.4 1.9h0m0.8-1h0m0.2 2h0m1-2.9h0m0.6 3.5h0m0.3-3.1h0m0.4 0.7h0m0.4 0.6h0m0.3 1.4h0m0.2-2.1h0m0.7 0.1h0m0.5 0h0m0.4 0.4h0m0.4-1.5h0m0.1 0.4h0m0.1 1.2h0m0.3 1.2h0m0.1-2.8h0m0.3 1.6h0m0.3-0.3h0m0.2-0.3h0m0.1 2.1h0m2.5-2.4h0m-1.4 6h0m-0.4-0.6h0m-0.1-0.5h0m-0.2-0.8h0m-0.5 0.6h0m-0.1-0.1h0m-0.3 0.5h0m-0.7 1.6h0m-1.2-0.6h0m-1.6-2.3h0m-0.1 1.9h0m-0.3 0.2h0m0 0h0m-0.3 0.1h0m-0.1-1.8h0m-0.4 1.5h0m-0.3-0.7h0m-0.5-0.2h0m-0.1 2h0m-0.5-0.2h0m-0.5-1.7h0m-0.3 0.5h0m-0.2 0.6h0m-0.1-2.2h0m-0.9 3.2h0m-0.2-2.4h0m-0.1-0.7h0m-0.4 2.9h0m-1.6-2.2h0m0 1.4h0m-0.1 0.2h0m-0.3-1.9h0m-0.5-1h0m-0.9 1.7h0m-0.1-1.2h0m-0.3-0.3h0m-0.1 3.2h0m-0.3-2.9h0m-0.4 2.4h0m-1-1.5h0m-0.4 0.1h0m-0.2 0.3h0m-0.1 1.3h0m0-1.9h0m-0.2 1h0m-0.5-1.3h0m0 0.4h0m-1.6 2.6h0m-1.3-1.6h0m-0.1-0.2h0m-0.6-2h0m-0.4 0.2h0m-0.3 0.2h0m-0.4 0.8h0m-0.1-0.6h0m-0.4 1.9h0m0-1.5h0m-0.2 1.8h0m-0.2 0.1h0m-0.3 0.4h0m-0.3 0.3h0m-0.1-0.9h0m-1.1-1.1h0m-0.1-1.1h0m-1 2.3h0m-0.2 0h0m0-2.1h0m-0.4-0.5h0m-0.1 0h0m-0.3 0.6h0m-0.5 1.6h0m-1.2-0.1h0m-0.1-2h0m-0.1 2.8h0m-0.7-1.7h0m-0.2 0h0m-0.2-1.5h0m-0.1 2.6h0m-0.4-2.1h0m-0.2 1.9h0m-0.7-0.5h0m-0.1-1h0m-0.4 1.8h0m-0.2 0.3h0m-0.3-2.9h0m-0.1 0.4h0m-0.3 1h0m-0.6-1.5h0m-0.1 3.7h0m-0.3-0.2h0m-0.5-0.3h0m0 0.2h0m-0.3-3.4h0m0 1.4h0m-0.5 2.4h0m-0.2-2.9h0m0 1.7h0m0-0.5h0m-0.1 0h0m0 0.2h0m-0.4 0.8h0m-0.6-0.9h0m-0.3 1h0m-0.5-0.4h0m0 0.5h0m0-1.3h0m-0.4 0.2h0m-0.1 0.4h0m-0.3-0.9h0m-0.5 1.4h0m-0.6-0.8h0m0-1.5h0m-0.9 0.1h0m-1.2 1.5h0m-0.6-1.4h0m-0.4 2.6h0m-0.4-2.3h0m0 1.4h0m-0.5-0.3h0m-1.5-1.7h0m-0.4 2h0m-0.6 0h0m0-2.3h0m-0.1 2h0m-0.7 1.4h0m-0.1-3.2h0m-0.8 2.2h0m-0.3 0.8h0m-0.2-0.9h0m0 0h0m-0.1 0h0m-0.6 0h0m-0.3 0.4h0m-0.5-2.9h0m0-0.2h0m0 2.9h0m-0.1-0.2h0m0-2.1h0m-0.1 2.2h0m-0.3-0.5h0m-0.3 0.9h0m0-0.7h0m0 0.9h0m0-1.3h0m-0.1-1.9h0m-0.3 0.8h0m-0.1-0.9h0m-0.1 1.4h0m-0.2 0.5h0m-0.1 0.8h0m0-2.7h0m-0.3 2.1h0m-0.1 1.4h0m-1-3.4h0m-0.4 0.1h0m-0.4 1.8h0m0.5 2.7h0m0 1.2h0m1.2-1.9h0m0.1 3h0m0.2-0.1h0m0.7-2.9h0m0.1 3.5h0m0.2-1.9h0m0.2-0.5h0m0.1-0.7h0m0.2 1.8h0m0.2 1.1h0m0.3-0.5h0m0.2-0.8h0m0.1 0.3h0m0.1-0.1h0m0.1-0.2h0m0.5-0.4h0m0.4-1.1h0m0.3 2.9h0m0-3.1h0m0.1 3.2h0m0.2-3.5h0m0.6 1.2h0m0.7 2.5h0m0.2-3.6h0m0.3 3.3h0m0.8 0.4h0m0.1-0.4h0m0.4 0.1h0m0.2-2.9h0m0.9 2.1h0m0.4-0.2h0m0.8-1h0m0.1-1.5h0m0.7 0.9h0m0.5 2.3h0m0.1-2.2h0m1 1.5h0m0.3-1h0m0.3-0.5h0m0 2.5h0m0.7-0.2h0m0-1.6h0m0-1.5h0m0.1 0.2h0m0 3h0m0.4-2.9h0m0.4 2h0m0.3-1.1h0m0 0.3h0m0.3 0.2h0m0.7-0.4h0m0.8 0.9h0m0.3-1.7h0m0.1 2.4h0m0.3-1.9h0m0.9 0.4h0m0.1-0.8h0m0.7 0.7h0m0.1 0.6h0m0.4 1.1h0m0.5 0.5h0m0.1-0.9h0m0.7-0.4h0m0.4-1.8h0m0.2 1.6h0m0.1-1.9h0m0.2 2.3h0m0.3-1.2h0m0.3 2.3h0m0.4-2.7h0m0.6-1h0m0.1 1h0m1 0.3h0m0.2-1.2h0m0.1 0.2h0m0.3 2.5h0m0.1-1.3h0m0.1 1.6h0m0.1-1.1h0m0.2 0.9h0m0.6-0.3h0m0.6-2h0m0.1 2.8h0m0.6-1.5h0m0.2 0.1h0m0.7-1.8h0m0.4-0.3h0m0.4 0.8h0m0.1-0.6h0m0.2 1.3h0m0.3-1.5h0m0.7 2.9h0m0.2 0.4h0m0.2-1.2h0m0.1 1.2h0m0-2.1h0m0.6 1h0m0.1-0.7h0m0.8-1.2h0m0.4 1.5h0m0.1-1.5h0m0 3.5h0m0.5-2.5h0m0.1 2.3h0m1-2.7h0m0.3 2.3h0m0.8 0.6h0m0.4-3h0m0.2 0.4h0m0.1 1.4h0m0-0.4h0m0.2-0.7h0m0 0.8h0m0.4-2.2h0m0.2 0.9h0m0.7-0.8h0m0.8 0h0m0.2 2.7h0m0.2-0.9h0m0.8 0.8h0m0.7-0.4h0m0 1.1h0m0.6-0.1h0m0.8-2.8h0m0 0.5h0m0.5 0h0m0.4 1.7h0m0.4-0.2h0m0.4-1.2h0m0.6 2.3h0m1.3-0.5h0m0.5-1h0m0.1-0.6h0m0.2 1.2h0m0.2-2.9h0m0.2 1.6h0m0.6-1.2h0m0.1 3.5h0m0.6-2.5h0m0.2 1.2h0m0.5-0.2h0m0.4 0.8h0m0.5-2.3h0m0.4 1.4h0m0.3 0.8h0m0.3 0.7h0m0.2-2.3h0m0.2 0.3h0m0.2-1.2h0m0.2 1.9h0m-1.6 2.4h0m-1.3-0.4h0m-0.2 0.7h0m-2-0.1h0m-0.6 1.5h0m-0.5 0.2h0m-0.1-0.5h0m0-1.1h0m-1.2 2h0m0-2h0m-0.9 1.4h0m-0.2-1.9h0m-0.6 0.4h0m-0.3-0.3h0m0 0.9h0m-0.1 2.1h0m-0.2-2.9h0m-1 1.2h0m-0.1 0.8h0m0-0.5h0m-0.1-0.1h0m0-1.8h0m-0.5 2.4h0m0-2.1h0m-0.4 2.7h0m-0.3-0.5h0m0 0.3h0m-0.5-2.9h0m-0.2 2.7h0m-0.5-2.2h0m-0.8 1.2h0m-0.5 1.6h0m0-3.4h0m-0.7 1.9h0m-0.7-0.2h0m-0.3-1.1h0m-0.6-0.5h0m-0.2-0.1h0m-0.3 3h0m-0.4 0.6h0m-0.4-1h0m-0.1-2.3h0m-0.2-0.5h0m-0.2 2h0m-0.1-0.1h0m-0.1 0.5h0m-0.5 0.8h0m-0.4 0h0m-1.1-0.6h0m-1.1 0.2h0m-0.9-0.3h0m-1.3-2.3h0m-0.4 0.3h0m-0.4 0h0m0 2.7h0m-0.6-0.2h0m-0.5 0.6h0m-0.5-2.6h0m-1.5 2.6h0m-0.4-0.4h0m-0.2-1.5h0m-0.1 1h0m-0.1-1.7h0m-0.5 0.6h0m0 1.3h0m-0.1-2.7h0m-1.5 2.3h0m-0.2-2h0m-0.3 0.3h0m-0.3 0.9h0m-0.3-0.9h0m-0.4-0.4h0m-0.3 1.1h0m0 1.7h0m-0.7 0.3h0m0-2.6h0m-0.1 2.5h0m-0.2-1.7h0m0 1.7h0m-0.7-0.5h0m0 0.5h0m-0.3-2.2h0m-0.1 0.1h0m0-0.9h0m-0.1-0.5h0m-0.4 2h0m-0.3-1.2h0m-0.2-0.5h0m-0.8 0.8h0m-0.4-0.5h0m-0.7 1.5h0m0 1.3h0m-0.3-2.5h0m-0.7 2.7h0m-0.3-1.5h0m-0.2-2h0m-0.2 3.1h0m-0.9-1.9h0m-0.2 0.7h0m-0.1-0.8h0m-0.3 1.2h0m0-0.9h0m-1-1.3h0m0 0.9h0m-0.3 2.1h0m-0.4-0.2h0m-0.2-1.2h0m0-1.5h0m-0.7 1.1h0m-0.4-0.2h0m0-0.7h0m-1.4-0.1h0m-0.5 0.7h0m-1 0h0m-0.8 0.5h0m-0.3-0.8h0m-1 0h0m-0.6-0.7h0m-1.4 0.1h0m9.7 3.8h0m0.5 0.5h0m0.2-0.3h0m0.3 0.5h0m0.1 0h0m1.9-0.2h0m0.6 0.4h0m0.3-0.3h0m0 0.6h0m0.3 0.2h0m0-1.1h0m0.6 0.7h0m0.2 0.1h0m0.3-1.1h0m0.1 0.3h0m2.7 0.3h0m0.3 1h0m0.1-0.7h0m0.5 0.6h0m0.3-0.4h0m0.6-1h0m0 0.1h0m0.5 0.4h0m0.9 0.1h0m0.9-0.1h0m3.1 0.3h0m0.5 0.5h0m1.1 0.1h0m0-1.5h0m0.7 1.1h0m0.1-0.9h0m1.4 0.2h0m0.4 0.3h0m0.6 0h0m1 0.2h0m0.6 0.2h0m0.5 0.3h0m0.4-1h0m0.1 0.8h0m0.9-0.5h0m2.9-0.3h0m0.7 0.4h0m0.2-0.3h0m0.8 0.9h0m1.4-1.3h0m0.2 0h0" stroke="#aaaaaa" stroke-width="3.2" stroke-linecap="round" fill="none"/>
<path d="M514.8 543h0m42.3 43.6h0m-25.1 14.3h0m24.2-0.5h0m4.1 1h0m-10 5.1h0m-0.5 0.6h0m1.9 0.9h0m0.6 2.6h0m2.2 0.3h0m0.6-1.4h0m0.5 1.9h0m5.8 2h0m-2.7 0.6h0m-0.9-0.3h0m-0.1-0.9h0m-1.3 1.5h0m-1.3 1.5h0m-0.4-3.1h0m-1.1 1.6h0m-2.4-1.7h0m-24.6-0.6h0m23.2 5.7h0m2-1.3h0m2.7 2.7h0m0.2-0.3h0m0.9-2.5h0m0.3 3.1h0m2.4 0.1h0m3-3.3h0m-5.9 6.2h0m-1.4-2.1h0m-12.6-0.2h0m12.1 5.8h0m1.8-0.9h0m4.6-0.4h0m0 3.1h0m-5 2h0m-1.2-0.2h0m-2 2.2h0m-6.1-3.7h0m-5 0h0m-4.1 1.2h0m4.9 3.2h0m8.9-0.3h0m1.2 1.3h0m2.3 0.2h0m0.7-0.7h0m2.7 4.1h0m-6 0.5h0m-1.7 3.4h0m1-0.6h0m7.7 3.2h0m1.9 2.3h0m-2.2 1.9h0" stroke="#008c00" stroke-width="3.2" stroke-linecap="round" fill="none"/>
<path d="M643.5 510h0m11 31.1h0m-26.8 20.1h0m20.9 18.5h0m-26.3 8h0m11.3 13.4h0m-11.3 6.1h0m1.9 2.7h0m1.3 1.9h0m4.9 0.8h0m6.4 7.2h0m4.3 0.8h0m0 2.7h0m-12.3-0.8h0m-5.9-1.1h0m-1.4 6.5h0m7.3 0.8h0m1.6 6.1h0m4.5-0.8h0m-6.1 5.9h0m-2.7-1.9h0m-4.6-1.3h0m-1.3 4h0m2.7-0.5h0" stroke="#ff1400" stroke-width="3.2" stroke-linecap="round" fill="none"/>
<text x="518.5" y="564.2" font-size="8.4" fill="#111" stroke="#111" stroke-width="0.22" textLength="22.9" lengthAdjust="spacingAndGlyphs">TNNT3</text>
<text x="516.7" y="575.5" font-size="8.4" fill="#111" stroke="#111" stroke-width="0.22" textLength="17.8" lengthAdjust="spacingAndGlyphs">MYL4</text>
<text x="510.3" y="593.2" font-size="8.4" fill="#111" stroke="#111" stroke-width="0.22" textLength="23" lengthAdjust="spacingAndGlyphs">MYL6B</text>
<text x="510.3" y="608.5" font-size="8.4" fill="#111" stroke="#111" stroke-width="0.22" textLength="18.8" lengthAdjust="spacingAndGlyphs">MYL1</text>
<text x="511.8" y="624" font-size="8.4" fill="#111" stroke="#111" stroke-width="0.22" textLength="18.2" lengthAdjust="spacingAndGlyphs">MLRS</text>
<text x="509.2" y="640.6" font-size="8.4" fill="#111" stroke="#111" stroke-width="0.22" textLength="22" lengthAdjust="spacingAndGlyphs">TNNT1</text>
<text x="510.9" y="653.5" font-size="8.4" fill="#111" stroke="#111" stroke-width="0.22" textLength="20.1" lengthAdjust="spacingAndGlyphs">MYH3</text>
<text x="534.5" y="656" font-size="8.4" fill="#111" stroke="#111" stroke-width="0.22" textLength="20.2" lengthAdjust="spacingAndGlyphs">TNNI1</text>
<text x="650.2" y="499" font-size="8.4" fill="#111" stroke="#111" stroke-width="0.22" textLength="24.1" lengthAdjust="spacingAndGlyphs">ERMP1</text>
<text x="662.5" y="531.1" font-size="8.4" fill="#111" stroke="#111" stroke-width="0.22" textLength="21.4" lengthAdjust="spacingAndGlyphs">MTNB</text>
<text x="661.7" y="568.6" font-size="8.4" fill="#111" stroke="#111" stroke-width="0.22" textLength="14.2" lengthAdjust="spacingAndGlyphs">RIR2</text>
<text x="651.8" y="593.5" font-size="8.4" fill="#111" stroke="#111" stroke-width="0.22" textLength="17.1" lengthAdjust="spacingAndGlyphs">PAK2</text>
<text x="657.1" y="624.4" font-size="8.4" fill="#111" stroke="#111" stroke-width="0.22" textLength="24.2" lengthAdjust="spacingAndGlyphs">SCAM2</text>
<path d="M536.5 565.2L553.9 610.9" stroke="#111" stroke-width="1.1"/>
<path d="M556.2 616.9L551.1 612L556.7 609.9Z" fill="#111"/>
<path d="M533.3 576.3L551.8 612.5" stroke="#111" stroke-width="1.1"/>
<path d="M554.7 618.2L549.1 613.9L554.5 611.1Z" fill="#111"/>
<path d="M531.5 594.8L548.8 614.6" stroke="#111" stroke-width="1.1"/>
<path d="M553 619.4L546.5 616.6L551 612.6Z" fill="#111"/>
<path d="M529.1 607.1L546.3 617.7" stroke="#111" stroke-width="1.1"/>
<path d="M551.7 621.1L544.7 620.3L547.8 615.2Z" fill="#111"/>
<path d="M531.5 621.1L533 621.1" stroke="#111" stroke-width="1.1"/>
<path d="M539.4 621.1L533 624.1L533 618.1Z" fill="#111"/>
<path d="M525.1 631.7L528.7 631.1" stroke="#111" stroke-width="1.1"/>
<path d="M535 630L529.2 634L528.2 628.1Z" fill="#111"/>
<path d="M532 645.7L536.6 639.9" stroke="#111" stroke-width="1.1"/>
<path d="M540.6 634.9L539 641.8L534.3 638Z" fill="#111"/>
<path d="M551.7 650.2L553.1 636.4" stroke="#111" stroke-width="1.1"/>
<path d="M553.7 630L556.1 636.7L550.1 636.1Z" fill="#111"/>
<path d="M657.7 501.4L652.8 504.6" stroke="#111" stroke-width="1.1"/>
<path d="M647.5 508.1L651.2 502.1L654.5 507.1Z" fill="#111"/>
<path d="M667.1 533L663 535.9" stroke="#111" stroke-width="1.1"/>
<path d="M657.7 539.5L661.3 533.4L664.7 538.3Z" fill="#111"/>
<path d="M663.6 569.7L658.9 573.2" stroke="#111" stroke-width="1.1"/>
<path d="M653.7 577L657.1 570.8L660.6 575.6Z" fill="#111"/>
<path d="M651 592.5L646.2 596.1" stroke="#111" stroke-width="1.1"/>
<path d="M641.1 600L644.4 593.7L648 598.5Z" fill="#111"/>
<path d="M653.7 620.6L650.7 620.6" stroke="#111" stroke-width="1.1"/>
<path d="M644.3 620.6L650.7 617.6L650.7 623.6Z" fill="#111"/>
</svg></body></html>
